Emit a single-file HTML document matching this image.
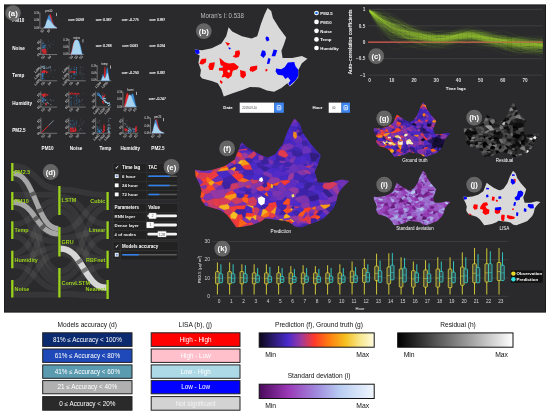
<!DOCTYPE html><html><head><meta charset="utf-8"><title>Dashboard</title><style>html,body{margin:0;padding:0;background:#fff;width:550px;height:415px;overflow:hidden;font-family:"Liberation Sans",sans-serif}.v polygon{fill:currentColor;stroke:currentColor;stroke-width:.6}</style></head><body><svg width="550" height="415" viewBox="0 0 550 415" font-family="Liberation Sans, sans-serif" style="position:absolute;left:0;top:0;opacity:0.999;will-change:transform;font-family:'Liberation Sans',sans-serif">
<defs><filter id="bl" x="-5%" y="-5%" width="110%" height="110%"><feGaussianBlur stdDeviation="0.4"/></filter></defs>
<rect x="0" y="0" width="550" height="415" fill="#fff"/>
<rect x="4" y="4.6" width="542" height="307.8" fill="#2a2a2c"/>
<rect x="4.4" y="5" width="541.2" height="307" fill="none" stroke="#1b1b1c" stroke-width="0.8"/>
<text x="12.3" y="22.2"  font-size="4.6" fill="#fff" text-anchor="start" font-weight="bold" >PM10</text>
<text x="47.6" y="150"  font-size="4.6" fill="#fff" text-anchor="middle" font-weight="bold" >PM10</text>
<text x="12.3" y="49.7"  font-size="4.6" fill="#fff" text-anchor="start" font-weight="bold" >Noise</text>
<text x="76" y="150"  font-size="4.6" fill="#fff" text-anchor="middle" font-weight="bold" >Noise</text>
<text x="12.3" y="77.2"  font-size="4.6" fill="#fff" text-anchor="start" font-weight="bold" >Temp</text>
<text x="105.4" y="150"  font-size="4.6" fill="#fff" text-anchor="middle" font-weight="bold" >Temp</text>
<text x="12.3" y="104.7"  font-size="4.6" fill="#fff" text-anchor="start" font-weight="bold" >Humidity</text>
<text x="130.3" y="150"  font-size="4.6" fill="#fff" text-anchor="middle" font-weight="bold" >Humidity</text>
<text x="12.3" y="131.7"  font-size="4.6" fill="#fff" text-anchor="start" font-weight="bold" >PM2.5</text>
<text x="158" y="150"  font-size="4.6" fill="#fff" text-anchor="middle" font-weight="bold" >PM2.5</text>
<path d="M39.9 12.6V28.2H57.2" stroke="#dcdcdc" stroke-width="0.4" fill="none"/>
<text x="48.85" y="12.4"  font-size="2.8" fill="#eee" text-anchor="middle" >pm10</text>
<text x="39.2" y="14.2"  font-size="2.7" fill="#e0e0e0" text-anchor="end" >0.1h</text>
<text x="39.2" y="21.4"  font-size="2.7" fill="#e0e0e0" text-anchor="end" >0.0h</text>
<text x="39.2" y="28.6"  font-size="2.7" fill="#e0e0e0" text-anchor="end" >0.0h</text>
<path d="M43.7 27.9 45.4 26.2 47.1 21.4 48.8 16.4 50.3 13.9 51.3 16.4 52.5 21.4 53.8 25 55.5 26.9 56.9 27.9Z" fill="#e3262b" stroke="#e3262b" stroke-width="0.3" stroke-linejoin="round"/>
<path d="M43.7 27.9 45.4 25.9 47.1 20 48.8 14.9 49.6 15.7 50.8 19.3 52.1 22.4 53.8 25.3 55.5 27 56.9 27.9Z" fill="#3b8fd6" stroke="#3b8fd6" stroke-width="0.3" stroke-linejoin="round"/>
<path d="M43.7 27.9 45.4 25.7 46.7 21.4 47.9 19.3 49.6 20.4 51.3 22.4 53 24.7 54.7 26.5 56.9 27.9Z" fill="#a8d4f0" stroke="#a8d4f0" stroke-width="0.3" stroke-linejoin="round"/>
<rect x="56" y="12.9" width="0.7" height="3.2" fill="#e0e0e0"/>
<text transform="translate(44.1,30.4) rotate(-45)"  font-size="3.1" fill="#f0f0f0" text-anchor="end">50</text>
<text transform="translate(50.6,30.4) rotate(-45)"  font-size="3.1" fill="#f0f0f0" text-anchor="end">50</text>
<text x="76.2" y="20.9"  font-size="3.3" fill="#fff" text-anchor="middle" stroke="#fff" stroke-width="0.1">corr: 0.059</text>
<text x="103.6" y="20.9"  font-size="3.3" fill="#fff" text-anchor="middle" stroke="#fff" stroke-width="0.1">corr: 0.387</text>
<text x="130.2" y="20.9"  font-size="3.3" fill="#fff" text-anchor="middle" stroke="#fff" stroke-width="0.1">corr: -0.275</text>
<text x="157.3" y="20.9"  font-size="3.3" fill="#fff" text-anchor="middle" stroke="#fff" stroke-width="0.1">corr: 0.997</text>
<path d="M40.9 38.9V54.5H57.2" stroke="#dcdcdc" stroke-width="0.4" fill="none"/>
<path d="M42.1 48.3h0.9M48.9 45.4h0.9M43 52.8h0.9M43 42.4h0.9M41.8 40.5h0.9M45.8 47.1h0.9M45 44.9h0.9M47.2 51.1h0.9M49.3 46.4h0.9M50.4 43.7h0.9M42.5 43.4h0.9M43.4 45.6h0.9M42 42.1h0.9M42.9 47h0.9M43.9 44h0.9M53.3 41.4h0.9M49.8 47.4h0.9M48 41.2h0.9M43.4 51.3h0.9M43.3 50.3h0.9M47.6 45.1h0.9M42.9 49.2h0.9M47.3 48.6h0.9M41.8 45.6h0.9M52.5 44.4h0.9" stroke="#a8d4f0" stroke-opacity="0.22499999999999998" stroke-width="0.9" fill="none"/>
<path d="M41.8 44.1h0.9M42.9 46.1h0.9M41.8 45h0.9M42.7 47.8h0.9M41.6 49.1h0.9M45.3 46.9h0.9M43.1 49.4h0.9M45.1 49.2h0.9M41.6 47.1h0.9M43.7 47.7h0.9M42.9 43.2h0.9M44.1 46.1h0.9M43 43.4h0.9M43.9 49.2h0.9M43.9 47.5h0.9M43.1 46.6h0.9M44.9 45.4h0.9M41.7 46.3h0.9M44.8 45.5h0.9M43.1 47.9h0.9M43.9 46h0.9M42 47.5h0.9M44.6 45.6h0.9M43.2 46.6h0.9M44.1 45.7h0.9M44 49.1h0.9M41.9 43.4h0.9M43.9 45.7h0.9M42.9 47.2h0.9M44 47.8h0.9" stroke="#3b8fd6" stroke-opacity="0.48750000000000004" stroke-width="0.9" fill="none"/>
<path d="M44.7 53h1.1M44.8 49.3h1.1M44.3 52.9h1.1M43.6 50.7h1.1M42.6 52h1.1M44.3 50.7h1.1M41.9 50.9h1.1M45.4 50.6h1.1M42.4 50h1.1M45.5 53.1h1.1M44.6 52.5h1.1M43.8 52.3h1.1M44.7 53.3h1.1M45.4 52.1h1.1M44.9 51h1.1M45.1 52h1.1M44.9 53.1h1.1M44 50.9h1.1M43.2 51.2h1.1M45 51.5h1.1M44.1 52.2h1.1M43.8 53.3h1.1M43.2 52.6h1.1M43.5 49.9h1.1M44.1 51.3h1.1M43.8 49.3h1.1M44.5 53.3h1.1M43.4 50.3h1.1M44.6 49.4h1.1M43.7 49.7h1.1M45 49.8h1.1M45.5 52.9h1.1M42.5 53.3h1.1M44.8 51.3h1.1M42.3 49.7h1.1M43.3 53.2h1.1M43.5 52.9h1.1M43.6 52.4h1.1M41.6 51.2h1.1M41.7 49.6h1.1" stroke="#e3262b" stroke-opacity="0.85" stroke-width="1.1" fill="none"/>
<text transform="translate(44.9,56.7) rotate(-45)"  font-size="3.1" fill="#f0f0f0" text-anchor="end">50</text>
<text transform="translate(51.4,56.7) rotate(-45)"  font-size="3.1" fill="#f0f0f0" text-anchor="end">50</text>
<text transform="translate(40.7,41.7) rotate(-45)"  font-size="3.1" fill="#f0f0f0" text-anchor="end">50</text>
<text transform="translate(40.7,47.9) rotate(-45)"  font-size="3.1" fill="#f0f0f0" text-anchor="end">50</text>
<text transform="translate(40.7,54.1) rotate(-45)"  font-size="3.1" fill="#f0f0f0" text-anchor="end">50</text>
<path d="M69.1 38.9V54.5H83.8" stroke="#dcdcdc" stroke-width="0.4" fill="none"/>
<text x="76.75" y="38.7"  font-size="2.8" fill="#eee" text-anchor="middle" >noise</text>
<text x="68.4" y="40.5"  font-size="2.7" fill="#e0e0e0" text-anchor="end" >0.1h</text>
<text x="68.4" y="47.7"  font-size="2.7" fill="#e0e0e0" text-anchor="end" >0.0h</text>
<text x="68.4" y="54.9"  font-size="2.7" fill="#e0e0e0" text-anchor="end" >0.0h</text>
<path d="M70.6 54.2 71.6 51.3 73.1 44.1 74.5 40.5 75.9 39.8 78.1 41.2 80.2 47 81.8 54.2Z" fill="#e3262b" stroke="#e3262b" stroke-width="0.3" stroke-linejoin="round"/>
<path d="M71.4 54.2 72.4 51.3 73.8 44.1 75.2 40.5 76.9 39.8 78.9 41 80.4 45.6 81.5 50.6 82.4 54.2Z" fill="#3b8fd6" stroke="#3b8fd6" stroke-width="0.3" stroke-linejoin="round"/>
<path d="M70.9 54.2 72.1 51.3 73.5 44.1 74.9 40.5 76.7 39.8 78.4 41 79.8 45.6 80.9 50.6 81.9 54.2Z" fill="#a8d4f0" stroke="#a8d4f0" stroke-width="0.3" stroke-linejoin="round"/>
<rect x="82.6" y="39.2" width="0.7" height="3.2" fill="#e0e0e0"/>
<text transform="translate(73.3,56.7) rotate(-45)"  font-size="3.1" fill="#f0f0f0" text-anchor="end">50</text>
<text transform="translate(78.1,56.7) rotate(-45)"  font-size="3.1" fill="#f0f0f0" text-anchor="end">50</text>
<text transform="translate(82.9,56.7) rotate(-45)"  font-size="3.1" fill="#f0f0f0" text-anchor="end">50</text>
<text x="103.6" y="47.2"  font-size="3.3" fill="#fff" text-anchor="middle" stroke="#fff" stroke-width="0.1">corr: 0.288</text>
<text x="130.2" y="47.2"  font-size="3.3" fill="#fff" text-anchor="middle" stroke="#fff" stroke-width="0.1">corr: 0.061</text>
<text x="157.3" y="47.2"  font-size="3.3" fill="#fff" text-anchor="middle" stroke="#fff" stroke-width="0.1">corr: 0.074</text>
<path d="M40.9 65.2V80.8H57.2" stroke="#dcdcdc" stroke-width="0.4" fill="none"/>
<path d="M50 68.2h0.9M49.8 67.2h0.9M49.9 66.5h0.9M44.4 68.2h0.9M42.7 66.3h0.9M43.9 67.8h0.9M43.7 66.3h0.9M48.4 67.3h0.9M48.7 67.1h0.9M47.5 67.9h0.9M45.8 67h0.9M42.9 67.7h0.9M41.7 66.5h0.9M46.2 68.4h0.9M47.5 68.4h0.9M42.6 66.7h0.9M41.6 67.2h0.9M44.1 68.3h0.9M41.7 67.5h0.9M44.4 67.9h0.9M43.9 66h0.9M43.6 68.5h0.9M42.5 66.7h0.9M43.1 68.4h0.9" stroke="#a8d4f0" stroke-opacity="0.5249999999999999" stroke-width="0.9" fill="none"/>
<path d="M42.8 76.1h0.9M42.3 74.8h0.9M42.5 79h0.9M41.8 74.9h0.9M41.7 74h0.9M42.5 76.4h0.9M43.8 79.2h0.9M41.7 75.2h0.9M42.3 73.7h0.9M41.6 79.1h0.9M42 77h0.9M42.8 73.2h0.9M41.8 78.4h0.9M42.4 74.2h0.9M43.8 73.4h0.9M42.5 78.5h0.9M41.7 77.1h0.9M43.3 74.3h0.9M41.9 76h0.9M41.6 75.6h0.9M42.5 75.3h0.9M42 73.6h0.9M42.3 76.9h0.9M41.6 78.5h0.9" stroke="#3b8fd6" stroke-opacity="0.6000000000000001" stroke-width="0.9" fill="none"/>
<path d="M42.1 72.2h1.1M42.1 71.7h1.1M44.2 70.4h1.1M47.2 72.1h1.1M43 71.6h1.1M45.6 71.2h1.1M43.9 72.4h1.1M43.5 71.5h1.1M42.7 71h1.1M41.5 72.2h1.1M42.9 71.3h1.1M42.4 72.4h1.1M46 72.6h1.1M44.4 71.8h1.1M43.2 70.9h1.1M44.2 71.2h1.1M42.2 72.1h1.1M43.3 71h1.1M43.8 71.4h1.1M44.2 71.4h1.1M42.8 72.1h1.1M41.5 71.9h1.1" stroke="#e3262b" stroke-opacity="0.95" stroke-width="1.1" fill="none"/>
<path d="M50.5 70.3h0.9M45.8 71.4h0.9M45.9 73.9h0.9M54.1 70.4h0.9M50 71.1h0.9M51.3 70.3h0.9M50.6 73.2h0.9M54.6 70h0.9M47.6 76.5h0.9M52.7 77.2h0.9" stroke="#a8d4f0" stroke-opacity="0.1875" stroke-width="0.9" fill="none"/>
<text transform="translate(44.9,83) rotate(-45)"  font-size="3.1" fill="#f0f0f0" text-anchor="end">50</text>
<text transform="translate(51.4,83) rotate(-45)"  font-size="3.1" fill="#f0f0f0" text-anchor="end">50</text>
<text transform="translate(40.7,68) rotate(-45)"  font-size="3.1" fill="#f0f0f0" text-anchor="end">1,000</text>
<text transform="translate(40.7,74.2) rotate(-45)"  font-size="3.1" fill="#f0f0f0" text-anchor="end">1,000</text>
<text transform="translate(40.7,80.4) rotate(-45)"  font-size="3.1" fill="#f0f0f0" text-anchor="end">1,000</text>
<path d="M68.9 65.2V80.8H85.7" stroke="#dcdcdc" stroke-width="0.4" fill="none"/>
<path d="M75.5 74.9h0.9M73.2 74.1h0.9M75.9 73.3h0.9M75.9 67.6h0.9M76.1 72.2h0.9M73.7 67h0.9M75.9 67.9h0.9M70.6 76.6h0.9M75.9 69.3h0.9M71.1 76.5h0.9M70.6 69.3h0.9M70.8 68.2h0.9M73.9 77.4h0.9M70.6 69.9h0.9M70.9 78.1h0.9M73.7 74.9h0.9M75.8 69.9h0.9M73.8 73.9h0.9M73.6 78.7h0.9M75.5 74.5h0.9M75.7 75.4h0.9M73.8 73.8h0.9M76 67.5h0.9M70.4 70.6h0.9M73.6 69.5h0.9M73.5 67h0.9M73.4 78.3h0.9M73.5 78.2h0.9M73.4 72.9h0.9M70.7 72.1h0.9M70.4 71h0.9M75.8 67.8h0.9M75.8 73.6h0.9M70.8 75.3h0.9M75.8 71h0.9M73.4 73.6h0.9M73.5 69.2h0.9M76.1 69.6h0.9M76 72h0.9M73.5 74.6h0.9" stroke="#3b8fd6" stroke-opacity="0.44999999999999996" stroke-width="0.9" fill="none"/>
<path d="M74.8 71.8h0.9M69.8 72.3h0.9M74.2 72h0.9M71.7 72.2h0.9M72.8 71.7h0.9M74.2 72.4h0.9M70.2 71.5h0.9M71.1 71.9h0.9M74.2 71.9h0.9M73.9 71.9h0.9M72 71.8h0.9M74 71.8h0.9M73.1 72.6h0.9M70.4 72.2h0.9M72.7 71.9h0.9M73 71.9h0.9" stroke="#e3262b" stroke-opacity="0.9" stroke-width="0.9" fill="none"/>
<path d="M81.8 78.9h0.9M82 68.1h0.9M83.4 74.5h0.9M79.5 72h0.9M80.3 67h0.9M80.8 75.5h0.9M82.6 73.2h0.9M80 70.1h0.9M74.1 69.6h0.9M80.6 73.1h0.9M79.2 73.5h0.9M76 72.6h0.9M74.4 73h0.9M80.4 73.7h0.9M79.7 67.2h0.9M82.9 77.6h0.9" stroke="#a8d4f0" stroke-opacity="0.22499999999999998" stroke-width="0.9" fill="none"/>
<text transform="translate(72.9,83) rotate(-45)"  font-size="3.1" fill="#f0f0f0" text-anchor="end">50</text>
<text transform="translate(79.4,83) rotate(-45)"  font-size="3.1" fill="#f0f0f0" text-anchor="end">50</text>
<text transform="translate(68.7,68) rotate(-45)"  font-size="3.1" fill="#f0f0f0" text-anchor="end">1,000</text>
<text transform="translate(68.7,74.2) rotate(-45)"  font-size="3.1" fill="#f0f0f0" text-anchor="end">1,000</text>
<text transform="translate(68.7,80.4) rotate(-45)"  font-size="3.1" fill="#f0f0f0" text-anchor="end">1,000</text>
<path d="M97.2 65.2V80.8H111.3" stroke="#dcdcdc" stroke-width="0.4" fill="none"/>
<text x="104.55" y="65"  font-size="2.8" fill="#eee" text-anchor="middle" >temp</text>
<text x="96.5" y="66.8"  font-size="2.7" fill="#e0e0e0" text-anchor="end" >0.1h</text>
<text x="96.5" y="74"  font-size="2.7" fill="#e0e0e0" text-anchor="end" >0.0h</text>
<text x="96.5" y="81.2"  font-size="2.7" fill="#e0e0e0" text-anchor="end" >0.0h</text>
<path d="M103.4 80.5 104 76.2 104.6 68.3 104.9 66.4 105.3 69 105.8 76.9 106.4 80.5Z" fill="#e3262b" stroke="#e3262b" stroke-width="0.3" stroke-linejoin="round"/>
<path d="M101 80.5 102 77.6 102.9 74 103.8 76.9 104.7 79.1 105.8 76.2 106.6 69.7 107.2 67.3 107.9 70.4 108.6 76.2 109.4 80.5Z" fill="#3b8fd6" stroke="#3b8fd6" stroke-width="0.3" stroke-linejoin="round"/>
<path d="M101.4 80.5 102.5 77.6 103.4 76.2 104.5 78.8 105.8 77.6 106.9 74 107.6 73 108.6 76.9 109.4 80.5Z" fill="#a8d4f0" stroke="#a8d4f0" stroke-width="0.3" stroke-linejoin="round"/>
<rect x="110.1" y="65.5" width="0.7" height="3.2" fill="#e0e0e0"/>
<text transform="translate(101.4,83) rotate(-45)"  font-size="3.1" fill="#f0f0f0" text-anchor="end">1,000</text>
<text transform="translate(107.9,83) rotate(-45)"  font-size="3.1" fill="#f0f0f0" text-anchor="end">1,000</text>
<text x="130.2" y="73.5"  font-size="3.3" fill="#fff" text-anchor="middle" stroke="#fff" stroke-width="0.1">corr: -0.250</text>
<text x="157.3" y="73.5"  font-size="3.3" fill="#fff" text-anchor="middle" stroke="#fff" stroke-width="0.1">corr: 0.392</text>
<path d="M40.9 91.5V107.1H57.2" stroke="#dcdcdc" stroke-width="0.4" fill="none"/>
<path d="M43.4 94.8h1.1M45.1 94.3h1.1M42.3 95.1h1.1M42.6 97h1.1M43 95.9h1.1M46.3 95.3h1.1M42.8 94.4h1.1M44.3 93.9h1.1M43.4 95.1h1.1M43.9 94.4h1.1M47.2 94.5h1.1M43.7 95.1h1.1M44.5 94.9h1.1M42 94.6h1.1M42.3 94.6h1.1M44.1 95.4h1.1M44.6 96.2h1.1M43.3 95.4h1.1M44.3 95.1h1.1M44.2 94.3h1.1M46.6 95.3h1.1M44 95.8h1.1M43.9 95.6h1.1M42.6 94.5h1.1M41.5 95h1.1M42.9 95.6h1.1M41.9 95h1.1M43.1 95.5h1.1" stroke="#e3262b" stroke-opacity="0.95" stroke-width="1.1" fill="none"/>
<path d="M42.3 101.3h0.9M42.5 99h0.9M42.4 101.1h0.9M43.9 99.4h0.9M41.8 98h0.9M43.6 99.5h0.9M42.2 101.3h0.9M43 100.9h0.9M41.8 99.1h0.9M43.1 99.7h0.9M44.1 100.8h0.9M44.9 100.1h0.9M42.6 97.5h0.9M46.5 99.9h0.9M42.6 100.2h0.9M41.9 98.3h0.9M45.5 99.7h0.9M44.3 96.7h0.9M43.4 98.5h0.9M42 101h0.9M41.5 100.6h0.9M42.2 98.2h0.9M41.7 97h0.9M43.3 99.1h0.9" stroke="#3b8fd6" stroke-opacity="0.5249999999999999" stroke-width="0.9" fill="none"/>
<path d="M52.8 100.4h0.9M50.6 104.7h0.9M46.7 103.2h0.9M49.9 104.4h0.9M48.1 103.3h0.9M42.8 102.7h0.9M43.3 103h0.9M45.8 103.9h0.9M50.7 100.8h0.9M42.3 101.8h0.9M49.8 99.7h0.9M44.5 103.6h0.9M45 100.5h0.9M45 103.9h0.9M41.9 100.9h0.9M47 102.7h0.9M45.8 102.2h0.9M45.4 104.8h0.9M47.2 102.3h0.9M41.9 104.4h0.9M48.1 103.6h0.9M45 100h0.9" stroke="#a8d4f0" stroke-opacity="0.375" stroke-width="0.9" fill="none"/>
<path d="M45.4 103.8h0.9M45 104.1h0.9M46.2 104.9h0.9M45.8 104.8h0.9M46 103.6h0.9" stroke="#e3262b" stroke-opacity="0.9" stroke-width="0.9" fill="none"/>
<text transform="translate(44.9,109.3) rotate(-45)"  font-size="3.1" fill="#f0f0f0" text-anchor="end">50</text>
<text transform="translate(51.4,109.3) rotate(-45)"  font-size="3.1" fill="#f0f0f0" text-anchor="end">50</text>
<text transform="translate(40.7,94.3) rotate(-45)"  font-size="3.1" fill="#f0f0f0" text-anchor="end">50</text>
<text transform="translate(40.7,100.5) rotate(-45)"  font-size="3.1" fill="#f0f0f0" text-anchor="end">50</text>
<text transform="translate(40.7,106.7) rotate(-45)"  font-size="3.1" fill="#f0f0f0" text-anchor="end">50</text>
<path d="M68.9 91.5V107.1H85.7" stroke="#dcdcdc" stroke-width="0.4" fill="none"/>
<path d="M70.6 100.8h0.9M73.7 103.2h0.9M71.1 104.4h0.9M70.7 104.7h0.9M76 99.5h0.9M78.6 100.2h0.9M75.9 103.8h0.9M73.4 98.8h0.9M70.8 105.7h0.9M70.6 103.7h0.9M76.1 103.4h0.9M70.8 98.6h0.9M75.7 97h0.9M76 96.3h0.9M78.7 99.8h0.9M78.5 102.5h0.9M70.7 97.3h0.9M76 101.1h0.9M70.6 101.9h0.9M70.6 102.1h0.9M78.5 102.3h0.9M73.7 97.6h0.9M78.8 101.2h0.9M73.5 95.5h0.9M78.3 101.3h0.9M70.7 102.6h0.9M70.7 97.6h0.9M76 100.2h0.9M70.7 97.4h0.9M75.8 100.3h0.9M70.5 97.3h0.9M76.1 104.4h0.9M78.6 105.1h0.9M73.8 100.4h0.9M76.4 95.8h0.9M75.8 95.1h0.9M78.5 99.9h0.9M73.8 101.8h0.9M75.8 95.7h0.9M76.1 97.3h0.9" stroke="#3b8fd6" stroke-opacity="0.375" stroke-width="0.9" fill="none"/>
<path d="M78 93.8h0.9M75.2 93.7h0.9M70.9 92.7h0.9M69.5 93.6h0.9M78.5 93.6h0.9M78.3 94.1h0.9M72.8 94.2h0.9M71.7 93.9h0.9M72 93h0.9M75 94.2h0.9M76.9 94h0.9M75.6 93.6h0.9M74 93.8h0.9M69.8 94.1h0.9M69.8 93.4h0.9M76.4 93.7h0.9M74.6 93h0.9M77.2 93.9h0.9M73.3 93.7h0.9M70.7 94.1h0.9" stroke="#e3262b" stroke-opacity="0.9" stroke-width="0.9" fill="none"/>
<path d="M74.2 105h0.9M78.9 104.8h0.9M82.1 99.8h0.9M79.2 96.1h0.9M82.6 93.3h0.9M79.2 100.9h0.9M80.3 101.9h0.9M74.8 103.8h0.9M82.3 104.3h0.9M81.7 100h0.9M76.8 102.4h0.9M76.9 98.9h0.9" stroke="#a8d4f0" stroke-opacity="0.22499999999999998" stroke-width="0.9" fill="none"/>
<text transform="translate(72.9,109.3) rotate(-45)"  font-size="3.1" fill="#f0f0f0" text-anchor="end">50</text>
<text transform="translate(79.4,109.3) rotate(-45)"  font-size="3.1" fill="#f0f0f0" text-anchor="end">50</text>
<text transform="translate(68.7,94.3) rotate(-45)"  font-size="3.1" fill="#f0f0f0" text-anchor="end">50</text>
<text transform="translate(68.7,100.5) rotate(-45)"  font-size="3.1" fill="#f0f0f0" text-anchor="end">50</text>
<text transform="translate(68.7,106.7) rotate(-45)"  font-size="3.1" fill="#f0f0f0" text-anchor="end">50</text>
<path d="M95.7 91.5V107.1H111.2" stroke="#dcdcdc" stroke-width="0.4" fill="none"/>
<path d="M101.1 97.5h1M100.4 96.9h1M98.4 93.3h1M98.7 95.4h1M99 94.9h1M97.5 93.6h1M102.8 98.9h1M100 95.4h1M97.1 94.8h1M102.6 98.9h1M103.1 98.3h1M99.3 95.9h1M101.8 98.9h1M96.9 93h1M98.2 95.5h1M101.4 97.8h1M101 98.3h1M99.8 96.4h1M103.7 97h1M102.4 98.6h1M102.1 99.4h1M97.5 95h1M103.2 101.2h1M104.3 98.5h1M102.1 95.3h1M100.2 97.8h1M98.8 94.5h1M100.4 96.4h1M97.9 95.3h1M102 99.6h1M100.3 96.4h1M99.6 96h1M97.9 93.7h1M101.7 97.2h1" stroke="#3b8fd6" stroke-opacity="0.85" stroke-width="1" fill="none"/>
<path d="M103.5 100.3h1M103.7 100.7h1M104.1 100.3h1M103.9 98.7h1M102.7 99.2h1M104.7 101h1M105.4 102.6h1M109.4 104.5h1M102.6 98.3h1M106.1 102.4h1M103 96.8h1M103.3 98.7h1M108.8 102.7h1M106.4 102.6h1M108.8 103.4h1M106.5 102.7h1M104.8 101.4h1M105.4 102.2h1M108.1 103.3h1M108 105.5h1M104.7 102.4h1M104.9 98.6h1M108.7 105.4h1M102.9 100.1h1M107.1 103.5h1M103.7 101h1M103.4 98.3h1M105.3 102h1M107.7 103.2h1M106.8 103.8h1" stroke="#a8d4f0" stroke-opacity="0.8" stroke-width="1" fill="none"/>
<path d="M102.4 102.5h0.9M102.9 99.6h0.9M102.2 98h0.9M102.4 96.6h0.9M102.6 101h0.9M102.1 96.8h0.9M102.1 101.6h0.9M103.2 103h0.9M102.4 93.1h0.9M102.4 96.3h0.9M102.6 101.9h0.9M102.9 103.6h0.9" stroke="#e3262b" stroke-opacity="0.95" stroke-width="0.9" fill="none"/>
<path d="M103.7 96.5h0.9M104.7 94.6h0.9M102.7 97h0.9M103.9 95.4h0.9M103.5 96h0.9M103.9 96.2h0.9" stroke="#e3262b" stroke-opacity="0.95" stroke-width="0.9" fill="none"/>
<text transform="translate(99.7,109.3) rotate(-45)"  font-size="3.1" fill="#f0f0f0" text-anchor="end">1,000</text>
<text transform="translate(105.1,109.3) rotate(-45)"  font-size="3.1" fill="#f0f0f0" text-anchor="end">1,000</text>
<text transform="translate(110.5,109.3) rotate(-45)"  font-size="3.1" fill="#f0f0f0" text-anchor="end">1,000</text>
<text transform="translate(95.5,94.3) rotate(-45)"  font-size="3.1" fill="#f0f0f0" text-anchor="end">50</text>
<text transform="translate(95.5,100.5) rotate(-45)"  font-size="3.1" fill="#f0f0f0" text-anchor="end">50</text>
<text transform="translate(95.5,106.7) rotate(-45)"  font-size="3.1" fill="#f0f0f0" text-anchor="end">50</text>
<path d="M122.9 91.5V107.1H137.2" stroke="#dcdcdc" stroke-width="0.4" fill="none"/>
<text x="130.35" y="91.3"  font-size="2.8" fill="#eee" text-anchor="middle" >humi</text>
<text x="122.2" y="93.1"  font-size="2.7" fill="#e0e0e0" text-anchor="end" >0.1h</text>
<text x="122.2" y="100.3"  font-size="2.7" fill="#e0e0e0" text-anchor="end" >0.0h</text>
<text x="122.2" y="107.5"  font-size="2.7" fill="#e0e0e0" text-anchor="end" >0.0h</text>
<path d="M124 106.8 125 102.5 126.1 95.3 127.2 92.8 128.3 94.6 129.6 99.6 130.9 103.9 132.3 106.8Z" fill="#e3262b" stroke="#e3262b" stroke-width="0.3" stroke-linejoin="round"/>
<path d="M127.5 106.8 129.1 102.5 130.5 97.4 131.6 94.6 132.6 93.6 133.7 96 134.7 101 135.8 105.4 136.5 106.8Z" fill="#3b8fd6" stroke="#3b8fd6" stroke-width="0.3" stroke-linejoin="round"/>
<path d="M124.7 106.8 126.1 103.9 127.5 99.6 128.9 95.3 130 94.7 131.1 96.1 132.2 98.9 133.3 101.8 134.4 104.6 135.8 106.8Z" fill="#a8d4f0" stroke="#a8d4f0" stroke-width="0.3" stroke-linejoin="round"/>
<rect x="136" y="91.8" width="0.7" height="3.2" fill="#e0e0e0"/>
<text transform="translate(127.1,109.3) rotate(-45)"  font-size="3.1" fill="#f0f0f0" text-anchor="end">50</text>
<text transform="translate(131.9,109.3) rotate(-45)"  font-size="3.1" fill="#f0f0f0" text-anchor="end">50</text>
<text transform="translate(136.7,109.3) rotate(-45)"  font-size="3.1" fill="#f0f0f0" text-anchor="end">50</text>
<text x="157.3" y="99.8"  font-size="3.3" fill="#fff" text-anchor="middle" stroke="#fff" stroke-width="0.1">corr: -0.247</text>
<path d="M40.9 117.7V133.3H57.2" stroke="#dcdcdc" stroke-width="0.4" fill="none"/>
<line x1="41.4" y1="132.8" x2="48.4" y2="125.7" stroke="#e3262b" stroke-width="1"/>
<line x1="48.4" y1="125.7" x2="53.7" y2="120.5" stroke="#b8c4d0" stroke-width="0.6"/>
<text transform="translate(44.9,135.5) rotate(-45)"  font-size="3.1" fill="#f0f0f0" text-anchor="end">50</text>
<text transform="translate(51.4,135.5) rotate(-45)"  font-size="3.1" fill="#f0f0f0" text-anchor="end">50</text>
<text transform="translate(40.7,120.5) rotate(-45)"  font-size="3.1" fill="#f0f0f0" text-anchor="end">50</text>
<text transform="translate(40.7,126.7) rotate(-45)"  font-size="3.1" fill="#f0f0f0" text-anchor="end">50</text>
<text transform="translate(40.7,132.9) rotate(-45)"  font-size="3.1" fill="#f0f0f0" text-anchor="end">50</text>
<path d="M68.9 117.7V133.3H85.7" stroke="#dcdcdc" stroke-width="0.4" fill="none"/>
<path d="M75.5 125.2h0.9M72.1 127.8h0.9M76 121h0.9M73.5 128.2h0.9M73.4 125.2h0.9M70.3 123.4h0.9M71.8 127.8h0.9M70.3 127.1h0.9M70.3 126.6h0.9M70.4 123.8h0.9M73.3 121.3h0.9M71.7 124.6h0.9M69.8 126.4h0.9M71.8 120.8h0.9M73.5 126.8h0.9M70.2 124.7h0.9M73.4 120h0.9M76 126h0.9M76 123.4h0.9M73.9 124.6h0.9M70.1 120.9h0.9M70 124.6h0.9M73.6 124.3h0.9M75.9 123h0.9M70.3 124.8h0.9M71.6 120.9h0.9M71.5 127.9h0.9M69.9 120.7h0.9M71.7 126.3h0.9M75.8 121.4h0.9M75.8 122.7h0.9M72.3 126.6h0.9M73.5 123.4h0.9M73.8 123.1h0.9" stroke="#3b8fd6" stroke-opacity="0.375" stroke-width="0.9" fill="none"/>
<path d="M71.7 128.7h1.1M75 128.3h1.1M74 131.3h1.1M69.9 130.2h1.1M71.4 131.3h1.1M74.8 131.2h1.1M74.5 127.9h1.1M70.2 128h1.1M71.9 131.2h1.1M70.6 132h1.1M72.5 130.4h1.1M74.7 128.4h1.1M69.8 130.4h1.1M71.9 131.4h1.1M71 131h1.1M73.7 130.6h1.1M70.2 131.2h1.1M72.2 129.6h1.1M71 129h1.1M70.8 129.1h1.1M73.2 131.4h1.1M74.1 130.4h1.1M72.8 129.5h1.1M73.3 130.2h1.1M69.8 128.6h1.1M74.7 130h1.1M73 131h1.1M75 129.1h1.1M70.8 128.4h1.1M75.5 130.6h1.1M75.6 130h1.1M70.6 128.9h1.1M71.6 128.8h1.1M73 131.7h1.1M72.7 128.3h1.1M72.4 129.7h1.1M74.7 130.2h1.1M72.5 129.5h1.1M74.5 131.3h1.1M70.1 128.7h1.1" stroke="#e3262b" stroke-opacity="0.85" stroke-width="1.1" fill="none"/>
<path d="M80.2 128.5h0.9M83 121.3h0.9M80.1 120h0.9M82.6 123h0.9M78 132.1h0.9M81.3 123.2h0.9M78.5 126.3h0.9M80.3 129.1h0.9M81.4 125.3h0.9M78.8 130.9h0.9M80.2 128.3h0.9M81.6 130.1h0.9M78.9 129.8h0.9M79 125.1h0.9" stroke="#a8d4f0" stroke-opacity="0.22499999999999998" stroke-width="0.9" fill="none"/>
<text transform="translate(72.9,135.5) rotate(-45)"  font-size="3.1" fill="#f0f0f0" text-anchor="end">50</text>
<text transform="translate(79.4,135.5) rotate(-45)"  font-size="3.1" fill="#f0f0f0" text-anchor="end">50</text>
<text transform="translate(68.7,120.5) rotate(-45)"  font-size="3.1" fill="#f0f0f0" text-anchor="end">50</text>
<text transform="translate(68.7,126.7) rotate(-45)"  font-size="3.1" fill="#f0f0f0" text-anchor="end">50</text>
<text transform="translate(68.7,132.9) rotate(-45)"  font-size="3.1" fill="#f0f0f0" text-anchor="end">50</text>
<path d="M95.7 117.7V133.3H111.2" stroke="#dcdcdc" stroke-width="0.4" fill="none"/>
<path d="M97.1 129.5h0.9M97.5 131.4h0.9M98.9 131.9h0.9M99 131.4h0.9M100.8 130.2h0.9M98.4 130h0.9M96.9 132.1h0.9M100.9 130.1h0.9M97.1 129.5h0.9M98.6 131.5h0.9M97.8 130.8h0.9M99.2 132.1h0.9M98.9 131.9h0.9M101.1 130.6h0.9M100.2 131.9h0.9M97 126.5h0.9M99.8 132.5h0.9M98.7 130.5h0.9M101 130.3h0.9M97.3 128.3h0.9M99.6 132.1h0.9M98.3 129.2h0.9M100.6 132.4h0.9M99.7 129.2h0.9M98.5 131.8h0.9M99.1 130.5h0.9M99.3 131.8h0.9M97.4 131.9h0.9M99.5 131.4h0.9M98.9 127.9h0.9" stroke="#3b8fd6" stroke-opacity="0.6000000000000001" stroke-width="0.9" fill="none"/>
<path d="M104.2 126.9h1.1M103 129.6h1.1M103.8 126.8h1.1M103.4 125.4h1.1M103.3 125h1.1M103.5 126.8h1.1M102.5 131.3h1.1M103.3 128.3h1.1M102.9 131.3h1.1M102.7 131.4h1.1M102.5 131.4h1.1M102.5 132.4h1.1M104 129.5h1.1M103.7 129h1.1M103.9 130.5h1.1M103.2 127.1h1.1M103.6 127.1h1.1M103.3 131.2h1.1M103.8 130h1.1M103.4 125h1.1" stroke="#e3262b" stroke-opacity="0.9" stroke-width="1.1" fill="none"/>
<path d="M109.7 125.7h0.9M107.4 125.2h0.9M107.4 129.3h0.9M108.3 128.5h0.9M107.1 129.2h0.9M108.2 128.7h0.9M108.2 131.1h0.9M108.1 125h0.9M107.5 130.1h0.9M108.5 131.1h0.9M109.3 131.6h0.9M108.9 124.8h0.9M108.4 121.9h0.9M107.5 127h0.9M108.4 124.9h0.9M107.9 130.1h0.9M109.9 128.2h0.9M108.1 132.5h0.9M109.5 128.8h0.9M107.9 127.8h0.9M110.2 118.5h0.9M108.9 127.3h0.9M109 132.5h0.9M107.6 132.5h0.9M108.6 118.5h0.9M108.4 132h0.9M108.5 132.4h0.9M108.1 120.2h0.9M108.7 131.4h0.9M108.2 127.7h0.9M107.8 131.6h0.9M108.4 129.3h0.9M108.3 130.6h0.9M108.8 132.1h0.9" stroke="#a8d4f0" stroke-opacity="0.48750000000000004" stroke-width="0.9" fill="none"/>
<path d="M100.3 126.7h0.9M97.3 122h0.9M98.8 121.8h0.9M98.8 123h0.9M97.3 122.6h0.9M98.8 120.2h0.9M97 127.7h0.9M99.3 120.5h0.9" stroke="#a8d4f0" stroke-opacity="0.22499999999999998" stroke-width="0.9" fill="none"/>
<text transform="translate(99.7,135.5) rotate(-45)"  font-size="3.1" fill="#f0f0f0" text-anchor="end">1,000</text>
<text transform="translate(105.1,135.5) rotate(-45)"  font-size="3.1" fill="#f0f0f0" text-anchor="end">1,000</text>
<text transform="translate(110.5,135.5) rotate(-45)"  font-size="3.1" fill="#f0f0f0" text-anchor="end">1,000</text>
<text transform="translate(95.5,120.5) rotate(-45)"  font-size="3.1" fill="#f0f0f0" text-anchor="end">50</text>
<text transform="translate(95.5,126.7) rotate(-45)"  font-size="3.1" fill="#f0f0f0" text-anchor="end">50</text>
<text transform="translate(95.5,132.9) rotate(-45)"  font-size="3.1" fill="#f0f0f0" text-anchor="end">50</text>
<path d="M123 117.7V133.3H138.3" stroke="#dcdcdc" stroke-width="0.4" fill="none"/>
<path d="M125.5 130h1.1M125.4 130.7h1.1M125.7 129.9h1.1M125 129.8h1.1M126.7 129.7h1.1M124.9 128.8h1.1M125.2 130.5h1.1M127.5 130.8h1.1M125.7 129.5h1.1M124.1 129h1.1M124.8 130.7h1.1M124.8 130.3h1.1M124.6 129.3h1.1M125.8 129.4h1.1M124.9 128.9h1.1M125.2 130.4h1.1" stroke="#e3262b" stroke-opacity="0.9" stroke-width="1.1" fill="none"/>
<path d="M130.2 128.1h0.9M133 131.4h0.9M129.6 132.2h0.9M128.3 130.3h0.9M128.4 131.2h0.9M132.1 128.9h0.9M132.8 128.7h0.9M130.6 129.6h0.9M129.7 129.5h0.9M128.1 132.4h0.9M129.9 129.8h0.9M134.5 129h0.9M128.1 128.6h0.9M132.7 129.3h0.9M135.1 129.4h0.9M134.3 128.8h0.9M127.4 126.9h0.9M128.9 128.7h0.9M134 130h0.9M127.6 130.8h0.9M128.3 131.1h0.9M129.2 129.9h0.9M130.3 130.6h0.9M126.5 131.6h0.9M134.8 131.4h0.9M135 130h0.9M128.9 127.5h0.9M128.5 129.5h0.9M128.3 130.6h0.9M134.4 131.7h0.9" stroke="#a8d4f0" stroke-opacity="0.48750000000000004" stroke-width="0.9" fill="none"/>
<path d="M129.8 132.1h0.9M131.1 131.4h0.9M131.2 130.9h0.9M129.5 131.3h0.9M132.9 129.9h0.9M132.8 131.4h0.9M128.1 132.5h0.9M128.7 131.4h0.9M133.7 129.4h0.9M131.1 130.4h0.9M128.4 132h0.9M133.3 132.2h0.9M129.3 131.5h0.9M128.9 128.6h0.9" stroke="#3b8fd6" stroke-opacity="0.6000000000000001" stroke-width="0.9" fill="none"/>
<path d="M135.7 127.8h1.1M135.2 131.8h1.1M135.7 130.1h1.1M135.1 127.9h1.1M135.1 131.6h1.1M135.2 128.5h1.1M136.2 130.1h1.1M135.5 131.3h1.1M135.3 130.3h1.1M135.6 128.7h1.1M135.1 130.5h1.1M135.6 129.1h1.1M135.5 127.1h1.1M134.9 129.1h1.1M135.6 126.6h1.1M135.6 129.1h1.1" stroke="#e3262b" stroke-opacity="0.9" stroke-width="1.1" fill="none"/>
<path d="M124.9 123.6h0.9M126.5 124.9h0.9M124.8 125h0.9M123.6 123.3h0.9M125.2 123.8h0.9M125.1 124h0.9M126.1 126.6h0.9M127 127.3h0.9M126.6 126.7h0.9M126.3 125.9h0.9M123.9 123.4h0.9M126.5 120.6h0.9" stroke="#a8d4f0" stroke-opacity="0.22499999999999998" stroke-width="0.9" fill="none"/>
<text transform="translate(127,135.5) rotate(-45)"  font-size="3.1" fill="#f0f0f0" text-anchor="end">50</text>
<text transform="translate(132.4,135.5) rotate(-45)"  font-size="3.1" fill="#f0f0f0" text-anchor="end">50</text>
<text transform="translate(137.8,135.5) rotate(-45)"  font-size="3.1" fill="#f0f0f0" text-anchor="end">50</text>
<text transform="translate(122.8,120.5) rotate(-45)"  font-size="3.1" fill="#f0f0f0" text-anchor="end">50</text>
<text transform="translate(122.8,126.7) rotate(-45)"  font-size="3.1" fill="#f0f0f0" text-anchor="end">50</text>
<text transform="translate(122.8,132.9) rotate(-45)"  font-size="3.1" fill="#f0f0f0" text-anchor="end">50</text>
<path d="M150.5 117.7V133.3H164.5" stroke="#dcdcdc" stroke-width="0.4" fill="none"/>
<text x="157.8" y="117.5"  font-size="2.8" fill="#eee" text-anchor="middle" >pm25</text>
<text x="149.8" y="119.3"  font-size="2.7" fill="#e0e0e0" text-anchor="end" >0.1h</text>
<text x="149.8" y="126.5"  font-size="2.7" fill="#e0e0e0" text-anchor="end" >0.0h</text>
<text x="149.8" y="133.7"  font-size="2.7" fill="#e0e0e0" text-anchor="end" >0.0h</text>
<path d="M152 133 153.1 130.8 154.3 125.1 155.4 120.3 156.3 118.9 157.3 121.5 158.4 126.5 159.7 130.1 161.8 132 163.8 133Z" fill="#e3262b" stroke="#e3262b" stroke-width="0.3" stroke-linejoin="round"/>
<path d="M152 133 153.1 130.4 154.3 124.1 155.3 120 155.9 119.8 156.9 123.6 158 127.5 159.3 130.4 161.8 132.1 163.8 133Z" fill="#3b8fd6" stroke="#3b8fd6" stroke-width="0.3" stroke-linejoin="round"/>
<path d="M152 133 153.1 130.4 154.2 125.8 155 123.5 156.1 124.4 157.4 127.2 159.1 130.1 161.1 131.8 163.8 133Z" fill="#a8d4f0" stroke="#a8d4f0" stroke-width="0.3" stroke-linejoin="round"/>
<rect x="163.3" y="118" width="0.7" height="3.2" fill="#e0e0e0"/>
<text transform="translate(154.7,135.5) rotate(-45)"  font-size="3.1" fill="#f0f0f0" text-anchor="end">50</text>
<text transform="translate(161.2,135.5) rotate(-45)"  font-size="3.1" fill="#f0f0f0" text-anchor="end">50</text>
<circle cx="13" cy="13.1" r="7.8" fill="#686868" fill-opacity="0.95"/>
<text x="13" y="15.75"  font-size="7.8" font-weight="bold" fill="#fff" text-anchor="middle">(a)</text>
<polygon points="228.6,27.3 232.2,31.4 241.9,36.2 251.5,38.6 257.2,36.2 260.9,24.1 264.5,14.5 267.6,8 271.2,10.9 272.9,18.1 279,27.8 286.2,37.4 283.8,44.7 281.4,50.7 282.6,57.9 292.2,57.9 301.9,56 307.4,58.7 301.9,63.2 298.3,70 298.3,77.2 293.4,83.3 289.8,86.4 287.4,83.3 281.4,88.1 274.1,91.7 266.9,90.5 259.7,87.4 250,86.9 243.1,89.8 233.4,92.9 223.8,96.5 221.4,89.3 217.8,83.3 211.7,80.9 202.1,78.4 200.1,76 200.9,70 198.4,62.8 199.7,55.5 195.3,53.1 194.8,49.5 202.1,50.2 211.7,48.3 221.4,43.4 226.2,36.2" fill="#d9d9d9"/>
<clipPath id="cb"><polygon points="228.6,27.3 232.2,31.4 241.9,36.2 251.5,38.6 257.2,36.2 260.9,24.1 264.5,14.5 267.6,8 271.2,10.9 272.9,18.1 279,27.8 286.2,37.4 283.8,44.7 281.4,50.7 282.6,57.9 292.2,57.9 301.9,56 307.4,58.7 301.9,63.2 298.3,70 298.3,77.2 293.4,83.3 289.8,86.4 287.4,83.3 281.4,88.1 274.1,91.7 266.9,90.5 259.7,87.4 250,86.9 243.1,89.8 233.4,92.9 223.8,96.5 221.4,89.3 217.8,83.3 211.7,80.9 202.1,78.4 200.1,76 200.9,70 198.4,62.8 199.7,55.5 195.3,53.1 194.8,49.5 202.1,50.2 211.7,48.3 221.4,43.4 226.2,36.2"/></clipPath><g clip-path="url(#cb)">
<polygon points="225.2,41.9 230.1,43.6 227.7,45.9" fill="#ff0000"/>
<polygon points="235.4,50.9 239.4,50.3 240.1,53.6 238.8,56.9 235.4,57.8 232.5,56.2 234.8,54.9" fill="#ff0000"/>
<polygon points="201.6,58.9 206.3,58.6 206,62.2 202.9,64.4 199.4,63.9 200.3,60.9" fill="#ff0000"/>
<polygon points="209.6,62.9 214.9,62.2 214.2,66.2 212.9,70.1 209.6,70.1 208.3,66.8" fill="#ff0000"/>
<polygon points="219.5,57.8 224.8,62.2 228.8,63.5 234.1,62.9 238.8,66.8 237.4,69.2 232.8,70.8 231.5,76.1 228.1,78.8 224.8,76.8 221.5,77.4 223.2,73.5 222.8,70.8 218.9,70.5 218.9,68.2 221.5,67.5 220.2,63.5" fill="#ff0000"/>
<polygon points="240.1,70.1 245.4,71.5 246.1,75.5 243.4,78.5 240.5,76.8" fill="#ff0000"/>
<polygon points="250.7,66.8 257.3,65.5 256.7,69.7 252.7,71.9 249.4,69.7" fill="#ff0000"/>
<polygon points="220.2,80.1 222.8,82.1 221.5,84.1 219.9,82.1" fill="#ff0000"/>
<polygon points="250,67.2 255.9,65.8 257.6,68 254.2,70.5 250,71.4" fill="#ff0000"/>
<polygon points="265.5,69.2 267.2,68.8 267.4,70.9 265.5,71.4" fill="#ff0000"/>
<polygon points="228.5,47.2 230.8,48 230.1,49.6 228.8,48.9" fill="#0000ff"/>
<polygon points="195,49.6 199,48.9 199.6,53.6 196.3,54.2 194.3,52.2" fill="#0000ff"/>
<polygon points="266,36.5 268.5,37.1 269.4,40.2 266.9,41.4 265.5,38.8" fill="#0000ff"/>
<polygon points="262.1,50.3 265.2,51.1 266,54.5 263.5,57.9 260.5,55.4" fill="#0000ff"/>
<polygon points="273.6,49.5 277.3,50.3 275.3,56.2 271.6,56.2" fill="#0000ff"/>
<polygon points="268.2,57.9 270.6,58.7 269.4,63.8 266.9,64.1" fill="#0000ff"/>
<polygon points="276.1,68.5 281.2,69.2 284.6,67.2 287.9,62.4 294.2,62.1 295.5,66.3 298.9,70.5 298.6,75.6 295.5,80.6 291.3,84 289.6,86 288.4,83.2 290.5,80.6 287.9,77.3 285.4,79 282.9,75.6 277.8,74.7 275.6,71.4" fill="#0000ff"/>
<polygon points="227.7,69.7 230.1,70.5 229.6,72.8 227.5,72.1" fill="#d9d9d9"/>
<polygon points="219.3,65.8 222.4,65.5 223,67.4 219.8,67.6" fill="#a8dcf4"/>
</g>
<text x="200.4" y="17.5"  font-size="6.9" fill="#bdbdbd" text-anchor="start" textLength="43.4" lengthAdjust="spacingAndGlyphs">Moran's I: 0.538</text>
<circle cx="203.8" cy="31.1" r="7.9" fill="#686868" fill-opacity="0.95"/>
<text x="203.8" y="33.75"  font-size="7.8" font-weight="bold" fill="#fff" text-anchor="middle">(b)</text>
<circle cx="316.5" cy="13" r="2.35" fill="#fff"/>
<circle cx="316.5" cy="13" r="1.35" fill="#1a73e8"/>
<text x="320.3" y="14.7"  font-size="4.3" fill="#fff" text-anchor="start" font-weight="bold" >PM2.5</text>
<circle cx="316.5" cy="21.9" r="2.35" fill="#fff"/>
<text x="320.3" y="23.6"  font-size="4.3" fill="#fff" text-anchor="start" font-weight="bold" >PM10</text>
<circle cx="316.5" cy="30.8" r="2.35" fill="#fff"/>
<text x="320.3" y="32.5"  font-size="4.3" fill="#fff" text-anchor="start" font-weight="bold" >Noise</text>
<circle cx="316.5" cy="39.4" r="2.35" fill="#fff"/>
<text x="320.3" y="41.1"  font-size="4.3" fill="#fff" text-anchor="start" font-weight="bold" >Temp</text>
<circle cx="316.5" cy="48" r="2.35" fill="#fff"/>
<text x="320.3" y="49.7"  font-size="4.3" fill="#fff" text-anchor="start" font-weight="bold" >Humidity</text>
<text x="223.3" y="108.6"  font-size="4.3" fill="#fff" text-anchor="start" font-weight="bold" >Date</text>
<rect x="239.7" y="102.6" width="34.5" height="10.2" fill="#fff"/>
<rect x="274.2" y="102.6" width="9.6" height="10.2" fill="#3d85f0"/>
<text x="242.2" y="109"  font-size="2.9" fill="#444" text-anchor="start" >2019-09-10</text>
<text x="312.4" y="108.6"  font-size="4.3" fill="#fff" text-anchor="start" font-weight="bold" >Hour</text>
<rect x="328.7" y="102.6" width="12.8" height="10.2" fill="#fff"/>
<rect x="341.5" y="102.6" width="8.5" height="10.2" fill="#3d85f0"/>
<text x="332.2" y="109"  font-size="2.9" fill="#444" text-anchor="start" >00</text>
<rect x="277.2" y="105.6" width="3.6" height="4.2" rx="0.6" fill="none" stroke="#fff" stroke-width="0.8"/>
<rect x="278.3" y="107.3" width="1.4" height="1.3" fill="#fff"/>
<rect x="344" y="105.6" width="3.6" height="4.2" rx="0.6" fill="none" stroke="#fff" stroke-width="0.8"/>
<rect x="345.1" y="107.3" width="1.4" height="1.3" fill="#fff"/>
<line x1="368.1" y1="9.4" x2="542.5" y2="9.4" stroke="#4d4d4d" stroke-width="0.6"/>
<text x="365.3" y="11.1"  font-size="4.7" fill="#dedede" text-anchor="end" font-weight="bold" >1</text>
<line x1="368.1" y1="25.85" x2="542.5" y2="25.85" stroke="#4d4d4d" stroke-width="0.6"/>
<text x="365.3" y="27.55"  font-size="4.7" fill="#dedede" text-anchor="end" font-weight="bold" >0.5</text>
<line x1="368.1" y1="42.3" x2="542.5" y2="42.3" stroke="#4d4d4d" stroke-width="0.6"/>
<text x="365.3" y="44"  font-size="4.7" fill="#dedede" text-anchor="end" font-weight="bold" >0</text>
<line x1="368.1" y1="58.75" x2="542.5" y2="58.75" stroke="#4d4d4d" stroke-width="0.6"/>
<text x="365.3" y="60.45"  font-size="4.7" fill="#dedede" text-anchor="end" font-weight="bold" >−0.5</text>
<line x1="368.1" y1="75.2" x2="542.5" y2="75.2" stroke="#4d4d4d" stroke-width="0.6"/>
<text x="365.3" y="76.9"  font-size="4.7" fill="#dedede" text-anchor="end" font-weight="bold" >−1</text>
<text x="369.6" y="82"  font-size="4.7" fill="#dedede" text-anchor="middle" font-weight="bold" >0</text>
<text x="391.8" y="82"  font-size="4.7" fill="#dedede" text-anchor="middle" font-weight="bold" >10</text>
<text x="414" y="82"  font-size="4.7" fill="#dedede" text-anchor="middle" font-weight="bold" >20</text>
<text x="436.2" y="82"  font-size="4.7" fill="#dedede" text-anchor="middle" font-weight="bold" >30</text>
<text x="458.4" y="82"  font-size="4.7" fill="#dedede" text-anchor="middle" font-weight="bold" >40</text>
<text x="480.6" y="82"  font-size="4.7" fill="#dedede" text-anchor="middle" font-weight="bold" >50</text>
<text x="502.8" y="82"  font-size="4.7" fill="#dedede" text-anchor="middle" font-weight="bold" >60</text>
<text x="525" y="82"  font-size="4.7" fill="#dedede" text-anchor="middle" font-weight="bold" >70</text>
<text x="455.9" y="90.3"  font-size="4.4" fill="#fff" text-anchor="middle" font-weight="bold" >Time lags</text>
<text transform="translate(351.8,41.8) rotate(-90)"  font-size="4.7" font-weight="bold" fill="#fff" text-anchor="middle">Auto−correlation coefficients</text>
<line x1="368.1" y1="42.3" x2="542.5" y2="42.3" stroke="#b4524a" stroke-width="1.6"/>
<g fill="none" stroke="#86bc2c" stroke-opacity="0.1" stroke-width="0.6">
<path d="M369.6 11.3 374 13.6 378.5 16.5 382.9 18.5 387.4 20.2 391.8 22.2 396.2 25 400.7 28.7 405.1 32.6 409.6 36 414 38.3 418.4 39 422.9 38.8 427.3 38.1 431.8 37.4 436.2 37.4 440.6 37.1 445.1 37.3 449.5 37 454 36.1 458.4 34.6 462.8 33.2 467.3 31.7 471.7 31.3 476.2 32.2 480.6 33.9 485 36.3 489.5 38.8 493.9 40.8 498.4 41.9 502.8 42.3 507.2 42.3 511.7 42.5 516.1 42.9 520.6 43.8 525 44.9 529.4 45.6 533.9 45.7 538.3 45.1 542.8 43.8"/>
<path d="M369.6 10 374 14.9 378.5 17.9 382.9 19.8 387.4 21.5 391.8 24.1 396.2 27.2 400.7 30.9 405.1 34 409.6 36 414 37 418.4 36.9 422.9 36.8 427.3 36.9 431.8 37.5 436.2 38.8 440.6 39.6 445.1 40.2 449.5 39.9 454 38.8 458.4 37.1 462.8 35.6 467.3 34.5 471.7 34.6 476.2 35.9 480.6 37.5 485 39.3 489.5 40.7 493.9 41.2 498.4 41 502.8 40.7 507.2 40.6 511.7 41.3 516.1 42.5 520.6 44 525 45.3 529.4 45.9 533.9 45.7 538.3 45 542.8 44"/>
<path d="M369.6 11.2 374 17.5 378.5 23.8 382.9 29.4 387.4 33.3 391.8 36.1 396.2 35.8 400.7 35.4 405.1 35.4 409.6 36.3 414 38.1 418.4 39.9 422.9 41.4 427.3 42.2 431.8 42.2 436.2 41.7 440.6 40.4 445.1 39.6 449.5 39.1 454 38.9 458.4 39 462.8 39.5 467.3 39.6 471.7 39.6 476.2 39.9 480.6 40.1 485 40.9 489.5 42.3 493.9 44.2 498.4 46.3 502.8 48.4 507.2 49.7 511.7 50.3 516.1 50.1 520.6 49.6 525 49.4 529.4 49.7 533.9 50.5 538.3 51.7 542.8 52.6"/>
<path d="M369.6 9.8 374 12.4 378.5 15.7 382.9 19.7 387.4 23.5 391.8 26.2 396.2 27.1 400.7 27.5 405.1 27.9 409.6 28.8 414 30.7 418.4 32.9 422.9 35.1 427.3 36.4 431.8 36.8 436.2 36.5 440.6 35.2 445.1 34.1 449.5 33.1 454 32.3 458.4 32.1 462.8 32.3 467.3 32.2 471.7 32.1 476.2 32.2 480.6 32.1 485 32.2 489.5 32.8 493.9 34 498.4 35.6 502.8 37.4 507.2 39 511.7 39.9 516.1 40 520.6 39.7 525 39.6 529.4 39.8 533.9 40.8 538.3 42.3 542.8 43.6"/>
<path d="M369.6 11.3 374 13.6 378.5 17.2 382.9 21.9 387.4 27 391.8 32 396.2 34.8 400.7 36.7 405.1 38.2 409.6 39.6 414 41.6 418.4 43.5 422.9 45.2 427.3 46.1 431.8 46 436.2 45 440.6 42.8 445.1 40.5 449.5 38.4 454 36.6 458.4 35.7 462.8 35.7 467.3 35.8 471.7 36.5 476.2 37.4 480.6 38.1 485 39.2 489.5 40.7 493.9 42.7 498.4 45.2 502.8 47.9 507.2 50.1 511.7 51.4 516.1 51.4 520.6 50.5 525 49.1 529.4 47.8 533.9 47 538.3 46.9 542.8 47.1"/>
<path d="M369.6 10.6 374 13.3 378.5 16.4 382.9 18.7 387.4 19.8 391.8 20.5 396.2 21.4 400.7 23.5 405.1 26.3 409.6 29.4 414 32.3 418.4 34.1 422.9 35 427.3 35.1 431.8 34.9 436.2 35.1 440.6 35 445.1 35.5 449.5 35.9 454 35.9 458.4 35.3 462.8 34.5 467.3 33.2 471.7 32.3 476.2 32.4 480.6 33.1 485 34.5 489.5 36.2 493.9 37.8 498.4 38.8 502.8 39.1 507.2 38.8 511.7 38.5 516.1 38.4 520.6 38.9 525 40.1 529.4 41.5 533.9 42.8 538.3 43.5 542.8 43.4"/>
<path d="M369.6 11.5 374 13.8 378.5 17.5 382.9 20.4 387.4 21.8 391.8 22.5 396.2 23 400.7 24.4 405.1 26.7 409.6 29.6 414 32.6 418.4 34.7 422.9 35.9 427.3 36.2 431.8 36 436.2 36 440.6 35.7 445.1 35.9 449.5 36.2 454 36.2 458.4 35.8 462.8 35.1 467.3 33.9 471.7 32.9 476.2 32.8 480.6 33.1 485 34.3 489.5 36 493.9 37.7 498.4 39 502.8 39.8 507.2 40 511.7 39.9 516.1 39.8 520.6 40.2 525 41.3 529.4 42.7 533.9 44.1 538.3 45.2 542.8 45.3"/>
<path d="M369.6 10.9 374 17 378.5 22.4 382.9 26 387.4 27.4 391.8 27.8 396.2 27.3 400.7 27.9 405.1 29.5 409.6 31.5 414 33.8 418.4 35.2 422.9 36 427.3 36 431.8 35.8 436.2 35.9 440.6 35.9 445.1 36.6 449.5 37.4 454 37.9 458.4 38.1 462.8 38 467.3 37.3 471.7 37 476.2 37.4 480.6 38.3 485 40 489.5 42 493.9 43.9 498.4 45.1 502.8 45.5 507.2 45 511.7 44.1 516.1 43.3 520.6 43 525 43.3 529.4 44 533.9 44.7 538.3 45.1 542.8 44.7"/>
<path d="M369.6 11.4 374 16.3 378.5 20.5 382.9 22.6 387.4 23.2 391.8 23.7 396.2 24.4 400.7 26.6 405.1 29.6 409.6 32.7 414 35.5 418.4 37.2 422.9 38 427.3 38.4 431.8 38.7 436.2 39.5 440.6 40.1 445.1 41.2 449.5 41.9 454 41.9 458.4 41.2 462.8 40.2 467.3 38.7 471.7 37.7 476.2 37.7 480.6 38.2 485 39.5 489.5 40.9 493.9 41.8 498.4 42.1 502.8 41.6 507.2 40.8 511.7 40.3 516.1 40.3 520.6 41.1 525 42.6 529.4 44.2 533.9 45.7 538.3 46.6 542.8 46.8"/>
<path d="M369.6 10.7 374 11.9 378.5 12.8 382.9 14.4 387.4 16.8 391.8 19.4 396.2 21.4 400.7 22.8 405.1 23.7 409.6 24.6 414 26.5 418.4 29.2 422.9 32.5 427.3 35.6 431.8 38 436.2 39.5 440.6 39.2 445.1 38.3 449.5 36.8 454 35 458.4 33.7 462.8 33.1 467.3 32.7 471.7 32.8 476.2 33 480.6 32.7 485 32.2 489.5 31.9 493.9 32 498.4 32.9 502.8 34.7 507.2 37.3 511.7 39.8 516.1 41.6 520.6 42.6 525 43 529.4 42.9 533.9 43.1 538.3 43.7 542.8 44.5"/>
<path d="M369.6 11.1 374 14.9 378.5 19.6 382.9 24.7 387.4 29.3 391.8 33.3 396.2 34.4 400.7 34.5 405.1 34.3 409.6 34.4 414 35.4 418.4 36.9 422.9 38.7 427.3 40.2 431.8 40.8 436.2 40.8 440.6 39.7 445.1 38.5 449.5 37.4 454 36.6 458.4 36.4 462.8 36.9 467.3 37.4 471.7 38 476.2 38.6 480.6 38.8 485 39 489.5 39.6 493.9 40.5 498.4 41.9 502.8 43.7 507.2 45.2 511.7 46.2 516.1 46.2 520.6 45.6 525 44.9 529.4 44.3 533.9 44.5 538.3 45.4 542.8 46.6"/>
<path d="M369.6 11.5 374 19.6 378.5 26.9 382.9 31.9 387.4 34.2 391.8 35.7 396.2 35.3 400.7 36 405.1 37.4 409.6 39.3 414 41.2 418.4 41.9 422.9 41.9 427.3 41.2 431.8 40.3 436.2 39.9 440.6 39.4 445.1 39.6 449.5 39.9 454 40 458.4 39.8 462.8 39.4 467.3 38.5 471.7 38.1 476.2 38.5 480.6 39.6 485 41.6 489.5 44.1 493.9 46.5 498.4 48.4 502.8 49.5 507.2 49.7 511.7 49.6 516.1 49.6 520.6 50 525 51 529.4 52.2 533.9 53.2 538.3 53.7 542.8 53.3"/>
<path d="M369.6 11 374 13.7 378.5 17.4 382.9 20.9 387.4 23.2 391.8 24.4 396.2 24.2 400.7 24.3 405.1 25.1 409.6 26.7 414 29.1 418.4 31.5 422.9 33.4 427.3 34.3 431.8 34.3 436.2 34.1 440.6 33.1 445.1 32.7 449.5 32.6 454 32.5 458.4 32.7 462.8 33 467.3 32.8 471.7 32.6 476.2 32.8 480.6 33.1 485 34 489.5 35.6 493.9 37.6 498.4 39.7 502.8 41.6 507.2 42.8 511.7 43.3 516.1 43.3 520.6 43.2 525 43.6 529.4 44.5 533.9 45.8 538.3 47.3 542.8 48.3"/>
<path d="M369.6 11.6 374 15.1 378.5 19.1 382.9 23.4 387.4 28 391.8 32.9 396.2 35.6 400.7 36.9 405.1 36.9 409.6 36 414 35.3 418.4 35 422.9 35.9 427.3 37.2 431.8 38.6 436.2 39.8 440.6 39.6 445.1 39 449.5 37.9 454 36.6 458.4 35.8 462.8 36 467.3 36.6 471.7 38 476.2 39.6 480.6 40.5 485 41.1 489.5 41 493.9 40.8 498.4 40.7 502.8 41.3 507.2 42.4 511.7 43.8 516.1 44.7 520.6 45 525 44.8 529.4 44.1 533.9 43.7 538.3 43.9 542.8 44.9"/>
<path d="M369.6 11.1 374 12.2 378.5 14.5 382.9 17.8 387.4 22.1 391.8 26.9 396.2 30.2 400.7 32.2 405.1 32.9 409.6 32.6 414 32.5 418.4 32.7 422.9 33.8 427.3 35.2 431.8 36.4 436.2 37.1 440.6 36.4 445.1 35.1 449.5 33.2 454 31.1 458.4 29.4 462.8 28.9 467.3 29 471.7 30 476.2 31.4 480.6 32.3 485 32.8 489.5 33.1 493.9 33.3 498.4 34.1 502.8 35.6 507.2 38 511.7 40.4 516.1 42.3 520.6 43.4 525 43.7 529.4 43.4 533.9 43 538.3 43.2 542.8 43.8"/>
<path d="M369.6 10 374 17.8 378.5 24 382.9 29.9 387.4 34.8 391.8 39.2 396.2 40 400.7 40.2 405.1 40.1 409.6 40.3 414 41.6 418.4 43.2 422.9 45.1 427.3 46.5 431.8 47.1 436.2 47 440.6 45.8 445.1 44.4 449.5 43.1 454 42.2 458.4 41.7 462.8 42 467.3 42.1 471.7 42.3 476.2 42.6 480.6 42.4 485 42.6 489.5 43 493.9 44 498.4 45.6 502.8 47.6 507.2 49.4 511.7 50.7 516.1 51.1 520.6 50.9 525 50.6 529.4 50.5 533.9 51 538.3 52.1 542.8 53.4"/>
<path d="M369.6 11.3 374 9 378.5 8.7 382.9 9.9 387.4 13.1 391.8 17.3 396.2 22 400.7 25.7 405.1 28 409.6 29.1 414 29.9 418.4 30.8 422.9 32.4 427.3 34.3 431.8 36.2 436.2 37.8 440.6 37.9 445.1 37.3 449.5 35.7 454 33.5 458.4 31.6 462.8 30.5 467.3 30 471.7 30.5 476.2 31.6 480.6 32.2 485 32.3 489.5 31.9 493.9 31.1 498.4 30.6 502.8 30.7 507.2 31.9 511.7 33.7 516.1 35.3 520.6 36.4 525 36.9 529.4 36.6 533.9 36.3 538.3 36.4 542.8 37"/>
<path d="M369.6 11.2 374 12.8 378.5 15 382.9 16.4 387.4 17.5 391.8 19.1 396.2 21.9 400.7 25.5 405.1 29.2 409.6 32.2 414 34.2 418.4 34.9 422.9 35.1 427.3 35.2 431.8 35.6 436.2 36.7 440.6 37.4 445.1 38.3 449.5 38.5 454 37.8 458.4 36.5 462.8 35.2 467.3 33.8 471.7 33.5 476.2 34.4 480.6 35.9 485 37.7 489.5 39.4 493.9 40.4 498.4 40.5 502.8 40 507.2 39.6 511.7 39.6 516.1 40.3 520.6 41.4 525 42.7 529.4 43.5 533.9 43.7 538.3 43.1 542.8 42"/>
<path d="M369.6 10.5 374 14.7 378.5 17.6 382.9 20.3 387.4 23.3 391.8 26.8 396.2 29 400.7 30.2 405.1 30.3 409.6 29.5 414 28.8 418.4 28.8 422.9 30 427.3 31.7 431.8 33.7 436.2 35.6 440.6 36.1 445.1 36 449.5 35.2 454 34.1 458.4 33.2 462.8 33.4 467.3 34.1 471.7 35.6 476.2 37.5 480.6 38.7 485 39.5 489.5 39.6 493.9 39.2 498.4 38.9 502.8 39.1 507.2 39.9 511.7 41 516.1 41.7 520.6 41.9 525 41.3 529.4 40.2 533.9 39.2 538.3 38.7 542.8 39"/>
<path d="M369.6 11.2 374 15.7 378.5 19.1 382.9 21.5 387.4 24 391.8 27.7 396.2 31.2 400.7 34.8 405.1 37.5 409.6 38.9 414 39.4 418.4 39.1 422.9 39.2 427.3 39.7 431.8 40.8 436.2 42.3 440.6 43.1 445.1 43.4 449.5 42.8 454 41.4 458.4 39.6 462.8 38.4 467.3 37.6 471.7 38 476.2 39.6 480.6 41.2 485 42.8 489.5 43.8 493.9 43.9 498.4 43.6 502.8 43.3 507.2 43.6 511.7 44.6 516.1 45.9 520.6 47.2 525 48.1 529.4 48.1 533.9 47.4 538.3 46.4 542.8 45.6"/>
<path d="M369.6 11.5 374 14.7 378.5 19.2 382.9 24 387.4 28 391.8 31.1 396.2 31.6 400.7 31.7 405.1 31.7 409.6 32.4 414 34.1 418.4 36.1 422.9 38.1 427.3 39.4 431.8 39.8 436.2 39.6 440.6 38.4 445.1 37.3 449.5 36.4 454 35.8 458.4 35.7 462.8 36.1 467.3 36.3 471.7 36.5 476.2 36.8 480.6 36.8 485 37.1 489.5 37.9 493.9 39.3 498.4 41.1 502.8 43 507.2 44.6 511.7 45.5 516.1 45.6 520.6 45.1 525 44.8 529.4 44.7 533.9 45.4 538.3 46.6 542.8 47.8"/>
<path d="M369.6 11.4 374 16.8 378.5 20.5 382.9 23 387.4 25.6 391.8 28.9 396.2 31.4 400.7 33.3 405.1 34.3 409.6 34.3 414 34.2 418.4 34.2 422.9 35.3 427.3 37 431.8 39.1 436.2 41.2 440.6 42.1 445.1 42.3 449.5 41.5 454 40.1 458.4 38.6 462.8 37.9 467.3 37.7 471.7 38.4 476.2 39.7 480.6 40.6 485 41.2 489.5 41.1 493.9 40.4 498.4 39.8 502.8 39.7 507.2 40.5 511.7 42.1 516.1 43.8 520.6 45.2 525 46 529.4 46.1 533.9 46 538.3 46 542.8 46.5"/>
<path d="M369.6 10.6 374 19.3 378.5 25.5 382.9 30.7 387.4 34.8 391.8 38.6 396.2 39 400.7 38.6 405.1 37.6 409.6 36.7 414 36.8 418.4 37.8 422.9 39.7 427.3 41.8 431.8 43.4 436.2 44.5 440.6 44.3 445.1 43.8 449.5 43 454 42.4 458.4 42.3 462.8 43 467.3 43.8 471.7 44.9 476.2 45.8 480.6 46 485 46.1 489.5 46 493.9 46 498.4 46.4 502.8 47.3 507.2 48.2 511.7 49 516.1 49 520.6 48.3 525 47.4 529.4 46.5 533.9 46.3 538.3 47 542.8 48.4"/>
<path d="M369.6 9.4 374 17.8 378.5 23.9 382.9 28.1 387.4 30.2 391.8 32 396.2 32.8 400.7 34.6 405.1 37.1 409.6 39.6 414 41.7 418.4 42.4 422.9 42.2 427.3 41.5 431.8 40.8 436.2 40.5 440.6 40.3 445.1 40.6 449.5 40.8 454 40.5 458.4 39.7 462.8 38.7 467.3 37.3 471.7 36.5 476.2 36.8 480.6 37.7 485 39.5 489.5 41.6 493.9 43.5 498.4 44.6 502.8 45.1 507.2 45 511.7 44.8 516.1 45.1 520.6 45.9 525 47.3 529.4 48.8 533.9 50 538.3 50.5 542.8 50.2"/>
<path d="M369.6 11.2 374 13.8 378.5 17.8 382.9 21 387.4 23.1 391.8 24.8 396.2 26.3 400.7 28.7 405.1 31.6 409.6 34.5 414 37 418.4 38.1 422.9 38.3 427.3 37.7 431.8 36.9 436.2 36.6 440.6 36 445.1 36 449.5 36 454 35.4 458.4 34.4 462.8 33.1 467.3 31.5 471.7 30.5 476.2 30.5 480.6 31.2 485 32.7 489.5 34.6 493.9 36.4 498.4 37.6 502.8 38.2 507.2 38.4 511.7 38.6 516.1 39.1 520.6 40.2 525 41.9 529.4 43.7 533.9 45.3 538.3 46.3 542.8 46.4"/>
<path d="M369.6 11.1 374 18.8 378.5 25.1 382.9 30.6 387.4 35.5 391.8 40.8 396.2 42.9 400.7 43.7 405.1 43.1 409.6 41.7 414 40.4 418.4 39.4 422.9 39.6 427.3 40.5 431.8 41.6 436.2 42.5 440.6 42.4 445.1 41.8 449.5 40.6 454 39.3 458.4 38.6 462.8 38.9 467.3 39.7 471.7 41.4 476.2 43.4 480.6 44.8 485 46 489.5 46.5 493.9 46.6 498.4 46.9 502.8 47.6 507.2 48.6 511.7 49.7 516.1 50.4 520.6 50.3 525 49.6 529.4 48.2 533.9 47 538.3 46.5 542.8 46.7"/>
<path d="M369.6 12 374 15.8 378.5 21.2 382.9 25.6 387.4 28.3 391.8 30.3 396.2 31.1 400.7 32.8 405.1 35.2 409.6 37.9 414 40.6 418.4 42 422.9 42.5 427.3 42.2 431.8 41.4 436.2 40.8 440.6 40.1 445.1 40 449.5 40 454 39.7 458.4 39.1 462.8 38.2 467.3 36.8 471.7 35.8 476.2 35.6 480.6 35.9 485 37.1 489.5 38.9 493.9 40.6 498.4 41.9 502.8 42.6 507.2 42.6 511.7 42.4 516.1 42.3 520.6 42.7 525 43.9 529.4 45.3 533.9 46.9 538.3 48.1 542.8 48.4"/>
<path d="M369.6 10.8 374 17.5 378.5 24 382.9 29.8 387.4 33.9 391.8 37 396.2 37.1 400.7 37.3 405.1 37.9 409.6 39.3 414 41.5 418.4 43.5 422.9 45.1 427.3 45.8 431.8 45.6 436.2 45 440.6 43.8 445.1 43 449.5 42.6 454 42.4 458.4 42.5 462.8 42.8 467.3 42.5 471.7 42.2 476.2 42.2 480.6 42.1 485 42.7 489.5 43.9 493.9 45.7 498.4 47.5 502.8 49.2 507.2 50.1 511.7 50.2 516.1 49.7 520.6 49 525 48.8 529.4 49.1 533.9 50 538.3 51.3 542.8 52.1"/>
<path d="M369.6 10 374 13.6 378.5 15.7 382.9 16.4 387.4 16.7 391.8 17.3 396.2 19.3 400.7 22.4 405.1 25.9 409.6 28.9 414 31.2 418.4 32.4 422.9 33.1 427.3 33.5 431.8 34.1 436.2 35.5 440.6 36.4 445.1 37.6 449.5 38.1 454 37.7 458.4 36.6 462.8 35.3 467.3 33.8 471.7 33.3 476.2 33.9 480.6 35 485 36.6 489.5 38 493.9 38.6 498.4 38.5 502.8 37.7 507.2 37 511.7 36.8 516.1 37.3 520.6 38.3 525 39.8 529.4 41 533.9 41.7 538.3 41.8 542.8 41.3"/>
<path d="M369.6 10.1 374 14.7 378.5 17.6 382.9 19.6 387.4 21.5 391.8 24.4 396.2 27.4 400.7 30.6 405.1 33 409.6 34.1 414 34.3 418.4 33.6 422.9 33.2 427.3 33.2 431.8 33.9 436.2 35.2 440.6 35.9 445.1 36.3 449.5 35.9 454 34.5 458.4 32.8 462.8 31.7 467.3 31 471.7 31.6 476.2 33.5 480.6 35.5 485 37.5 489.5 39 493.9 39.7 498.4 39.7 502.8 39.7 507.2 40.1 511.7 41.1 516.1 42.5 520.6 43.9 525 44.9 529.4 45 533.9 44.3 538.3 43.1 542.8 41.9"/>
<path d="M369.6 10.5 374 16.5 378.5 21 382.9 25.4 387.4 30 391.8 35.2 396.2 38.1 400.7 39.9 405.1 40.5 409.6 40.3 414 40.4 418.4 40.7 422.9 41.9 427.3 43.4 431.8 44.9 436.2 46 440.6 45.7 445.1 44.9 449.5 43.4 454 41.8 458.4 40.7 462.8 40.6 467.3 40.9 471.7 42 476.2 43.5 480.6 44.4 485 45.2 489.5 45.5 493.9 45.7 498.4 46.3 502.8 47.5 507.2 49.1 511.7 50.9 516.1 52.2 520.6 52.6 525 52.3 529.4 51.4 533.9 50.6 538.3 50.3 542.8 50.6"/>
<path d="M369.6 11.9 374 17 378.5 23 382.9 29.1 387.4 34.3 391.8 38.8 396.2 39.5 400.7 39.1 405.1 38.1 409.6 37.2 414 37.2 418.4 37.8 422.9 39.1 427.3 40.3 431.8 40.9 436.2 41.1 440.6 40 445.1 39 449.5 38 454 37.4 458.4 37.5 462.8 38.4 467.3 39.3 471.7 40.4 476.2 41.6 480.6 42 485 42.5 489.5 43 493.9 43.8 498.4 45 502.8 46.4 507.2 47.6 511.7 48.3 516.1 48.1 520.6 47.1 525 45.9 529.4 44.9 533.9 44.7 538.3 45.3 542.8 46.5"/>
<path d="M369.6 10.7 374 13.6 378.5 17.6 382.9 22.6 387.4 27.5 391.8 31.8 396.2 33.4 400.7 33.9 405.1 33.7 409.6 33.6 414 34.3 418.4 35.5 422.9 37.1 427.3 38.3 431.8 38.8 436.2 38.7 440.6 37.3 445.1 35.8 449.5 34.4 454 33.2 458.4 32.8 462.8 33.2 467.3 33.8 471.7 34.6 476.2 35.6 480.6 36 485 36.6 489.5 37.4 493.9 38.6 498.4 40.3 502.8 42.5 507.2 44.5 511.7 45.9 516.1 46.3 520.6 45.9 525 45.1 529.4 44.3 533.9 44 538.3 44.4 542.8 45"/>
<path d="M369.6 10.7 374 15.1 378.5 17.8 382.9 19.5 387.4 21.5 391.8 24.9 396.2 29.1 400.7 33.9 405.1 38.1 409.6 41.1 414 42.8 418.4 43 422.9 42.8 427.3 42.7 431.8 42.8 436.2 43.3 440.6 43.2 445.1 42.8 449.5 41.6 454 39.4 458.4 36.9 462.8 34.8 467.3 33.2 471.7 33.2 476.2 34.6 480.6 36.6 485 39.1 489.5 41.2 493.9 42.8 498.4 43.7 502.8 44.6 507.2 45.6 511.7 47 516.1 48.8 520.6 50.4 525 51.5 529.4 51.6 533.9 50.6 538.3 49 542.8 47"/>
<path d="M369.6 10.8 374 16.7 378.5 22.7 382.9 27.5 387.4 30.4 391.8 32.2 396.2 32.1 400.7 32.5 405.1 33.8 409.6 35.7 414 38.1 418.4 39.9 422.9 40.8 427.3 40.9 431.8 40.3 436.2 39.6 440.6 38.6 445.1 38.3 449.5 38.3 454 38.2 458.4 38.1 462.8 37.9 467.3 37.1 471.7 36.6 476.2 36.5 480.6 36.8 485 37.9 489.5 39.7 493.9 41.8 498.4 43.7 502.8 45.1 507.2 45.7 511.7 45.7 516.1 45.4 520.6 45.4 525 46.1 529.4 47.2 533.9 48.6 538.3 49.9 542.8 50.4"/>
<path d="M369.6 11.5 374 14.5 378.5 17.7 382.9 21 387.4 24.8 391.8 29.2 396.2 32 400.7 33.7 405.1 34 409.6 33.2 414 32.4 418.4 31.9 422.9 32.4 427.3 33.6 431.8 35.1 436.2 36.5 440.6 36.7 445.1 36.4 449.5 35.4 454 33.9 458.4 32.9 462.8 32.9 467.3 33.5 471.7 35.1 476.2 37.2 480.6 38.7 485 39.7 489.5 40.1 493.9 40 498.4 39.9 502.8 40.3 507.2 41.2 511.7 42.5 516.1 43.4 520.6 43.6 525 43.2 529.4 42 533.9 40.8 538.3 40.2 542.8 40.3"/>
<path d="M369.6 12.6 374 14.8 378.5 17.9 382.9 20.4 387.4 23.1 391.8 26.9 396.2 30.7 400.7 34.5 405.1 37.3 409.6 38.7 414 39 418.4 38.4 422.9 37.9 427.3 38 431.8 38.5 436.2 39.6 440.6 39.9 445.1 39.8 449.5 38.9 454 37.2 458.4 35.1 462.8 33.7 467.3 32.8 471.7 33.3 476.2 35.1 480.6 37 485 39 489.5 40.4 493.9 41.1 498.4 41.3 502.8 41.5 507.2 42.3 511.7 43.7 516.1 45.4 520.6 47 525 48.1 529.4 48.1 533.9 47.4 538.3 46.3 542.8 45.2"/>
<path d="M369.6 11.2 374 15.2 378.5 18.4 382.9 20.9 387.4 23.7 391.8 27.6 396.2 31.2 400.7 34.7 405.1 37 409.6 38 414 38.2 418.4 37.7 422.9 37.8 427.3 38.5 431.8 39.6 436.2 41.1 440.6 41.6 445.1 41.7 449.5 40.7 454 39 458.4 37.1 462.8 35.9 467.3 35.2 471.7 35.7 476.2 37.3 480.6 38.8 485 40.1 489.5 40.8 493.9 40.8 498.4 40.5 502.8 40.3 507.2 40.9 511.7 42.2 516.1 43.7 520.6 45.1 525 46 529.4 45.9 533.9 45.2 538.3 44.4 542.8 43.7"/>
<path d="M369.6 11.4 374 18.6 378.5 23.3 382.9 26.6 387.4 29.4 391.8 33.1 396.2 35.5 400.7 37.6 405.1 38.6 409.6 38.5 414 38 418.4 37.5 422.9 37.8 427.3 38.9 431.8 40.5 436.2 42.3 440.6 43.1 445.1 43.3 449.5 42.7 454 41.4 458.4 40.1 462.8 39.6 467.3 39.6 471.7 40.7 476.2 42.6 480.6 44.1 485 45.5 489.5 46.1 493.9 46 498.4 45.6 502.8 45.6 507.2 46 511.7 47.1 516.1 48.2 520.6 49 525 49.1 529.4 48.4 533.9 47.4 538.3 46.5 542.8 46.1"/>
<path d="M369.6 10.4 374 16.9 378.5 20.5 382.9 22.5 387.4 24.3 391.8 27.2 396.2 30.2 400.7 33.5 405.1 36.1 409.6 37.6 414 38.3 418.4 38.3 422.9 38.7 427.3 39.6 431.8 41.1 436.2 42.9 440.6 44 445.1 44.6 449.5 44.3 454 43 458.4 41.4 462.8 40.1 467.3 39.3 471.7 39.6 476.2 40.9 480.6 42.2 485 43.6 489.5 44.2 493.9 44 498.4 43.3 502.8 42.7 507.2 42.6 511.7 43.4 516.1 44.6 520.6 46 525 47 529.4 47.3 533.9 47 538.3 46.5 542.8 46.1"/>
<path d="M369.6 11.8 374 14.2 378.5 18.3 382.9 21.7 387.4 23.6 391.8 24.5 396.2 24.6 400.7 25.4 405.1 27.1 409.6 29.4 414 32.2 418.4 34.3 422.9 35.7 427.3 36.1 431.8 35.8 436.2 35.6 440.6 35 445.1 35.1 449.5 35.3 454 35.5 458.4 35.5 462.8 35.4 467.3 34.7 471.7 34.2 476.2 34.3 480.6 34.8 485 36 489.5 37.9 493.9 40 498.4 41.7 502.8 42.9 507.2 43.3 511.7 43.1 516.1 42.8 520.6 42.7 525 43.3 529.4 44.2 533.9 45.4 538.3 46.4 542.8 46.6"/>
<path d="M369.6 11 374 16.2 378.5 21.9 382.9 26.4 387.4 28.8 391.8 30.1 396.2 29.8 400.7 30.2 405.1 31.4 409.6 32.9 414 34.7 418.4 35.7 422.9 36 427.3 35.7 431.8 35.2 436.2 35.2 440.6 35.1 445.1 35.7 449.5 36.5 454 37.2 458.4 37.5 462.8 37.5 467.3 37 471.7 36.6 476.2 36.8 480.6 37.4 485 38.7 489.5 40.3 493.9 41.7 498.4 42.4 502.8 42.4 507.2 41.7 511.7 40.7 516.1 39.9 520.6 39.7 525 40.5 529.4 41.8 533.9 43.3 538.3 44.7 542.8 45.4"/>
<path d="M369.6 11.9 374 16.8 378.5 22.6 382.9 28.3 387.4 32.9 391.8 36.9 396.2 37.5 400.7 37.4 405.1 37.1 409.6 37.3 414 38.5 418.4 40 422.9 41.7 427.3 42.9 431.8 43.3 436.2 43 440.6 41.6 445.1 40.3 449.5 39.1 454 38.3 458.4 38 462.8 38.4 467.3 38.6 471.7 38.9 476.2 39.3 480.6 39.3 485 39.6 489.5 40.3 493.9 41.5 498.4 43.3 502.8 45.3 507.2 47.1 511.7 48.2 516.1 48.4 520.6 48.1 525 47.8 529.4 47.7 533.9 48.3 538.3 49.5 542.8 50.8"/>
<path d="M369.6 10.1 374 17 378.5 23 382.9 27.9 387.4 30.8 391.8 32.8 396.2 33.1 400.7 34.1 405.1 36 409.6 38.4 414 41.1 418.4 42.9 422.9 43.8 427.3 43.7 431.8 43.1 436.2 42.5 440.6 41.8 445.1 41.6 449.5 41.7 454 41.8 458.4 41.6 462.8 41.2 467.3 40.2 471.7 39.4 476.2 39.2 480.6 39.5 485 40.7 489.5 42.4 493.9 44.3 498.4 45.9 502.8 46.8 507.2 46.9 511.7 46.6 516.1 46.1 520.6 46 525 46.7 529.4 47.7 533.9 49 538.3 50.1 542.8 50.4"/>
<path d="M369.6 10.2 374 14.3 378.5 17.8 382.9 22 387.4 26.5 391.8 31.3 396.2 33.9 400.7 35.3 405.1 35.7 409.6 35.7 414 36.2 418.4 37.1 422.9 38.9 427.3 40.7 431.8 42.1 436.2 42.8 440.6 42.2 445.1 41.1 449.5 39.5 454 38 458.4 37 462.8 37.1 467.3 37.4 471.7 38.2 476.2 39.3 480.6 39.7 485 39.9 489.5 39.9 493.9 40.1 498.4 40.8 502.8 42.1 507.2 43.8 511.7 45.3 516.1 46.2 520.6 46.2 525 45.6 529.4 44.7 533.9 44.2 538.3 44.3 542.8 45.1"/>
<path d="M369.6 10.7 374 11.6 378.5 13.9 382.9 16.1 387.4 17.5 391.8 18.2 396.2 19.1 400.7 20.9 405.1 23.5 409.6 26.9 414 30.6 418.4 33.5 422.9 35.6 427.3 36.6 431.8 36.9 436.2 37.1 440.6 36.9 445.1 37.2 449.5 37.7 454 38 458.4 38 462.8 37.7 467.3 36.8 471.7 35.9 476.2 35.7 480.6 35.7 485 36.5 489.5 37.8 493.9 39.2 498.4 40.2 502.8 40.5 507.2 40.2 511.7 39.3 516.1 38.4 520.6 37.9 525 38.1 529.4 38.9 533.9 40 538.3 40.9 542.8 41.2"/>
<path d="M369.6 11.1 374 15.4 378.5 20.9 382.9 26 387.4 29.5 391.8 32 396.2 32.1 400.7 32.5 405.1 33.3 409.6 34.9 414 37.2 418.4 39 422.9 40.2 427.3 40.5 431.8 39.9 436.2 39.1 440.6 37.7 445.1 36.9 449.5 36.4 454 36.1 458.4 35.9 462.8 35.8 467.3 35.2 471.7 34.6 476.2 34.5 480.6 34.6 485 35.3 489.5 36.8 493.9 38.7 498.4 40.7 502.8 42.4 507.2 43.4 511.7 43.8 516.1 43.8 520.6 43.7 525 44.2 529.4 45.1 533.9 46.6 538.3 48.1 542.8 49.1"/>
<path d="M369.6 11 374 14.8 378.5 19.4 382.9 24.1 387.4 27.7 391.8 30.3 396.2 30.7 400.7 31.1 405.1 31.8 409.6 33.3 414 35.7 418.4 38.1 422.9 40.1 427.3 41.3 431.8 41.6 436.2 41.3 440.6 40.1 445.1 39.3 449.5 38.8 454 38.5 458.4 38.5 462.8 38.7 467.3 38.5 471.7 38.2 476.2 38.1 480.6 37.8 485 38.1 489.5 39 493.9 40.4 498.4 42 502.8 43.6 507.2 44.6 511.7 44.9 516.1 44.5 520.6 44 525 43.8 529.4 44.1 533.9 45.2 538.3 46.7 542.8 47.9"/>
<path d="M369.6 11.2 374 17.8 378.5 23.1 382.9 27.7 387.4 31.8 391.8 35.7 396.2 36.9 400.7 37.6 405.1 37.9 409.6 38.6 414 40.2 418.4 42.3 422.9 44.9 427.3 47.1 431.8 48.5 436.2 48.9 440.6 47.9 445.1 46.4 449.5 44.6 454 42.9 458.4 41.7 462.8 41.2 467.3 40.8 471.7 40.8 476.2 41 480.6 40.7 485 40.8 489.5 41.1 493.9 42.1 498.4 43.9 502.8 46.4 507.2 49.1 511.7 51.4 516.1 52.9 520.6 53.4 525 53.4 529.4 53 533.9 52.9 538.3 53.4 542.8 53.9"/>
<path d="M369.6 10.4 374 17.3 378.5 21.3 382.9 23.3 387.4 24.6 391.8 26.6 396.2 28.7 400.7 31.2 405.1 33.1 409.6 34.2 414 34.5 418.4 34.2 422.9 34.2 427.3 34.7 431.8 36 436.2 37.8 440.6 39.1 445.1 40.2 449.5 40.3 454 39.6 458.4 38.3 462.8 37.3 467.3 36.6 471.7 37 476.2 38.4 480.6 40 485 41.5 489.5 42.5 493.9 42.4 498.4 41.7 502.8 40.8 507.2 40.4 511.7 40.8 516.1 41.7 520.6 43 525 44.1 529.4 44.6 533.9 44.5 538.3 44.1 542.8 43.7"/>
<path d="M369.6 10.2 374 15.3 378.5 18.5 382.9 21.4 387.4 24.8 391.8 29.2 396.2 32.9 400.7 36.1 405.1 37.9 409.6 38.5 414 38.5 418.4 38.1 422.9 38.4 427.3 39.3 431.8 40.6 436.2 42 440.6 42.3 445.1 42.1 449.5 40.9 454 39 458.4 37.1 462.8 36 467.3 35.5 471.7 36.2 476.2 37.7 480.6 39 485 40.1 489.5 40.5 493.9 40.3 498.4 39.9 502.8 40 507.2 40.8 511.7 42.2 516.1 43.8 520.6 45 525 45.5 529.4 45.1 533.9 44.3 538.3 43.5 542.8 43.2"/>
<path d="M369.6 11.6 374 15.9 378.5 19.7 382.9 21.7 387.4 22.7 391.8 23.9 396.2 25.5 400.7 28 405.1 30.6 409.6 32.6 414 33.7 418.4 33.7 422.9 33.3 427.3 32.9 431.8 32.8 436.2 33.6 440.6 34 445.1 34.7 449.5 34.7 454 34 458.4 32.6 462.8 31.3 467.3 30 471.7 29.8 476.2 30.9 480.6 32.7 485 34.8 489.5 36.8 493.9 38.2 498.4 38.9 502.8 39 507.2 39.2 511.7 39.9 516.1 41.2 520.6 42.9 525 44.9 529.4 46.3 533.9 47 538.3 47 542.8 46.3"/>
<path d="M369.6 10.8 374 15.2 378.5 19.9 382.9 24.5 387.4 28.2 391.8 30.9 396.2 31 400.7 30.6 405.1 30.3 409.6 30.6 414 32.1 418.4 34.2 422.9 36.6 427.3 38.4 431.8 39.4 436.2 39.8 440.6 39.1 445.1 38.4 449.5 37.8 454 37.4 458.4 37.5 462.8 38.1 467.3 38.3 471.7 38.4 476.2 38.5 480.6 38.1 485 38 489.5 38.1 493.9 38.8 498.4 39.9 502.8 41.3 507.2 42.5 511.7 43.2 516.1 43.2 520.6 42.8 525 42.6 529.4 42.8 533.9 43.8 538.3 45.4 542.8 47.1"/>
<path d="M369.6 11.9 374 11.6 378.5 12.5 382.9 13.3 387.4 14.9 391.8 17.7 396.2 21.7 400.7 26 405.1 29.5 409.6 31.7 414 32.7 418.4 32.7 422.9 32.6 427.3 32.8 431.8 33.5 436.2 34.6 440.6 35.1 445.1 35.3 449.5 34.6 454 33 458.4 31 462.8 29.5 467.3 28.5 471.7 28.8 476.2 30.5 480.6 32.5 485 34.5 489.5 36 493.9 36.8 498.4 36.9 502.8 36.9 507.2 37.4 511.7 38.4 516.1 39.9 520.6 41.4 525 42.5 529.4 42.6 533.9 42 538.3 40.8 542.8 39.5"/>
<path d="M369.6 12.4 374 15.4 378.5 20.1 382.9 24.2 387.4 26.7 391.8 28 396.2 27.6 400.7 27.4 405.1 28 409.6 29.4 414 31.8 418.4 34.2 422.9 36.1 427.3 37.1 431.8 37.4 436.2 37.3 440.6 36.6 445.1 36.4 449.5 36.5 454 36.8 458.4 37.2 462.8 37.8 467.3 37.7 471.7 37.7 476.2 37.8 480.6 38 485 38.8 489.5 40.2 493.9 41.9 498.4 43.6 502.8 44.9 507.2 45.3 511.7 45 516.1 44.2 520.6 43.2 525 42.8 529.4 42.9 533.9 43.6 538.3 44.5 542.8 45"/>
<path d="M369.6 11.1 374 15.7 378.5 21 382.9 26.6 387.4 31.7 391.8 36.3 396.2 37.6 400.7 38 405.1 37.8 409.6 37.8 414 38.6 418.4 39.8 422.9 41.4 427.3 42.6 431.8 43.1 436.2 42.9 440.6 41.4 445.1 39.9 449.5 38.4 454 37.2 458.4 36.6 462.8 36.8 467.3 37.1 471.7 37.6 476.2 38.1 480.6 38.2 485 38.5 489.5 39.1 493.9 40.1 498.4 41.8 502.8 43.9 507.2 46 511.7 47.5 516.1 48.2 520.6 48.1 525 47.8 529.4 47.5 533.9 47.9 538.3 48.9 542.8 50.1"/>
<path d="M369.6 11.7 374 16.2 378.5 20.9 382.9 25.5 387.4 30.7 391.8 36.9 396.2 41.2 400.7 44.4 405.1 45.9 409.6 45.9 414 45.1 418.4 43.8 422.9 43.1 427.3 43 431.8 43.3 436.2 43.6 440.6 43 445.1 41.9 449.5 40.2 454 38 458.4 36.2 462.8 35.4 467.3 35.6 471.7 37 476.2 39.4 480.6 41.5 485 43.5 489.5 44.9 493.9 45.8 498.4 46.5 502.8 47.6 507.2 49 511.7 50.7 516.1 52.2 520.6 52.8 525 52.6 529.4 51.2 533.9 49.5 538.3 48 542.8 47"/>
<path d="M369.6 11.2 374 14.2 378.5 16.7 382.9 18.3 387.4 19.8 391.8 22.1 396.2 24.9 400.7 28.1 405.1 30.6 409.6 32 414 32.5 418.4 32.2 422.9 32.1 427.3 32.5 431.8 33.4 436.2 35.1 440.6 36.1 445.1 37 449.5 36.9 454 35.9 458.4 34.4 462.8 33.2 467.3 32.2 471.7 32.5 476.2 33.9 480.6 35.4 485 37 489.5 38 493.9 38.2 498.4 37.6 502.8 37 507.2 37 511.7 37.8 516.1 39.2 520.6 40.8 525 42.4 529.4 43.2 533.9 43.3 538.3 42.9 542.8 42.4"/>
<path d="M369.6 9.3 374 15.6 378.5 20.5 382.9 24.5 387.4 26.7 391.8 27.5 396.2 26.4 400.7 25.7 405.1 25.8 409.6 27 414 29.3 418.4 31.8 422.9 34.1 427.3 35.6 431.8 36.2 436.2 36.7 440.6 36.4 445.1 36.6 449.5 37 454 37.5 458.4 38 462.8 38.5 467.3 38.1 471.7 37.6 476.2 37.2 480.6 36.6 485 36.6 489.5 37.1 493.9 38 498.4 38.9 502.8 39.6 507.2 39.8 511.7 39.5 516.1 39 520.6 38.7 525 39.2 529.4 40.3 533.9 42.3 538.3 44.5 542.8 46.2"/>
<path d="M369.6 12.2 374 11.5 378.5 13.5 382.9 15.2 387.4 16.3 391.8 16.7 396.2 17.7 400.7 19.7 405.1 22.7 409.6 26.3 414 30.2 418.4 33.3 422.9 35.3 427.3 36.2 431.8 36.3 436.2 36.3 440.6 35.7 445.1 35.6 449.5 35.6 454 35.2 458.4 34.4 462.8 33.5 467.3 31.9 471.7 30.6 476.2 30 480.6 30 485 30.8 489.5 32.2 493.9 34 498.4 35.6 502.8 36.8 507.2 37.6 511.7 38 516.1 38.3 520.6 39 525 40.4 529.4 42 533.9 43.7 538.3 45 542.8 45.2"/>
<path d="M369.6 11 374 14.1 378.5 16.6 382.9 19.1 387.4 22.2 391.8 26 396.2 28.8 400.7 30.8 405.1 31.5 409.6 31.4 414 31.3 418.4 31.6 422.9 32.9 427.3 34.8 431.8 36.7 436.2 38.3 440.6 38.7 445.1 38.3 449.5 37.2 454 35.6 458.4 34.4 462.8 34.1 467.3 34.4 471.7 35.5 476.2 37.1 480.6 38.2 485 38.8 489.5 38.9 493.9 38.6 498.4 38.5 502.8 39 507.2 40.2 511.7 41.7 516.1 43 520.6 43.6 525 43.5 529.4 42.7 533.9 41.9 538.3 41.6 542.8 41.9"/>
<path d="M369.6 11.2 374 12.9 378.5 16 382.9 20.2 387.4 25.1 391.8 30.2 396.2 33 400.7 34.3 405.1 34.3 409.6 33.5 414 33.1 418.4 33.1 422.9 34.1 427.3 35.2 431.8 36.1 436.2 36.5 440.6 35.5 445.1 34.2 449.5 32.5 454 30.9 458.4 29.9 462.8 30.2 467.3 30.9 471.7 32.4 476.2 34.3 480.6 35.6 485 36.5 489.5 37.3 493.9 38.1 498.4 39.3 502.8 41.1 507.2 43.1 511.7 44.9 516.1 45.9 520.6 45.8 525 44.9 529.4 43.4 533.9 42.2 538.3 41.5 542.8 41.5"/>
<path d="M369.6 11.4 374 15 378.5 19.4 382.9 23.7 387.4 27.2 391.8 29.8 396.2 30.2 400.7 30.4 405.1 30.7 409.6 31.9 414 34.1 418.4 36.7 422.9 39.2 427.3 41 431.8 41.9 436.2 42.1 440.6 41.3 445.1 40.7 449.5 40.3 454 40.3 458.4 40.6 462.8 41.3 467.3 41.7 471.7 42 476.2 42.3 480.6 42.3 485 42.7 489.5 43.5 493.9 44.7 498.4 46.3 502.8 47.8 507.2 48.8 511.7 48.9 516.1 48.3 520.6 47.1 525 46.2 529.4 45.6 533.9 45.7 538.3 46.5 542.8 47.2"/>
<path d="M369.6 11.6 374 21.7 378.5 30.7 382.9 38.5 387.4 44.2 391.8 49 396.2 48.9 400.7 48.1 405.1 47.1 409.6 46.5 414 47.1 418.4 47.9 422.9 49 427.3 49.9 431.8 50.2 436.2 49.8 440.6 48.6 445.1 47.4 449.5 46.5 454 46 458.4 46 462.8 46.6 467.3 47 471.7 47.5 476.2 47.9 480.6 47.8 485 48.2 489.5 48.8 493.9 49.8 498.4 51.3 502.8 53.1 507.2 54.4 511.7 55.1 516.1 55.1 520.6 54.5 525 53.9 529.4 53.6 533.9 54.2 538.3 55.5 542.8 57"/>
<path d="M369.6 11.2 374 13.3 378.5 16.6 382.9 19.1 387.4 20.3 391.8 20.6 396.2 20.6 400.7 21.5 405.1 23.4 409.6 25.8 414 28.5 418.4 30.6 422.9 32 427.3 32.4 431.8 32.2 436.2 32.2 440.6 31.8 445.1 32 449.5 32.4 454 32.6 458.4 32.6 462.8 32.4 467.3 31.7 471.7 31.3 476.2 31.5 480.6 32.2 485 33.7 489.5 35.7 493.9 37.9 498.4 39.7 502.8 40.9 507.2 41.4 511.7 41.4 516.1 41.3 520.6 41.6 525 42.5 529.4 43.7 533.9 45 538.3 46 542.8 46.1"/>
<path d="M369.6 10.6 374 12.7 378.5 15.8 382.9 19.8 387.4 24.1 391.8 28.1 396.2 29.9 400.7 30.9 405.1 31.4 409.6 32.1 414 33.7 418.4 35.8 422.9 38.3 427.3 40.4 431.8 41.6 436.2 42.1 440.6 41.3 445.1 40.4 449.5 39.4 454 38.6 458.4 38.4 462.8 38.9 467.3 39.5 471.7 40.2 476.2 41 480.6 41.2 485 41.5 489.5 42 493.9 43 498.4 44.4 502.8 46.3 507.2 48 511.7 49.2 516.1 49.5 520.6 49 525 48.2 529.4 47.5 533.9 47.4 538.3 48 542.8 48.9"/>
<path d="M369.6 11.6 374 18.1 378.5 23.3 382.9 26.3 387.4 28 391.8 30.2 396.2 32.1 400.7 34.9 405.1 37.5 409.6 39.5 414 40.4 418.4 40.1 422.9 39.5 427.3 39 431.8 39 436.2 39.7 440.6 40.2 445.1 40.8 449.5 40.8 454 39.9 458.4 38.5 462.8 37.2 467.3 35.9 471.7 35.8 476.2 36.9 480.6 38.6 485 40.8 489.5 42.8 493.9 44 498.4 44.5 502.8 44.5 507.2 44.6 511.7 45.1 516.1 46.3 520.6 47.9 525 49.7 529.4 50.9 533.9 51.3 538.3 51.1 542.8 50.3"/>
<path d="M369.6 11.8 374 13.5 378.5 17.7 382.9 22.1 387.4 25.5 391.8 27.9 396.2 28.5 400.7 29.4 405.1 30.8 409.6 32.9 414 35.7 418.4 38.2 422.9 40 427.3 40.8 431.8 40.8 436.2 40.3 440.6 39.3 445.1 38.7 449.5 38.4 454 38.3 458.4 38.3 462.8 38.4 467.3 37.9 471.7 37.4 476.2 37.2 480.6 37.1 485 37.7 489.5 38.9 493.9 40.4 498.4 42.1 502.8 43.4 507.2 44 511.7 43.9 516.1 43.3 520.6 42.6 525 42.5 529.4 42.8 533.9 43.8 538.3 44.9 542.8 45.5"/>
<path d="M369.6 10.2 374 13.1 378.5 16.9 382.9 21.3 387.4 25.3 391.8 28.4 396.2 29.4 400.7 30.1 405.1 31 409.6 32.4 414 34.8 418.4 37.3 422.9 39.7 427.3 41.2 431.8 41.7 436.2 41.6 440.6 40.5 445.1 39.7 449.5 39.1 454 38.8 458.4 38.9 462.8 39.3 467.3 39.4 471.7 39.5 476.2 39.7 480.6 39.6 485 40 489.5 40.9 493.9 42.4 498.4 44.1 502.8 45.9 507.2 47.1 511.7 47.6 516.1 47.2 520.6 46.5 525 46 529.4 45.8 533.9 46.4 538.3 47.4 542.8 48.2"/>
<path d="M369.6 10.9 374 11.1 378.5 11.5 382.9 11.6 387.4 12.4 391.8 14.2 396.2 17.7 400.7 21.4 405.1 24.4 409.6 26.2 414 27 418.4 27.1 422.9 27.5 427.3 28.2 431.8 29.3 436.2 31.1 440.6 31.9 445.1 32.5 449.5 32.1 454 30.6 458.4 28.8 462.8 27.4 467.3 26.4 471.7 26.7 476.2 28.2 480.6 29.9 485 31.5 489.5 32.5 493.9 32.8 498.4 32.4 502.8 32.1 507.2 32.5 511.7 33.6 516.1 35.2 520.6 36.9 525 38.3 529.4 38.9 533.9 38.7 538.3 38.1 542.8 37.4"/>
<path d="M369.6 11.4 374 15.1 378.5 17.9 382.9 19.8 387.4 22.1 391.8 25.4 396.2 28.8 400.7 32 405.1 34.2 409.6 35.1 414 35.3 418.4 35 422.9 35.2 427.3 36.1 431.8 37.4 436.2 39.1 440.6 39.8 445.1 40.1 449.5 39.4 454 37.9 458.4 36.2 462.8 35.2 467.3 34.7 471.7 35.5 476.2 37.3 480.6 39 485 40.6 489.5 41.6 493.9 41.9 498.4 41.7 502.8 41.8 507.2 42.6 511.7 43.9 516.1 45.6 520.6 47 525 47.9 529.4 47.8 533.9 47 538.3 46.1 542.8 45.3"/>
<path d="M369.6 10.5 374 16.9 378.5 23.2 382.9 28.7 387.4 32.5 391.8 35.1 396.2 35.1 400.7 35.3 405.1 36 409.6 37.5 414 39.7 418.4 41.4 422.9 42.6 427.3 42.8 431.8 42.2 436.2 41.4 440.6 40.1 445.1 39.4 449.5 39 454 38.8 458.4 38.8 462.8 38.9 467.3 38.4 471.7 38 476.2 38 480.6 38.1 485 39.1 489.5 40.7 493.9 42.7 498.4 44.8 502.8 46.5 507.2 47.4 511.7 47.6 516.1 47.3 520.6 47 525 47.2 529.4 47.9 533.9 49.1 538.3 50.3 542.8 50.9"/>
<path d="M369.6 10.8 374 16.3 378.5 20 382.9 22.5 387.4 24.7 391.8 28 396.2 31.2 400.7 34.6 405.1 37.4 409.6 39 414 39.6 418.4 39.2 422.9 38.9 427.3 39.1 431.8 39.8 436.2 41.1 440.6 41.8 445.1 42.2 449.5 41.7 454 40.3 458.4 38.5 462.8 37.1 467.3 36 471.7 36.3 476.2 37.7 480.6 39.3 485 41 489.5 42.2 493.9 42.6 498.4 42.4 502.8 42.1 507.2 42.3 511.7 43.3 516.1 44.7 520.6 46.3 525 47.6 529.4 48 533.9 47.7 538.3 47 542.8 46.2"/>
<path d="M369.6 11.9 374 12.2 378.5 15.8 382.9 19.7 387.4 22.4 391.8 23.9 396.2 24.2 400.7 24.7 405.1 25.8 409.6 27.5 414 29.6 418.4 31.2 422.9 32.2 427.3 32.3 431.8 31.8 436.2 31.3 440.6 30.4 445.1 30.3 449.5 30.5 454 30.7 458.4 31.1 462.8 31.4 467.3 31.3 471.7 31.3 476.2 31.7 480.6 32.4 485 33.7 489.5 35.5 493.9 37.4 498.4 39.1 502.8 40 507.2 40.1 511.7 39.4 516.1 38.4 520.6 37.5 525 37.2 529.4 37.5 533.9 38.2 538.3 39 542.8 39.3"/>
<path d="M369.6 11.7 374 15.7 378.5 20.1 382.9 23 387.4 24.2 391.8 24.9 396.2 25.3 400.7 26.8 405.1 29.2 409.6 31.8 414 34.2 418.4 35.6 422.9 36.2 427.3 36 431.8 35.7 436.2 35.7 440.6 35.6 445.1 36.2 449.5 36.7 454 36.8 458.4 36.4 462.8 35.8 467.3 34.8 471.7 34.3 476.2 34.8 480.6 35.9 485 37.8 489.5 40.2 493.9 42.3 498.4 43.9 502.8 44.8 507.2 45 511.7 45.1 516.1 45.3 520.6 46.1 525 47.5 529.4 49 533.9 50.4 538.3 51.1 542.8 51"/>
<path d="M369.6 10.5 374 14 378.5 17.2 382.9 20.8 387.4 25 391.8 29.8 396.2 33 400.7 35.1 405.1 35.5 409.6 34.7 414 33.6 418.4 32.6 422.9 32.7 427.3 33.4 431.8 34.4 436.2 35.5 440.6 35.4 445.1 34.8 449.5 33.6 454 32 458.4 30.8 462.8 30.7 467.3 31.4 471.7 33.1 476.2 35.6 480.6 37.5 485 39.1 489.5 40 493.9 40.3 498.4 40.6 502.8 41.3 507.2 42.5 511.7 43.9 516.1 44.8 520.6 45 525 44.4 529.4 42.9 533.9 41.2 538.3 39.9 542.8 39.3"/>
<path d="M369.6 11.2 374 14.9 378.5 19.1 382.9 22 387.4 23.7 391.8 25.5 396.2 27.2 400.7 30 405.1 33.2 409.6 36.1 414 38.3 418.4 39.1 422.9 39.1 427.3 38.6 431.8 38.1 436.2 38.3 440.6 38.3 445.1 38.7 449.5 38.9 454 38.3 458.4 37.2 462.8 35.8 467.3 34.1 471.7 33.2 476.2 33.5 480.6 34.4 485 36 489.5 37.7 493.9 39 498.4 39.5 502.8 39.4 507.2 39 511.7 38.8 516.1 39.2 520.6 40.1 525 41.6 529.4 43 533.9 44 538.3 44.4 542.8 44"/>
<path d="M369.6 10.9 374 13.3 378.5 15.6 382.9 17 387.4 18.4 391.8 20.4 396.2 23.3 400.7 27 405.1 30.3 409.6 32.8 414 34.2 418.4 34.3 422.9 34.3 427.3 34.2 431.8 34.6 436.2 35.7 440.6 36.3 445.1 36.9 449.5 36.8 454 35.6 458.4 33.9 462.8 32.3 467.3 30.8 471.7 30.5 476.2 31.4 480.6 32.9 485 34.5 489.5 35.8 493.9 36.3 498.4 36 502.8 35.4 507.2 35.2 511.7 35.5 516.1 36.5 520.6 37.9 525 39.3 529.4 40.2 533.9 40.3 538.3 39.9 542.8 39"/>
<path d="M369.6 10.3 374 11.8 378.5 13.5 382.9 15.9 387.4 18.5 391.8 20.5 396.2 21.6 400.7 22.4 405.1 23.3 409.6 24.9 414 27.7 418.4 31.1 422.9 34.6 427.3 37.3 431.8 39 436.2 39.8 440.6 39.2 445.1 38.5 449.5 37.7 454 37 458.4 36.6 462.8 36.6 467.3 36.3 471.7 36 476.2 35.6 480.6 34.8 485 34.1 489.5 33.7 493.9 33.9 498.4 34.7 502.8 36 507.2 37.4 511.7 38.4 516.1 38.8 520.6 38.8 525 39 529.4 39.5 533.9 40.9 538.3 42.9 542.8 45"/>
<path d="M369.6 10.6 374 17.8 378.5 22.3 382.9 25.1 387.4 27.6 391.8 30.9 396.2 33.6 400.7 36.3 405.1 38 409.6 38.7 414 38.7 418.4 38.3 422.9 38.3 427.3 39.1 431.8 40.4 436.2 42.2 440.6 43.1 445.1 43.4 449.5 42.8 454 41.4 458.4 39.6 462.8 38.4 467.3 37.6 471.7 38 476.2 39.3 480.6 40.7 485 41.9 489.5 42.6 493.9 42.6 498.4 42.2 502.8 42.1 507.2 42.7 511.7 44.2 516.1 46.1 520.6 47.9 525 49.3 529.4 49.7 533.9 49.6 538.3 49.1 542.8 48.7"/>
<path d="M369.6 11.3 374 12.9 378.5 16.3 382.9 19.5 387.4 21.9 391.8 23.2 396.2 23.7 400.7 24.6 405.1 26.3 409.6 28.8 414 32 418.4 34.8 422.9 37 427.3 38 431.8 38.1 436.2 37.9 440.6 37 445.1 36.5 449.5 36.3 454 36.1 458.4 35.9 462.8 35.7 467.3 34.8 471.7 34 476.2 33.6 480.6 33.3 485 33.8 489.5 34.9 493.9 36.5 498.4 38.2 502.8 39.6 507.2 40.4 511.7 40.7 516.1 40.6 520.6 40.6 525 41.2 529.4 42.2 533.9 43.8 538.3 45.4 542.8 46.3"/>
<path d="M369.6 11.3 374 12.3 378.5 15.5 382.9 19.3 387.4 22.9 391.8 25.6 396.2 26.7 400.7 27.4 405.1 28.3 409.6 29.9 414 32.4 418.4 35.1 422.9 37.6 427.3 39.3 431.8 39.9 436.2 39.8 440.6 38.8 445.1 37.9 449.5 37.2 454 36.8 458.4 36.7 462.8 37 467.3 36.8 471.7 36.7 476.2 36.6 480.6 36.3 485 36.3 489.5 36.9 493.9 37.9 498.4 39.3 502.8 40.8 507.2 41.8 511.7 42.2 516.1 41.8 520.6 41 525 40.6 529.4 40.6 533.9 41.4 538.3 42.7 542.8 44"/>
<path d="M369.6 11.6 374 14.6 378.5 18.7 382.9 21.6 387.4 23.1 391.8 24.1 396.2 25 400.7 27 405.1 29.5 409.6 32 414 34.1 418.4 35.1 422.9 35.3 427.3 34.9 431.8 34.4 436.2 34.6 440.6 34.6 445.1 35.2 449.5 35.7 454 35.7 458.4 35.2 462.8 34.5 467.3 33.4 471.7 32.9 476.2 33.4 480.6 34.5 485 36.3 489.5 38.3 493.9 40 498.4 40.9 502.8 41 507.2 40.5 511.7 40.1 516.1 39.9 520.6 40.3 525 41.4 529.4 42.5 533.9 43.4 538.3 43.7 542.8 43.3"/>
<path d="M369.6 12 374 11.2 378.5 13.7 382.9 16.4 387.4 18.3 391.8 19.1 396.2 19.4 400.7 20.1 405.1 21.6 409.6 23.7 414 26.5 418.4 29.1 422.9 31 427.3 31.9 431.8 32 436.2 31.9 440.6 31.1 445.1 31 449.5 31 454 31.1 458.4 31.2 462.8 31.3 467.3 30.8 471.7 30.4 476.2 30.4 480.6 30.7 485 31.4 489.5 32.8 493.9 34.5 498.4 36.1 502.8 37.3 507.2 37.9 511.7 37.8 516.1 37.2 520.6 36.7 525 36.9 529.4 37.5 533.9 38.6 538.3 39.7 542.8 40.2"/>
<path d="M369.6 10.4 374 16 378.5 19.1 382.9 20.8 387.4 22.1 391.8 24.3 396.2 26.9 400.7 29.9 405.1 32.3 409.6 33.7 414 34.2 418.4 33.9 422.9 33.8 427.3 34.1 431.8 35 436.2 36.6 440.6 37.5 445.1 38.2 449.5 38.1 454 37 458.4 35.6 462.8 34.5 467.3 33.8 471.7 34.4 476.2 36.2 480.6 38.2 485 40.4 489.5 42 493.9 42.8 498.4 43 502.8 43 507.2 43.4 511.7 44.4 516.1 45.9 520.6 47.5 525 48.7 529.4 49.1 533.9 48.7 538.3 47.7 542.8 46.5"/>
<path d="M369.6 11.5 374 16.1 378.5 21.3 382.9 25.3 387.4 27.7 391.8 29.6 396.2 30.7 400.7 32.8 405.1 35.7 409.6 39 414 42.2 418.4 44 422.9 44.9 427.3 44.8 431.8 44.2 436.2 43.9 440.6 43.3 445.1 43.3 449.5 43.4 454 43.1 458.4 42.3 462.8 41.3 467.3 39.7 471.7 38.4 476.2 38 480.6 38.1 485 39.1 489.5 40.7 493.9 42.3 498.4 43.5 502.8 44.1 507.2 44.1 511.7 43.9 516.1 44 520.6 44.7 525 46.1 529.4 47.9 533.9 49.8 538.3 51.2 542.8 51.7"/>
<path d="M369.6 10.3 374 17.1 378.5 23.1 382.9 27.8 387.4 30.4 391.8 32.4 396.2 33.1 400.7 34.6 405.1 37 409.6 39.7 414 42.3 418.4 43.6 422.9 44.1 427.3 43.7 431.8 43 436.2 42.6 440.6 42 445.1 42.1 449.5 42.4 454 42.3 458.4 41.9 462.8 41.2 467.3 39.9 471.7 39.1 476.2 39.1 480.6 39.6 485 41 489.5 43 493.9 44.8 498.4 46.1 502.8 46.8 507.2 46.6 511.7 46.1 516.1 45.8 520.6 46 525 46.9 529.4 48 533.9 49.2 538.3 49.9 542.8 49.8"/>
<path d="M369.6 10.2 374 16.5 378.5 19.4 382.9 20.5 387.4 21.2 391.8 22.9 396.2 25.4 400.7 28.5 405.1 31.3 409.6 33.3 414 34.6 418.4 35.3 422.9 36.1 427.3 37.4 431.8 39 436.2 41.1 440.6 42.2 445.1 42.9 449.5 42.4 454 40.8 458.4 38.7 462.8 36.7 467.3 35 471.7 34.6 476.2 35.3 480.6 36.3 485 37.5 489.5 38.2 493.9 38.4 498.4 38.3 502.8 38.4 507.2 39.4 511.7 41.2 516.1 43.6 520.6 46.1 525 48.3 529.4 49.4 533.9 49.5 538.3 49 542.8 48.1"/>
<path d="M369.6 11.1 374 17.8 378.5 22 382.9 24.3 387.4 26 391.8 28.6 396.2 31 400.7 33.7 405.1 35.7 409.6 36.6 414 36.6 418.4 36 422.9 35.6 427.3 35.8 431.8 36.7 436.2 38.2 440.6 39 445.1 39.5 449.5 39.2 454 38 458.4 36.5 462.8 35.5 467.3 34.9 471.7 35.7 476.2 37.6 480.6 39.8 485 42 489.5 43.7 493.9 44.7 498.4 45.1 502.8 45.4 507.2 46.2 511.7 47.6 516.1 49.4 520.6 51.2 525 52.6 529.4 53.1 533.9 52.7 538.3 51.9 542.8 51"/>
<path d="M369.6 10.6 374 14.4 378.5 17.5 382.9 19.9 387.4 22.2 391.8 25.4 396.2 29 400.7 32.9 405.1 36.2 409.6 38.2 414 39.1 418.4 38.6 422.9 38 427.3 37.6 431.8 37.7 436.2 38.4 440.6 38.6 445.1 38.8 449.5 38.1 454 36.6 458.4 34.6 462.8 33 467.3 31.8 471.7 31.9 476.2 33.3 480.6 35.3 485 37.4 489.5 39.3 493.9 40.4 498.4 40.8 502.8 41 507.2 41.5 511.7 42.7 516.1 44.2 520.6 46 525 47.4 529.4 48 533.9 47.7 538.3 46.7 542.8 45.4"/>
<path d="M369.6 11.8 374 14 378.5 17.6 382.9 21.6 387.4 25.5 391.8 28.9 396.2 30.2 400.7 30.6 405.1 30.7 409.6 31.1 414 32.6 418.4 34.6 422.9 37.1 427.3 39.1 431.8 40.3 436.2 40.8 440.6 40 445.1 39.1 449.5 38.2 454 37.4 458.4 37.3 462.8 37.9 467.3 38.4 471.7 39 476.2 39.7 480.6 39.8 485 40 489.5 40.3 493.9 41.1 498.4 42.3 502.8 44 507.2 45.4 511.7 46.4 516.1 46.4 520.6 45.7 525 44.8 529.4 44 533.9 43.9 538.3 44.5 542.8 45.5"/>
<path d="M369.6 11.3 374 13.4 378.5 15.4 382.9 17.6 387.4 20.9 391.8 25.4 396.2 29.6 400.7 33.3 405.1 35.6 409.6 36.6 414 37 418.4 36.9 422.9 37.5 427.3 38.5 431.8 39.8 436.2 41 440.6 41.1 445.1 40.5 449.5 39 454 36.8 458.4 34.6 462.8 33.3 467.3 32.7 471.7 33.3 476.2 34.9 480.6 36.3 485 37.4 489.5 38 493.9 38.2 498.4 38.4 502.8 39.1 507.2 40.6 511.7 42.8 516.1 45 520.6 46.7 525 47.6 529.4 47.4 533.9 46.8 538.3 46.1 542.8 45.7"/>
<path d="M369.6 12.3 374 14.2 378.5 17.3 382.9 19.5 387.4 21.3 391.8 23.8 396.2 26.9 400.7 30.6 405.1 34.1 409.6 36.5 414 37.9 418.4 37.8 422.9 37.2 427.3 36.5 431.8 36.3 436.2 36.8 440.6 37 445.1 37.4 449.5 37.2 454 36.2 458.4 34.8 462.8 33.5 467.3 32.3 471.7 32.4 476.2 33.8 480.6 35.7 485 38.1 489.5 40.2 493.9 41.5 498.4 41.8 502.8 41.7 507.2 41.4 511.7 41.6 516.1 42.2 520.6 43.2 525 44.3 529.4 44.9 533.9 44.8 538.3 44.1 542.8 43"/>
<path d="M369.6 11.8 374 13.7 378.5 17.9 382.9 21.3 387.4 23.1 391.8 23.8 396.2 23.7 400.7 24.2 405.1 25.6 409.6 27.5 414 29.6 418.4 31 422.9 31.9 427.3 31.9 431.8 31.6 436.2 31.6 440.6 31.3 445.1 31.8 449.5 32.5 454 33 458.4 33.3 462.8 33.4 467.3 32.9 471.7 32.7 476.2 33.1 480.6 33.8 485 35.1 489.5 36.9 493.9 38.5 498.4 39.6 502.8 39.9 507.2 39.4 511.7 38.4 516.1 37.5 520.6 36.9 525 37.2 529.4 38 533.9 39.1 538.3 40 542.8 40.3"/>
<path d="M369.6 11.2 374 16.7 378.5 20.8 382.9 23.1 387.4 24.5 391.8 26.4 396.2 28.5 400.7 31.7 405.1 34.9 409.6 37.4 414 39 418.4 39.3 422.9 39.2 427.3 39.2 431.8 39.6 436.2 40.7 440.6 41.5 445.1 42.5 449.5 42.9 454 42.5 458.4 41.5 462.8 40.5 467.3 39.5 471.7 39.5 476.2 40.8 480.6 42.6 485 45 489.5 47.2 493.9 48.6 498.4 49.1 502.8 49.1 507.2 48.9 511.7 49.1 516.1 49.9 520.6 51 525 52.3 529.4 53 533.9 53 538.3 52.3 542.8 51"/>
<path d="M369.6 10.5 374 12.5 378.5 14.1 382.9 16.2 387.4 19.5 391.8 23.6 396.2 27.1 400.7 29.7 405.1 31 409.6 31.3 414 31.6 418.4 32.2 422.9 33.7 427.3 35.6 431.8 37.6 436.2 39.2 440.6 39.4 445.1 39 449.5 37.8 454 36.2 458.4 34.9 462.8 34.6 467.3 34.9 471.7 36.1 476.2 37.8 480.6 39.1 485 40 489.5 40.3 493.9 40.4 498.4 40.7 502.8 41.6 507.2 43.2 511.7 45.1 516.1 46.6 520.6 47.4 525 47.5 529.4 46.8 533.9 45.9 538.3 45.5 542.8 45.6"/>
<path d="M369.6 11.3 374 16.5 378.5 22.1 382.9 26.4 387.4 29.1 391.8 31.3 396.2 32.5 400.7 34.6 405.1 37.5 409.6 40.4 414 43 418.4 44.2 422.9 44.4 427.3 43.7 431.8 42.7 436.2 42.1 440.6 41.4 445.1 41.3 449.5 41.2 454 40.8 458.4 39.9 462.8 38.8 467.3 37.3 471.7 36.3 476.2 36.4 480.6 37.1 485 38.8 489.5 40.9 493.9 43.1 498.4 44.7 502.8 45.7 507.2 46 511.7 46.1 516.1 46.4 520.6 47.2 525 48.6 529.4 50.1 533.9 51.4 538.3 52.1 542.8 51.8"/>
<path d="M369.6 12.1 374 15.5 378.5 19.3 382.9 23.2 387.4 27.7 391.8 32.8 396.2 36 400.7 38.1 405.1 38.9 409.6 38.8 414 38.6 418.4 38.7 422.9 39.6 427.3 40.9 431.8 42.2 436.2 43.2 440.6 42.8 445.1 41.8 449.5 40.1 454 38.2 458.4 36.7 462.8 36.2 467.3 36.2 471.7 37.2 476.2 38.7 480.6 39.7 485 40.4 489.5 40.7 493.9 40.9 498.4 41.3 502.8 42.5 507.2 44.3 511.7 46.4 516.1 48 520.6 48.9 525 49 529.4 48.4 533.9 47.7 538.3 47.5 542.8 47.8"/>
<path d="M369.6 10.6 374 15.8 378.5 18.8 382.9 20.3 387.4 21.3 391.8 23.2 396.2 25.8 400.7 28.9 405.1 31.7 409.6 33.4 414 34.3 418.4 34.3 422.9 34.3 427.3 34.7 431.8 35.7 436.2 37.3 440.6 38.4 445.1 39.3 449.5 39.4 454 38.6 458.4 37.3 462.8 36.3 467.3 35.6 471.7 36.1 476.2 37.8 480.6 39.8 485 42.1 489.5 43.8 493.9 44.7 498.4 44.9 502.8 44.8 507.2 44.9 511.7 45.6 516.1 46.8 520.6 48.1 525 49.3 529.4 49.5 533.9 49 538.3 47.9 542.8 46.6"/>
<path d="M369.6 10.7 374 13.3 378.5 17.2 382.9 20.4 387.4 22.3 391.8 23.5 396.2 24.3 400.7 26 405.1 28.2 409.6 30.6 414 32.9 418.4 34.1 422.9 34.5 427.3 34.2 431.8 33.6 436.2 33.4 440.6 33.1 445.1 33.6 449.5 34.1 454 34.2 458.4 34.1 462.8 33.7 467.3 32.9 471.7 32.5 476.2 32.9 480.6 33.7 485 35.3 489.5 37.2 493.9 38.9 498.4 39.9 502.8 40.1 507.2 39.6 511.7 38.9 516.1 38.3 520.6 38.3 525 39.1 529.4 40.3 533.9 41.5 538.3 42.3 542.8 42.4"/>
<path d="M369.6 10.2 374 13.2 378.5 16.5 382.9 19 387.4 20.7 391.8 22.1 396.2 23.8 400.7 26.6 405.1 30.1 409.6 33.7 414 37 418.4 38.9 422.9 39.8 427.3 39.9 431.8 39.7 436.2 39.9 440.6 40 445.1 40.5 449.5 40.8 454 40.7 458.4 39.9 462.8 38.9 467.3 37.3 471.7 36.2 476.2 36.1 480.6 36.5 485 37.7 489.5 39.2 493.9 40.5 498.4 41 502.8 40.8 507.2 40.2 511.7 39.5 516.1 39.1 520.6 39.4 525 40.5 529.4 41.7 533.9 42.9 538.3 43.5 542.8 43.4"/>
<path d="M369.6 12 374 12 378.5 14.3 382.9 16.1 387.4 17.3 391.8 18.1 396.2 19.7 400.7 22.4 405.1 25.9 409.6 29.5 414 32.8 418.4 34.9 422.9 35.9 427.3 36 431.8 35.8 436.2 35.8 440.6 35.5 445.1 35.7 449.5 35.7 454 35.3 458.4 34.3 462.8 33.1 467.3 31.4 471.7 30.3 476.2 30.2 480.6 30.8 485 32.2 489.5 34 493.9 35.8 498.4 37.1 502.8 37.7 507.2 38 511.7 38.2 516.1 38.6 520.6 39.6 525 41.2 529.4 42.8 533.9 44.2 538.3 45 542.8 44.7"/>
<path d="M369.6 11.3 374 10.4 378.5 11.9 382.9 15 387.4 19.1 391.8 23 396.2 25.7 400.7 27.5 405.1 28.8 409.6 30.3 414 32.4 418.4 34.8 422.9 37.2 427.3 38.9 431.8 39.6 436.2 39.4 440.6 37.7 445.1 36 449.5 34.1 454 32.5 458.4 31.6 462.8 31.5 467.3 31.4 471.7 31.8 476.2 32.4 480.6 32.6 485 33 489.5 33.9 493.9 35.3 498.4 37.3 502.8 39.8 507.2 42.2 511.7 43.9 516.1 44.5 520.6 44.2 525 43.6 529.4 42.8 533.9 42.6 538.3 42.9 542.8 43.3"/>
<path d="M369.6 11.5 374 15.2 378.5 21.3 382.9 27.7 387.4 32.8 391.8 36.9 396.2 37.4 400.7 37.3 405.1 37.1 409.6 37.3 414 38.3 418.4 39.2 422.9 40 427.3 40.1 431.8 39.5 436.2 38.7 440.6 37.2 445.1 36.4 449.5 36 454 36.1 458.4 36.7 462.8 37.8 467.3 38.4 471.7 39.1 476.2 39.8 480.6 40.1 485 40.9 489.5 42.1 493.9 43.5 498.4 44.9 502.8 46 507.2 46.4 511.7 45.9 516.1 44.8 520.6 43.4 525 42.6 529.4 42.4 533.9 43.3 538.3 44.8 542.8 46.3"/>
<path d="M369.6 11.1 374 18.5 378.5 24.2 382.9 27.4 387.4 28.5 391.8 29.4 396.2 29.9 400.7 31.5 405.1 33.6 409.6 35.6 414 37.2 418.4 37.6 422.9 37.6 427.3 37.3 431.8 37.4 436.2 38.2 440.6 39 445.1 40.1 449.5 41 454 41.1 458.4 40.5 462.8 39.7 467.3 38.6 471.7 38.2 476.2 38.9 480.6 40 485 41.8 489.5 43.5 493.9 44.6 498.4 44.7 502.8 44.1 507.2 43.2 511.7 42.5 516.1 42.5 520.6 43.2 525 44.4 529.4 45.6 533.9 46.5 538.3 46.8 542.8 46.6"/>
<path d="M369.6 11.6 374 16 378.5 22.1 382.9 27.8 387.4 31.8 391.8 34.4 396.2 34 400.7 33.6 405.1 33.5 409.6 34.1 414 35.5 418.4 36.7 422.9 37.7 427.3 37.8 431.8 37.2 436.2 36.5 440.6 35.1 445.1 34.4 449.5 34.1 454 34 458.4 34.4 462.8 35 467.3 35.2 471.7 35.5 476.2 36.1 480.6 36.8 485 38 489.5 39.9 493.9 42.1 498.4 44.4 502.8 46.2 507.2 47.2 511.7 47.2 516.1 46.5 520.6 45.6 525 44.9 529.4 44.7 533.9 45.1 538.3 45.6 542.8 45.8"/>
<path d="M369.6 12.1 374 17.9 378.5 24.4 382.9 29.1 387.4 31.3 391.8 32.6 396.2 32.3 400.7 32.9 405.1 34.2 409.6 35.7 414 37.2 418.4 37.6 422.9 37.6 427.3 37 431.8 36.5 436.2 36.6 440.6 36.8 445.1 37.6 449.5 38.6 454 39.2 458.4 39.3 462.8 39.2 467.3 38.5 471.7 38.1 476.2 38.6 480.6 39.4 485 41 489.5 42.7 493.9 44.1 498.4 44.6 502.8 44.3 507.2 43.4 511.7 42.3 516.1 41.6 520.6 41.6 525 42.6 529.4 43.9 533.9 45.2 538.3 46.3 542.8 46.7"/>
<path d="M369.6 11.5 374 12.3 378.5 15 382.9 17.2 387.4 18.5 391.8 19.3 396.2 20.5 400.7 22.7 405.1 25.6 409.6 28.7 414 31.6 418.4 33.4 422.9 34.3 427.3 34.3 431.8 34 436.2 34 440.6 33.8 445.1 34.1 449.5 34.4 454 34.2 458.4 33.6 462.8 32.7 467.3 31.3 471.7 30.4 476.2 30.5 480.6 31.1 485 32.4 489.5 34.2 493.9 35.9 498.4 36.9 502.8 37.3 507.2 37.3 511.7 37.1 516.1 37.1 520.6 37.7 525 39 529.4 40.4 533.9 41.8 538.3 42.6 542.8 42.6"/>
<path d="M369.6 11 374 12.9 378.5 15 382.9 17.7 387.4 21.4 391.8 25.8 396.2 29 400.7 31.3 405.1 32.2 409.6 32.3 414 32.6 418.4 33.3 422.9 34.8 427.3 36.7 431.8 38.5 436.2 39.9 440.6 39.8 445.1 39.1 449.5 37.7 454 36 458.4 34.7 462.8 34.4 467.3 34.7 471.7 35.7 476.2 37.1 480.6 38 485 38.5 489.5 38.6 493.9 38.6 498.4 38.8 502.8 39.7 507.2 41.3 511.7 43 516.1 44.3 520.6 44.8 525 44.6 529.4 43.8 533.9 43 538.3 42.7 542.8 43"/>
<path d="M369.6 10.2 374 18.5 378.5 24.3 382.9 29.5 387.4 34.2 391.8 39.2 396.2 40.9 400.7 41.5 405.1 41.1 409.6 40.2 414 39.8 418.4 39.9 422.9 40.8 427.3 42.1 431.8 43.2 436.2 43.8 440.6 43.1 445.1 41.9 449.5 40.3 454 38.7 458.4 37.7 462.8 37.8 467.3 38.3 471.7 39.4 476.2 40.8 480.6 41.7 485 42.4 489.5 42.9 493.9 43.5 498.4 44.6 502.8 46.5 507.2 48.6 511.7 50.7 516.1 52.1 520.6 52.7 525 52.6 529.4 52 533.9 51.6 538.3 51.9 542.8 52.7"/>
<path d="M369.6 11.2 374 14.9 378.5 20.3 382.9 25.4 387.4 29 391.8 31.3 396.2 31.2 400.7 31.2 405.1 31.7 409.6 32.8 414 34.6 418.4 36 422.9 37 427.3 37.1 431.8 36.4 436.2 35.5 440.6 34 445.1 33.1 449.5 32.6 454 32.2 458.4 32.1 462.8 32.3 467.3 31.9 471.7 31.8 476.2 32.1 480.6 32.5 485 33.6 489.5 35.5 493.9 37.8 498.4 40.2 502.8 42.4 507.2 43.8 511.7 44.5 516.1 44.5 520.6 44.4 525 44.7 529.4 45.4 533.9 46.5 538.3 47.5 542.8 48"/>
<path d="M369.6 11.6 374 16.5 378.5 22.1 382.9 26.2 387.4 28.3 391.8 29.7 396.2 30.1 400.7 31.3 405.1 33.2 409.6 35.3 414 37.2 418.4 37.9 422.9 37.9 427.3 37.3 431.8 36.7 436.2 36.6 440.6 36.5 445.1 37 449.5 37.6 454 37.8 458.4 37.6 462.8 37.2 467.3 36.3 471.7 35.9 476.2 36.4 480.6 37.4 485 39.2 489.5 41.2 493.9 43 498.4 43.9 502.8 44.1 507.2 43.5 511.7 42.8 516.1 42.3 520.6 42.4 525 43.2 529.4 44.2 533.9 45.3 538.3 45.8 542.8 45.7"/>
<path d="M369.6 10.5 374 13.2 378.5 15.3 382.9 17.5 387.4 20.7 391.8 25.2 396.2 29.7 400.7 33.9 405.1 36.7 409.6 38 414 38.1 418.4 37.4 422.9 37 427.3 37.1 431.8 37.6 436.2 38.5 440.6 38.5 445.1 38.1 449.5 36.9 454 34.9 458.4 33 462.8 31.8 467.3 31.5 471.7 32.5 476.2 34.7 480.6 37 485 39.1 489.5 40.5 493.9 41.2 498.4 41.4 502.8 41.6 507.2 42.3 511.7 43.5 516.1 44.7 520.6 45.6 525 45.9 529.4 45.2 533.9 43.9 538.3 42.5 542.8 41.5"/>
<path d="M369.6 10.4 374 14.1 378.5 17 382.9 18.8 387.4 20.2 391.8 22.2 396.2 24.9 400.7 28.5 405.1 32 409.6 34.6 414 36.3 418.4 36.6 422.9 36.4 427.3 36.1 431.8 36.1 436.2 36.9 440.6 37.3 445.1 37.8 449.5 37.7 454 36.7 458.4 35.1 462.8 33.5 467.3 32 471.7 31.6 476.2 32.6 480.6 34.1 485 36.1 489.5 37.9 493.9 39 498.4 39.4 502.8 39.3 507.2 39.4 511.7 39.9 516.1 41.1 520.6 42.7 525 44.4 529.4 45.6 533.9 46 538.3 45.7 542.8 44.7"/>
<path d="M369.6 10.9 374 19 378.5 26.8 382.9 33.2 387.4 37.2 391.8 40.3 396.2 40.6 400.7 41.5 405.1 43.1 409.6 45.2 414 47.6 418.4 48.9 422.9 49.3 427.3 48.7 431.8 47.7 436.2 46.6 440.6 45.4 445.1 44.8 449.5 44.5 454 44.3 458.4 43.8 462.8 43.2 467.3 42 471.7 41 476.2 40.7 480.6 40.7 485 41.7 489.5 43.4 493.9 45.2 498.4 46.9 502.8 48 507.2 48.3 511.7 48.1 516.1 47.8 520.6 47.9 525 48.7 529.4 50 533.9 51.6 538.3 53 542.8 53.7"/>
<path d="M369.6 11.1 374 14.8 378.5 19.5 382.9 24.2 387.4 27.8 391.8 30.6 396.2 31.2 400.7 31.9 405.1 33 409.6 34.8 414 37.5 418.4 39.9 422.9 41.8 427.3 42.7 431.8 42.7 436.2 42 440.6 40.6 445.1 39.6 449.5 38.8 454 38.2 458.4 37.9 462.8 37.9 467.3 37.4 471.7 36.9 476.2 36.8 480.6 36.7 485 37.2 489.5 38.4 493.9 40.3 498.4 42.4 502.8 44.4 507.2 45.8 511.7 46.5 516.1 46.4 520.6 46.1 525 46.2 529.4 46.6 533.9 47.6 538.3 48.8 542.8 49.5"/>
<path d="M369.6 10 374 17 378.5 22.6 382.9 26.4 387.4 28.6 391.8 30.7 396.2 32.1 400.7 34.6 405.1 37.6 409.6 40.4 414 42.7 418.4 43.4 422.9 43.4 427.3 42.8 431.8 42.3 436.2 42.3 440.6 42.3 445.1 42.8 449.5 43.1 454 42.9 458.4 42 462.8 40.9 467.3 39.4 471.7 38.7 476.2 39.1 480.6 40.1 485 41.9 489.5 44 493.9 45.5 498.4 46.4 502.8 46.5 507.2 46 511.7 45.7 516.1 45.7 520.6 46.4 525 47.6 529.4 48.8 533.9 49.5 538.3 49.6 542.8 48.9"/>
<path d="M369.6 11.7 374 18.2 378.5 25.1 382.9 31.5 387.4 36.2 391.8 39.9 396.2 40.1 400.7 40.2 405.1 40.5 409.6 41.5 414 43.4 418.4 45.2 422.9 46.8 427.3 47.6 431.8 47.5 436.2 46.8 440.6 45.4 445.1 44.4 449.5 43.6 454 43.2 458.4 43.2 462.8 43.5 467.3 43.3 471.7 43.2 476.2 43.1 480.6 42.9 485 43.4 489.5 44.4 493.9 45.9 498.4 47.7 502.8 49.5 507.2 50.7 511.7 51 516.1 50.7 520.6 50.1 525 49.8 529.4 50 533.9 50.9 538.3 52.3 542.8 53.4"/>
<path d="M369.6 10.9 374 20.1 378.5 27.9 382.9 33.6 387.4 36.7 391.8 39.2 396.2 39.5 400.7 40.8 405.1 42.7 409.6 44.7 414 46.5 418.4 46.9 422.9 46.3 427.3 45.2 431.8 43.9 436.2 43.1 440.6 42.3 445.1 42.1 449.5 42 454 41.6 458.4 40.7 462.8 39.7 467.3 38.2 471.7 37.3 476.2 37.3 480.6 38.1 485 39.7 489.5 41.9 493.9 43.9 498.4 45.4 502.8 46.2 507.2 46.4 511.7 46.5 516.1 46.8 520.6 47.7 525 49.3 529.4 51.1 533.9 52.7 538.3 53.7 542.8 53.9"/>
<path d="M369.6 11.2 374 14 378.5 18.3 382.9 22 387.4 24.3 391.8 25.3 396.2 25 400.7 25.1 405.1 26 409.6 27.9 414 30.4 418.4 32.7 422.9 34.5 427.3 35.4 431.8 35.5 436.2 35.6 440.6 35.1 445.1 35.2 449.5 35.5 454 35.7 458.4 35.9 462.8 36 467.3 35.3 471.7 34.7 476.2 34.3 480.6 34.1 485 34.6 489.5 35.6 493.9 36.9 498.4 38.2 502.8 39.1 507.2 39.5 511.7 39.4 516.1 39.1 520.6 39.1 525 39.8 529.4 41 533.9 42.7 538.3 44.5 542.8 45.5"/>
<path d="M369.6 10.1 374 10.4 378.5 12.5 382.9 15.4 387.4 18 391.8 19.7 396.2 20.8 400.7 21.9 405.1 23.7 409.6 26.2 414 29.4 418.4 32.5 422.9 35 427.3 36.4 431.8 36.8 436.2 36.9 440.6 36.1 445.1 35.8 449.5 35.8 454 35.8 458.4 36 462.8 36.3 467.3 36 471.7 35.7 476.2 35.7 480.6 35.6 485 36.2 489.5 37.4 493.9 39 498.4 40.6 502.8 41.9 507.2 42.6 511.7 42.4 516.1 41.8 520.6 41 525 40.7 529.4 40.9 533.9 41.7 538.3 42.7 542.8 43.2"/>
<path d="M369.6 11.6 374 11.6 378.5 12.8 382.9 13.2 387.4 13.4 391.8 13.8 396.2 15.9 400.7 19.2 405.1 23 409.6 26.4 414 29.1 418.4 30.7 422.9 31.6 427.3 32.1 431.8 32.7 436.2 34 440.6 34.9 445.1 36.1 449.5 36.8 454 36.7 458.4 36 462.8 35 467.3 33.9 471.7 33.5 476.2 34.3 480.6 35.7 485 37.6 489.5 39.4 493.9 40.6 498.4 40.9 502.8 40.5 507.2 39.8 511.7 39.4 516.1 39.5 520.6 40.1 525 41.1 529.4 41.8 533.9 42 538.3 41.5 542.8 40.3"/>
<path d="M369.6 11.2 374 13.5 378.5 15.5 382.9 17.3 387.4 19.8 391.8 23.4 396.2 26.9 400.7 30 405.1 31.8 409.6 32.3 414 32.3 418.4 32 422.9 32.4 427.3 33.4 431.8 34.8 436.2 36.4 440.6 36.8 445.1 36.6 449.5 35.4 454 33.5 458.4 31.6 462.8 30.5 467.3 30 471.7 30.7 476.2 32.4 480.6 33.8 485 34.9 489.5 35.4 493.9 35.3 498.4 35 502.8 35.2 507.2 36.3 511.7 38.1 516.1 40 520.6 41.5 525 42.4 529.4 42.3 533.9 41.8 538.3 41.3 542.8 41.1"/>
<path d="M369.6 10.8 374 15 378.5 18.7 382.9 22.4 387.4 26.4 391.8 31 396.2 34 400.7 35.8 405.1 36.1 409.6 35.2 414 34.1 418.4 33.2 422.9 33.4 427.3 34.4 431.8 35.7 436.2 37.3 440.6 37.6 445.1 37.6 449.5 36.8 454 35.5 458.4 34.6 462.8 34.6 467.3 35.1 471.7 36.7 476.2 38.7 480.6 40.1 485 41.1 489.5 41.3 493.9 40.8 498.4 40.3 502.8 40.1 507.2 40.7 511.7 41.7 516.1 42.7 520.6 43.1 525 43.1 529.4 42.5 533.9 41.8 538.3 41.7 542.8 42.2"/>
<path d="M369.6 10.6 374 16.7 378.5 22.2 382.9 27.4 387.4 31.4 391.8 34.6 396.2 34.8 400.7 34.5 405.1 34.3 409.6 34.7 414 36.2 418.4 38.1 422.9 40.2 427.3 41.7 431.8 42.3 436.2 42.3 440.6 41.3 445.1 40.4 449.5 39.7 454 39.4 458.4 39.5 462.8 40.1 467.3 40.5 471.7 40.9 476.2 41.2 480.6 41.2 485 41.5 489.5 42.2 493.9 43.3 498.4 44.8 502.8 46.5 507.2 47.7 511.7 48.2 516.1 47.8 520.6 47 525 46.2 529.4 45.8 533.9 46.2 538.3 47.2 542.8 48.3"/>
<path d="M369.6 12.2 374 12.9 378.5 15.3 382.9 18.4 387.4 22.2 391.8 26 396.2 28.2 400.7 29.4 405.1 29.7 409.6 29.9 414 30.8 418.4 32.3 422.9 34.6 427.3 36.9 431.8 38.5 436.2 39.5 440.6 39.1 445.1 38.2 449.5 36.9 454 35.7 458.4 35.1 462.8 35.4 467.3 35.9 471.7 36.8 476.2 37.8 480.6 38.2 485 38.4 489.5 38.4 493.9 38.7 498.4 39.4 502.8 40.7 507.2 42.4 511.7 43.7 516.1 44.4 520.6 44.1 525 43.4 529.4 42.5 533.9 42 538.3 42.2 542.8 43"/>
<path d="M369.6 11 374 19 378.5 25.3 382.9 30.9 387.4 36 391.8 41.1 396.2 42.7 400.7 43.3 405.1 43 409.6 42.3 414 42.3 418.4 42.7 422.9 44 427.3 45.5 431.8 46.7 436.2 47.2 440.6 46.6 445.1 45.5 449.5 44.1 454 42.8 458.4 42 462.8 42.3 467.3 42.8 471.7 43.8 476.2 45 480.6 45.5 485 46 489.5 46.3 493.9 46.7 498.4 47.6 502.8 49.1 507.2 50.7 511.7 52.2 516.1 53 520.6 52.9 525 52.3 529.4 51.3 533.9 50.8 538.3 51 542.8 51.8"/>
<path d="M369.6 10.8 374 12.1 378.5 14.4 382.9 16.2 387.4 17.9 391.8 20.2 396.2 23.3 400.7 27.1 405.1 30.8 409.6 33.6 414 35.4 418.4 35.7 422.9 35.3 427.3 34.7 431.8 34.4 436.2 34.7 440.6 34.7 445.1 34.9 449.5 34.5 454 33.3 458.4 31.4 462.8 29.7 467.3 27.9 471.7 27.3 476.2 28.1 480.6 29.6 485 31.6 489.5 33.5 493.9 34.8 498.4 35.5 502.8 35.8 507.2 36.2 511.7 37.1 516.1 38.6 520.6 40.5 525 42.7 529.4 44.2 533.9 45 538.3 45 542.8 44.1"/>
<path d="M369.6 10.9 374 11.5 378.5 11.9 382.9 12.1 387.4 13.4 391.8 15.8 396.2 19.6 400.7 23.6 405.1 26.8 409.6 28.7 414 29.8 418.4 30.3 422.9 31.2 427.3 32.4 431.8 34.1 436.2 36.3 440.6 37.5 445.1 38.2 449.5 38 454 36.9 458.4 35.4 462.8 34.4 467.3 33.9 471.7 34.6 476.2 36.4 480.6 38.2 485 39.9 489.5 41 493.9 41.2 498.4 40.9 502.8 40.6 507.2 40.8 511.7 41.8 516.1 43 520.6 44.2 525 44.9 529.4 44.6 533.9 43.7 538.3 42.4 542.8 41.2"/>
<path d="M369.6 10.8 374 14.7 378.5 20.2 382.9 25.4 387.4 29 391.8 31.6 396.2 32.1 400.7 32.9 405.1 34.2 409.6 35.8 414 37.6 418.4 38.6 422.9 38.9 427.3 38.4 431.8 37.3 436.2 36.5 440.6 35.4 445.1 35.3 449.5 35.5 454 35.8 458.4 36.2 462.8 36.6 467.3 36.4 471.7 36.4 476.2 36.8 480.6 37.5 485 38.9 489.5 40.8 493.9 42.6 498.4 43.9 502.8 44.6 507.2 44.2 511.7 43.3 516.1 42.1 520.6 41.3 525 41.4 529.4 42 533.9 43.2 538.3 44.5 542.8 45.3"/>
<path d="M369.6 12.8 374 16.8 378.5 20.9 382.9 23.2 387.4 24.5 391.8 26.5 396.2 28.7 400.7 31.7 405.1 34.7 409.6 36.8 414 38.1 418.4 38.2 422.9 37.9 427.3 37.8 431.8 38.2 436.2 39.3 440.6 40.2 445.1 41 449.5 41.3 454 40.6 458.4 39.4 462.8 38.3 467.3 37.3 471.7 37.4 476.2 38.8 480.6 40.6 485 43 489.5 45 493.9 46.3 498.4 46.7 502.8 46.8 507.2 46.7 511.7 47.2 516.1 48.3 520.6 49.7 525 51.1 529.4 51.9 533.9 52 538.3 51.3 542.8 50.1"/>
<path d="M369.6 10.4 374 14.6 378.5 18.5 382.9 21.3 387.4 22.8 391.8 24.1 396.2 25.3 400.7 27.7 405.1 30.8 409.6 34.1 414 36.9 418.4 38.4 422.9 39 427.3 38.8 431.8 38.4 436.2 38.4 440.6 38.2 445.1 38.5 449.5 38.7 454 38.3 458.4 37.5 462.8 36.3 467.3 34.8 471.7 33.8 476.2 33.8 480.6 34.5 485 36 489.5 37.9 493.9 39.6 498.4 40.7 502.8 41.2 507.2 41.2 511.7 41.2 516.1 41.5 520.6 42.4 525 44 529.4 45.6 533.9 46.9 538.3 47.7 542.8 47.4"/>
<path d="M369.6 11.6 374 16.3 378.5 20.9 382.9 25.3 387.4 29.1 391.8 32.3 396.2 33 400.7 32.8 405.1 32.2 409.6 32 414 32.9 418.4 34.5 422.9 36.8 427.3 38.9 431.8 40.3 436.2 41.1 440.6 40.6 445.1 39.9 449.5 39.1 454 38.5 458.4 38.5 462.8 39.3 467.3 40.1 471.7 41 476.2 41.8 480.6 42 485 42.2 489.5 42.4 493.9 42.9 498.4 43.8 502.8 45.1 507.2 46.2 511.7 47 516.1 46.8 520.6 45.9 525 44.8 529.4 43.8 533.9 43.5 538.3 44.1 542.8 45.2"/>
<path d="M369.6 11.8 374 20 378.5 25.8 382.9 28.8 387.4 30.2 391.8 32.3 396.2 34 400.7 37 405.1 40.1 409.6 42.7 414 44.5 418.4 45 422.9 45 427.3 45.1 431.8 45.7 436.2 46.7 440.6 47.6 445.1 48.3 449.5 48.4 454 47.5 458.4 45.9 462.8 44.1 467.3 42.2 471.7 41.4 476.2 41.8 480.6 42.6 485 44.1 489.5 45.3 493.9 45.9 498.4 45.9 502.8 45.6 507.2 45.4 511.7 46 516.1 47.5 520.6 49.5 525 51.8 529.4 53.6 533.9 54.8 538.3 55.2 542.8 55"/>
<path d="M369.6 10.3 374 12.6 378.5 16.2 382.9 19.9 387.4 22.7 391.8 24.5 396.2 25.3 400.7 26.7 405.1 28.7 409.6 31.4 414 34.3 418.4 36.6 422.9 38.1 427.3 38.5 431.8 38 436.2 37.5 440.6 36.6 445.1 36.2 449.5 36 454 35.7 458.4 35.3 462.8 34.9 467.3 33.7 471.7 32.8 476.2 32.4 480.6 32.3 485 32.9 489.5 34.2 493.9 35.7 498.4 37.1 502.8 38 507.2 38.3 511.7 38.1 516.1 37.7 520.6 37.6 525 38.3 529.4 39.4 533.9 41 538.3 42.4 542.8 43.2"/>
<path d="M369.6 11.3 374 15.4 378.5 18.9 382.9 22.3 387.4 26 391.8 30.6 396.2 33.8 400.7 36 405.1 36.9 409.6 36.7 414 36.2 418.4 35.9 422.9 36.4 427.3 37.5 431.8 38.8 436.2 39.9 440.6 39.7 445.1 38.9 449.5 37.3 454 35.2 458.4 33.4 462.8 32.5 467.3 32.3 471.7 33.1 476.2 34.6 480.6 35.7 485 36.3 489.5 36.5 493.9 36.3 498.4 36.3 502.8 36.9 507.2 38.4 511.7 40.4 516.1 42.2 520.6 43.4 525 43.9 529.4 43.6 533.9 43.2 538.3 43 542.8 43.4"/>
<path d="M369.6 11 374 15.7 378.5 18.8 382.9 21.4 387.4 24.5 391.8 28.4 396.2 31.4 400.7 33.7 405.1 34.9 409.6 35.1 414 35.4 418.4 35.8 422.9 37.2 427.3 39.1 431.8 41.1 436.2 42.8 440.6 43.3 445.1 43 449.5 41.9 454 40.2 458.4 38.7 462.8 38.1 467.3 38 471.7 38.8 476.2 40.1 480.6 40.9 485 41.4 489.5 41.3 493.9 40.8 498.4 40.4 502.8 40.7 507.2 41.8 511.7 43.4 516.1 45 520.6 45.9 525 46.3 529.4 46 533.9 45.6 538.3 45.6 542.8 46.1"/>
<path d="M369.6 11.2 374 18.2 378.5 22.9 382.9 25.9 387.4 28.4 391.8 32 396.2 35 400.7 38.3 405.1 40.8 409.6 42.2 414 42.6 418.4 42.2 422.9 42 427.3 42.3 431.8 43.2 436.2 44.5 440.6 45.1 445.1 45.3 449.5 44.6 454 43 458.4 41 462.8 39.5 467.3 38.4 471.7 38.6 476.2 39.9 480.6 41.4 485 43 489.5 44.1 493.9 44.4 498.4 44.4 502.8 44.4 507.2 45 511.7 46.4 516.1 48.2 520.6 50.1 525 51.6 529.4 52.1 533.9 52 538.3 51.4 542.8 50.7"/>
<path d="M369.6 11.5 374 14.2 378.5 16.4 382.9 18.4 387.4 21.1 391.8 24.9 396.2 28.5 400.7 31.5 405.1 33.4 409.6 34.1 414 34.3 418.4 34.3 422.9 35.1 427.3 36.4 431.8 38 436.2 39.7 440.6 40.2 445.1 40 449.5 38.9 454 37.1 458.4 35.3 462.8 34.3 467.3 33.8 471.7 34.6 476.2 36.1 480.6 37.4 485 38.4 489.5 38.8 493.9 38.7 498.4 38.4 502.8 38.7 507.2 39.8 511.7 41.5 516.1 43.4 520.6 44.8 525 45.5 529.4 45.3 533.9 44.8 538.3 44.2 542.8 44.1"/>
<path d="M369.6 10.8 374 12.2 378.5 12.8 382.9 13.5 387.4 15.4 391.8 18.1 396.2 21.3 400.7 24 405.1 25.5 409.6 26 414 26.4 418.4 27.1 422.9 28.7 427.3 30.9 431.8 33.2 436.2 35.5 440.6 36.3 445.1 36.5 449.5 35.7 454 34.3 458.4 32.9 462.8 32.4 467.3 32.4 471.7 33.4 476.2 35 480.6 36.2 485 36.8 489.5 36.8 493.9 36.2 498.4 35.5 502.8 35.4 507.2 36.1 511.7 37.4 516.1 38.7 520.6 39.4 525 39.5 529.4 38.9 533.9 38.1 538.3 37.6 542.8 37.8"/>
<path d="M369.6 10.6 374 12.3 378.5 15.5 382.9 19.9 387.4 24.5 391.8 28.5 396.2 30 400.7 30.2 405.1 29.6 409.6 28.9 414 29.1 418.4 30 422.9 31.8 427.3 33.4 431.8 34.6 436.2 35.3 440.6 34.7 445.1 34 449.5 33.2 454 32.7 458.4 32.7 462.8 33.6 467.3 34.5 471.7 35.6 476.2 36.5 480.6 36.7 485 36.6 489.5 36.4 493.9 36.4 498.4 36.8 502.8 37.6 507.2 38.8 511.7 39.6 516.1 39.7 520.6 39.3 525 38.8 529.4 38.5 533.9 38.9 538.3 40.3 542.8 42.1"/>
<path d="M369.6 11.6 374 13.8 378.5 18 382.9 22.9 387.4 27.8 391.8 32 396.2 33.5 400.7 33.8 405.1 33.4 409.6 33.2 414 33.8 418.4 34.9 422.9 36.5 427.3 37.9 431.8 38.5 436.2 38.6 440.6 37.4 445.1 36.2 449.5 35.1 454 34.2 458.4 34 462.8 34.7 467.3 35.5 471.7 36.5 476.2 37.5 480.6 37.9 485 38.3 489.5 38.9 493.9 39.7 498.4 41 502.8 42.7 507.2 44.1 511.7 45 516.1 45 520.6 44.1 525 43.1 529.4 42.2 533.9 42 538.3 42.6 542.8 43.7"/>
<path d="M369.6 11.1 374 14.4 378.5 19 382.9 24.1 387.4 28.6 391.8 32.4 396.2 33.4 400.7 33.8 405.1 34.1 409.6 34.9 414 36.6 418.4 38.6 422.9 40.6 427.3 41.9 431.8 42.3 436.2 42 440.6 40.7 445.1 39.4 449.5 38.4 454 37.5 458.4 37.2 462.8 37.5 467.3 37.4 471.7 37.5 476.2 37.5 480.6 37.2 485 37.3 489.5 37.7 493.9 38.6 498.4 40 502.8 41.6 507.2 43 511.7 43.6 516.1 43.5 520.6 42.8 525 42.3 529.4 42.1 533.9 42.6 538.3 43.7 542.8 44.9"/>
<path d="M369.6 11.5 374 15.4 378.5 19.9 382.9 23.1 387.4 24.5 391.8 24.9 396.2 24.7 400.7 25.6 405.1 27.5 409.6 29.9 414 32.5 418.4 34.4 422.9 35.6 427.3 35.9 431.8 35.8 436.2 36.1 440.6 36 445.1 36.6 449.5 37.3 454 37.6 458.4 37.6 462.8 37.2 467.3 36.2 471.7 35.5 476.2 35.4 480.6 35.7 485 36.8 489.5 38.4 493.9 39.8 498.4 40.7 502.8 41 507.2 40.6 511.7 40 516.1 39.5 520.6 39.5 525 40.5 529.4 41.8 533.9 43.4 538.3 44.6 542.8 45.1"/>
<path d="M369.6 10.2 374 14.1 378.5 17.9 382.9 20.6 387.4 22.2 391.8 23.4 396.2 24.7 400.7 27.1 405.1 30 409.6 32.9 414 35.3 418.4 36.5 422.9 36.7 427.3 36.3 431.8 35.9 436.2 35.9 440.6 35.7 445.1 36.1 449.5 36.3 454 35.9 458.4 35 462.8 33.8 467.3 32.2 471.7 31.3 476.2 31.5 480.6 32.4 485 33.9 489.5 35.7 493.9 37.2 498.4 38 502.8 38.2 507.2 38 511.7 37.9 516.1 38.1 520.6 39 525 40.5 529.4 42 533.9 43.3 538.3 43.9 542.8 43.7"/>
<path d="M369.6 10.2 374 17.2 378.5 21.9 382.9 25.1 387.4 27.8 391.8 31.2 396.2 33.8 400.7 36.4 405.1 38.1 409.6 38.6 414 38.3 418.4 37.2 422.9 36.7 427.3 36.8 431.8 37.7 436.2 39.3 440.6 40.2 445.1 40.9 449.5 40.8 454 39.8 458.4 38.4 462.8 37.5 467.3 36.9 471.7 37.4 476.2 39 480.6 40.5 485 42.1 489.5 42.9 493.9 42.8 498.4 42.1 502.8 41.5 507.2 41.4 511.7 42.3 516.1 43.7 520.6 45.3 525 46.7 529.4 47.3 533.9 47.4 538.3 47.2 542.8 46.9"/>
<path d="M369.6 10.1 374 19.2 378.5 25 382.9 29.4 387.4 33.2 391.8 38.1 396.2 41.4 400.7 44.6 405.1 46.6 409.6 47.3 414 47.2 418.4 46.1 422.9 45.6 427.3 45.6 431.8 46.3 436.2 47.3 440.6 47.6 445.1 47.4 449.5 46.4 454 44.6 458.4 42.6 462.8 41.2 467.3 40.4 471.7 40.8 476.2 42.2 480.6 43.6 485 45.1 489.5 45.9 493.9 45.9 498.4 45.6 502.8 45.5 507.2 45.9 511.7 47 516.1 48.5 520.6 49.8 525 50.6 529.4 50.5 533.9 49.8 538.3 48.9 542.8 48.2"/>
<path d="M369.6 11.4 374 14.5 378.5 18.2 382.9 20.5 387.4 21.6 391.8 22.2 396.2 23 400.7 25 405.1 27.7 409.6 30.6 414 33.2 418.4 34.6 422.9 35.3 427.3 35.3 431.8 35.1 436.2 35.4 440.6 35.5 445.1 36.2 449.5 36.8 454 36.9 458.4 36.4 462.8 35.8 467.3 34.7 471.7 34.2 476.2 34.8 480.6 35.9 485 37.9 489.5 40.1 493.9 42.1 498.4 43.5 502.8 44.1 507.2 44.1 511.7 44 516.1 44.2 520.6 44.9 525 46.2 529.4 47.5 533.9 48.6 538.3 49.1 542.8 48.6"/>
<path d="M369.6 11.8 374 14.2 378.5 16.5 382.9 19 387.4 22.5 391.8 27.1 396.2 30.9 400.7 34 405.1 35.9 409.6 36.8 414 37.5 418.4 38.3 422.9 39.7 427.3 41.5 431.8 43.2 436.2 44.6 440.6 44.6 445.1 43.8 449.5 42.1 454 39.9 458.4 37.9 462.8 36.8 467.3 36.3 471.7 36.7 476.2 37.8 480.6 38.4 485 38.8 489.5 38.7 493.9 38.5 498.4 38.6 502.8 39.5 507.2 41.4 511.7 43.7 516.1 45.9 520.6 47.4 525 48.3 529.4 48.3 533.9 48.1 538.3 48.3 542.8 48.8"/>
<path d="M369.6 10.9 374 14 378.5 17 382.9 20.4 387.4 24 391.8 27.3 396.2 28.8 400.7 29.2 405.1 28.9 409.6 28.4 414 28.9 418.4 30.1 422.9 32.3 427.3 34.5 431.8 36.2 436.2 37.3 440.6 37 445.1 36.3 449.5 35.3 454 34.3 458.4 34 462.8 34.6 467.3 35.3 471.7 36.5 476.2 37.7 480.6 38.3 485 38.5 489.5 38.6 493.9 38.9 498.4 39.5 502.8 40.7 507.2 42.1 511.7 43.2 516.1 43.6 520.6 43.1 525 42.1 529.4 40.9 533.9 40.3 538.3 40.5 542.8 41.3"/>
</g>
<g fill="none" stroke="#a4d23e" stroke-opacity="0.12" stroke-width="0.6">
<path d="M369.6 11.8 374 13.8 378.5 17.7 382.9 21.4 387.4 24.5 391.8 27 396.2 28.4 400.7 29.9 405.1 31.6 409.6 33.5 414 35.8 418.4 37.5 422.9 38.9 427.3 39.7 431.8 39.9 436.2 39.9 440.6 39.3 445.1 38.9 449.5 38.6 454 38.1 458.4 37.6 462.8 37.3 467.3 36.6 471.7 36.4 476.2 36.6 480.6 36.9 485 37.6 489.5 38.7 493.9 40 498.4 41.1 502.8 42 507.2 42.5 511.7 42.7 516.1 42.6 520.6 42.5 525 42.7 529.4 43.1 533.9 43.7 538.3 44.4 542.8 44.7"/>
<path d="M369.6 9.1 374 14.5 378.5 17.9 382.9 20.5 387.4 22.5 391.8 24.6 396.2 26.5 400.7 29 405.1 31.6 409.6 33.8 414 35.5 418.4 36.5 422.9 37 427.3 37.3 431.8 37.7 436.2 38.4 440.6 38.5 445.1 38.9 449.5 38.8 454 38.2 458.4 37.2 462.8 36.4 467.3 35.5 471.7 35.4 476.2 36.2 480.6 37.3 485 38.8 489.5 40.4 493.9 41.5 498.4 42.2 502.8 42.5 507.2 42.7 511.7 43 516.1 43.6 520.6 44.3 525 45.3 529.4 45.9 533.9 46.3 538.3 46.3 542.8 45.8"/>
<path d="M369.6 13.1 374 12.6 378.5 15.1 382.9 17.3 387.4 18.9 391.8 20 396.2 21 400.7 22.4 405.1 24.3 409.6 26.6 414 29.2 418.4 31.6 422.9 33.6 427.3 34.9 431.8 35.6 436.2 36.2 440.6 35.9 445.1 35.9 449.5 35.7 454 35.2 458.4 34.6 462.8 34.1 467.3 33.1 471.7 32.5 476.2 32.5 480.6 32.6 485 33.1 489.5 34 493.9 35 498.4 36.1 502.8 37 507.2 37.7 511.7 38.3 516.1 38.7 520.6 39.3 525 40.2 529.4 41.2 533.9 42.5 538.3 43.6 542.8 44.1"/>
<path d="M369.6 10.7 374 12.9 378.5 15 382.9 17.2 387.4 19.8 391.8 23 396.2 26.1 400.7 28.9 405.1 31 409.6 32.3 414 33.2 418.4 33.8 422.9 34.7 427.3 35.7 431.8 36.8 436.2 38 440.6 38.3 445.1 38.2 449.5 37.4 454 36 458.4 34.6 462.8 33.8 467.3 33.3 471.7 33.7 476.2 34.9 480.6 35.9 485 37 489.5 37.7 493.9 37.9 498.4 38 502.8 38.2 507.2 38.9 511.7 40 516.1 41 520.6 41.9 525 42.4 529.4 42.3 533.9 41.9 538.3 41.5 542.8 41.2"/>
<path d="M369.6 11.5 374 13.6 378.5 16.4 382.9 19.3 387.4 22.5 391.8 25.9 396.2 28.2 400.7 30.1 405.1 31.1 409.6 31.7 414 32.4 418.4 33.2 422.9 34.5 427.3 35.8 431.8 37 436.2 38 440.6 37.9 445.1 37.4 449.5 36.4 454 35.1 458.4 34.1 462.8 33.8 467.3 33.8 471.7 34.4 476.2 35.6 480.6 36.4 485 37.2 489.5 37.7 493.9 38.1 498.4 38.6 502.8 39.5 507.2 40.7 511.7 41.9 516.1 42.9 520.6 43.3 525 43.4 529.4 43.1 533.9 42.8 538.3 42.8 542.8 43.1"/>
<path d="M369.6 10.5 374 11.4 378.5 12.4 382.9 13.4 387.4 14.9 391.8 17 396.2 20.1 400.7 23.4 405.1 26.2 409.6 28.3 414 29.8 418.4 30.7 422.9 31.6 427.3 32.4 431.8 33.2 436.2 34.3 440.6 34.6 445.1 34.7 449.5 34.1 454 32.8 458.4 31.2 462.8 30.1 467.3 29.3 471.7 29.4 476.2 30.6 480.6 32 485 33.4 489.5 34.6 493.9 35.3 498.4 35.7 502.8 36 507.2 36.6 511.7 37.6 516.1 38.7 520.6 39.7 525 40.6 529.4 40.8 533.9 40.6 538.3 40.2 542.8 39.6"/>
<path d="M369.6 12.5 374 16.8 378.5 21.3 382.9 24.6 387.4 27 391.8 29.9 396.2 32 400.7 34.5 405.1 36.5 409.6 38 414 39 418.4 39.2 422.9 39.4 427.3 39.8 431.8 40.3 436.2 41.2 440.6 41.5 445.1 41.6 449.5 41.2 454 40.1 458.4 38.7 462.8 37.7 467.3 36.8 471.7 36.8 476.2 37.8 480.6 38.9 485 40.4 489.5 41.6 493.9 42.4 498.4 42.8 502.8 43.1 507.2 43.6 511.7 44.5 516.1 45.7 520.6 46.9 525 48 529.4 48.5 533.9 48.7 538.3 48.5 542.8 48.1"/>
<path d="M369.6 9.7 374 13.9 378.5 16.8 382.9 19.7 387.4 22.9 391.8 26.6 396.2 29.5 400.7 32 405.1 33.6 409.6 34.5 414 35.2 418.4 35.6 422.9 36.4 427.3 37.5 431.8 38.4 436.2 39.4 440.6 39.3 445.1 38.8 449.5 37.7 454 36.2 458.4 34.8 462.8 34 467.3 33.6 471.7 34.1 476.2 35.3 480.6 36.3 485 37.2 489.5 37.9 493.9 38.3 498.4 38.7 502.8 39.4 507.2 40.6 511.7 42 516.1 43.4 520.6 44.3 525 44.9 529.4 44.9 533.9 44.8 538.3 44.8 542.8 44.9"/>
<path d="M369.6 9.8 374 15.5 378.5 20.1 382.9 24.5 387.4 28.4 391.8 32 396.2 33.4 400.7 34.2 405.1 34.4 409.6 34.6 414 35.3 418.4 36.1 422.9 37.2 427.3 38.2 431.8 38.9 436.2 39.2 440.6 38.6 445.1 37.8 449.5 36.9 454 36 458.4 35.5 462.8 35.6 467.3 35.8 471.7 36.5 476.2 37.6 480.6 38.3 485 39.2 489.5 40.1 493.9 41.1 498.4 42.2 502.8 43.6 507.2 44.9 511.7 45.8 516.1 46.2 520.6 46.1 525 45.8 529.4 45.3 533.9 45.1 538.3 45.3 542.8 45.6"/>
<path d="M369.6 10.2 374 17.1 378.5 21.9 382.9 25.5 387.4 28.6 391.8 32.2 396.2 34.4 400.7 36.5 405.1 37.9 409.6 38.5 414 38.7 418.4 38.4 422.9 38.4 427.3 38.8 431.8 39.3 436.2 40.1 440.6 40.1 445.1 39.8 449.5 39 454 37.6 458.4 36.2 462.8 35.4 467.3 34.9 471.7 35.4 476.2 36.8 480.6 38.2 485 39.7 489.5 40.9 493.9 41.8 498.4 42.3 502.8 43.1 507.2 44.1 511.7 45.5 516.1 47 520.6 48.2 525 49 529.4 49.3 533.9 49.1 538.3 48.9 542.8 48.6"/>
<path d="M369.6 10.5 374 15.8 378.5 20.2 382.9 24.5 387.4 28.6 391.8 32.8 396.2 35 400.7 36.6 405.1 37.4 409.6 37.9 414 38.6 418.4 39.3 422.9 40.4 427.3 41.5 431.8 42.3 436.2 42.8 440.6 42.3 445.1 41.4 449.5 40.2 454 38.9 458.4 37.9 462.8 37.5 467.3 37.3 471.7 37.8 476.2 38.7 480.6 39.3 485 39.9 489.5 40.5 493.9 41.1 498.4 41.9 502.8 43 507.2 44.4 511.7 45.7 516.1 46.6 520.6 47 525 47.2 529.4 47 533.9 47 538.3 47.4 542.8 48"/>
<path d="M369.6 9.6 374 15.7 378.5 20 382.9 23.3 387.4 25.5 391.8 27.6 396.2 29 400.7 31 405.1 33.3 409.6 35.7 414 37.9 418.4 39.3 422.9 40.2 427.3 40.5 431.8 40.7 436.2 41 440.6 40.8 445.1 40.9 449.5 40.8 454 40.2 458.4 39.4 462.8 38.5 467.3 37.4 471.7 36.8 476.2 37.1 480.6 37.6 485 38.7 489.5 40 493.9 41.2 498.4 42 502.8 42.5 507.2 42.8 511.7 43.1 516.1 43.5 520.6 44.2 525 45.3 529.4 46.4 533.9 47.4 538.3 48.2 542.8 48.4"/>
<path d="M369.6 11.7 374 14.7 378.5 18.2 382.9 21.7 387.4 25.3 391.8 29.2 396.2 31.7 400.7 33.7 405.1 34.9 409.6 35.5 414 36.1 418.4 36.7 422.9 37.8 427.3 38.9 431.8 39.9 436.2 40.8 440.6 40.5 445.1 39.9 449.5 38.8 454 37.4 458.4 36.2 462.8 35.7 467.3 35.4 471.7 36 476.2 37 480.6 37.8 485 38.6 489.5 39.1 493.9 39.4 498.4 39.9 502.8 40.7 507.2 41.8 511.7 43.1 516.1 44.1 520.6 44.7 525 44.9 529.4 44.6 533.9 44.4 538.3 44.4 542.8 44.7"/>
<path d="M369.6 11.1 374 12 378.5 14.4 382.9 17.1 387.4 19.6 391.8 21.6 396.2 23 400.7 24.5 405.1 26.1 409.6 27.9 414 30.3 418.4 32.5 422.9 34.6 427.3 36 431.8 36.7 436.2 37.1 440.6 36.7 445.1 36.4 449.5 36 454 35.5 458.4 35.1 462.8 35 467.3 34.6 471.7 34.4 476.2 34.7 480.6 34.9 485 35.3 489.5 36.1 493.9 37.1 498.4 38 502.8 38.9 507.2 39.6 511.7 39.9 516.1 39.8 520.6 39.6 525 39.7 529.4 40 533.9 40.6 538.3 41.5 542.8 42.1"/>
<path d="M369.6 10.7 374 13.2 378.5 16.5 382.9 20 387.4 23.4 391.8 26.4 396.2 27.9 400.7 29.2 405.1 30.4 409.6 31.7 414 33.5 418.4 35.3 422.9 37.1 427.3 38.4 431.8 39.1 436.2 39.4 440.6 38.8 445.1 38.2 449.5 37.6 454 36.9 458.4 36.4 462.8 36.5 467.3 36.3 471.7 36.5 476.2 37.1 480.6 37.4 485 38.1 489.5 39 493.9 40 498.4 41.2 502.8 42.5 507.2 43.6 511.7 44.4 516.1 44.6 520.6 44.5 525 44.4 529.4 44.4 533.9 44.7 538.3 45.3 542.8 45.9"/>
<path d="M369.6 10 374 15 378.5 18.2 382.9 20.8 387.4 23.4 391.8 26.5 396.2 29 400.7 31.4 405.1 33.1 409.6 34 414 34.6 418.4 34.8 422.9 35.3 427.3 36.1 431.8 37 436.2 38.1 440.6 38.2 445.1 38.1 449.5 37.3 454 36 458.4 34.6 462.8 33.7 467.3 33.2 471.7 33.7 476.2 35 480.6 36.2 485 37.4 489.5 38.4 493.9 38.9 498.4 39.2 502.8 39.7 507.2 40.6 511.7 41.9 516.1 43.2 520.6 44.3 525 45.1 529.4 45.3 533.9 45.3 538.3 45.1 542.8 45"/>
<path d="M369.6 10.8 374 14.3 378.5 17.8 382.9 20.4 387.4 22.3 391.8 24 396.2 25.5 400.7 27.7 405.1 30.1 409.6 32.5 414 34.7 418.4 36.2 422.9 37.2 427.3 37.7 431.8 37.9 436.2 38.5 440.6 38.5 445.1 38.8 449.5 38.8 454 38.3 458.4 37.6 462.8 36.8 467.3 35.8 471.7 35.4 476.2 35.8 480.6 36.5 485 37.7 489.5 39 493.9 40.1 498.4 40.8 502.8 41 507.2 41.1 511.7 41.1 516.1 41.3 520.6 41.8 525 42.7 529.4 43.5 533.9 44.2 538.3 44.7 542.8 44.7"/>
<path d="M369.6 9.9 374 15.1 378.5 19.2 382.9 22.4 387.4 24.6 391.8 26.6 396.2 28.1 400.7 30.1 405.1 32.4 409.6 34.5 414 36.4 418.4 37.4 422.9 38 427.3 38.2 431.8 38.3 436.2 38.6 440.6 38.5 445.1 38.7 449.5 38.6 454 38.1 458.4 37.3 462.8 36.5 467.3 35.6 471.7 35.3 476.2 35.9 480.6 36.8 485 38.2 489.5 39.8 493.9 41.1 498.4 42 502.8 42.5 507.2 42.8 511.7 43 516.1 43.4 520.6 44 525 44.9 529.4 45.7 533.9 46.4 538.3 46.7 542.8 46.5"/>
<path d="M369.6 10.2 374 14.5 378.5 18.4 382.9 21.7 387.4 24 391.8 26.2 396.2 27.9 400.7 29.9 405.1 32.2 409.6 34.2 414 35.9 418.4 36.7 422.9 37.1 427.3 37.1 431.8 36.9 436.2 37 440.6 36.7 445.1 36.6 449.5 36.3 454 35.5 458.4 34.5 462.8 33.6 467.3 32.6 471.7 32.2 476.2 32.8 480.6 33.7 485 35.1 489.5 36.7 493.9 38.1 498.4 39.1 502.8 39.8 507.2 40.4 511.7 40.9 516.1 41.6 520.6 42.5 525 43.7 529.4 44.8 533.9 45.6 538.3 46.1 542.8 46"/>
<path d="M369.6 10.9 374 16.3 378.5 20.4 382.9 23.4 387.4 25.6 391.8 28.1 396.2 30.1 400.7 32.5 405.1 34.6 409.6 36.1 414 37.2 418.4 37.4 422.9 37.6 427.3 37.8 431.8 38.2 436.2 39 440.6 39.2 445.1 39.3 449.5 39 454 38 458.4 36.8 462.8 35.9 467.3 35 471.7 35.1 476.2 36.2 480.6 37.6 485 39.2 489.5 40.7 493.9 41.7 498.4 42.2 502.8 42.7 507.2 43.2 511.7 44 516.1 45.1 520.6 46.3 525 47.5 529.4 48.1 533.9 48.4 538.3 48.4 542.8 48.1"/>
<path d="M369.6 11.5 374 12.7 378.5 15.1 382.9 17.7 387.4 20.2 391.8 22.4 396.2 23.8 400.7 25.1 405.1 26.3 409.6 27.7 414 29.7 418.4 32 422.9 34.3 427.3 36.1 431.8 37.2 436.2 38 440.6 37.6 445.1 37.1 449.5 36.5 454 35.7 458.4 35 462.8 34.9 467.3 34.5 471.7 34.4 476.2 34.6 480.6 34.6 485 34.7 489.5 35.1 493.9 35.7 498.4 36.5 502.8 37.6 507.2 38.7 511.7 39.6 516.1 40.2 520.6 40.4 525 40.8 529.4 41.2 533.9 42 538.3 43.1 542.8 44.2"/>
<path d="M369.6 10.7 374 16.4 378.5 21.7 382.9 26.6 387.4 30.5 391.8 33.9 396.2 34.8 400.7 35.3 405.1 35.6 409.6 36.1 414 37.1 418.4 38.2 422.9 39.5 427.3 40.5 431.8 41 436.2 41.2 440.6 40.6 445.1 40 449.5 39.4 454 38.7 458.4 38.4 462.8 38.6 467.3 38.6 471.7 38.9 476.2 39.5 480.6 39.8 485 40.4 489.5 41.2 493.9 42.1 498.4 43.1 502.8 44.2 507.2 45.2 511.7 45.8 516.1 46 520.6 45.8 525 45.8 529.4 45.8 533.9 46.3 538.3 47.2 542.8 48.1"/>
<path d="M369.6 10.7 374 14.4 378.5 17.7 382.9 21 387.4 24.5 391.8 28.7 396.2 32.1 400.7 35.2 405.1 37.3 409.6 38.4 414 38.9 418.4 38.6 422.9 38.5 427.3 38.5 431.8 38.8 436.2 39.3 440.6 39 445.1 38.6 449.5 37.7 454 36.3 458.4 35 462.8 34.4 467.3 34.2 471.7 35.1 476.2 36.8 480.6 38.5 485 40.3 489.5 41.6 493.9 42.4 498.4 42.8 502.8 43.1 507.2 43.6 511.7 44.2 516.1 44.9 520.6 45.3 525 45.5 529.4 45.1 533.9 44.6 538.3 44.1 542.8 43.8"/>
<path d="M369.6 11.3 374 14.1 378.5 18.1 382.9 22.1 387.4 25.6 391.8 28.6 396.2 29.9 400.7 31.1 405.1 32.3 409.6 33.6 414 35.4 418.4 37 422.9 38.5 427.3 39.3 431.8 39.6 436.2 39.5 440.6 38.7 445.1 38 449.5 37.2 454 36.5 458.4 35.9 462.8 35.7 467.3 35.2 471.7 35.1 476.2 35.4 480.6 35.7 485 36.3 489.5 37.2 493.9 38.4 498.4 39.7 502.8 41 507.2 42.1 511.7 42.9 516.1 43.2 520.6 43.3 525 43.6 529.4 44 533.9 44.8 538.3 45.8 542.8 46.5"/>
<path d="M369.6 11.7 374 14.9 378.5 18.2 382.9 21.3 387.4 24.6 391.8 28.2 396.2 30.6 400.7 32.6 405.1 33.8 409.6 34.5 414 35.3 418.4 36.1 422.9 37.3 427.3 38.7 431.8 40 436.2 41 440.6 41 445.1 40.6 449.5 39.7 454 38.5 458.4 37.4 462.8 37.1 467.3 37 471.7 37.6 476.2 38.7 480.6 39.6 485 40.4 489.5 40.9 493.9 41.3 498.4 41.6 502.8 42.4 507.2 43.4 511.7 44.5 516.1 45.4 520.6 45.8 525 45.8 529.4 45.4 533.9 45.1 538.3 45 542.8 45.2"/>
<path d="M369.6 11.7 374 13.6 378.5 16.7 382.9 19.4 387.4 21.5 391.8 23.6 396.2 25.6 400.7 28.2 405.1 30.9 409.6 33.4 414 35.7 418.4 37.1 422.9 38 427.3 38.4 431.8 38.6 436.2 39.1 440.6 39 445.1 39.2 449.5 39.1 454 38.5 458.4 37.6 462.8 36.7 467.3 35.6 471.7 35.1 476.2 35.5 480.6 36.2 485 37.3 489.5 38.6 493.9 39.6 498.4 40.1 502.8 40.3 507.2 40.3 511.7 40.3 516.1 40.5 520.6 41 525 41.9 529.4 42.7 533.9 43.3 538.3 43.7 542.8 43.6"/>
<path d="M369.6 10.9 374 14 378.5 17.4 382.9 20.3 387.4 22.3 391.8 23.9 396.2 25.1 400.7 26.8 405.1 28.8 409.6 30.9 414 33 418.4 34.5 422.9 35.6 427.3 36 431.8 36.2 436.2 36.5 440.6 36.3 445.1 36.4 449.5 36.3 454 36 458.4 35.4 462.8 34.9 467.3 34.1 471.7 33.8 476.2 34.3 480.6 35 485 36.2 489.5 37.7 493.9 39 498.4 40.1 502.8 40.7 507.2 41 511.7 41.2 516.1 41.3 520.6 41.6 525 42.3 529.4 43 533.9 43.7 538.3 44.2 542.8 44.2"/>
<path d="M369.6 11.3 374 13.8 378.5 17.2 382.9 20.7 387.4 23.9 391.8 26.6 396.2 28 400.7 29 405.1 29.8 409.6 30.7 414 32.2 418.4 33.7 422.9 35.4 427.3 36.6 431.8 37.3 436.2 37.6 440.6 36.9 445.1 36.3 449.5 35.5 454 34.7 458.4 34.1 462.8 34.1 467.3 34 471.7 34.3 476.2 34.9 480.6 35.3 485 35.9 489.5 36.7 493.9 37.8 498.4 39 502.8 40.4 507.2 41.7 511.7 42.7 516.1 43.2 520.6 43.3 525 43.5 529.4 43.6 533.9 44.1 538.3 44.9 542.8 45.7"/>
<path d="M369.6 11.1 374 14.8 378.5 18.6 382.9 22.4 387.4 26.2 391.8 30.2 396.2 32.6 400.7 34.3 405.1 35.4 409.6 36 414 36.9 418.4 37.8 422.9 39 427.3 40.3 431.8 41.4 436.2 42.1 440.6 41.7 445.1 41 449.5 40 454 38.7 458.4 37.8 462.8 37.5 467.3 37.4 471.7 38 476.2 39 480.6 39.6 485 40.3 489.5 40.9 493.9 41.4 498.4 42.1 502.8 43.1 507.2 44.3 511.7 45.5 516.1 46.3 520.6 46.6 525 46.5 529.4 46.1 533.9 45.9 538.3 46 542.8 46.4"/>
<path d="M369.6 10.9 374 14.6 378.5 17.6 382.9 20 387.4 22.2 391.8 25.1 396.2 27.6 400.7 30.2 405.1 32.2 409.6 33.4 414 34.2 418.4 34.6 422.9 35.2 427.3 35.9 431.8 36.9 436.2 38 440.6 38.4 445.1 38.5 449.5 37.9 454 36.8 458.4 35.5 462.8 34.6 467.3 34.1 471.7 34.4 476.2 35.7 480.6 37 485 38.3 489.5 39.3 493.9 39.8 498.4 40 502.8 40.3 507.2 40.8 511.7 41.8 516.1 42.9 520.6 43.8 525 44.5 529.4 44.7 533.9 44.5 538.3 44.1 542.8 43.8"/>
<path d="M369.6 10.9 374 17.2 378.5 22.2 382.9 25.8 387.4 28.4 391.8 31.4 396.2 33.3 400.7 35.5 405.1 37.3 409.6 38.5 414 39.2 418.4 39.1 422.9 39.1 427.3 39.2 431.8 39.6 436.2 40.4 440.6 40.7 445.1 40.9 449.5 40.7 454 39.8 458.4 38.7 462.8 37.9 467.3 37.2 471.7 37.4 476.2 38.6 480.6 39.9 485 41.4 489.5 42.8 493.9 43.5 498.4 43.8 502.8 43.9 507.2 44.1 511.7 44.6 516.1 45.4 520.6 46.3 525 47.2 529.4 47.6 533.9 47.7 538.3 47.6 542.8 47.3"/>
<path d="M369.6 11.5 374 14.3 378.5 17.3 382.9 19.8 387.4 22 391.8 24.6 396.2 27 400.7 29.5 405.1 31.5 409.6 32.8 414 33.6 418.4 33.8 422.9 34.2 427.3 34.7 431.8 35.4 436.2 36.5 440.6 36.8 445.1 37.1 449.5 36.8 454 35.8 458.4 34.6 462.8 33.8 467.3 33.2 471.7 33.6 476.2 34.8 480.6 36.1 485 37.5 489.5 38.6 493.9 39.2 498.4 39.3 502.8 39.4 507.2 39.6 511.7 40.3 516.1 41.2 520.6 42.1 525 42.9 529.4 43.2 533.9 43.3 538.3 43.1 542.8 42.8"/>
<path d="M369.6 12.3 374 16.1 378.5 20.2 382.9 22.9 387.4 24.5 391.8 26.1 396.2 27.4 400.7 29.3 405.1 31.4 409.6 33.4 414 35.1 418.4 36.1 422.9 36.8 427.3 37.3 431.8 37.8 436.2 38.7 440.6 39.1 445.1 39.7 449.5 39.8 454 39.4 458.4 38.6 462.8 37.8 467.3 36.8 471.7 36.5 476.2 37.1 480.6 37.9 485 39.2 489.5 40.4 493.9 41.2 498.4 41.5 502.8 41.5 507.2 41.4 511.7 41.5 516.1 41.9 520.6 42.7 525 43.7 529.4 44.6 533.9 45.4 538.3 45.8 542.8 45.8"/>
<path d="M369.6 10.9 374 13.4 378.5 15.9 382.9 18.3 387.4 21.2 391.8 24.8 396.2 28.1 400.7 31.2 405.1 33.5 409.6 35 414 35.9 418.4 36.3 422.9 36.9 427.3 37.6 431.8 38.4 436.2 39.2 440.6 39.1 445.1 38.6 449.5 37.5 454 35.9 458.4 34.3 462.8 33.2 467.3 32.6 471.7 33.1 476.2 34.4 480.6 35.7 485 37.1 489.5 38.2 493.9 38.9 498.4 39.5 502.8 40.3 507.2 41.4 511.7 42.9 516.1 44.2 520.6 45.3 525 45.9 529.4 45.8 533.9 45.3 538.3 44.8 542.8 44.2"/>
<path d="M369.6 11.1 374 13.4 378.5 16.7 382.9 19.9 387.4 22.5 391.8 24.6 396.2 25.9 400.7 27.5 405.1 29.4 409.6 31.5 414 33.9 418.4 35.9 422.9 37.6 427.3 38.5 431.8 38.9 436.2 39.2 440.6 38.8 445.1 38.6 449.5 38.4 454 38.1 458.4 37.7 462.8 37.5 467.3 36.9 471.7 36.6 476.2 36.9 480.6 37.2 485 38 489.5 39.1 493.9 40.3 498.4 41.3 502.8 42.1 507.2 42.5 511.7 42.5 516.1 42.4 520.6 42.2 525 42.4 529.4 42.7 533.9 43.3 538.3 44 542.8 44.3"/>
<path d="M369.6 10.9 374 17.1 378.5 23.2 382.9 28.4 387.4 32.1 391.8 35.2 396.2 36.2 400.7 37.5 405.1 38.9 409.6 40.4 414 42 418.4 42.7 422.9 42.9 427.3 42.7 431.8 42.1 436.2 41.5 440.6 40.6 445.1 40 449.5 39.5 454 38.8 458.4 38.1 462.8 37.6 467.3 36.8 471.7 36.5 476.2 36.9 480.6 37.7 485 39.1 489.5 40.8 493.9 42.7 498.4 44.4 502.8 45.7 507.2 46.6 511.7 47.3 516.1 47.7 520.6 48.2 525 49 529.4 49.8 533.9 50.7 538.3 51.3 542.8 51.4"/>
<path d="M369.6 10.9 374 14.5 378.5 17.4 382.9 19.7 387.4 22.1 391.8 25.1 396.2 27.9 400.7 30.9 405.1 33.3 409.6 35 414 36.2 418.4 36.8 422.9 37.5 427.3 38.3 431.8 39.2 436.2 40.3 440.6 40.6 445.1 40.6 449.5 40 454 38.6 458.4 37.1 462.8 36 467.3 35.1 471.7 35.1 476.2 36.1 480.6 37.1 485 38.2 489.5 39 493.9 39.4 498.4 39.6 502.8 39.8 507.2 40.5 511.7 41.5 516.1 42.9 520.6 44.1 525 45.2 529.4 45.8 533.9 46 538.3 46 542.8 45.9"/>
<path d="M369.6 10.8 374 14.3 378.5 18.2 382.9 21.4 387.4 23.6 391.8 25.5 396.2 26.7 400.7 28.4 405.1 30.2 409.6 32 414 33.6 418.4 34.5 422.9 35.1 427.3 35.2 431.8 35.2 436.2 35.5 440.6 35.4 445.1 35.7 449.5 35.8 454 35.5 458.4 35 462.8 34.5 467.3 33.9 471.7 33.8 476.2 34.5 480.6 35.4 485 36.8 489.5 38.3 493.9 39.5 498.4 40.3 502.8 40.6 507.2 40.6 511.7 40.5 516.1 40.5 520.6 40.8 525 41.5 529.4 42.1 533.9 42.8 538.3 43.3 542.8 43.3"/>
<path d="M369.6 11 374 13.2 378.5 15.6 382.9 18 387.4 20.9 391.8 24.4 396.2 27.5 400.7 30.2 405.1 32.1 409.6 33.2 414 34 418.4 34.5 422.9 35.3 427.3 36.4 431.8 37.4 436.2 38.5 440.6 38.5 445.1 38.2 449.5 37.2 454 35.7 458.4 34.2 462.8 33.4 467.3 32.8 471.7 33.2 476.2 34.3 480.6 35.2 485 36.1 489.5 36.6 493.9 36.7 498.4 36.8 502.8 37.1 507.2 38 511.7 39.1 516.1 40.3 520.6 41.1 525 41.7 529.4 41.7 533.9 41.4 538.3 41.3 542.8 41.4"/>
<path d="M369.6 11.4 374 15.2 378.5 19 382.9 21.9 387.4 24.6 391.8 27.9 396.2 30.6 400.7 33.5 405.1 35.9 409.6 37.6 414 38.7 418.4 39 422.9 39.3 427.3 39.7 431.8 40.2 436.2 41.1 440.6 41.3 445.1 41.4 449.5 40.8 454 39.7 458.4 38.3 462.8 37.2 467.3 36.3 471.7 36.3 476.2 37.3 480.6 38.4 485 39.8 489.5 40.8 493.9 41.4 498.4 41.5 502.8 41.6 507.2 41.9 511.7 42.5 516.1 43.4 520.6 44.3 525 45.1 529.4 45.4 533.9 45.4 538.3 45.1 542.8 44.6"/>
<path d="M369.6 11.1 374 14.1 378.5 16.6 382.9 18.9 387.4 21.4 391.8 24.2 396.2 26.6 400.7 28.7 405.1 30.1 409.6 31.1 414 32 418.4 33.1 422.9 34.6 427.3 36.2 431.8 37.8 436.2 39.2 440.6 39.4 445.1 39.2 449.5 38.3 454 37 458.4 35.7 462.8 35 467.3 34.6 471.7 34.9 476.2 35.8 480.6 36.4 485 37 489.5 37.3 493.9 37.4 498.4 37.5 502.8 38.1 507.2 39.3 511.7 40.7 516.1 42.1 520.6 43.1 525 43.9 529.4 44.1 533.9 44.2 538.3 44.4 542.8 44.9"/>
<path d="M369.6 10.8 374 14.8 378.5 19.3 382.9 23.2 387.4 26 391.8 28.3 396.2 29.5 400.7 31 405.1 32.6 409.6 34.1 414 35.5 418.4 36.2 422.9 36.5 427.3 36.4 431.8 36.2 436.2 36.3 440.6 36.1 445.1 36.3 449.5 36.4 454 36.2 458.4 35.9 462.8 35.7 467.3 35.2 471.7 35.2 476.2 35.9 480.6 36.9 485 38.2 489.5 39.7 493.9 40.9 498.4 41.6 502.8 41.8 507.2 41.7 511.7 41.4 516.1 41.3 520.6 41.4 525 42 529.4 42.7 533.9 43.6 538.3 44.3 542.8 44.6"/>
<path d="M369.6 12.4 374 14.2 378.5 17.5 382.9 19.9 387.4 21.5 391.8 22.8 396.2 24.1 400.7 26 405.1 28.2 409.6 30.3 414 32.3 418.4 33.7 422.9 34.6 427.3 35.2 431.8 35.6 436.2 36.3 440.6 36.5 445.1 36.9 449.5 37 454 36.5 458.4 35.8 462.8 35 467.3 34 471.7 33.5 476.2 34 480.6 34.7 485 35.8 489.5 37 493.9 38.1 498.4 38.6 502.8 38.9 507.2 39.1 511.7 39.3 516.1 39.8 520.6 40.6 525 41.7 529.4 42.8 533.9 43.7 538.3 44.3 542.8 44.4"/>
<path d="M369.6 11.3 374 16.3 378.5 20.5 382.9 23.6 387.4 26.1 391.8 29 396.2 31.4 400.7 34.3 405.1 36.8 409.6 38.8 414 40.2 418.4 40.7 422.9 41.1 427.3 41.4 431.8 41.9 436.2 42.7 440.6 42.9 445.1 43 449.5 42.6 454 41.6 458.4 40.2 462.8 39 467.3 37.9 471.7 37.7 476.2 38.5 480.6 39.5 485 40.8 489.5 41.9 493.9 42.6 498.4 42.8 502.8 43 507.2 43.2 511.7 43.9 516.1 44.9 520.6 46 525 47.2 529.4 48 533.9 48.4 538.3 48.6 542.8 48.4"/>
<path d="M369.6 10.5 374 14.1 378.5 18.1 382.9 21.8 387.4 24.6 391.8 27 396.2 28.3 400.7 29.8 405.1 31.6 409.6 33.5 414 35.7 418.4 37.3 422.9 38.5 427.3 39 431.8 39.1 436.2 39.1 440.6 38.4 445.1 38.1 449.5 37.8 454 37.3 458.4 36.7 462.8 36.2 467.3 35.4 471.7 35 476.2 35.2 480.6 35.6 485 36.4 489.5 37.6 493.9 38.8 498.4 39.9 502.8 40.7 507.2 41.2 511.7 41.4 516.1 41.4 520.6 41.5 525 41.9 529.4 42.5 533.9 43.3 538.3 44.1 542.8 44.4"/>
<path d="M369.6 10.8 374 14.2 378.5 17.4 382.9 19.9 387.4 21.9 391.8 24.2 396.2 26.5 400.7 29.1 405.1 31.6 409.6 33.7 414 35.2 418.4 35.8 422.9 36.2 427.3 36.5 431.8 36.8 436.2 37.6 440.6 37.7 445.1 37.9 449.5 37.7 454 36.7 458.4 35.5 462.8 34.5 467.3 33.4 471.7 33.3 476.2 34.1 480.6 35.1 485 36.5 489.5 37.8 493.9 38.7 498.4 39.1 502.8 39.2 507.2 39.4 511.7 39.9 516.1 40.6 520.6 41.5 525 42.6 529.4 43.2 533.9 43.5 538.3 43.5 542.8 43.2"/>
<path d="M369.6 10.6 374 14.3 378.5 17.8 382.9 21.4 387.4 24.6 391.8 27.6 396.2 29.1 400.7 30.2 405.1 31.1 409.6 32.1 414 33.6 418.4 35.3 422.9 37.1 427.3 38.6 431.8 39.6 436.2 40.1 440.6 39.5 445.1 38.8 449.5 37.9 454 36.9 458.4 36.2 462.8 36 467.3 35.7 471.7 35.9 476.2 36.3 480.6 36.5 485 37 489.5 37.5 493.9 38.3 498.4 39.4 502.8 40.7 507.2 42.1 511.7 43.3 516.1 44 520.6 44.3 525 44.4 529.4 44.6 533.9 45 538.3 45.7 542.8 46.4"/>
<path d="M369.6 10.6 374 13.8 378.5 17.6 382.9 21.7 387.4 25.4 391.8 28.8 396.2 30.2 400.7 31 405.1 31.3 409.6 31.5 414 32.2 418.4 33.1 422.9 34.3 427.3 35.3 431.8 36 436.2 36.4 440.6 35.7 445.1 35.2 449.5 34.5 454 33.8 458.4 33.5 462.8 33.9 467.3 34.2 471.7 35 476.2 36.1 480.6 36.8 485 37.6 489.5 38.3 493.9 39.1 498.4 40 502.8 41 507.2 41.9 511.7 42.5 516.1 42.5 520.6 42 525 41.5 529.4 41 533.9 41 538.3 41.4 542.8 42.1"/>
<path d="M369.6 11.1 374 15.6 378.5 20 382.9 23.4 387.4 25.9 391.8 28.4 396.2 30.2 400.7 32.6 405.1 35 409.6 37.3 414 39.1 418.4 40 422.9 40.5 427.3 40.6 431.8 40.7 436.2 41.1 440.6 41.1 445.1 41.3 449.5 41.2 454 40.6 458.4 39.8 462.8 38.9 467.3 38 471.7 37.7 476.2 38.3 480.6 39.2 485 40.7 489.5 42.3 493.9 43.5 498.4 44.3 502.8 44.6 507.2 44.7 511.7 44.9 516.1 45.2 520.6 45.8 525 46.6 529.4 47.3 533.9 47.7 538.3 47.7 542.8 47.3"/>
<path d="M369.6 9.8 374 14 378.5 17.4 382.9 21 387.4 24.3 391.8 27.4 396.2 28.9 400.7 30 405.1 30.8 409.6 31.6 414 33 418.4 34.4 422.9 36.2 427.3 37.6 431.8 38.4 436.2 39 440.6 38.4 445.1 37.8 449.5 37 454 36.2 458.4 35.6 462.8 35.7 467.3 35.7 471.7 36.2 476.2 37 480.6 37.5 485 38.2 489.5 39 493.9 39.9 498.4 41.1 502.8 42.5 507.2 43.8 511.7 44.8 516.1 45.3 520.6 45.3 525 45.2 529.4 45 533.9 45.2 538.3 45.6 542.8 46.2"/>
<path d="M369.6 12.4 374 15.1 378.5 19.2 382.9 22.4 387.4 25 391.8 27.8 396.2 30 400.7 32.6 405.1 35.2 409.6 37.3 414 38.9 418.4 39.4 422.9 39.7 427.3 39.7 431.8 39.7 436.2 40.1 440.6 40.1 445.1 40.1 449.5 39.7 454 38.7 458.4 37.4 462.8 36.3 467.3 35 471.7 34.6 476.2 35.2 480.6 36.1 485 37.3 489.5 38.6 493.9 39.4 498.4 39.8 502.8 40 507.2 40.1 511.7 40.5 516.1 41.2 520.6 42.1 525 43.3 529.4 44.1 533.9 44.7 538.3 45 542.8 44.8"/>
<path d="M369.6 11.2 374 14.1 378.5 17.5 382.9 20.9 387.4 24.1 391.8 27.1 396.2 28.6 400.7 29.9 405.1 30.8 409.6 31.9 414 33.5 418.4 35.2 422.9 37.1 427.3 38.7 431.8 39.7 436.2 40.3 440.6 39.8 445.1 39.2 449.5 38.4 454 37.5 458.4 36.8 462.8 36.6 467.3 36.4 471.7 36.6 476.2 37 480.6 37.1 485 37.5 489.5 37.9 493.9 38.5 498.4 39.4 502.8 40.5 507.2 41.7 511.7 42.7 516.1 43.2 520.6 43.4 525 43.6 529.4 43.7 533.9 44.2 538.3 45.2 542.8 46.1"/>
<path d="M369.6 10.7 374 12 378.5 13.8 382.9 16.1 387.4 19.1 391.8 22.3 396.2 25 400.7 27.2 405.1 28.8 409.6 30 414 31.5 418.4 33 422.9 34.9 427.3 36.6 431.8 37.8 436.2 38.6 440.6 38.2 445.1 37.4 449.5 36.2 454 34.7 458.4 33.4 462.8 32.9 467.3 32.5 471.7 32.8 476.2 33.6 480.6 34.1 485 34.6 489.5 35 493.9 35.6 498.4 36.4 502.8 37.7 507.2 39.3 511.7 41 516.1 42.2 520.6 42.9 525 43.2 529.4 43.2 533.9 43.2 538.3 43.5 542.8 43.9"/>
<path d="M369.6 10.2 374 14.7 378.5 17.9 382.9 20.7 387.4 23.5 391.8 26.8 396.2 29.4 400.7 31.6 405.1 33 409.6 33.7 414 34.2 418.4 34.5 422.9 35.2 427.3 36.2 431.8 37.2 436.2 38.3 440.6 38.3 445.1 38.1 449.5 37.2 454 35.8 458.4 34.4 462.8 33.8 467.3 33.5 471.7 34.1 476.2 35.4 480.6 36.5 485 37.7 489.5 38.5 493.9 39 498.4 39.4 502.8 40.1 507.2 41.2 511.7 42.6 516.1 43.9 520.6 44.8 525 45.4 529.4 45.4 533.9 45.2 538.3 45.1 542.8 45.1"/>
<path d="M369.6 11.3 374 14.4 378.5 17.9 382.9 21.4 387.4 24.7 391.8 27.8 396.2 29.4 400.7 30.6 405.1 31.5 409.6 32.3 414 33.7 418.4 35.2 422.9 37 427.3 38.6 431.8 39.7 436.2 40.4 440.6 40 445.1 39.4 449.5 38.5 454 37.6 458.4 36.9 462.8 36.8 467.3 36.6 471.7 36.9 476.2 37.5 480.6 37.8 485 38.2 489.5 38.6 493.9 39.1 498.4 39.8 502.8 40.9 507.2 42.1 511.7 43.1 516.1 43.6 520.6 43.8 525 43.9 529.4 43.8 533.9 44.2 538.3 44.9 542.8 45.8"/>
<path d="M369.6 11 374 13.5 378.5 16.8 382.9 20.5 387.4 24.2 391.8 27.7 396.2 29.6 400.7 30.9 405.1 31.6 409.6 32 414 32.9 418.4 33.8 422.9 35.1 427.3 36.2 431.8 36.8 436.2 37.2 440.6 36.3 445.1 35.4 449.5 34.2 454 32.9 458.4 32 462.8 31.8 467.3 31.7 471.7 32.1 476.2 33 480.6 33.6 485 34.2 489.5 34.9 493.9 35.8 498.4 37 502.8 38.5 507.2 40.2 511.7 41.7 516.1 42.7 520.6 43.2 525 43.5 529.4 43.5 533.9 43.7 538.3 44.3 542.8 45"/>
<path d="M369.6 10.9 374 14.2 378.5 18 382.9 22.2 387.4 26 391.8 29.6 396.2 31.4 400.7 32.7 405.1 33.7 409.6 34.8 414 36.2 418.4 37.6 422.9 39 427.3 39.9 431.8 40.3 436.2 40.3 440.6 39.3 445.1 38.4 449.5 37.4 454 36.4 458.4 35.7 462.8 35.7 467.3 35.5 471.7 35.8 476.2 36.5 480.6 37.1 485 37.9 489.5 38.9 493.9 40.1 498.4 41.4 502.8 42.9 507.2 44.2 511.7 45.1 516.1 45.5 520.6 45.4 525 45.2 529.4 45 533.9 45.1 538.3 45.6 542.8 46.1"/>
<path d="M369.6 11 374 16 378.5 20.6 382.9 23.9 387.4 26.2 391.8 28.3 396.2 29.7 400.7 31.6 405.1 33.5 409.6 35.1 414 36.3 418.4 36.6 422.9 36.7 427.3 36.6 431.8 36.5 436.2 36.8 440.6 36.7 445.1 36.9 449.5 36.7 454 36.1 458.4 35.1 462.8 34.4 467.3 33.6 471.7 33.6 476.2 34.6 480.6 35.9 485 37.7 489.5 39.5 493.9 41 498.4 42 502.8 42.7 507.2 43.1 511.7 43.6 516.1 44.3 520.6 45.1 525 46 529.4 46.7 533.9 47 538.3 46.9 542.8 46.3"/>
<path d="M369.6 10.9 374 12 378.5 14.2 382.9 16.2 387.4 17.9 391.8 19.4 396.2 21.2 400.7 23.5 405.1 26.1 409.6 28.6 414 31 418.4 32.7 422.9 33.9 427.3 34.5 431.8 34.9 436.2 35.5 440.6 35.5 445.1 35.8 449.5 35.8 454 35.4 458.4 34.8 462.8 34.2 467.3 33.3 471.7 33 476.2 33.6 480.6 34.4 485 35.7 489.5 37.1 493.9 38.4 498.4 39.3 502.8 39.8 507.2 40 511.7 40.1 516.1 40.3 520.6 40.7 525 41.5 529.4 42.1 533.9 42.7 538.3 43 542.8 42.8"/>
<path d="M369.6 11.1 374 14.6 378.5 17.8 382.9 20 387.4 21.8 391.8 23.8 396.2 25.8 400.7 28.2 405.1 30.4 409.6 32.1 414 33.4 418.4 33.9 422.9 34.3 427.3 34.6 431.8 35.1 436.2 36 440.6 36.2 445.1 36.6 449.5 36.3 454 35.5 458.4 34.3 462.8 33.4 467.3 32.6 471.7 32.7 476.2 33.8 480.6 35.2 485 36.8 489.5 38.3 493.9 39.3 498.4 39.9 502.8 40.2 507.2 40.7 511.7 41.4 516.1 42.3 520.6 43.4 525 44.4 529.4 45 533.9 45.2 538.3 45.1 542.8 44.6"/>
</g>
<line x1="368.1" y1="42.3" x2="542.5" y2="42.3" stroke="#b4524a" stroke-opacity="0.5" stroke-width="1.4"/>
<circle cx="376.2" cy="56.2" r="7.9" fill="#686868" fill-opacity="0.95"/>
<text x="376.2" y="58.85"  font-size="7.8" font-weight="bold" fill="#fff" text-anchor="middle">(c)</text>
<path d="M13.3 166C35.85 166 35.85 188.9 58.4 188.9" fill="none" stroke="#8a8a8a" stroke-opacity="0.13" stroke-width="6"/>
<path d="M13.3 172C35.85 172 35.85 229.95 58.4 229.95" fill="none" stroke="#8a8a8a" stroke-opacity="0.13" stroke-width="6"/>
<path d="M13.3 178C35.85 178 35.85 270.95 58.4 270.95" fill="none" stroke="#8a8a8a" stroke-opacity="0.13" stroke-width="6"/>
<path d="M13.3 195C35.85 195 35.85 194.7 58.4 194.7" fill="none" stroke="#8a8a8a" stroke-opacity="0.13" stroke-width="6"/>
<path d="M13.3 201C35.85 201 35.85 235.85 58.4 235.85" fill="none" stroke="#8a8a8a" stroke-opacity="0.13" stroke-width="6"/>
<path d="M13.3 207C35.85 207 35.85 276.85 58.4 276.85" fill="none" stroke="#8a8a8a" stroke-opacity="0.13" stroke-width="6"/>
<path d="M13.3 224.25C35.85 224.25 35.85 200.5 58.4 200.5" fill="none" stroke="#8a8a8a" stroke-opacity="0.13" stroke-width="5.9"/>
<path d="M13.3 230.15C35.85 230.15 35.85 241.75 58.4 241.75" fill="none" stroke="#8a8a8a" stroke-opacity="0.13" stroke-width="5.9"/>
<path d="M13.3 236.05C35.85 236.05 35.85 282.75 58.4 282.75" fill="none" stroke="#8a8a8a" stroke-opacity="0.13" stroke-width="5.9"/>
<path d="M13.3 253.63C35.85 253.63 35.85 206.3 58.4 206.3" fill="none" stroke="#8a8a8a" stroke-opacity="0.13" stroke-width="5.87"/>
<path d="M13.3 259.5C35.85 259.5 35.85 247.65 58.4 247.65" fill="none" stroke="#8a8a8a" stroke-opacity="0.13" stroke-width="5.87"/>
<path d="M13.3 265.37C35.85 265.37 35.85 288.65 58.4 288.65" fill="none" stroke="#8a8a8a" stroke-opacity="0.13" stroke-width="5.87"/>
<path d="M13.3 282.92C35.85 282.92 35.85 212.1 58.4 212.1" fill="none" stroke="#8a8a8a" stroke-opacity="0.13" stroke-width="5.83"/>
<path d="M13.3 288.75C35.85 288.75 35.85 253.55 58.4 253.55" fill="none" stroke="#8a8a8a" stroke-opacity="0.13" stroke-width="5.83"/>
<path d="M13.3 294.58C35.85 294.58 35.85 294.55 58.4 294.55" fill="none" stroke="#8a8a8a" stroke-opacity="0.13" stroke-width="5.83"/>
<path d="M60.4 189.62C83.5 189.62 83.5 195 106.6 195" fill="none" stroke="#8a8a8a" stroke-opacity="0.13" stroke-width="6"/>
<path d="M60.4 196.88C83.5 196.88 83.5 224.25 106.6 224.25" fill="none" stroke="#8a8a8a" stroke-opacity="0.13" stroke-width="5.9"/>
<path d="M60.4 204.12C83.5 204.12 83.5 253.63 106.6 253.63" fill="none" stroke="#8a8a8a" stroke-opacity="0.13" stroke-width="5.87"/>
<path d="M60.4 211.38C83.5 211.38 83.5 283.17 106.6 283.17" fill="none" stroke="#8a8a8a" stroke-opacity="0.13" stroke-width="6.33"/>
<path d="M60.4 230.69C83.5 230.69 83.5 201 106.6 201" fill="none" stroke="#8a8a8a" stroke-opacity="0.13" stroke-width="6"/>
<path d="M60.4 238.06C83.5 238.06 83.5 230.15 106.6 230.15" fill="none" stroke="#8a8a8a" stroke-opacity="0.13" stroke-width="5.9"/>
<path d="M60.4 245.44C83.5 245.44 83.5 259.5 106.6 259.5" fill="none" stroke="#8a8a8a" stroke-opacity="0.13" stroke-width="5.87"/>
<path d="M60.4 252.81C83.5 252.81 83.5 289.5 106.6 289.5" fill="none" stroke="#8a8a8a" stroke-opacity="0.13" stroke-width="6.33"/>
<path d="M60.4 271.69C83.5 271.69 83.5 207 106.6 207" fill="none" stroke="#8a8a8a" stroke-opacity="0.13" stroke-width="6"/>
<path d="M60.4 279.06C83.5 279.06 83.5 236.05 106.6 236.05" fill="none" stroke="#8a8a8a" stroke-opacity="0.13" stroke-width="5.9"/>
<path d="M60.4 286.44C83.5 286.44 83.5 265.37 106.6 265.37" fill="none" stroke="#8a8a8a" stroke-opacity="0.13" stroke-width="5.87"/>
<path d="M60.4 293.81C83.5 293.81 83.5 295.83 106.6 295.83" fill="none" stroke="#8a8a8a" stroke-opacity="0.13" stroke-width="6.33"/>
<path d="M13.3 173.5C35.85 173.5 35.85 228.6 58.4 228.6" fill="none" stroke="#a6a6a6" stroke-width="5.2"/>
<path d="M13.3 173.5C35.85 173.5 35.85 228.6 58.4 228.6" fill="none" stroke="#5c5c5c" stroke-width="5.2" stroke-dasharray="0 28 4 14 4 100"/>
<path d="M13.3 202.4C35.85 202.4 35.85 234 58.4 234" fill="none" stroke="#a6a6a6" stroke-width="5.2"/>
<path d="M13.3 202.4C35.85 202.4 35.85 234 58.4 234" fill="none" stroke="#5c5c5c" stroke-width="5.2" stroke-dasharray="0 27 4 7 4 100"/>
<path d="M60.4 248.6C83.5 248.6 83.5 287.7 106.6 287.7" fill="none" stroke="#d6d6d6" stroke-width="6.2"/>
<path d="M60.4 248.6C83.5 248.6 83.5 287.7 106.6 287.7" fill="none" stroke="#7a7a7a" stroke-width="6.2" stroke-dasharray="0 22 4 6 4 100"/>
<rect x="11.15" y="163" width="2.3" height="18" fill="#9bd31c"/>
<text x="14.5" y="174.05"  font-size="5.9" fill="#9bd31c" text-anchor="start" font-weight="bold" textLength="15.69" lengthAdjust="spacingAndGlyphs">PM2.5</text>
<rect x="11.15" y="192" width="2.3" height="18" fill="#9bd31c"/>
<text x="14.5" y="203.05"  font-size="5.9" fill="#9bd31c" text-anchor="start" font-weight="bold" textLength="14.18" lengthAdjust="spacingAndGlyphs">PM10</text>
<rect x="11.15" y="221.3" width="2.3" height="17.7" fill="#9bd31c"/>
<text x="14.5" y="232.2"  font-size="5.9" fill="#9bd31c" text-anchor="start" font-weight="bold" textLength="14.07" lengthAdjust="spacingAndGlyphs">Temp</text>
<rect x="11.15" y="250.7" width="2.3" height="17.6" fill="#9bd31c"/>
<text x="14.5" y="261.55"  font-size="5.9" fill="#9bd31c" text-anchor="start" font-weight="bold" textLength="23.22" lengthAdjust="spacingAndGlyphs">Humidity</text>
<rect x="11.15" y="280" width="2.3" height="17.5" fill="#9bd31c"/>
<text x="14.5" y="290.8"  font-size="5.9" fill="#9bd31c" text-anchor="start" font-weight="bold" textLength="14.78" lengthAdjust="spacingAndGlyphs">Noise</text>
<rect x="58.25" y="186" width="2.3" height="29" fill="#9bd31c"/>
<text x="61.6" y="202.05"  font-size="5.9" fill="#9bd31c" text-anchor="start" font-weight="bold" textLength="14.77" lengthAdjust="spacingAndGlyphs">LSTM</text>
<rect x="58.25" y="227" width="2.3" height="29.5" fill="#9bd31c"/>
<text x="61.6" y="243.75"  font-size="5.9" fill="#9bd31c" text-anchor="start" font-weight="bold" textLength="12.06" lengthAdjust="spacingAndGlyphs">GRU</text>
<rect x="58.25" y="268" width="2.3" height="29.5" fill="#9bd31c"/>
<text x="61.6" y="284.75"  font-size="5.9" fill="#9bd31c" text-anchor="start" font-weight="bold" textLength="28.34" lengthAdjust="spacingAndGlyphs">ConvLSTM</text>
<rect x="106.45" y="192" width="2.3" height="18" fill="#9bd31c"/>
<text x="105.4" y="203.05"  font-size="5.9" fill="#9bd31c" text-anchor="end" font-weight="bold" textLength="15.08" lengthAdjust="spacingAndGlyphs">Cubic</text>
<rect x="106.45" y="221.3" width="2.3" height="17.7" fill="#9bd31c"/>
<text x="105.4" y="232.2"  font-size="5.9" fill="#9bd31c" text-anchor="end" font-weight="bold" textLength="16.29" lengthAdjust="spacingAndGlyphs">Linear</text>
<rect x="106.45" y="250.7" width="2.3" height="17.6" fill="#9bd31c"/>
<text x="105.4" y="261.55"  font-size="5.9" fill="#9bd31c" text-anchor="end" font-weight="bold" textLength="19.3" lengthAdjust="spacingAndGlyphs">RBFnet</text>
<rect x="106.45" y="280" width="2.3" height="19" fill="#9bd31c"/>
<text x="105.4" y="290.85"  font-size="5.9" fill="#9bd31c" text-anchor="end" font-weight="bold" textLength="19.91" lengthAdjust="spacingAndGlyphs">Nearest</text>
<circle cx="50.7" cy="172" r="7.9" fill="#686868" fill-opacity="0.95"/>
<text x="50.7" y="174.65"  font-size="7.8" font-weight="bold" fill="#fff" text-anchor="middle">(d)</text>
<rect x="113" y="163.2" width="65" height="36.4" fill="#222223" stroke="#3c3c3c" stroke-width="0.5"/>
<line x1="113" x2="178" y1="172.3" y2="172.3" stroke="#3c3c3c" stroke-width="0.5"/>
<line x1="113" x2="178" y1="181.4" y2="181.4" stroke="#3c3c3c" stroke-width="0.5"/>
<line x1="113" x2="178" y1="190.5" y2="190.5" stroke="#3c3c3c" stroke-width="0.5"/>
<line x1="120.3" x2="120.3" y1="163.2" y2="199.6" stroke="#3c3c3c" stroke-width="0.5"/>
<line x1="146.8" x2="146.8" y1="163.2" y2="199.6" stroke="#3c3c3c" stroke-width="0.5"/>
<text x="116.6" y="168.7"  font-size="4.6" fill="#fff" text-anchor="middle" font-weight="bold" >✓</text>
<text x="122" y="168.8"  font-size="4.5" fill="#fff" text-anchor="start" font-weight="bold" >Time lag</text>
<text x="148.2" y="168.8"  font-size="4.5" fill="#fff" text-anchor="start" font-weight="bold" >TAC</text>
<rect x="114.8" y="174.3" width="3.8" height="3.8" fill="#fff"/>
<rect x="115.7" y="175.2" width="2" height="2" fill="#6d8fd8"/>
<text x="122" y="177.8"  font-size="4.4" fill="#f0f0f0" text-anchor="start" font-weight="bold" >6 hour</text>
<rect x="148.2" y="175.6" width="28.8" height="1.5" rx="0.7" fill="#5a5a5a"/>
<rect x="148.2" y="175.6" width="21.6" height="1.5" rx="0.7" fill="#2f80ed"/>
<rect x="114.8" y="183.4" width="3.8" height="3.8" fill="#fff"/>
<text x="122" y="186.9"  font-size="4.4" fill="#f0f0f0" text-anchor="start" font-weight="bold" >24 hour</text>
<rect x="148.2" y="184.7" width="28.8" height="1.5" rx="0.7" fill="#5a5a5a"/>
<rect x="148.2" y="184.7" width="21.6" height="1.5" rx="0.7" fill="#2f80ed"/>
<rect x="114.8" y="192.5" width="3.8" height="3.8" fill="#fff"/>
<text x="122" y="196"  font-size="4.4" fill="#f0f0f0" text-anchor="start" font-weight="bold" >72 hour</text>
<rect x="148.2" y="193.8" width="28.8" height="1.5" rx="0.7" fill="#5a5a5a"/>
<rect x="148.2" y="193.8" width="11.3" height="1.5" rx="0.7" fill="#2f80ed"/>
<rect x="113" y="203.3" width="65" height="36.4" fill="#222223" stroke="#3c3c3c" stroke-width="0.5"/>
<line x1="113" x2="178" y1="212.4" y2="212.4" stroke="#3c3c3c" stroke-width="0.5"/>
<line x1="113" x2="178" y1="221.5" y2="221.5" stroke="#3c3c3c" stroke-width="0.5"/>
<line x1="113" x2="178" y1="230.6" y2="230.6" stroke="#3c3c3c" stroke-width="0.5"/>
<line x1="146.8" x2="146.8" y1="203.3" y2="239.7" stroke="#3c3c3c" stroke-width="0.5"/>
<text x="114.6" y="208.6"  font-size="4.5" fill="#fff" text-anchor="start" font-weight="bold" >Parameters</text>
<text x="148.2" y="208.6"  font-size="4.5" fill="#fff" text-anchor="start" font-weight="bold" >Value</text>
<text x="114.6" y="217.5"  font-size="4.3" fill="#f0f0f0" text-anchor="start" font-weight="bold" >RNN layer</text>
<rect x="147.4" y="214.5" width="29.6" height="2.8" rx="1.3" fill="#f4f4f4"/>
<rect x="148.9" y="213" width="7.4" height="5.8" rx="0.7" fill="#fff" stroke="#aaa" stroke-width="0.3"/>
<text x="152.6" y="217.3"  font-size="3.8" fill="#555" text-anchor="middle" >2</text>
<text x="114.6" y="226.6"  font-size="4.3" fill="#f0f0f0" text-anchor="start" font-weight="bold" >Dense layer</text>
<rect x="147.4" y="223.6" width="29.6" height="2.8" rx="1.3" fill="#f4f4f4"/>
<rect x="146.5" y="222.1" width="7.4" height="5.8" rx="0.7" fill="#fff" stroke="#aaa" stroke-width="0.3"/>
<text x="150.2" y="226.4"  font-size="3.8" fill="#555" text-anchor="middle" >1</text>
<text x="114.6" y="235.7"  font-size="4.3" fill="#f0f0f0" text-anchor="start" font-weight="bold" ># of nodes</text>
<rect x="147.4" y="232.7" width="29.6" height="2.8" rx="1.3" fill="#f4f4f4"/>
<rect x="157.7" y="231.2" width="8.6" height="5.8" rx="0.7" fill="#fff" stroke="#aaa" stroke-width="0.3"/>
<text x="162" y="235.5"  font-size="3.8" fill="#555" text-anchor="middle" >128</text>
<rect x="113" y="241.6" width="65" height="18.2" fill="#222223" stroke="#3c3c3c" stroke-width="0.5"/>
<line x1="113" x2="178" y1="250.7" y2="250.7" stroke="#3c3c3c" stroke-width="0.5"/>
<line x1="120.3" x2="120.3" y1="241.6" y2="259.8" stroke="#3c3c3c" stroke-width="0.5"/>
<rect x="120.5" y="241.9" width="57.2" height="8.6" fill="#222223"/>
<rect x="120.5" y="251" width="57.2" height="8.6" fill="#222223"/>
<line x1="113" x2="178" y1="250.7" y2="250.7" stroke="#3c3c3c" stroke-width="0.5"/>
<line x1="120.3" x2="120.3" y1="241.6" y2="259.8" stroke="#3c3c3c" stroke-width="0.5"/>
<text x="116.6" y="247.9"  font-size="4.6" fill="#fff" text-anchor="middle" font-weight="bold" >✓</text>
<text x="122" y="248"  font-size="4.5" fill="#fff" text-anchor="start" font-weight="bold" >Models accuracy</text>
<rect x="114.8" y="252.8" width="3.8" height="3.8" fill="#fff"/>
<rect x="115.7" y="253.7" width="2" height="2" fill="#6d8fd8"/>
<rect x="122" y="254" width="55" height="1.5" rx="0.7" fill="#5a5a5a"/>
<rect x="122" y="254" width="17" height="1.5" rx="0.7" fill="#2f80ed"/>
<circle cx="171.5" cy="166.9" r="7.9" fill="#686868" fill-opacity="0.95"/>
<text x="171.5" y="169.55"  font-size="7.8" font-weight="bold" fill="#fff" text-anchor="middle">(e)</text>
<clipPath id="cf"><polygon points="241.5,142.3 247.2,146.9 256.4,152.6 265,156.7 269,157.2 275.6,153.7 283.1,143.2 287.6,131.1 294.3,118.4 299.7,123.6 302.7,132.6 310.2,143.2 320.8,155.2 318.7,162.8 314.8,171.8 317.8,182.4 329.8,182.4 341.9,179.4 349.4,180.9 344.5,185.5 341,189.5 338,194 336,203 333,209 328,214 323,219 316,222 309,224.5 301.2,227.4 295,226.5 289.1,222 283,220.5 277.1,220.1 270,219 265,218.6 261,221.5 251.8,225 244,226.6 236.4,227.4 231.7,221 227,214.8 221,210.4 214.7,208.6 205.5,205.8 201.5,200.5 200.3,197.2 201.5,190.4 199.2,183.5 195.7,176.6 195,169.8 203.7,170.9 212.9,169.8 224.3,166.3 234.7,159.5 239.2,148"/></clipPath>
<g clip-path="url(#cf)"><g class="v" filter="url(#bl)">
<polygon color="#4326b7" points="268.6,199.4 262.3,198.9 266.7,195.8 268.7,196 270.8,196.5"/>
<polygon color="#562cc5" points="258.2,167.7 252.6,169.7 252.3,170 253.5,173.9 254,174.4 260.8,175.3 263.2,174.6 264.4,171.4 260.4,167.6"/>
<polygon color="#9439a3" points="199.7,173.6 199.3,173.9 195,170.9 195,167.6 199.6,168.3 200.7,172.8"/>
<polygon color="#ff611a" points="334.1,210 329.9,212 330.7,215.7 336.5,212.9 336.7,212.6"/>
<polygon color="#6a30ba" points="215.2,189 215.1,189.8 216.5,190.4 223.9,189.5 224.6,188.9 222.1,183.9 219.2,185.5"/>
<polygon color="#8235ad" points="311.1,209.3 308.9,206.9 309.5,206.2 314.8,206.2"/>
<polygon color="#5c2ec2" points="247.8,154.8 245.5,152.8 248.2,150.5 250.9,151.4"/>
<polygon color="#4326b6" points="306.5,180.3 302.2,182.7 304,186.1 307.5,181"/>
<polygon color="#6f31b8" points="209.7,173.5 213.7,171 213.5,170.6 207.3,167.8 203.2,167.1 199.6,168.3 200.7,172.8"/>
<polygon color="#c53a6e" points="259,208.5 260.1,209.3 257.4,215.4 256.8,215.4 254.6,215.2 252.3,213.2 254.8,210.8 258.8,208.5"/>
<polygon color="#3c23a4" points="307.5,181 304,186.1 304.1,186.3 310.3,182.6"/>
<polygon color="#7f35af" points="229.6,207.1 227.8,204.5 231.1,200.7 235.8,204.2 236.2,206.1 236.1,206.2"/>
<polygon color="#ff4f21" points="320.9,217.3 318.3,219.5 317.4,219.8 315.3,218.7 316.1,214.7 319.2,215.4"/>
<polygon color="#6b31ba" points="314.7,178.2 318.8,176.8 320.7,179.8 314,181.9"/>
<polygon color="#5b2dc3" points="297,156.6 293,155.1 288.2,155.3 287.2,156.2 290.8,158.8 296.5,157.1"/>
<polygon color="#c93a69" points="213.7,171 213.5,170.6 213.6,170.3 224.1,161 224.3,161 224.7,162.5 221.7,168.1 216.8,171.9 216.6,172"/>
<polygon color="#4125b1" points="245.1,194 244.9,193.7 238,193 236,194 236.4,197.4 241.3,198.7 244.3,196.7"/>
<polygon color="#da3a55" points="308.6,217.8 305.4,221.1 308.3,224.1 310.1,225.2 311.1,224.5 311.2,218.5 310.2,217.6"/>
<polygon color="#4628c0" points="252.2,158.4 253.5,160 258.8,159.8 258.9,154.8 258,154.4 256.8,154"/>
<polygon color="#8836aa" points="319.8,205.1 320.4,205.2 321.3,204.4 323.6,200.3 319,199.1 318.2,199.5"/>
<polygon color="#d13a5f" points="293,205.9 301.1,206.3 301.3,206.9 296.8,208.6 294.1,207.5"/>
<polygon color="#652fbd" points="292.7,222.3 287,227.6 296.9,227.6 297.4,226.5 297.8,224.2 296.7,221.1 294.4,220.9"/>
<polygon color="#ff5e1c" points="247.7,197.5 248.6,197.8 248.4,203 246.8,203.9 243,201.7 241.3,198.7 244.3,196.7"/>
<polygon color="#4528bd" points="290.8,158.8 289.5,159.6 286.5,156.8 287.2,156.2"/>
<polygon color="#3b229f" points="264.6,188.1 261.4,185.4 263.9,182.5 267.1,182.3 267.5,186.6"/>
<polygon color="#4427bb" points="309.6,165.5 307.9,161 307.9,161 308.2,160.7 311.7,161.1 313.5,161.3 313.2,162.8 310,165.6"/>
<polygon color="#8536ac" points="315.9,207.5 321.3,210.6 318.3,211.1 314.7,210 314.7,210"/>
<polygon color="#a03a99" points="309,211.7 305.6,211.6 305.6,212.3 307.3,214.6 309.3,215.5 310.3,212.5"/>
<polygon color="#8e38a7" points="297.2,193.3 292.3,192.6 294.8,198.2 295.3,197.9"/>
<polygon color="#d43a5d" points="231.1,200.7 227.8,204.5 219.8,205.6 219.9,198.2 220.8,197.6 224,197.1 231.1,200.3"/>
<polygon color="#f03a3b" points="250.3,164.1 252.6,169.7 252.3,170 245.3,169.9 241.8,166.9 241.8,165.6 249.4,163.9"/>
<polygon color="#ff6917" points="237.9,181.4 237.9,180.6 242.9,177.4 250.4,180.3 250.4,180.3 244.5,182.7"/>
<polygon color="#6a30ba" points="299.6,182.7 297.3,184.1 293.3,179.2 293.5,179 298.7,180"/>
<polygon color="#612fbf" points="247.3,139.6 244.7,139.5 241.3,143.7 242.5,145 246.1,145.1 249.2,141.9"/>
<polygon color="#4729c4" points="324.4,154.7 319.7,155.8 319.3,155.7 318.4,154.6 325.2,148.5 325.4,148.5 327.4,150.6 328.1,152.4"/>
<polygon color="#ff3c29" points="248.9,194.2 247.7,197.5 244.3,196.7 245.1,194"/>
<polygon color="#7332b6" points="337.7,183.3 337.6,184 349.4,193.8 349.4,180.9"/>
<polygon color="#622fbf" points="240.1,187.6 239.6,187.3 232.4,189.9 232.5,190.6 234.7,193.3 236,194 238,193 239.4,190.8"/>
<polygon color="#f5bf20" points="291.5,208 293,208.8 292.5,211 292.3,211.2 291.7,211.1 289.9,209.4 290.3,208.5"/>
<polygon color="#8937a9" points="279.5,219.6 280.5,219.2 278,215 275.8,215.1 274.4,216.8 277.8,219.9"/>
<polygon color="#4a2acb" points="261.4,147.8 254.8,150.4 254.6,151.7 255.3,152.2 262.6,149.7 262.7,148.5"/>
<polygon color="#652fbd" points="271.8,219.5 272.2,218 274.4,216.8 277.8,219.9 275.4,221.3"/>
<polygon color="#a43a94" points="308.6,174.3 310.4,174.4 311.2,173.4 308,170.1 304.4,169.3 302.1,169.9 307.1,174.2 307.3,174.2"/>
<polygon color="#6c31b9" points="269.6,188.1 270.6,187.8 273.1,187.6 276.1,190.3 272,192.1 268.6,190.9"/>
<polygon color="#4226b4" points="263.9,182.5 267.1,182.3 267.5,182.2 270.6,177.4 263.2,174.6 260.8,175.3 261.1,179.3 262.1,181.1 262.6,181.8"/>
<polygon color="#4125b0" points="276.4,156.2 278.2,154.7 284.7,157.5 284.6,157.9 280,159.4"/>
<polygon color="#8836aa" points="261.2,224.3 259.9,221.3 259.5,221.4 257.4,223.9"/>
<polygon color="#ff6a16" points="290,219.2 289.7,220 286.3,225.7 283.8,220.5"/>
<polygon color="#35208e" points="273.2,142.3 281.2,147.7 283.2,145.3 283.7,144.6 283.1,143.3 275.6,140.4"/>
<polygon color="#4929c9" points="307.3,174.2 307.1,174.2 300.1,175.1 302,177.5 303.1,177.9"/>
<polygon color="#7132b6" points="276.4,200.4 281.3,200.7 285.8,196.6 283.7,193.5 275.8,197.3"/>
<polygon color="#5b2dc3" points="298.6,125.7 297.9,126.8 297.4,127 290.8,126.5 289,125.6 288.4,125.3 288.4,124.8 289.4,124 297.6,121.6"/>
<polygon color="#fb9717" points="236.4,197.4 236,194 234.7,193.3 225.3,195.2 224,197.1 231.1,200.3"/>
<polygon color="#7c34b0" points="315.4,168.3 312.4,167.7 312,168.8 314.6,170"/>
<polygon color="#7733b3" points="271.3,219.8 265.6,221 263.6,219.4 263.1,217.8 268.8,216.3 272.2,218 271.8,219.5"/>
<polygon color="#5e2ec1" points="285.4,150.8 284.7,150.9 288.2,155.3 293,155.1 292.1,151.9"/>
<polygon color="#9739a1" points="297.8,224.2 296.7,221.1 298.3,219.7 299,219.8 302.3,221.2 301.6,222.5"/>
<polygon color="#5d2ec1" points="257,142.8 257,143.5 254.3,146.9 247.7,147.2 246.1,145.1 249.2,141.9"/>
<polygon color="#7432b5" points="302.7,218.5 302.4,216.1 303.6,216 304.9,216.4 306.2,217.2 303.8,219.1"/>
<polygon color="#7132b7" points="246.8,204.6 246.8,203.9 243,201.7 235.8,204.2 236.2,206.1 246.3,205.7 246.6,205.4"/>
<polygon color="#582dc4" points="296.1,144 293.8,145.7 294,146.6 301.5,149.5 304.3,146.2 301.5,142.6 297.3,143.3"/>
<polygon color="#612fbf" points="310.3,212.5 313.5,213.1 314.8,214.4 310.3,217.2 309.3,215.5"/>
<polygon color="#4b2acb" points="247.7,149.8 248.2,150.5 245.5,152.8 241.4,153.5 237.5,151.4 237.5,151.2 237.7,150.7"/>
<polygon color="#f63a34" points="204.3,183 207.1,182.1 206.5,177.8 200,179.1 203.2,182.7"/>
<polygon color="#4025ad" points="303.8,178.3 306.5,180 306.5,180.3 302.2,182.7 299.6,182.7 298.7,180 302,177.5 303.1,177.9"/>
<polygon color="#612fc0" points="286.9,190 284.2,185.2 290.3,181.4 293.4,187.1 287.8,189.8"/>
<polygon color="#532cc7" points="327.9,155.4 330.6,160.9 329.9,161.2 325.7,160.5 319.7,155.8 324.4,154.7"/>
<polygon color="#f53a35" points="310.2,217.6 311.2,218.5 315.3,218.7 316.1,214.7 315.8,214.6 314.8,214.4 310.3,217.2"/>
<polygon color="#7e34b0" points="296.5,157.1 293.3,163.6 292.9,163.7 288.6,162.2 289.5,159.6 290.8,158.8"/>
<polygon color="#993aa0" points="229.8,168.8 234.6,170.6 234.4,174 232.3,175.5 231.5,175.5 227.1,170.8 228.8,168.7"/>
<polygon color="#6d31b9" points="252,189.6 256.7,188.6 258,190.4 256.6,192.2 252.6,194.5 251.7,194.1 250.2,191"/>
<polygon color="#3f24ab" points="258.6,162.7 261.3,160.9 263.3,164.6 262.7,165.9 260.4,167.6 258.2,167.7 258,166.9"/>
<polygon color="#f53a36" points="238.8,227.6 239.9,219.5 236.4,218.6 233.4,219.1 237.5,227.6"/>
<polygon color="#7d34b0" points="310.6,166.4 310,165.6 313.2,162.8 314.3,165.4 312.5,166.9"/>
<polygon color="#f63a34" points="284.2,185.2 280.5,181.9 280.2,181.2 280.4,180.2 287.2,179.7 290.3,180.7 290.3,181.4"/>
<polygon color="#4527bd" points="247.9,188.5 247.8,188.2 244.8,186.3 241.8,187.6 245.7,191 247.2,190.5"/>
<polygon color="#f13a3b" points="237.5,151.4 241.4,153.5 242.9,157 239.5,157.5 235.2,156.4 235.3,154.9 236.7,152"/>
<polygon color="#632fbe" points="253.5,151.8 250.9,151.4 247.8,154.8 248.1,155.4 251.6,153.7"/>
<polygon color="#652fbd" points="203.3,198.1 195,195.7 195,200.5 199.7,200.3 203.4,198.3"/>
<polygon color="#f13a3a" points="268.7,202.9 268.1,203.6 268,204.6 268.6,205.5 274.8,207.6 276.6,207.4 277,207.2 277.4,206.8 275.9,201.4"/>
<polygon color="#da3a56" points="234.6,170.6 235,170.2 239,170.7 239.2,170.9 239,173.7 234.4,174"/>
<polygon color="#4728c2" points="243,175.7 253.5,173.9 254,174.4 252.1,178.9 250.4,180.3 242.9,177.4"/>
<polygon color="#3b229f" points="297.9,126.8 303.8,129.4 303.5,132.1 300.4,131.8 297,129.7 297.4,127"/>
<polygon color="#4829c7" points="306.5,180 310.7,176.4 314.7,178.2 314,181.9 313,183.5 310.3,182.6 307.5,181 306.5,180.3"/>
<polygon color="#4829c7" points="276.3,156.3 275.4,156.4 272.8,160.4 273.4,161.3 275.9,160.7 276.7,159.9"/>
<polygon color="#3e24a8" points="246.5,212.4 245.8,216.9 245.5,217.2 242.9,218.3 241.3,214 245.6,211.9"/>
<polygon color="#8d37a7" points="224.6,188.9 226.9,188.6 228.5,192.2 225.5,194.3 223.9,189.5"/>
<polygon color="#ff6d15" points="311.1,209.3 311.1,209.5 314.7,210 315.9,207.5 316,206.2 315.5,206.1 314.8,206.2"/>
<polygon color="#3b23a1" points="241,138.8 238.5,138.7 237,141.5 241.3,143.7 244.7,139.5 244,139.3"/>
<polygon color="#3d24a7" points="286.6,214.1 286.6,213.6 283.3,210.4 281.1,210.1 278.2,214.9 284.1,215.4"/>
<polygon color="#9339a4" points="287.8,189.8 292.3,192.6 297.2,193.3 299.2,192.6 298.9,188.5 295.1,187 293.4,187.1"/>
<polygon color="#d83a58" points="199,186.2 203.5,188.6 201.2,191.7 195.9,192.4 198.7,186.1"/>
<polygon color="#6b31ba" points="242.5,145 238,148.9 232.1,143.7 232.1,143.5 237,141.5 241.3,143.7"/>
<polygon color="#8135ae" points="297,129.7 294.7,131.4 298.4,132.6 300.4,131.8"/>
<polygon color="#dc3a53" points="203.5,188.6 205.9,188.2 211,191.1 209.9,193 205.1,194.6 201.2,191.7"/>
<polygon color="#532cc7" points="316.9,166.9 315.7,167.9 315.4,168.3 314.6,170 315.5,172.2 320.6,173.2 319.3,166.6"/>
<polygon color="#592dc4" points="253,196.4 255.6,198.4 258.7,194.8 256.6,192.2 252.6,194.5"/>
<polygon color="#3a229e" points="315.7,167.9 312.5,167 312.4,167.7 315.4,168.3"/>
<polygon color="#5a2dc3" points="307.3,189.4 308.1,190.9 312,190.9 313.3,190.1 315,188.3 314.8,184.8 313.4,184.2"/>
<polygon color="#4226b3" points="262.3,198.9 261.5,199.1 261.6,195.3 262.7,194.1 264.7,194.2 266.7,195.8"/>
<polygon color="#ff6817" points="263.1,217.8 261.4,216.2 261.4,216.1 267.7,211.8 270,212.2 270.3,212.6 268.8,216.3"/>
<polygon color="#4d2bca" points="313.3,190.1 315,188.3 318.5,190.5"/>
<polygon color="#8d37a7" points="291.5,208 293,205.9 291.8,204.7 289.5,204.1 288.8,204.4 290.3,208.5"/>
<polygon color="#f5bf20" points="240.1,160.1 244.2,159.8 241.1,164.7 237.1,163.4"/>
<polygon color="#3a229d" points="291.5,208 293,208.8 294.1,207.5 293,205.9 293,205.9"/>
<polygon color="#4025ae" points="237.1,163.4 241.1,164.7 241.8,165.6 241.8,166.9 239.7,167.8 236.2,168.4 234.4,166.7 234,164.2 236.3,163.3"/>
<polygon color="#ff4625" points="212.6,185.1 215.2,189 215.1,189.8 211,191.1 205.9,188.2 206.7,186.4 209.7,184.8"/>
<polygon color="#8436ac" points="307.1,174.2 302.1,169.9 298.5,170.2 296.4,172.4 300.1,175.1"/>
<polygon color="#642fbe" points="315.5,172.2 311.2,173.4 308,170.1 309.2,169.4 310.3,168.9 312,168.8 314.6,170"/>
<polygon color="#3c23a3" points="302.6,140.2 306.3,140.5 308.9,144.6 307.6,145.9 304.3,146.2 301.5,142.6"/>
<polygon color="#e33a4b" points="209.7,184.8 206.7,186.4 205.1,184.7 204.3,183 207.1,182.1 208.6,182.6"/>
<polygon color="#4929c9" points="279.6,168.6 271.6,167.3 271,168.2 274,171.3 281.2,170.5 281.2,170.3"/>
<polygon color="#cb3a67" points="247.5,148.1 238,149.4 237.7,150.7 247.7,149.8"/>
<polygon color="#8e38a7" points="301.6,222.5 302.3,221.2 304.6,220.8 305.4,221.1 308.3,224.1 303.3,223.8"/>
<polygon color="#8736aa" points="218.4,207.1 218.3,207.1 217.8,207.9 219.9,213.6 222.3,214.4 224.5,213.4 224.8,210"/>
<polygon color="#4427b9" points="292.9,150.5 292.1,151.9 285.4,150.8 291.6,148.2 292.4,148.1"/>
<polygon color="#4226b4" points="285.7,134.1 282.7,131.6 288.1,129.7 288.7,133.9"/>
<polygon color="#4427ba" points="314.8,184.8 315,188.3 318.5,190.5 321.8,192 323,191.5 324.8,189.4 322.4,185.4"/>
<polygon color="#4226b4" points="241.8,166.9 239.7,167.8 239,170.7 239.2,170.9 245.1,170.1 245.3,169.9"/>
<polygon color="#612fc0" points="312.4,167.7 312,168.8 310.3,168.9 310.3,166.9 310.6,166.4 312.5,166.9 312.5,167"/>
<polygon color="#8a37a9" points="258.4,182.4 257.9,182.3 256.1,180.3 262.1,181.1 262.6,181.8"/>
<polygon color="#ec3a40" points="207.6,177.2 209.7,173.5 213.7,171 216.6,172 219,175.4 211.8,180.3"/>
<polygon color="#3f25ac" points="297.4,226.5 296.9,227.6 309.6,227.6 310.1,225.2 308.3,224.1 303.3,223.8"/>
<polygon color="#f8ac1b" points="290,219.2 289.7,220 292.7,222.3 294.4,220.9 290.6,218.4"/>
<polygon color="#4a2acb" points="286.6,214.1 286.6,213.6 291.7,211.1 292.3,211.2 295.9,215.4 290.7,217.1"/>
<polygon color="#fd3a2d" points="252.3,213.2 254.6,215.2 252.4,217.1 245.8,216.9 246.5,212.4 252.2,213.1"/>
<polygon color="#552cc6" points="268.9,163.3 272.5,164.7 271.6,167.3 271,168.2 270.5,168.3 262.7,165.9 263.3,164.6"/>
<polygon color="#4829c5" points="297,156.6 301.1,155.8 300.7,163.8 297.3,165.8 293.3,163.6 296.5,157.1"/>
<polygon color="#8035ae" points="309.2,169.4 309,167.3 310.3,166.9 310.3,168.9"/>
<polygon color="#602ec0" points="296.1,144 291.5,139.5 292.9,138.6 294.3,139.2 297.3,143.3"/>
<polygon color="#4528be" points="290.9,139.9 284.3,139 283.1,143.3 283.7,144.6 290,143.6"/>
<polygon color="#8536ac" points="256.2,186.9 258.4,182.4 257.9,182.3 252.1,183.8 252.2,184.3"/>
<polygon color="#4829c8" points="289,125.6 288.1,129.7 288.7,133.9 291.3,134.1 292.5,132.3 290.8,126.5"/>
<polygon color="#fb9316" points="228.8,168.7 228.2,167.4 227.7,167.1 221.7,168.1 216.8,171.9 227.1,170.8"/>
<polygon color="#fa9d18" points="276.6,207.4 275.4,214.8 270.3,212.6 270,212.2 274.8,207.6"/>
<polygon color="#4025af" points="287.5,204.7 283.5,204.1 277.4,206.8 277,207.2 281.1,210.1 283.3,210.4 286.1,208.7"/>
<polygon color="#8235ad" points="251.3,189.1 249.7,187.3 251.1,184.9 252.2,184.3 256.2,186.9 256.7,187.4 256.7,188.6 252,189.6"/>
<polygon color="#7833b2" points="306.4,195.7 305.6,195.8 299.5,202.4 301.2,203.9 308.7,202 310,200.6 308.6,197"/>
<polygon color="#6730bc" points="297.8,224.2 301.6,222.5 303.3,223.8 297.4,226.5"/>
<polygon color="#4427bc" points="281.5,170 283.9,163.8 286.4,166.3 284.8,168.4"/>
<polygon color="#ff581e" points="199.3,173.9 195,170.9 195,178.4 195,178.4"/>
<polygon color="#a23a96" points="247.9,188.5 247.8,188.2 249.7,187.3 251.3,189.1"/>
<polygon color="#4025af" points="275.9,160.7 276.9,162.2 275.5,164.1 274.7,164.6 272.6,164.7 273.4,161.3"/>
<polygon color="#6d31b9" points="338,195.5 332,188.4 326.8,189.4 333,195.7"/>
<polygon color="#4628bf" points="256.6,192.2 258,190.4 260.4,190.9 262.7,194.1 261.6,195.3 258.7,194.8"/>
<polygon color="#5a2dc3" points="343.3,197.5 349.4,196 349.4,193.8 337.6,184 337.3,184.3 340.1,196.1"/>
<polygon color="#4025ae" points="297.2,193.3 295.3,197.9 304.3,195.6 299.2,192.6"/>
<polygon color="#9138a5" points="235.2,156.4 234.4,157.5 234.3,158.6 235.7,159.7 238,159.5 239.5,157.5"/>
<polygon color="#fa9f18" points="229.8,168.8 234.4,166.7 236.2,168.4 235,170.2 234.6,170.6"/>
<polygon color="#ff4824" points="253.8,207.8 251.9,208 252.2,213.1 252.3,213.2 254.8,210.8 254.1,207.8"/>
<polygon color="#4327b8" points="276.1,200.8 275.9,201.4 277.4,206.8 283.5,204.1 283.2,203 281.3,200.7 276.4,200.4"/>
<polygon color="#3f25ad" points="259,208.5 260.1,209.3 263,209.6 264.8,209.5 265.3,208.6 261.2,204.9"/>
<polygon color="#8b37a8" points="316,206.2 318.7,205.2 319.8,205.1 320.4,205.2 324.4,209.1 322.7,210.6 321.3,210.6 315.9,207.5"/>
<polygon color="#4a2acb" points="293,205.9 293,205.9 301.1,206.3 301.2,203.9 299.5,202.4 298.5,202.1 291.8,204.7"/>
<polygon color="#d93a57" points="206.5,177.8 200,179.1 195,178.4 199.3,173.9 199.7,173.6 206.8,177.6"/>
<polygon color="#ff4824" points="214.4,182.2 223.3,180.1 223.5,180.6 222.1,183.9 219.2,185.5 213.9,183.5"/>
<polygon color="#652fbd" points="279,223.5 275.5,223.1 275.4,221.3 277.8,219.9 279.5,219.6 279.6,220.9"/>
<polygon color="#f7b11c" points="229.6,207.1 227.8,204.5 219.8,205.6 218.4,207.1 224.8,210 229.1,209.5"/>
<polygon color="#6830bc" points="261.4,216.1 263,209.6 260.1,209.3 257.4,215.4 261.4,216.2"/>
<polygon color="#4226b4" points="236.2,168.4 239.7,167.8 239,170.7 235,170.2"/>
<polygon color="#7f35af" points="272.2,176.9 272.5,174.1 266.4,170.9 264.4,171.4 263.2,174.6 270.6,177.4"/>
<polygon color="#3d24a6" points="261.2,204.9 265.3,208.6 268.6,205.5 268,204.6 261.2,204.7"/>
<polygon color="#4729c5" points="219,175.4 216.6,172 216.8,171.9 227.1,170.8 231.5,175.5 223.3,179.2"/>
<polygon color="#622fbf" points="297.3,143.3 301.5,142.6 302.6,140.2 302.3,139.5 302.2,139.5 294.3,139.2"/>
<polygon color="#552cc6" points="291.8,204.7 298.5,202.1 294.7,198.3 289.9,199 289.5,204.1"/>
<polygon color="#9138a5" points="263.8,156.2 263.3,155.4 258.9,154.8 258.8,159.8 261.3,160.8 263.8,159.5"/>
<polygon color="#3e24a8" points="247.5,148.1 247.7,147.2 246.1,145.1 242.5,145 238,148.9 238,149.4"/>
<polygon color="#e63a47" points="253.7,223.7 252.7,222.8 252.4,222.6 250.3,221.9 247,222.9 246.8,223.3 249.7,227.6 252.2,227.6"/>
<polygon color="#39229b" points="260.4,167.6 264.4,171.4 266.4,170.9 270.5,168.3 262.7,165.9"/>
<polygon color="#f5be20" points="233.4,219.1 230.4,218.8 230,214.9 232.4,211.8 234.8,211.5 238.2,214.2 236.4,218.6"/>
<polygon color="#d03a60" points="250.4,180.3 250.4,180.3 252.1,183.8 257.9,182.3 256.1,180.3 254.9,179.7 252.1,178.9"/>
<polygon color="#3e24a7" points="275.6,140.4 283.1,143.3 284.3,139 283.1,137.3 280.4,137.4 275.8,139.9"/>
<polygon color="#7a34b2" points="201.6,204.1 202.3,207 206.7,207.8 209.2,205.1 206.1,201.6"/>
<polygon color="#3f25ad" points="312,190.9 318.3,194.2 317.7,194.9 308.6,197 306.4,195.7 308.1,190.9"/>
<polygon color="#4b2acb" points="256.7,207.6 258.8,208.5 259,208.5 261.2,204.9 261.2,204.7 257.5,200.7 257.3,200.7 256.6,201.1 255.9,204.9"/>
<polygon color="#9639a2" points="257.1,227.6 256.2,224.3 253.7,223.7 252.2,227.6"/>
<polygon color="#3d23a5" points="279.3,161.2 276.7,159.9 276.3,156.3 276.4,156.2 280,159.4 280.2,160.3"/>
<polygon color="#4829c6" points="276.1,200.8 275.9,201.4 268.7,202.9 268.8,200"/>
<polygon color="#9038a5" points="251.1,184.9 245.2,185.9 244.5,182.7 250.4,180.3 252.1,183.8 252.2,184.3"/>
<polygon color="#3c23a4" points="229.8,168.8 234.4,166.7 234,164.2 233.8,164.1 228.2,167.4 228.8,168.7"/>
<polygon color="#7332b5" points="341.2,200.1 330.8,202.9 327,199.8 328.7,197 333,195.7 338,195.5 340.1,196.1 343.3,197.5"/>
<polygon color="#39229b" points="247.5,148.1 247.7,147.2 254.3,146.9 254.8,150.4 254.6,151.7 253.5,151.8 250.9,151.4 248.2,150.5 247.7,149.8"/>
<polygon color="#6630bd" points="289.9,173.8 284.4,171.4 289.4,168.6 295.6,172.7 294.6,173.3"/>
<polygon color="#39229a" points="322.8,211.8 322.7,210.6 321.3,210.6 318.3,211.1 315.8,214.6 316.1,214.7 319.2,215.4"/>
<polygon color="#ff4f22" points="227.7,167.1 221.7,168.1 224.7,162.5"/>
<polygon color="#5a2dc3" points="307.9,161 307.9,161 307,163.4 302.4,164.2 301,163.8"/>
<polygon color="#d33a5e" points="206.1,200.5 213.1,198.6 213.4,205.4 209.2,205.1 206.1,201.6"/>
<polygon color="#e03a4e" points="206.8,177.6 199.7,173.6 200.7,172.8 209.7,173.5 207.6,177.2"/>
<polygon color="#fc3a2e" points="236.9,209.5 244.5,209.7 246.3,205.7 236.2,206.1 236.1,206.2"/>
<polygon color="#8536ac" points="322.6,181 327.6,177.4 329.7,178.3 333.2,181.4 323.3,184"/>
<polygon color="#d93a57" points="302.3,221.2 304.6,220.8 303.8,219.1 302.7,218.5 299,219.8"/>
<polygon color="#d63a5a" points="290.3,208.5 289.9,209.4 286.1,208.7 287.5,204.7 288.8,204.4"/>
<polygon color="#a23a97" points="232.5,190.6 232.4,189.9 230.1,188 226.9,188.6 228.5,192.2"/>
<polygon color="#f6b91e" points="253.8,207.8 251.9,208 246.6,205.4 246.8,204.6 253.8,205.9"/>
<polygon color="#4728c3" points="245.3,191.8 239.4,190.8 240.1,187.6 241.8,187.6 245.7,191"/>
<polygon color="#4527bd" points="276.3,156.3 275.4,156.4 271,156.2 269.7,154.1 277.1,150.1 279.2,150.4 278.2,154.7 276.4,156.2"/>
<polygon color="#fe3a2c" points="228.4,219.8 230.4,218.8 230,214.9 224.5,213.4 222.3,214.4 222.4,218.8 222.5,218.8 223,219.1"/>
<polygon color="#8335ac" points="291.6,148.2 285.4,150.8 284.7,150.9 280.6,149.7 281.2,147.7 283.2,145.3"/>
<polygon color="#4527bd" points="279.3,161.3 280.7,162.9 275.5,164.1 276.9,162.2"/>
<polygon color="#ff5220" points="201.2,191.7 205.1,194.6 203.3,198.1 195,195.7 195,192.8 195.9,192.4"/>
<polygon color="#d43a5c" points="337.5,183.1 337.7,183.3 337.6,184 337.3,184.3 332,188.4 326.8,189.4 324.8,189.4 322.4,185.4 323.3,184 333.2,181.4 334.5,181.8"/>
<polygon color="#ee3a3e" points="213.6,166.2 213.6,170.3 224.1,161 221.5,160.3"/>
<polygon color="#ec3a40" points="236.4,218.6 238.2,214.2 241.3,214 242.9,218.3 242.1,219.3 239.9,219.5"/>
<polygon color="#fa9c18" points="324.4,209.1 320.4,205.2 321.3,204.4 330.5,204 330.4,206.1 325.8,208.9"/>
<polygon color="#d93a56" points="256.1,180.3 262.1,181.1 261.1,179.3 254.9,179.7"/>
<polygon color="#ed3a3f" points="234.8,211.5 236.9,209.5 236.1,206.2 229.6,207.1 229.1,209.5 232.4,211.8"/>
<polygon color="#7a34b2" points="199,186.2 199.5,185.9 205.1,184.7 206.7,186.4 205.9,188.2 203.5,188.6"/>
<polygon color="#592dc4" points="316.9,166.9 314.3,165.4 313.2,162.8 313.5,161.3 314.6,160.9 320.9,164.9 320.9,165.3 319.3,166.6"/>
<polygon color="#6830bc" points="301.5,149.5 304.3,146.2 307.6,145.9 311.5,148.5 311.8,152.9 309.8,153.3 302.7,154.6 302,152.8"/>
<polygon color="#7b34b1" points="275.8,197.3 283.7,193.5 284,191.8 279.3,190.4 276.1,190.3 272,192.1 272.2,196.2"/>
<polygon color="#f5c226" points="273.2,187.3 273.3,185.2 272.2,183.9 270.7,183.5 270.6,187.8 273.1,187.6"/>
<polygon color="#612fbf" points="276.1,200.8 268.8,200 268.6,199.4 270.8,196.5 272.2,196.2 275.8,197.3 276.4,200.4"/>
<polygon color="#4929c8" points="291.5,139.5 290.9,139.9 284.3,139 283.1,137.3 285.7,134.1 288.7,133.9 291.3,134.1 293,135.7 292.9,138.6"/>
<polygon color="#d73a59" points="246.8,223.3 249.7,227.6 239.3,227.6"/>
<polygon color="#5d2ec1" points="260.4,190.9 264.3,190 267.7,191.1 267.1,192 264.7,194.2 262.7,194.1"/>
<polygon color="#9339a4" points="216.5,190.4 220.8,197.6 224,197.1 225.3,195.2 225.5,194.3 223.9,189.5"/>
<polygon color="#4628c1" points="302.2,139.5 299.4,135.9 303.8,132.5 305.1,133 304.2,137.8 302.3,139.5"/>
<polygon color="#3e24a8" points="248.9,194.2 251.7,194.1 250.2,191 247.2,190.5 245.7,191 245.3,191.8 244.9,193.7 245.1,194"/>
<polygon color="#ff3a2a" points="269.6,188.1 270.6,187.8 270.7,183.5 267.5,182.2 267.1,182.3 267.5,186.6"/>
<polygon color="#e73a46" points="264.3,190 267.7,191.1 268.6,190.9 269.6,188.1 267.5,186.6 264.6,188.1"/>
<polygon color="#4125b0" points="298.6,125.7 297.6,121.6 298.3,120.4 304.3,124.6"/>
<polygon color="#7b34b1" points="330.7,215.7 329.9,212 325.8,208.9 324.4,209.1 322.7,210.6 322.8,211.8 328.1,217 328.4,216.9 330.3,216.5"/>
<polygon color="#9b3a9f" points="287.2,179.7 288.3,175 289.9,173.8 294.6,173.3 293.5,179 293.3,179.2 290.3,180.7"/>
<polygon color="#4025ae" points="252.2,158.4 253.5,160 252.9,161.9 250.3,164.1 249.4,163.9 244.3,159.7 244.9,158.5 248,157.6 250.8,158"/>
<polygon color="#9c3a9e" points="340.1,196.1 337.3,184.3 332,188.4 338,195.5"/>
<polygon color="#3a229d" points="267.3,159.9 263.8,159.5 263.8,156.2 270.3,156.7 269.6,157.8"/>
<polygon color="#4628c1" points="251.9,208 246.6,205.4 246.3,205.7 244.5,209.7 245.6,211.9 246.5,212.4 252.2,213.1"/>
<polygon color="#c23a71" points="299,219.8 302.7,218.5 302.4,216.1 298,215.2 297.3,215.5 298.3,219.7"/>
<polygon color="#ff3c29" points="303.2,208.4 308.9,206.9 311.1,209.3 311.1,209.5 309,211.7 305.6,211.6 303.4,210.3"/>
<polygon color="#3f25ad" points="313,183.5 313.4,184.2 314.8,184.8 322.4,185.4 323.3,184 322.6,181 320.7,179.8 314,181.9"/>
<polygon color="#4427ba" points="298.6,125.7 297.9,126.8 303.8,129.4 306.2,127.7 304.7,124.6 304.3,124.6"/>
<polygon color="#612fbf" points="253.8,207.8 253.8,205.9 255.9,204.9 256.7,207.6 254.1,207.8"/>
<polygon color="#6b31ba" points="297.3,165.8 298.5,170.2 296.4,172.4 295.6,172.7 289.4,168.6 289.3,168.5 289.2,166.8 292.9,163.7 293.3,163.6"/>
<polygon color="#4427ba" points="302,177.5 298.7,180 293.5,179 294.6,173.3 295.6,172.7 296.4,172.4 300.1,175.1"/>
<polygon color="#f7af1c" points="290.5,217.7 290.7,217.1 286.6,214.1 284.1,215.4 283,219.1"/>
<polygon color="#4527bc" points="290.8,126.5 292.5,132.3 294.7,131.4 297,129.7 297.4,127"/>
<polygon color="#8035af" points="257.4,223.9 259.5,221.4 258.3,221.1 252.7,222.8 253.7,223.7 256.2,224.3 256.7,224.2"/>
<polygon color="#e63a47" points="228.2,222.9 228.4,219.8 230.4,218.8 233.4,219.1 237.5,227.6 236.1,227.6"/>
<polygon color="#7533b4" points="199,186.2 199.5,185.9 203.2,182.7 200,179.1 195,178.4 195,178.4 195,184.4 198.7,186.1"/>
<polygon color="#ff581e" points="302.4,216.1 298,215.2 299.6,212.7 303.4,210.3 305.6,211.6 305.6,212.3 303.6,216"/>
<polygon color="#4829c5" points="308.9,144.6 307.6,145.9 311.5,148.5 316.2,146.1 314.3,143.9 310.7,143.7"/>
<polygon color="#4f2bc9" points="316,206.2 318.7,205.2 315.2,200.8 310.9,200.8 315.5,206.1"/>
<polygon color="#4b2acb" points="268.8,200 268.7,202.9 268.1,203.6 260.7,199.7 261.5,199.1 262.3,198.9 268.6,199.4"/>
<polygon color="#f7af1c" points="256.5,219.9 256.8,215.4 254.6,215.2 252.4,217.1 252.1,217.8 255.6,220.4"/>
<polygon color="#3e24a9" points="303.8,188 298.9,188.5 299.2,192.6 304.3,195.6 305.6,195.8 306.4,195.7 308.1,190.9 307.3,189.4"/>
<polygon color="#502bc9" points="318.3,194.2 320.3,193.2 325.5,199.9 323.6,200.3 319,199.1 317.7,194.9"/>
<polygon color="#642fbe" points="284.8,168.4 289.3,168.5 289.2,166.8 286.4,166.3"/>
<polygon color="#c43a6f" points="251.1,184.9 245.2,185.9 244.8,186.3 247.8,188.2 249.7,187.3"/>
<polygon color="#3c23a4" points="326.6,217.9 324.9,224 318.3,219.5 320.9,217.3"/>
<polygon color="#4226b5" points="277.5,165.8 274.7,164.6 272.6,164.7 272.5,164.7 271.6,167.3 279.6,168.6 278.6,166.4"/>
<polygon color="#552cc6" points="302.3,139.5 304.2,137.8 311.5,136.4 313.3,137.5 310.6,139.6 306.3,140.5 302.6,140.2"/>
<polygon color="#4126b2" points="316.9,166.9 314.3,165.4 312.5,166.9 312.5,167 315.7,167.9"/>
<polygon color="#4728c2" points="309.8,153.3 311.7,161.1 308.2,160.7 302.2,155.3 302.7,154.6"/>
<polygon color="#3b229f" points="258.6,162.7 258,166.9 255.9,163.3"/>
<polygon color="#632fbe" points="244.9,193.7 238,193 239.4,190.8 245.3,191.8"/>
<polygon color="#cf3a62" points="250.8,158 248,157.6 248.1,155.4 251.6,153.7"/>
<polygon color="#d03a61" points="241.3,198.7 236.4,197.4 231.1,200.3 231.1,200.7 235.8,204.2 243,201.7"/>
<polygon color="#502bc9" points="314.8,206.2 315.5,206.1 310.9,200.8 310,200.6 308.7,202 309.5,206.2"/>
<polygon color="#4226b4" points="283.2,203 281.3,200.7 285.8,196.6 287.9,198.1"/>
<polygon color="#3c23a2" points="265.9,152.7 263.3,150.9 258,154.4 258.9,154.8 263.3,155.4"/>
<polygon color="#3f25ad" points="320.9,164.9 314.6,160.9 319.3,155.7 319.7,155.8 325.7,160.5"/>
<polygon color="#e33a4a" points="218.4,207.1 218.3,207.1 213.4,205.4 213.1,198.6 213.8,198.2 219.9,198.2 219.8,205.6"/>
<polygon color="#d33a5d" points="232.4,211.8 230,214.9 224.5,213.4 224.8,210 229.1,209.5"/>
<polygon color="#f63a35" points="286.8,227.6 287,227.6 292.7,222.3 289.7,220 286.3,225.7 286.4,226.7"/>
<polygon color="#ff4f21" points="289.9,209.4 291.7,211.1 286.6,213.6 283.3,210.4 286.1,208.7"/>
<polygon color="#e53a49" points="275.8,215.1 275.4,214.8 270.3,212.6 268.8,216.3 272.2,218 274.4,216.8"/>
<polygon color="#c23a71" points="259.5,221.4 258.3,221.1 256.5,219.9 256.8,215.4 257.4,215.4 261.4,216.2 263.1,217.8 263.6,219.4 259.9,221.3"/>
<polygon color="#9138a5" points="290.6,218.4 294.4,220.9 296.7,221.1 298.3,219.7 297.3,215.5 295.9,215.4 290.7,217.1 290.5,217.7"/>
<polygon color="#4226b4" points="275.5,164.1 274.7,164.6 277.5,165.8 281.2,163.1 280.7,162.9"/>
<polygon color="#602ec0" points="267.3,159.9 269.6,157.8 272.2,160.2 268.1,160.8"/>
<polygon color="#502bc8" points="334.5,181.8 333.2,181.4 329.7,178.3 333.1,175.8 334.7,177.3"/>
<polygon color="#3b23a0" points="277.6,186 273.2,187.3 273.3,185.2 277.6,185.5"/>
<polygon color="#6b31ba" points="271,156.2 269.7,154.1 267.5,152.5 265.9,152.7 263.3,155.4 263.8,156.2 270.3,156.7"/>
<polygon color="#522cc8" points="281.5,170.9 281.2,170.5 274,171.3 272.5,174.1 272.2,176.9 278.9,178.3 280.1,176.8"/>
<polygon color="#c13a72" points="304.9,216.4 307.3,214.6 309.3,215.5 310.3,217.2 310.2,217.6 308.6,217.8 306.2,217.2"/>
<polygon color="#4126b3" points="301.5,149.5 294,146.6 292.4,148.1 292.9,150.5 302,152.8"/>
<polygon color="#4427ba" points="247.9,188.5 251.3,189.1 252,189.6 250.2,191 247.2,190.5"/>
<polygon color="#572dc5" points="309.2,169.4 309,167.3 305.9,167.1 304.4,169.3 308,170.1"/>
<polygon color="#4327b8" points="318.3,146.5 318.2,154.5 318.4,154.6 325.2,148.5 324,146.9 321,145.7"/>
<polygon color="#d13a60" points="252.2,158.4 256.8,154 255.3,152.2 254.6,151.7 253.5,151.8 251.6,153.7 250.8,158"/>
<polygon color="#ee3a3d" points="274.8,207.6 270,212.2 267.7,211.8 264.8,209.5 265.3,208.6 268.6,205.5"/>
<polygon color="#8035ae" points="295.3,197.9 294.8,198.2 294.7,198.3 298.5,202.1 299.5,202.4 305.6,195.8 304.3,195.6"/>
<polygon color="#4a2acb" points="308.9,144.6 306.3,140.5 310.6,139.6 310.7,143.7"/>
<polygon color="#ff4f21" points="288.8,204.4 287.5,204.7 283.5,204.1 283.2,203 287.9,198.1 289.9,199 289.5,204.1"/>
<polygon color="#3c23a2" points="224.6,188.9 226.9,188.6 230.1,188 231.5,184 223.5,180.6 222.1,183.9"/>
<polygon color="#652fbd" points="242,174.3 245.1,170.1 239.2,170.9 239,173.7"/>
<polygon color="#f7b31d" points="261.4,216.1 267.7,211.8 264.8,209.5 263,209.6"/>
<polygon color="#d13a60" points="248.6,197.8 248.4,203 256.6,201.1 257.3,200.7 255.6,198.4 253,196.4"/>
<polygon color="#9d3a9c" points="241.8,187.6 244.8,186.3 245.2,185.9 244.5,182.7 237.9,181.4 236.5,183 239.6,187.3 240.1,187.6"/>
<polygon color="#4929c8" points="326.6,217.9 320.9,217.3 319.2,215.4 322.8,211.8 328.1,217"/>
<polygon color="#602ec0" points="284.6,157.9 284.8,160.5 285.9,162.2 288.6,162.2 289.5,159.6 286.5,156.8 284.7,157.5"/>
<polygon color="#983aa1" points="217.8,207.9 214,210.4 217.2,214.7 219.9,213.6"/>
<polygon color="#4d2bca" points="312,190.9 313.3,190.1 318.5,190.5 321.8,192 320.3,193.2 318.3,194.2"/>
<polygon color="#cc3a65" points="254.1,207.8 254.8,210.8 258.8,208.5 256.7,207.6"/>
<polygon color="#532cc7" points="288.3,175 280.1,176.8 281.5,170.9 284.4,171.4 289.9,173.8"/>
<polygon color="#301d80" points="303.8,132.5 303.5,132.1 300.4,131.8 298.4,132.6 296.6,135.4 299.4,135.9"/>
<polygon color="#642fbe" points="305.9,167.1 304.4,169.3 302.1,169.9 298.5,170.2 297.3,165.8 300.7,163.8 301,163.8 302.4,164.2 306.3,166"/>
<polygon color="#652fbd" points="212,180.7 211.8,180.3 219,175.4 223.3,179.2 223.3,180.1 214.4,182.2"/>
<polygon color="#d23a5f" points="235.7,159.7 234.3,158.6 227.2,161.1 233.8,164.1 234,164.2 236.3,163.3"/>
<polygon color="#4c2acb" points="266.4,170.9 270.5,168.3 271,168.2 274,171.3 272.5,174.1"/>
<polygon color="#ff6d15" points="212,180.7 211.8,180.3 207.6,177.2 206.8,177.6 206.5,177.8 207.1,182.1 208.6,182.6"/>
<polygon color="#39219a" points="308.6,174.3 303.8,178.3 303.1,177.9 307.3,174.2"/>
<polygon color="#9a3aa0" points="244.9,158.5 242.9,157 241.4,153.5 245.5,152.8 247.8,154.8 248.1,155.4 248,157.6"/>
<polygon color="#4729c4" points="287.2,179.7 288.3,175 280.1,176.8 278.9,178.3 280.4,180.2"/>
<polygon color="#fb9817" points="244.3,159.7 244.2,159.8 241.1,164.7 241.8,165.6 249.4,163.9"/>
<polygon color="#f13a3b" points="225.3,195.2 234.7,193.3 232.5,190.6 228.5,192.2 225.5,194.3"/>
<polygon color="#582dc4" points="252.9,161.9 255.9,163.3 258.6,162.7 261.3,160.9 261.3,160.8 258.8,159.8 253.5,160"/>
<polygon color="#7633b4" points="321.3,204.4 323.6,200.3 325.5,199.9 327,199.8 330.8,202.9 330.5,204"/>
<polygon color="#4f2bc9" points="300.7,163.8 301,163.8 307.9,161 308.2,160.7 302.2,155.3 301.1,155.8"/>
<polygon color="#4b2acb" points="295.7,210.2 299.6,212.7 303.4,210.3 303.2,208.4 301.3,206.9 296.8,208.6"/>
<polygon color="#7332b5" points="304.9,216.4 307.3,214.6 305.6,212.3 303.6,216"/>
<polygon color="#341f8c" points="308.6,197 310,200.6 310.9,200.8 315.2,200.8 318.2,199.5 319,199.1 317.7,194.9"/>
<polygon color="#3f25ad" points="341.5,206.8 341.2,200.1 330.8,202.9 330.5,204 330.4,206.1 334.1,207.9"/>
<polygon color="#4126b3" points="252.3,170 253.5,173.9 243,175.7 242,174.3 245.1,170.1 245.3,169.9"/>
<polygon color="#dd3a52" points="213.5,170.6 213.6,170.3 213.6,166.2 212.9,163.7 210.5,160.9 208.1,161.8 207.3,167.8"/>
<polygon color="#4729c4" points="296.1,144 293.8,145.7 290,143.6 290.9,139.9 291.5,139.5"/>
<polygon color="#e13a4d" points="284.7,157.5 286.5,156.8 287.2,156.2 288.2,155.3 284.7,150.9 280.6,149.7 279.2,150.4 278.2,154.7"/>
<polygon color="#4527bd" points="281.5,170 281.2,170.3 281.2,170.5 281.5,170.9 284.4,171.4 289.4,168.6 289.3,168.5 284.8,168.4"/>
<polygon color="#4c2acb" points="257.5,200.7 260.7,199.7 268.1,203.6 268,204.6 261.2,204.7"/>
<polygon color="#5d2ec1" points="290.3,181.4 290.3,180.7 293.3,179.2 297.3,184.1 295.1,187 293.4,187.1"/>
<polygon color="#4025ad" points="292.5,211 292.3,211.2 295.9,215.4 297.3,215.5 298,215.2 299.6,212.7 295.7,210.2"/>
<polygon color="#c43a6f" points="310.3,166.9 310.6,166.4 310,165.6 309.6,165.5 307,165.5 306.3,166 305.9,167.1 309,167.3"/>
<polygon color="#592dc4" points="320.3,193.2 325.5,199.9 327,199.8 328.7,197 323,191.5 321.8,192"/>
<polygon color="#ff591e" points="277.6,185.5 273.3,185.2 272.2,183.9 280.2,181.2 280.5,181.9"/>
<polygon color="#8c37a8" points="280.2,181.2 272.2,183.9 270.7,183.5 267.5,182.2 270.6,177.4 272.2,176.9 278.9,178.3 280.4,180.2"/>
<polygon color="#8636ab" points="303.2,208.4 308.9,206.9 309.5,206.2 308.7,202 301.2,203.9 301.1,206.3 301.3,206.9"/>
<polygon color="#3f24ab" points="223.3,180.1 223.3,179.2 231.5,175.5 232.3,175.5 237.9,180.6 237.9,181.4 236.5,183 231.5,184 223.5,180.6"/>
<polygon color="#7b34b1" points="318.3,219.5 324.9,224 325.2,225.8 315.1,223.5 317.4,219.8"/>
<polygon color="#39229a" points="310.3,182.6 304.1,186.3 303.8,188 307.3,189.4 313.4,184.2 313,183.5"/>
<polygon color="#7733b3" points="272.8,160.4 272.2,160.2 268.1,160.8 268.9,163.3 272.5,164.7 272.6,164.7 273.4,161.3"/>
<polygon color="#f9a71a" points="212,180.7 208.6,182.6 209.7,184.8 212.6,185.1 213.9,183.5 214.4,182.2"/>
<polygon color="#ec3a41" points="200.4,204 199.1,201.9 199.7,200.3 203.4,198.3 206.1,200.5 206.1,201.6 201.6,204.1"/>
<polygon color="#3b22a0" points="302,152.8 302.7,154.6 302.2,155.3 301.1,155.8 297,156.6 293,155.1 292.1,151.9 292.9,150.5"/>
<polygon color="#3c23a3" points="245.6,211.9 244.5,209.7 236.9,209.5 234.8,211.5 238.2,214.2 241.3,214"/>
<polygon color="#7833b3" points="292.4,148.1 291.6,148.2 283.2,145.3 283.7,144.6 290,143.6 293.8,145.7 294,146.6"/>
<polygon color="#4226b6" points="307,165.5 307,163.4 302.4,164.2 306.3,166"/>
<polygon color="#f23a39" points="303.8,219.1 306.2,217.2 308.6,217.8 305.4,221.1 304.6,220.8"/>
<polygon color="#4c2acb" points="337.5,183.1 339.4,174.5 337.8,172.7 334.7,177.3 334.5,181.8"/>
<polygon color="#cc3a66" points="239.6,187.3 232.4,189.9 230.1,188 231.5,184 236.5,183"/>
<polygon color="#ff6319" points="246.8,223.3 247,222.9 242.1,219.3 239.9,219.5 238.8,227.6 239.3,227.6"/>
<polygon color="#7f35af" points="279.3,161.2 279.3,161.3 280.7,162.9 281.2,163.1 283.7,163.8 283.9,163.8 285.9,162.2 284.8,160.5 280.2,160.3"/>
<polygon color="#fa3a30" points="234.4,174 239,173.7 242,174.3 243,175.7 242.9,177.4 237.9,180.6 232.3,175.5"/>
<polygon color="#5c2ec2" points="275.8,215.1 275.4,214.8 276.6,207.4 277,207.2 281.1,210.1 278.2,214.9 278,215"/>
<polygon color="#f03a3b" points="204.3,183 205.1,184.7 199.5,185.9 203.2,182.7"/>
<polygon color="#4427b9" points="256.8,154 258,154.4 263.3,150.9 262.6,149.7 255.3,152.2"/>
<polygon color="#7b34b1" points="258.3,221.1 252.7,222.8 252.4,222.6 255.6,220.4 256.5,219.9"/>
<polygon color="#3e24aa" points="279.3,161.2 279.3,161.3 276.9,162.2 275.9,160.7 276.7,159.9"/>
<polygon color="#c13a73" points="244.9,158.5 242.9,157 239.5,157.5 238,159.5 240.1,160.1 244.2,159.8 244.3,159.7"/>
<polygon color="#7b34b1" points="227.7,167.1 224.7,162.5 224.3,161 224.5,160.9 227.2,161.1 233.8,164.1 228.2,167.4"/>
<polygon color="#a23a97" points="213.9,183.5 219.2,185.5 215.2,189 212.6,185.1"/>
<polygon color="#ff6319" points="266.7,195.8 264.7,194.2 267.1,192 268.7,196"/>
<polygon color="#3a229d" points="267.3,159.9 263.8,159.5 261.3,160.8 261.3,160.9 263.3,164.6 268.9,163.3 268.1,160.8"/>
<polygon color="#4f2bc9" points="275.4,156.4 271,156.2 270.3,156.7 269.6,157.8 272.2,160.2 272.8,160.4"/>
<polygon color="#d33a5d" points="255.9,204.9 256.6,201.1 248.4,203 246.8,203.9 246.8,204.6 253.8,205.9"/>
<polygon color="#c13a72" points="209.5,212.4 214,210.4 217.8,207.9 218.3,207.1 213.4,205.4 209.2,205.1 206.7,207.8 207.2,209.6 209.1,212.3"/>
<polygon color="#6930bb" points="283,219.1 284.1,215.4 278.2,214.9 278,215 280.5,219.2 282.8,219.2"/>
<polygon color="#492ac9" points="250.3,164.1 252.6,169.7 258.2,167.7 258,166.9 255.9,163.3 252.9,161.9"/>
<polygon color="#5c2ec2" points="277.6,186 273.2,187.3 273.1,187.6 276.1,190.3 279.3,190.4"/>
<polygon color="#4a2acc" points="271.2,142.8 269,145.3 269,146.3 271,148.5 277.1,150.1 279.2,150.4 280.6,149.7 281.2,147.7 273.2,142.3"/>
<polygon color="#f5be1f" points="285.4,226.3 286.4,226.7 286.3,225.7 283.8,220.5 282.8,219.2 280.5,219.2 279.5,219.6 279.6,220.9"/>
<polygon color="#582dc4" points="278.6,166.4 279.6,168.6 281.2,170.3 281.5,170 283.9,163.8 283.9,163.8 283.7,163.8"/>
<polygon color="#7a34b2" points="245.5,217.2 250.4,220.7 250.3,221.9 247,222.9 242.1,219.3 242.9,218.3"/>
<polygon color="#f8ac1b" points="245.8,216.9 252.4,217.1 252.1,217.8 250.4,220.7 245.5,217.2"/>
<polygon color="#3d24a6" points="280.2,160.3 284.8,160.5 284.6,157.9 280,159.4"/>
<polygon color="#35208f" points="333,195.7 326.8,189.4 324.8,189.4 323,191.5 328.7,197"/>
<polygon color="#4d2bcb" points="304,186.1 304.1,186.3 303.8,188 298.9,188.5 295.1,187 297.3,184.1 299.6,182.7 302.2,182.7"/>
<polygon color="#6830bc" points="286.9,190 284,191.8 283.7,193.5 285.8,196.6 287.9,198.1 289.9,199 294.7,198.3 294.8,198.2 292.3,192.6 287.8,189.8"/>
<polygon color="#e33a4a" points="315.8,214.6 318.3,211.1 314.7,210 313.5,213.1 314.8,214.4"/>
<polygon color="#4a2acb" points="254,174.4 260.8,175.3 261.1,179.3 254.9,179.7 252.1,178.9"/>
<polygon color="#492aca" points="319.8,205.1 318.2,199.5 315.2,200.8 318.7,205.2"/>
<polygon color="#4126b3" points="315.5,172.2 311.2,173.4 310.4,174.4 310.7,176.4 314.7,178.2 318.8,176.8 320.8,173.3 320.6,173.2"/>
<polygon color="#522cc7" points="293,135.7 296.6,135.4 298.4,132.6 294.7,131.4 292.5,132.3 291.3,134.1"/>
<polygon color="#39229a" points="334.1,207.9 330.4,206.1 325.8,208.9 329.9,212 334.1,210"/>
<polygon color="#7833b3" points="290,219.2 283.8,220.5 282.8,219.2 283,219.1 290.5,217.7 290.6,218.4"/>
<polygon color="#9539a3" points="211,191.1 209.9,193 213.8,198.2 219.9,198.2 220.8,197.6 216.5,190.4 215.1,189.8"/>
<polygon color="#7232b6" points="257.5,200.7 260.7,199.7 261.5,199.1 261.6,195.3 258.7,194.8 255.6,198.4 257.3,200.7"/>
<polygon color="#3c23a3" points="317.4,219.8 315.3,218.7 311.2,218.5 311.1,224.5 315.1,223.5"/>
<polygon color="#6e31b8" points="337.5,183.1 337.7,183.3 349.4,180.9 349.4,177.3 339.4,174.5"/>
<polygon color="#4829c5" points="308.6,174.3 310.4,174.4 310.7,176.4 306.5,180 303.8,178.3"/>
<polygon color="#8135ae" points="314.7,210 314.7,210 313.5,213.1 310.3,212.5 309,211.7 311.1,209.5"/>
<polygon color="#4b2acb" points="304.2,137.8 311.5,136.4 309.3,133.5 305.1,133"/>
<polygon color="#6d31b9" points="293,208.8 292.5,211 295.7,210.2 296.8,208.6 294.1,207.5"/>
<polygon color="#7933b2" points="297.6,121.6 289.4,124 290.8,120.4 293.3,118.4 298.9,118.4 298.3,120.4"/>
<polygon color="#4025ae" points="288.6,162.2 292.9,163.7 289.2,166.8 286.4,166.3 283.9,163.8 283.9,163.8 285.9,162.2"/>
<polygon color="#d83a58" points="256.7,188.6 258,190.4 260.4,190.9 264.3,190 264.6,188.1 261.4,185.4 256.7,187.4"/>
<polygon color="#6730bc" points="309.6,165.5 307.9,161 307,163.4 307,165.5"/>
<polygon color="#7d34b0" points="205.1,194.6 203.3,198.1 203.4,198.3 206.1,200.5 213.1,198.6 213.8,198.2 209.9,193"/>
<polygon color="#e83a44" points="265.4,225.5 266.3,224.6 265.6,221 263.6,219.4 259.9,221.3 261.2,224.3 263.7,225.4"/>
<polygon color="#8937a9" points="240.1,160.1 237.1,163.4 236.3,163.3 235.7,159.7 238,159.5"/>
<polygon color="#8736ab" points="256.7,187.4 261.4,185.4 263.9,182.5 262.6,181.8 258.4,182.4 256.2,186.9"/>
<polygon color="#7e34af" points="255.6,220.4 252.1,217.8 250.4,220.7 250.3,221.9 252.4,222.6"/>
<polygon color="#4025af" points="316.2,146.1 311.5,148.5 311.8,152.9 318.2,154.5 318.3,146.5"/>
<polygon color="#301d80" points="309.8,153.3 311.7,161.1 313.5,161.3 314.6,160.9 319.3,155.7 318.4,154.6 318.2,154.5 311.8,152.9"/>
<polygon color="#6f31b8" points="294.3,139.2 302.2,139.5 299.4,135.9 296.6,135.4 293,135.7 292.9,138.6"/>
<polygon color="#492aca" points="248.9,194.2 251.7,194.1 252.6,194.5 253,196.4 248.6,197.8 247.7,197.5"/>
<polygon color="#7633b4" points="286.9,190 284,191.8 279.3,190.4 277.6,186 277.6,185.5 280.5,181.9 284.2,185.2"/>
<polygon color="#4427ba" points="277.5,165.8 281.2,163.1 283.7,163.8 278.6,166.4"/>
<polygon color="#532cc7" points="272.2,196.2 272,192.1 268.6,190.9 267.7,191.1 267.1,192 268.7,196 270.8,196.5"/>
</g></g>
<polygon points="259.3,178.6 262,177 263.3,180.3 261.6,182 259.2,181" fill="#fff"/>
<polygon points="257.8,198 261.5,196.3 265,198.3 264.6,203.5 261.2,205.6 258.4,203" fill="#fff"/>
<polygon points="291.4,194.8 293.8,194 294.4,196.8 292,197.6" fill="#ece468"/>
<polygon points="293.5,131.5 296.5,132.5 297,137 295,139 293,136" fill="#f08a18"/>
<text x="280.8" y="232.8"  font-size="4.6" fill="#fff" text-anchor="middle" >Prediction</text>
<circle cx="227.1" cy="148.4" r="7.9" fill="#686868" fill-opacity="0.95"/>
<text x="227.1" y="151.05"  font-size="7.8" font-weight="bold" fill="#fff" text-anchor="middle">(f)</text>
<clipPath id="cg"><polygon points="396.7,114.2 399.6,116.5 404.1,119.4 408.4,121.4 410.4,121.7 413.7,119.9 417.4,114.7 419.7,108.6 423,102.3 425.7,104.9 427.2,109.4 430.9,114.7 436.2,120.7 435.1,124.5 433.2,129 434.7,134.2 440.7,134.2 446.7,132.7 450.4,133.5 448,135.8 446.2,137.8 444.7,140 443.7,144.5 442.2,147.5 439.8,150 437.3,152.5 433.8,154 430.3,155.3 426.4,156.7 423.3,156.3 420.4,154 417.4,153.3 414.4,153.1 410.9,152.5 408.4,152.3 406.4,153.8 401.9,155.5 398,156.3 394.2,156.7 391.9,153.5 389.5,150.4 386.5,148.2 383.4,147.3 378.8,145.9 376.8,143.3 376.2,141.6 376.8,138.2 375.7,134.8 373.9,131.3 373.6,128 377.9,128.5 382.5,128 388.2,126.2 393.3,122.8 395.6,117.1"/></clipPath>
<g clip-path="url(#cg)"><g class="v" filter="url(#bl)">
<polygon color="#6f31b7" points="382.9,141.5 385.8,143.1 386.6,140.8 386,139.9 383.8,140 383,140.9"/>
<polygon color="#ff4326" points="390.6,132.1 395.5,129.8 396.9,131.9 396.7,132.9 392.7,133.7 391,133.6 390,133.1 389.9,132.8"/>
<polygon color="#6c31b9" points="399,135.2 398.8,134.4 396.7,132.9 392.7,133.7 394.6,136.1"/>
<polygon color="#6a30ba" points="374.5,128.4 373.6,127.8 373.6,132.2 375.7,131.9 375.8,130.4"/>
<polygon color="#3e24aa" points="416.4,127.4 418.5,128.6 418.3,128.7 415.9,129.1 413.8,128.6 414,128.5 414.4,128.2"/>
<polygon color="#4829c5" points="396.3,137.8 398.3,137.2 398.6,137.9 397.9,139.4"/>
<polygon color="#4a2acc" points="411.4,146.6 409.2,147.4 409.4,146.1 411.6,146.1"/>
<polygon color="#8736aa" points="396.6,141.5 395.3,142 395,142.5 395.2,143.8 395.6,144.5 396.3,144.4"/>
<polygon color="#d83a58" points="426.5,122.7 428.7,120.3 428.1,118.9 424.5,120.4 424.3,120.7 424.2,121.4"/>
<polygon color="#ff7910" points="397.3,155.2 397.3,155.3 399.5,156.8 400.6,156.8 401.3,154.6"/>
<polygon color="#9f3a9a" points="423.5,154.2 420.7,152.4 418.4,153.3 419.8,154.8 424.1,155.1 424.2,154.9"/>
<polygon color="#1e134f" points="434.5,147.7 433.8,148.8 431.4,149.3 430.9,148.8 432,145.1"/>
<polygon color="#6830bc" points="403.1,126.7 403.4,127.1 406.5,128.4 407.3,127.7 406.7,126.6 405.8,126.3"/>
<polygon color="#3c23a4" points="404.3,124.7 404.9,123.8 407.3,125.1 406.7,126.6 405.8,126.3"/>
<polygon color="#2e1c7a" points="407.6,122.8 409.8,124.4 410.8,124.6 410.8,124.5 411,121.5 410.3,120.9"/>
<polygon color="#d53a5b" points="382.9,141.5 382.7,142.2 382.3,142.4 379.3,142.4 377.2,141.6 377.3,141.2 383,140.9"/>
<polygon color="#7533b4" points="424.5,104.4 422.9,105.1 420.4,104 420.5,102.3 423.4,102.3"/>
<polygon color="#382199" points="379.5,129.9 379.5,130.5 377.5,133 375.7,131.9 375.8,130.4"/>
<polygon color="#4829c7" points="416,146.5 416.2,145.3 418.7,145.7 417,147.5"/>
<polygon color="#150d35" points="423.1,127.9 426.2,128.9 426,130 422,130.1"/>
<polygon color="#9e3a9b" points="413.1,127.4 414,128.5 413.8,128.6 413.4,129 410.3,127.9 409.9,127.4 410.4,126.7"/>
<polygon color="#632fbe" points="443,136.4 441,135.8 440.7,135.4 442,134.6 443.6,135.2"/>
<polygon color="#7f35af" points="421.9,127.3 419.9,124.9 418.6,125.2 419.6,128.3"/>
<polygon color="#ff3c29" points="409.7,149.1 408.4,149.6 410.8,151.9 411.4,151.8 410.4,149.1"/>
<polygon color="#331e88" points="392.3,153 389.6,152.3 387.7,152.8 387.9,153.6 389.8,155.9 391.4,155 392.5,153.4"/>
<polygon color="#de3a50" points="376.8,134.4 377.5,133 380.6,133.3 381.5,134 381.3,135 376.9,136.3 376.9,136.3"/>
<polygon color="#2a1a6f" points="375.1,137.9 377,136.4 378.8,138 377,140.6 374.7,139.8"/>
<polygon color="#9d3a9d" points="423.9,150.9 425,150.6 424.2,148.8 423.9,148.4 421.4,148.3 421.4,148.3 420.2,149.5 421.9,151.1 423.5,151"/>
<polygon color="#9739a1" points="423.9,150.9 425,150.6 426.1,150.7 426.8,153 426.1,154.1 425.1,154.4"/>
<polygon color="#582dc4" points="424.2,121.4 424.3,120.7 421.1,118.6 421.1,118.6 419.6,119.6 420.3,121 423.6,121.6"/>
<polygon color="#6e31b8" points="400.2,116.7 399.7,119.2 399.1,119.6 396.8,120.4 395.8,119.2 396.8,116.9"/>
<polygon color="#fb9616" points="375.1,137.9 373.6,137.8 373.6,136.1 376.9,136.3 376.9,136.3 377,136.4"/>
<polygon color="#3e24aa" points="401,135.8 404.6,133.1 405.4,133.5 404.1,135.8 403.2,136.1"/>
<polygon color="#5f2ec0" points="420.9,132.7 418.3,134.3 418.3,134.4 420.7,135.4 421.5,132.9"/>
<polygon color="#5b2dc3" points="438.8,151.5 438.9,151.6 438.8,151.7 437.2,152.6 432.4,152.2 432,152.1 436.9,150.5"/>
<polygon color="#3f24aa" points="404.8,122.5 404.9,123.8 404.3,124.7 402.1,126 400.6,125.9 400.3,125.8 400.1,124.9 400.7,122.9 402,122.4 403.6,122.2 403.8,122.1 404.4,122.2"/>
<polygon color="#7232b6" points="404.6,137.9 405.6,136.9 407.5,137.6 407.5,137.7 406.5,138.4 405.3,138.4"/>
<polygon color="#3b22a0" points="409.5,119.4 412.6,119.2 414.8,121.7 414.8,121.7 411,121.5 410.3,120.9"/>
<polygon color="#e53a49" points="384.4,134.6 384.1,136.2 382.4,136.8 381.3,135 381.5,134 383.6,133.8 384,134"/>
<polygon color="#f6d355" points="395.8,137.9 396.3,137.8 398.3,137.2 399.4,135.8 399.4,135.8 399,135.2 394.6,136.1 394.4,136.9 394.9,137.8"/>
<polygon color="#ff7612" points="425.5,107.6 427.7,106.1 428.7,105.4 428.7,105.4 428.7,105.3 424.5,104.4 422.9,105.1 422.8,105.4 424.6,107.1"/>
<polygon color="#9238a4" points="400.9,119.5 401.1,119.8 401.4,121.6 399.1,119.6 399.7,119.2"/>
<polygon color="#f33a39" points="376.8,134.4 373.6,134.2 373.6,136.1 376.9,136.3"/>
<polygon color="#ff4426" points="399.7,114.8 398.8,114.1 395.6,115.9 396.8,116.9 400.2,116.7 400.9,116.3 400.6,115.5"/>
<polygon color="#4f2bc9" points="408.6,133.3 409.9,131.1 411.5,131 414,132.6 413.5,133.1 410,133.9"/>
<polygon color="#582dc4" points="403.4,140.8 402.6,141.5 402.6,141.6 402.4,144.5 404.3,145 406.8,144.5 406.8,144.5 406.4,141.3"/>
<polygon color="#7e34b0" points="423.7,138.1 423.8,136.2 423.6,136.2 421.5,137.3 419.9,140.3 420.2,140.4"/>
<polygon color="#fcf3bd" points="382.9,141.5 382.7,142.2 384.4,144.6 385.9,143.6 385.9,143.6 385.8,143.1"/>
<polygon color="#4528be" points="423.7,116.8 423.5,116.8 421.3,117.7 421.1,118.6 424.3,120.7 424.5,120.4 424.6,117.7"/>
<polygon color="#4226b3" points="401.6,154.4 401.3,154.6 400.6,156.8 403.3,156.8 403.9,154.9"/>
<polygon color="#321e86" points="401.4,121.6 402,122.4 400.7,122.9 396.6,121.4 396.8,120.4 399.1,119.6"/>
<polygon color="#7a34b2" points="421.5,137.3 423.6,136.2 420.8,135.5 419.4,136.3"/>
<polygon color="#311e83" points="377.5,133 377.5,133 376.8,134.4 373.6,134.2 373.6,132.2 375.7,131.9"/>
<polygon color="#3c23a2" points="435.3,154.5 431,155.7 431,152.7 431.5,152 432,152.1 432.4,152.2 435.3,154.3"/>
<polygon color="#d53a5b" points="425.1,108.2 425.4,108.9 427.2,109.9 428.2,109.8 427.7,106.1 425.5,107.6"/>
<polygon color="#592dc4" points="394.4,124.8 391.7,123.4 391.1,123.6 390.2,125.7 393.6,126"/>
<polygon color="#7332b6" points="422.3,107 421.1,108.1 422.1,108.6 423,108.3"/>
<polygon color="#311e84" points="402.9,118.9 402.3,119.3 403.8,122.1 404.4,122.2 405.7,120.8 404,119.1"/>
<polygon color="#4a2acc" points="431.1,129.3 428.1,131.4 429.7,132.8 430.1,133 432.9,131.7 433.6,130.1 432.4,129.3"/>
<polygon color="#4025af" points="374.2,143.8 377.4,145.7 379.1,146.2 380,145.1 380,144.8 376.5,142.5"/>
<polygon color="#4226b4" points="405.6,136.9 407.5,137.6 406.8,135.8 405.4,136.3"/>
<polygon color="#7432b5" points="429.9,116.9 431.2,115.5 432.7,115.2 434.7,117.6 432.3,118.6 429.9,117.3"/>
<polygon color="#2f1c7c" points="423.8,145.4 424,148.2 423.9,148.4 421.4,148.3 422.8,145.3 423,145.2 423.8,145.3"/>
<polygon color="#4829c7" points="410.8,124.6 411,125.6 413.2,126.2 413.8,126.3 415.3,125.8 411.2,124.4 410.8,124.5"/>
<polygon color="#562cc6" points="412.5,153.6 413.2,156 414.3,156.8 417.7,153.2 417.5,153.1 415.3,153"/>
<polygon color="#6730bc" points="431.4,137.7 432.6,137.2 432.3,134.7 430.1,133.5 428.3,135.1 428.7,136.1"/>
<polygon color="#ff4924" points="379.5,129.9 379.5,130.5 381.4,131.8 382.7,131.1 382.7,129.5 382.4,129.2 380.1,129.3 379.7,129.5"/>
<polygon color="#4126b2" points="418.4,109 419.1,109.5 420,110.9 415.3,112.6 415.1,112.5 416.9,109.5"/>
<polygon color="#6c31b9" points="430.9,148.8 427.9,147.4 427.4,148.1 426.3,150.6 430.8,150.7 431.4,149.3"/>
<polygon color="#2d1c78" points="425.9,116 425.1,115.8 423.7,116.8 424.6,117.7 427.1,117.7"/>
<polygon color="#9739a2" points="401.2,130.1 401.2,130.2 402.9,132.2 403,132.2 406.3,129.8 406.5,129.5 406.3,129 402.4,129.3 402.1,129.4"/>
<polygon color="#7833b3" points="396.7,132.9 396.9,131.9 401.2,130.2 402.9,132.2 398.8,134.4"/>
<polygon color="#632fbe" points="427.1,117.7 424.6,117.7 424.5,120.4 428.1,118.9 428.9,117.8"/>
<polygon color="#cd3a65" points="390.6,146.8 393.4,145.3 392.9,144.9 391.1,144.1 390.2,144.3 388.1,145.4"/>
<polygon color="#8636ab" points="422.4,110.4 424.8,109.5 425.4,108.9 425.1,108.2 423,108.3 422.1,108.6 421.9,109.5"/>
<polygon color="#9a3aa0" points="417.5,117.1 414.1,118 414,118.7 416,119.5 417.5,118.5 417.5,118"/>
<polygon color="#ff4f21" points="385.7,127.4 383.8,126.5 382.2,127.1 382.8,128.7 385.6,127.8"/>
<polygon color="#321e85" points="380.7,143.7 382.3,142.4 379.3,142.4"/>
<polygon color="#2f1d7d" points="401.1,119.8 403.6,122.2 402,122.4 401.4,121.6"/>
<polygon color="#3f24ab" points="407.3,153.4 409.4,153.8 412.5,153.6 412,151.9 411.4,151.8 410.8,151.9 407.3,153.4"/>
<polygon color="#140c32" points="435,139.7 436.9,139.2 438.3,138 436.7,136.4 433.6,137.3"/>
<polygon color="#4126b2" points="418.9,108.2 419.5,107.7 421.1,108.1 422.1,108.6 421.9,109.5 419.1,109.5 418.4,109"/>
<polygon color="#3a229d" points="398.1,126.9 400.3,125.8 400.6,125.9 402.1,129.4 401.2,130.1 397.4,127.7"/>
<polygon color="#ff4e22" points="396.6,121.4 400.7,122.9 400.1,124.9 396.2,123.7 396.5,121.5"/>
<polygon color="#ff6e15" points="388.1,145.3 385.1,146.3 384.3,145.4 384.4,144.6 385.9,143.6 387.8,144.4"/>
<polygon color="#f7dc6e" points="392.9,144.9 392.5,141.9 392.3,141.4 391,141.9 390.5,142.3 391.1,144.1"/>
<polygon color="#fef8d4" points="401.5,138 399.4,135.8 398.3,137.2 398.6,137.9 400.2,139.3 401.3,139.3"/>
<polygon color="#ff7a10" points="423.7,116.8 423.5,116.8 422,115.1 422.9,113.2 423.7,112.8 424.7,112.8 425.9,113.9 425.1,115.8"/>
<polygon color="#f7da69" points="404.9,139.1 406.9,139.5 406.5,138.4 405.3,138.4"/>
<polygon color="#6930bb" points="418,136.1 418.3,134.4 420.7,135.4 420.8,135.5 419.4,136.3"/>
<polygon color="#4528be" points="406.4,152.1 406.4,151.7 404.4,151.2 403.6,151.4 401.6,152.8"/>
<polygon color="#4025b0" points="410.8,124.6 411,125.6 410.4,126.7 409.9,127.4 407.3,127.7 406.7,126.6 407.3,125.1 409.8,124.4"/>
<polygon color="#9038a6" points="430.1,112 430.3,111.9 430.3,110.6 428.3,109.8 428.2,109.8 427.2,109.9 426.4,111.9"/>
<polygon color="#3a229d" points="392.4,128.4 394.5,128.3 395.4,128.6 395.5,129.8 390.6,132.1"/>
<polygon color="#2e1c79" points="386,139.9 386.4,139.7 384.9,136.3 384.1,136.2 382.4,136.8 381.7,138.1 383.8,140"/>
<polygon color="#562cc6" points="416,146.5 413.9,146.7 413.8,147.7 414.4,149 417.1,147.6 417,147.5"/>
<polygon color="#6f31b8" points="409.5,114.4 410,113.7 413.8,112.5 415.1,112.5 415.3,112.6 415.3,112.7 417.3,115.5 413.4,116.7 410,115.7"/>
<polygon color="#4527bd" points="417.7,147.9 418.8,149.4 420.2,149.5 421.4,148.3 419.9,147"/>
<polygon color="#a13a98" points="420.7,130.3 420.3,131.8 415.9,131.3 416.2,130.8 418.3,128.7 418.5,128.6 419.4,128.6"/>
<polygon color="#1c124a" points="431.2,137.9 431.4,137.7 432.6,137.2 433.6,137.3 435,139.7 433.2,141.5 431.4,138.9"/>
<polygon color="#6c31b9" points="384.3,132.5 383.6,133.8 384,134 389.9,133.1 390,133.1 389.9,132.8 389.1,132.2 388.8,132.1 386.2,131.6 384.6,132"/>
<polygon color="#7132b6" points="411,125.6 410.4,126.7 413.1,127.4 413.2,126.2"/>
<polygon color="#fa9d18" points="387.2,135.3 386.9,135.9 384.9,136.3 384.1,136.2 384.4,134.6"/>
<polygon color="#2e1c7a" points="409.7,149.1 409.2,147.5 409.2,147.4 411.4,146.6 411.5,147.8 410.8,149 410.4,149.1"/>
<polygon color="#512bc8" points="401.2,145.8 401.7,144.7 402.4,144.5 404.3,145 404.5,148.3 401.4,149.1 401,148.9"/>
<polygon color="#cd3a65" points="398.1,126.9 400.3,125.8 400.1,124.9 396.2,123.7 395.4,124.6"/>
<polygon color="#df3a50" points="380.2,148.4 385,147.1 385.1,146.3 384.3,145.4 380,145.1 379.1,146.2 379.3,147.9"/>
<polygon color="#7232b6" points="393.3,136.7 390.4,138.2 390.6,136.5 391,135.5"/>
<polygon color="#4829c6" points="394.2,148.6 392.9,149.6 390.9,149.2 390.8,149.1 390.1,148.3 390.6,146.8 393.4,145.3 394.3,145.3 394.9,146.6"/>
<polygon color="#552cc6" points="450.4,137.4 450.4,137.2 446.5,136.8 444.7,138.6 445.7,139.4 449.7,138.1"/>
<polygon color="#4527bc" points="423.9,150.9 425.1,154.4 424.2,154.9 423.5,154.2 423.5,151"/>
<polygon color="#fbf1b4" points="412.3,144.9 408.4,144.1 410.6,141.9 411.6,141.6 413.7,143 413.8,143.5"/>
<polygon color="#4829c5" points="414.8,121.7 411,121.5 410.8,124.5 411.2,124.4 411.4,124.4 415,123.1 414.9,122.1"/>
<polygon color="#9d3a9c" points="419.9,140.3 421.5,137.3 419.4,136.3 418,136.1 416.9,136.9 418.1,139.3 419.1,140.3 419.5,140.3"/>
<polygon color="#542cc7" points="446.5,136.8 450.4,137.2 450.4,135.1 446.8,135.1"/>
<polygon color="#372094" points="407.3,153.4 407.3,153.4 406.4,152.1 401.6,152.8 401,152.9 401,153 407.2,153.6"/>
<polygon color="#150d35" points="426.4,125 427.3,126.9 429.6,127 432.1,126.6 432.3,126.4 432.4,126.2 432.4,126.1 430.6,125.1 427.6,123.7 427.2,123.6"/>
<polygon color="#4f2bc9" points="402.8,117.8 402.9,118.9 404,119.1 405.4,118.2"/>
<polygon color="#4628c1" points="422.9,113.2 420.7,113.1 420.2,112.8 420,111 422.2,110.9 423.7,112.8"/>
<polygon color="#5c2ec2" points="398.5,146.8 397.8,144.3 396.3,144.4 395.6,144.5 394.3,145.3 394.9,146.6 396.5,147.1"/>
<polygon color="#4327b8" points="407.7,133.4 406.3,129.8 406.5,129.5 409.4,130.4 409.9,131.1 408.6,133.3"/>
<polygon color="#4327b9" points="430.1,133 429.7,132.8 423.5,133.7 424.4,135.3 428.3,135.1 430.1,133.5"/>
<polygon color="#4e2bca" points="423.8,145.4 427.4,147.3 424,148.2"/>
<polygon color="#4427b9" points="417.1,147.6 414.4,149 414,149.8 414.2,150 416.6,150.9 418.8,149.4 417.7,147.9"/>
<polygon color="#3c23a2" points="386.6,140.8 388.3,142.4 390.5,142.3 391,141.9 387.3,139.3 386.4,139.7 386,139.9"/>
<polygon color="#3c23a4" points="376.2,128.6 379.4,127.9 379.1,126.1 377.9,125.3 377.6,125.2 373.6,127.4 373.6,127.8 374.5,128.4"/>
<polygon color="#622fbf" points="417,147.5 417.1,147.6 417.7,147.9 419.9,147 420,146.6 418.7,145.7 418.7,145.7"/>
<polygon color="#602ec0" points="394.9,137.8 394.4,136.9 393.3,136.7 390.4,138.2 390.3,138.5 392.3,139.3"/>
<polygon color="#9b3a9e" points="432.1,126.6 432.4,129.3 431.1,129.3 430.4,129 429.6,127"/>
<polygon color="#4126b3" points="410,133.9 413.5,133.1 414.4,134.9 414.3,136.5 413.4,136.9 410.9,136.4"/>
<polygon color="#2c1b75" points="395.4,154.2 392.5,153.4 392.3,153 393.8,151 396.6,151.3 397,151.6"/>
<polygon color="#221559" points="447.4,146.5 443.8,146.3 442.5,144.1 443.4,143.6 445.7,143.9 448.4,146"/>
<polygon color="#6d31b9" points="407.2,153.6 406.6,154.7 403.9,154.9 401.6,154.4 401,153"/>
<polygon color="#2e1c7a" points="437.5,148.7 436.5,146.8 437,146.5 438.6,147.9"/>
<polygon color="#341f8d" points="423.8,145.4 427.4,147.3 427.9,147.4 429.8,144.4 423.9,145.3 423.8,145.3"/>
<polygon color="#7432b5" points="407.3,153.4 410.8,151.9 408.4,149.6 407.1,149.9 406.4,151.7 406.4,152.1"/>
<polygon color="#1c1149" points="446.2,140.1 443.7,142.7 441,140.2 441.5,139.1 444.2,138.6 444.7,138.6 445.7,139.4"/>
<polygon color="#2b1a70" points="422,130.1 420.7,130.3 420.3,131.8 420.9,132.7 421.5,132.9 423.1,133.2 426.3,130.5 426,130"/>
<polygon color="#3f24aa" points="433.7,130 438.2,131 438,131.7 434.6,132.6 432.9,131.7 433.6,130.1"/>
<polygon color="#fe8412" points="393.8,121.8 392.5,122.4 391.5,121.6 390.7,119.1 391.3,119"/>
<polygon color="#8536ac" points="423.8,145.3 423.9,145.3 424.6,144.3 424.3,140.8 421.9,141 422.4,144.6 423,145.2"/>
<polygon color="#fd8713" points="377,136.4 376.9,136.3 381.3,135 382.4,136.8 381.7,138.1 378.8,138"/>
<polygon color="#372094" points="423,145.2 422.4,144.6 419.4,144.4 418.7,145.7 420,146.6 422.8,145.3"/>
<polygon color="#4226b5" points="427.2,123.6 427.6,123.7 431.6,123.9 432.4,123.9 433.5,122.7 432.1,121.5 427.2,123.4"/>
<polygon color="#fc8f15" points="437.2,120.6 436.1,122.8 434.8,122.9 433.5,122.7 432.1,121.5 432.2,120.6 432.6,119.8 436.6,120.3"/>
<polygon color="#dd3a52" points="388.1,145.4 388.1,145.3 387.8,144.4 388.2,143.2 390.2,144.3"/>
<polygon color="#341f8a" points="382.7,150.4 384.1,151.6 385.1,151.6 386.1,148.4 386,148.1 385.8,148"/>
<polygon color="#7833b3" points="380,144.8 380,145.1 384.3,145.4 384.4,144.6 382.7,142.2 382.3,142.4 380.7,143.7"/>
<polygon color="#8e38a7" points="402.8,117.8 402.9,118.9 402.3,119.3 400.9,119.5 399.7,119.2 400.2,116.7 400.9,116.3 401.9,116.4 402.3,116.9"/>
<polygon color="#7733b3" points="422.3,107 423,108.3 425.1,108.2 425.5,107.6 424.6,107.1 422.3,106.9"/>
<polygon color="#8436ac" points="381.4,131.8 379.5,130.5 377.5,133 377.5,133 380.6,133.3 381.3,132.2"/>
<polygon color="#6b31ba" points="395.8,137.9 396.3,137.8 397.9,139.4 397.8,139.8 396.2,138.9"/>
<polygon color="#321e85" points="393.8,140.4 392.9,140.3 392.3,139.3 394.9,137.8 395.8,137.9 396.2,138.9 395.2,140.4"/>
<polygon color="#f6d14f" points="393.4,145.3 394.3,145.3 395.6,144.5 395.2,143.8 392.5,141.9 392.9,144.9"/>
<polygon color="#c33a70" points="384.6,132 386.2,131.6 385.3,130.2 382.7,129.5 382.7,131.1"/>
<polygon color="#993aa1" points="432.4,123.9 432.4,126.1 430.6,125.1 431.6,123.9"/>
<polygon color="#170e3a" points="440.8,144.1 439.4,144.9 437.5,145.2 433.3,143 438.1,141.5 439.4,141.6"/>
<polygon color="#8436ac" points="444.2,138.6 441.5,139.1 439.5,138.2 441,135.8 443,136.4"/>
<polygon color="#4125b1" points="397.9,149.2 396.6,151.3 393.8,151 392.9,149.6 394.2,148.6"/>
<polygon color="#9a3aa0" points="396.6,121.4 396.8,120.4 395.8,119.2 392.5,118.5 391.3,119 393.8,121.8 396.5,121.5"/>
<polygon color="#fd8a14" points="416.9,136.9 414.3,136.5 414.4,134.9 418,134.3 418.3,134.3 418.3,134.4 418,136.1"/>
<polygon color="#7e34af" points="411.6,146.1 412.2,145.6 412.3,144.9 408.4,144.1 406.8,144.5 406.8,144.5 407.5,145.5 409.4,146.1"/>
<polygon color="#592dc4" points="418.1,139.3 413.2,138.9 413.4,136.9 414.3,136.5 416.9,136.9"/>
<polygon color="#4628c1" points="383,140.9 377.3,141.2 377,140.6 378.8,138 381.7,138.1 383.8,140"/>
<polygon color="#3d23a5" points="422,115.1 418.4,115.5 417.8,115.8 417.9,116.2 421.3,117.7 423.5,116.8"/>
<polygon color="#7933b2" points="402.1,126 404.3,124.7 405.8,126.3 403.1,126.7"/>
<polygon color="#7833b2" points="425.9,116 427.1,117.7 428.9,117.8 429.9,117.3 429.9,116.9 429.2,116.5"/>
<polygon color="#5b2dc3" points="406.9,139.5 406.5,138.4 407.5,137.7 409.2,137.7 409.6,139 407.3,140.2"/>
<polygon color="#ca3a68" points="392.4,128.4 394.5,128.3 393.6,126 390.2,125.7 389.6,126.1 390.2,127.8 390.3,127.9"/>
<polygon color="#4326b7" points="422.2,110.9 422.4,110.4 421.9,109.5 419.1,109.5 420,110.9 420,111"/>
<polygon color="#372196" points="409.7,149.1 409.2,147.5 407.6,146.9 405.6,148.7 407.1,149.9 408.4,149.6"/>
<polygon color="#562cc6" points="424,125.4 420.9,124.1 420.9,123.8 423.6,121.6 424.2,121.4 426.5,122.7 427.2,123.4 427.2,123.6 426.4,125"/>
<polygon color="#8536ac" points="423.5,151 421.9,151.1 420.7,152.4 423.5,154.2"/>
<polygon color="#f7af1c" points="390.9,149.2 389.7,150.7 389.6,152.3 392.3,153 393.8,151 392.9,149.6"/>
<polygon color="#9b3a9e" points="393.3,136.7 394.4,136.9 394.6,136.1 392.7,133.7 391,133.6 391,135.5"/>
<polygon color="#6b31ba" points="382.4,129.2 382.8,128.7 385.6,127.8 386.7,128.6 385.3,130.2 382.7,129.5"/>
<polygon color="#7c34b1" points="427.3,126.9 429.6,127 430.4,129 426.4,128.7"/>
<polygon color="#fd8713" points="379.7,129.5 380.1,129.3 379.4,127.9 376.2,128.6"/>
<polygon color="#642fbe" points="396.4,155 394.9,156.7 391.4,155 392.5,153.4 395.4,154.2"/>
<polygon color="#ff6618" points="436.8,150.3 433.8,148.8 431.4,149.3 430.8,150.7 431.5,152 432,152.1 436.9,150.5"/>
<polygon color="#4427b9" points="417.1,156.8 414.3,156.8 414.3,156.8 417.7,153.2 418.4,153.3 419.8,154.8 419.7,154.9"/>
<polygon color="#4c2acb" points="417.5,118 421.1,118.6 419.6,119.6 419.4,119.5 417.5,118.5"/>
<polygon color="#3e24a7" points="427.2,123.4 432.1,121.5 432.2,120.6 428.7,120.3 426.5,122.7"/>
<polygon color="#4929c8" points="404.8,122.5 404.9,123.8 407.3,125.1 409.8,124.4 407.6,122.8"/>
<polygon color="#4126b2" points="422.9,113.2 422,115.1 418.4,115.5 420.7,113.1"/>
<polygon color="#9339a4" points="397.8,144.3 396.3,144.4 396.6,141.5 397,141 398.1,140.8 398.2,140.9 398.2,144.2"/>
<polygon color="#4125b1" points="411.2,124.4 415.3,125.8 416.3,125.6 416.4,125.4 411.4,124.4"/>
<polygon color="#5b2dc2" points="423.9,145.3 424.6,144.3 428,141.8 431.3,143.4 429.8,144.4"/>
<polygon color="#ff6319" points="422.9,105.1 420.4,104 418.6,105.5 419.7,106.6 421.8,106.2 422.8,105.4"/>
<polygon color="#4427bc" points="426.4,111.9 427.2,109.9 425.4,108.9 424.8,109.5 425,112.6"/>
<polygon color="#a23a97" points="422.3,106.9 421.8,106.2 422.8,105.4 424.6,107.1"/>
<polygon color="#160e39" points="443.4,143.6 443.7,142.7 441,140.2 439.4,141.6 440.8,144.1 442.5,144.1"/>
<polygon color="#ff4426" points="395.4,128.6 397.4,127.7 401.2,130.1 401.2,130.2 396.9,131.9 395.5,129.8"/>
<polygon color="#fbefad" points="390.4,138.2 390.3,138.5 387.9,139 387.2,136.3 390.6,136.5"/>
<polygon color="#39229b" points="410.4,149.1 410.8,149 414,149.8 414.2,150 412.8,151.5 412,151.9 411.4,151.8"/>
<polygon color="#7332b5" points="379.5,129.9 375.8,130.4 374.5,128.4 376.2,128.6 379.7,129.5"/>
<polygon color="#983aa1" points="403.4,140.8 403.4,140.8 406.4,141.3 406.8,141.1 407.3,140.2 406.9,139.5 404.9,139.1"/>
<polygon color="#d03a61" points="423.6,136.2 423.8,136.2 423.9,136.1 424.4,135.3 423.5,133.7 423.1,133.2 421.5,132.9 420.7,135.4 420.8,135.5"/>
<polygon color="#552cc6" points="412.6,129.6 411.5,131 414,132.6 414.9,132.2 415.5,131.4 413.4,129.2"/>
<polygon color="#3c23a2" points="382.4,129.2 382.8,128.7 382.2,127.1 381.3,126.5 379.1,126.1 379.4,127.9 380.1,129.3"/>
<polygon color="#7b34b1" points="396.5,121.5 396.2,123.7 395.4,124.6 394.4,124.8 391.7,123.4 392.5,122.4 393.8,121.8"/>
<polygon color="#7c34b1" points="416.2,145.3 415.8,144.3 418.4,143.8 419.4,144.4 418.7,145.7 418.7,145.7"/>
<polygon color="#9e3a9b" points="425.9,116 425.1,115.8 425.9,113.9 427.3,114.2 429.2,116.5"/>
<polygon color="#d23a5f" points="386.4,139.7 384.9,136.3 386.9,135.9 387.2,136.3 387.9,139 387.3,139.3"/>
<polygon color="#fa3a30" points="439.1,134.8 439.2,133.6 441.5,133.1 442.1,133.8 442,134.6 440.7,135.4"/>
<polygon color="#201352" points="439,151.1 439.1,148 438.6,147.9 437.5,148.7 437.1,149.1 436.8,150.3 436.9,150.5 438.8,151.5"/>
<polygon color="#3f25ad" points="446,133.5 446.9,132 442.5,131.6 442,131.7 441.8,132.8"/>
<polygon color="#8135ae" points="407.4,133.5 407.1,135.5 409.9,137 410.9,136.4 410,133.9 408.6,133.3 407.7,133.4"/>
<polygon color="#5a2dc3" points="424.2,154.9 424.1,155.1 424.2,156.8 430.5,156.8 430.5,156.4 427.3,154.6 426.1,154.1 425.1,154.4"/>
<polygon color="#8836aa" points="425,150.6 424.2,148.8 427.4,148.1 426.3,150.6 426.1,150.7"/>
<polygon color="#4a2acb" points="411.4,146.6 411.5,147.8 413.8,147.7 413.9,146.7 412.2,145.6 411.6,146.1"/>
<polygon color="#cf3a62" points="392.9,140.3 392.5,141.2 392.3,141.4 391,141.9 387.3,139.3 387.9,139 390.3,138.5 392.3,139.3"/>
<polygon color="#ff7114" points="398.5,146.8 401.2,145.8 401.7,144.7 398.8,144.2 398.2,144.2 397.8,144.3 398.5,146.8"/>
<polygon color="#ff6e15" points="403,140.4 403.4,140.8 403.4,140.8 402.6,141.5 398.4,140.9 398.2,140.9 398.1,140.8 398.2,140.7 400.2,139.3 401.3,139.3"/>
<polygon color="#29196a" points="437.1,149.1 435.8,147.2 436.5,146.8 437.5,148.7"/>
<polygon color="#8035ae" points="401,152.9 400.3,152.4 399.5,152.4 396.7,155 397.3,155.2 401.3,154.6 401.6,154.4 401,153"/>
<polygon color="#7032b7" points="415.8,144.3 418.4,143.8 419.5,140.3 419.1,140.3 416.7,141.1 413.7,143 413.8,143.5"/>
<polygon color="#7d34b0" points="402.6,141.6 402.6,141.5 398.4,140.9 399.8,142.4"/>
<polygon color="#f9eb9e" points="407.3,140.2 409.6,139 411.7,140.1 411.6,141.6 410.6,141.9 406.8,141.1"/>
<polygon color="#8c37a8" points="418.8,121.9 416,120.7 416.1,120.6 417.9,120.3 419.5,121.4 418.9,121.9"/>
<polygon color="#572dc5" points="412.6,129.6 409.9,129.8 410.3,127.9 413.4,129 413.4,129.2"/>
<polygon color="#ff4d22" points="388.8,132.1 387.5,128.8 386.7,128.6 385.3,130.2 386.2,131.6"/>
<polygon color="#8a37a9" points="444.2,138.6 443,136.4 443.6,135.2 445.3,134.2 445.9,134.1 446.8,135.1 446.5,136.8 444.7,138.6"/>
<polygon color="#d33a5d" points="401,152.9 400.3,152.4 400.8,151.5 403.6,151.4 401.6,152.8"/>
<polygon color="#9639a2" points="423.6,121.6 420.3,121 419.5,121.4 418.9,121.9 419.3,122.9 420.9,123.8"/>
<polygon color="#7132b6" points="427.3,154.6 430.5,156.4 431,155.7 431,152.7 430.1,152.9"/>
<polygon color="#be3a76" points="376.5,142.5 380,144.8 380.7,143.7 379.3,142.4 377.2,141.6"/>
<polygon color="#ff4824" points="384.3,132.5 383.6,133.8 381.5,134 380.6,133.3 381.3,132.2"/>
<polygon color="#6d31b9" points="417.5,117.1 417.9,116.2 417.8,115.8 417.3,115.5 413.4,116.7 414.1,118"/>
<polygon color="#8335ac" points="409.2,147.4 409.2,147.5 407.6,146.9 407.5,145.5 409.4,146.1"/>
<polygon color="#6830bb" points="434.8,122.9 436.1,122.8 437.6,123.7 434.5,125.5 434.3,125.5"/>
<polygon color="#dc3a53" points="392.5,141.9 395.2,143.8 395,142.5 392.5,141.2 392.3,141.4"/>
<polygon color="#7132b7" points="411.7,140.1 411.6,141.6 413.7,143 416.7,141.1 412.8,139.5"/>
<polygon color="#7633b4" points="387.5,128.8 390.2,127.8 389.6,126.1 388.5,125.9 386.2,126.8 385.7,127.4 385.6,127.8 386.7,128.6"/>
<polygon color="#4126b3" points="432.9,131.7 430.1,133 430.1,133.5 432.3,134.7 435.2,134.5 435.3,134 434.6,132.6"/>
<polygon color="#582dc4" points="393.8,140.4 395.3,142 396.6,141.5 397,141 395.2,140.4"/>
<polygon color="#ff3a2a" points="396.8,116.9 395.8,119.2 392.5,118.5 392.9,116.8 395.4,115.8 395.6,115.9"/>
<polygon color="#faeda5" points="398.2,144.2 398.2,140.9 398.4,140.9 399.8,142.4 398.8,144.2"/>
<polygon color="#9339a4" points="409.9,129.8 410.3,127.9 409.9,127.4 407.3,127.7 406.5,128.4 406.3,129 406.5,129.5 409.4,130.4"/>
<polygon color="#4427ba" points="400.9,119.5 401.1,119.8 403.6,122.2 403.8,122.1 402.3,119.3"/>
<polygon color="#6f31b7" points="399.5,156.8 397.3,155.3 397.5,156.8"/>
<polygon color="#9138a5" points="418.8,121.9 417.7,122.3 417.1,123.6 419.3,122.9 418.9,121.9"/>
<polygon color="#ee3a3e" points="412,151.9 412.8,151.5 415.3,153 412.5,153.6 412.5,153.6"/>
<polygon color="#5f2ec0" points="432.3,126.4 436,127.9 433.7,130 433.6,130.1 432.4,129.3 432.1,126.6"/>
<polygon color="#f6d254" points="386.6,140.8 388.3,142.4 388.1,142.8 385.9,143.6 385.8,143.1"/>
<polygon color="#3a229d" points="445.9,134.1 446,133.5 446.9,132 447.7,131.3 450.4,131 450.4,135.1 446.8,135.1"/>
<polygon color="#140c33" points="439.1,148 441,147.7 439.4,144.9 437.5,145.2 437,146.5 438.6,147.9"/>
<polygon color="#191042" points="443.4,143.6 443.7,142.7 446.2,140.1 449.1,141.4 445.7,143.9"/>
<polygon color="#542cc6" points="405.4,118.2 404,119.1 405.7,120.8 409,119.1 405.9,118.1 405.8,118.1"/>
<polygon color="#4728c2" points="414,118.7 412.6,119.2 414.8,121.7 416,120.7 416.1,120.6 416,119.5"/>
<polygon color="#fc9215" points="388.5,125.9 389.6,126.1 390.2,125.7 391.1,123.6 388.8,122.8 388.2,125.7"/>
<polygon color="#552cc6" points="414,132.6 413.5,133.1 414.4,134.9 418,134.3 414.9,132.2"/>
<polygon color="#9238a4" points="436.6,120.3 432.6,119.8 432.3,118.6 434.7,117.6 435.8,117.3 435.8,117.3"/>
<polygon color="#4025ad" points="398.1,149 397.9,149.2 394.2,148.6 394.9,146.6 396.5,147.1"/>
<polygon color="#2b1a70" points="429.7,132.8 423.5,133.7 423.1,133.2 426.3,130.5 428.1,131.4"/>
<polygon color="#3c23a2" points="395.2,140.4 397,141 398.1,140.8 398.2,140.7 397.8,139.8 396.2,138.9"/>
<polygon color="#130c30" points="441,140.2 441.5,139.1 439.5,138.2 438.3,138 436.9,139.2 438.1,141.5 439.4,141.6"/>
<polygon color="#9639a2" points="435.2,134.5 436.8,136.2 439.1,134.8 439.2,133.6 438.4,132.9 435.3,134"/>
<polygon color="#d53a5b" points="402.1,126 400.6,125.9 402.1,129.4 402.4,129.3 403.4,127.1 403.1,126.7"/>
<polygon color="#572dc5" points="403.5,137.8 403.7,137.7 404.6,137.9 405.3,138.4 404.9,139.1 403.4,140.8 403,140.4"/>
<polygon color="#8536ac" points="390.3,127.9 390.2,127.8 387.5,128.8 388.8,132.1 389.1,132.2"/>
<polygon color="#4829c5" points="393.8,140.4 395.3,142 395,142.5 392.5,141.2 392.9,140.3"/>
<polygon color="#d73a59" points="374.7,139.8 373.6,139.8 373.6,143.9 374.2,143.8 376.5,142.5 377.2,141.6 377.3,141.2 377,140.6"/>
<polygon color="#2f1c7c" points="426.1,154.1 427.3,154.6 430.1,152.9 426.8,153"/>
<polygon color="#4929c8" points="414.9,132.2 418,134.3 418.3,134.3 420.9,132.7 420.3,131.8 415.9,131.3 415.5,131.4"/>
<polygon color="#983aa1" points="427.2,141.1 431.4,138.9 431.2,137.9 426.9,139.2 426.4,140.6"/>
<polygon color="#4427b9" points="436.8,150.3 433.8,148.8 434.5,147.7 435.8,147.2 437.1,149.1"/>
<polygon color="#311e83" points="430.1,112 430.3,111.9 431.6,112.2 433.3,112.8 430.7,114.4 429.7,113.3"/>
<polygon color="#8436ac" points="418.8,121.9 416,120.7 414.8,121.7 414.8,121.7 414.9,122.1 417.7,122.3"/>
<polygon color="#fb9717" points="420.4,156.8 424.2,156.8 424.1,155.1 419.8,154.8 419.7,154.9"/>
<polygon color="#7933b2" points="435.3,154.3 432.4,152.2 437.2,152.6"/>
<polygon color="#6930bb" points="399.4,135.8 401,135.8 404.6,133.1 403,132.2 402.9,132.2 398.8,134.4 399,135.2"/>
<polygon color="#492aca" points="424.7,112.8 425,112.6 426.4,111.9 430.1,112 429.7,113.3 427.3,114.2 425.9,113.9"/>
<polygon color="#c23a71" points="384.1,124.2 386.2,126.8 385.7,127.4 383.8,126.5 383.9,124.6"/>
<polygon color="#4226b3" points="439,151.1 442.1,148.1 441,147.7 439.1,148"/>
<polygon color="#4126b3" points="426.1,150.7 426.3,150.6 430.8,150.7 431.5,152 431,152.7 430.1,152.9 426.8,153"/>
<polygon color="#130c31" points="435.8,147.2 434.5,147.7 432,145.1 431.5,143.4 432.9,142.9 433.3,143 437.5,145.2 437,146.5 436.5,146.8"/>
<polygon color="#7833b3" points="407.5,137.6 407.5,137.7 409.2,137.7 409.9,137 407.1,135.5 406.8,135.8"/>
<polygon color="#150d35" points="431.6,123.9 427.6,123.7 430.6,125.1"/>
<polygon color="#542cc7" points="422.8,145.3 420,146.6 419.9,147 421.4,148.3 421.4,148.3"/>
<polygon color="#3c23a4" points="417.5,118.5 419.4,119.5 417.9,120.3 416.1,120.6 416,119.5"/>
<polygon color="#ff4028" points="424,148.2 427.4,147.3 427.9,147.4 427.9,147.4 427.4,148.1 424.2,148.8 423.9,148.4"/>
<polygon color="#fa3a30" points="398.1,149 397.9,149.2 396.6,151.3 397,151.6 399.5,152.4 400.3,152.4 400.8,151.5 401.4,149.6 401.4,149.1 401,148.9 400,148.7"/>
<polygon color="#6e31b8" points="387.2,135.3 386.9,135.9 387.2,136.3 390.6,136.5 391,135.5 391,133.6 390,133.1 389.9,133.1"/>
<polygon color="#9639a2" points="432.4,123.9 433.5,122.7 434.8,122.9 434.3,125.5 432.4,126.2 432.4,126.1"/>
<polygon color="#3a229d" points="404.8,122.5 407.6,122.8 410.3,120.9 409.5,119.4 409,119.1 409,119.1 405.7,120.8 404.4,122.2"/>
<polygon color="#382197" points="404.4,151.2 401.4,149.6 401.4,149.1 404.5,148.3 405.6,148.7 407.1,149.9 406.4,151.7"/>
<polygon color="#7a34b2" points="397.9,139.4 398.6,137.9 400.2,139.3 398.2,140.7 397.8,139.8"/>
<polygon color="#4d2bca" points="429.9,117.3 432.3,118.6 432.6,119.8 432.2,120.6 428.7,120.3 428.1,118.9 428.9,117.8"/>
<polygon color="#c33a70" points="432.4,126.2 434.3,125.5 434.5,125.5 437.6,126.4 437.7,127.5 436,127.9 432.3,126.4"/>
<polygon color="#8736aa" points="426.9,139.2 426.7,138.5 428.7,136.1 431.4,137.7 431.2,137.9"/>
<polygon color="#9b3a9f" points="443.6,135.2 442,134.6 442.1,133.8 445.3,134.2"/>
<polygon color="#5d2ec1" points="424,125.4 422,127.3 423.1,127.9 426.2,128.9 426.4,128.7 427.3,126.9 426.4,125"/>
<polygon color="#100a27" points="433.2,141.5 432.9,142.9 433.3,143 438.1,141.5 436.9,139.2 435,139.7"/>
<polygon color="#582dc4" points="419.1,140.3 416.7,141.1 412.8,139.5 413.2,138.9 418.1,139.3"/>
<polygon color="#4829c6" points="445.3,134.2 442.1,133.8 441.5,133.1 441.8,132.8 446,133.5 445.9,134.1"/>
<polygon color="#d03a61" points="403.5,137.8 403.7,137.7 403.2,136.1 401,135.8 399.4,135.8 399.4,135.8 401.5,138"/>
<polygon color="#4125b1" points="417.5,117.1 417.9,116.2 421.3,117.7 421.1,118.6 421.1,118.6 417.5,118"/>
<polygon color="#8335ad" points="409.6,139 411.7,140.1 412.8,139.5 413.2,138.9 413.4,136.9 410.9,136.4 409.9,137 409.2,137.7"/>
<polygon color="#e73a46" points="422.3,107 421.1,108.1 419.5,107.7 419.7,106.6 421.8,106.2 422.3,106.9"/>
<polygon color="#fb9316" points="387.2,135.3 384.4,134.6 384,134 389.9,133.1"/>
<polygon color="#5d2ec1" points="428.7,105.3 424.5,104.4 423.4,102.3 425.4,102.3 428.7,105.2"/>
<polygon color="#542cc6" points="420.7,113.1 418.4,115.5 417.8,115.8 417.3,115.5 415.3,112.7 420.2,112.8"/>
<polygon color="#4025af" points="420,111 420,110.9 415.3,112.6 415.3,112.7 420.2,112.8"/>
<polygon color="#311d82" points="398.1,149 396.5,147.1 398.5,146.8 398.5,146.8 400,148.7"/>
<polygon color="#fef8d3" points="390.2,144.3 388.2,143.2 388.1,142.8 388.3,142.4 390.5,142.3 391.1,144.1"/>
<polygon color="#341f8b" points="388.2,143.2 388.1,142.8 385.9,143.6 385.9,143.6 387.8,144.4"/>
<polygon color="#3b23a1" points="415.3,125.8 413.8,126.3 414.4,128.2 416.4,127.4 416.3,125.6"/>
<polygon color="#3e24aa" points="404.4,151.2 401.4,149.6 400.8,151.5 403.6,151.4"/>
<polygon color="#110a2a" points="442.1,148.1 442.5,148.1 443.8,146.3 442.5,144.1 440.8,144.1 439.4,144.9 441,147.7"/>
<polygon color="#fef8d1" points="406.4,141.3 406.8,144.5 408.4,144.1 410.6,141.9 406.8,141.1"/>
<polygon color="#eb3a41" points="390.8,149.1 387.5,150.1 386.1,148.4 386,148.1 390.1,148.3"/>
<polygon color="#cc3a66" points="380.7,149.9 380.2,148.4 385,147.1 385.8,148 382.7,150.4 380.8,149.9"/>
<polygon color="#4628c2" points="390.6,146.8 390.1,148.3 386,148.1 385.8,148 385,147.1 385.1,146.3 388.1,145.3 388.1,145.4"/>
<polygon color="#993aa1" points="412.6,129.6 409.9,129.8 409.4,130.4 409.9,131.1 411.5,131"/>
<polygon color="#9439a3" points="403.5,137.8 403,140.4 401.3,139.3 401.5,138"/>
<polygon color="#4025af" points="432.7,115.2 431.2,115.5 430.7,114.4 433.3,112.8 435.4,113.2 434,114.7"/>
<polygon color="#4025af" points="426.7,138.5 423.9,136.1 424.4,135.3 428.3,135.1 428.7,136.1"/>
<polygon color="#7733b3" points="419.6,128.3 419.4,128.6 418.5,128.6 416.4,127.4 416.3,125.6 416.4,125.4 416.7,125.2 418.6,125.2"/>
<polygon color="#4427bb" points="423.7,112.8 424.7,112.8 425,112.6 424.8,109.5 422.4,110.4 422.2,110.9"/>
<polygon color="#8536ab" points="416,146.5 413.9,146.7 412.2,145.6 412.3,144.9 413.8,143.5 415.8,144.3 416.2,145.3"/>
<polygon color="#e23a4c" points="384.3,132.5 381.3,132.2 381.4,131.8 382.7,131.1 384.6,132"/>
<polygon color="#e93a43" points="425.6,140.6 426.4,140.6 426.9,139.2 426.7,138.5 423.9,136.1 423.8,136.2 423.7,138.1"/>
<polygon color="#3c23a2" points="427.9,147.4 427.9,147.4 430.9,148.8 432,145.1 431.5,143.4 431.3,143.4 429.8,144.4"/>
<polygon color="#150d35" points="424.3,140.8 421.9,141 420.2,140.4 423.7,138.1 425.6,140.6"/>
<polygon color="#9f3a9a" points="421.9,141 422.4,144.6 419.4,144.4 418.4,143.8 419.5,140.3 419.9,140.3 420.2,140.4"/>
<polygon color="#fd3a2d" points="419.4,119.5 419.6,119.6 420.3,121 419.5,121.4 417.9,120.3"/>
<polygon color="#251761" points="427.2,141.1 428,141.8 431.3,143.4 431.5,143.4 432.9,142.9 433.2,141.5 431.4,138.9"/>
<polygon color="#8f38a6" points="404.6,137.9 405.6,136.9 405.4,136.3 404.1,135.8 403.2,136.1 403.7,137.7"/>
<polygon color="#582dc4" points="413.2,126.2 413.1,127.4 414,128.5 414.4,128.2 413.8,126.3"/>
<polygon color="#8335ad" points="420.7,152.4 421.9,151.1 420.2,149.5 418.8,149.4 416.6,150.9 417.5,153.1 417.7,153.2 418.4,153.3"/>
<polygon color="#382197" points="424,125.4 422,127.3 421.9,127.3 419.9,124.9 420.9,124.1"/>
<polygon color="#2c1b73" points="421.9,127.3 422,127.3 423.1,127.9 422,130.1 420.7,130.3 419.4,128.6 419.6,128.3"/>
<polygon color="#4b2acb" points="433.6,137.3 436.7,136.4 436.8,136.2 435.2,134.5 432.3,134.7 432.6,137.2"/>
<polygon color="#150d35" points="416.2,124.1 416.7,125.2 416.4,125.4 411.4,124.4 415,123.1"/>
<polygon color="#4427b9" points="415.9,129.1 416.2,130.8 418.3,128.7"/>
<polygon color="#6d31b8" points="395.4,128.6 397.4,127.7 398.1,126.9 395.4,124.6 394.4,124.8 393.6,126 394.5,128.3"/>
<polygon color="#fdf7ce" points="401.7,144.7 402.4,144.5 402.6,141.6 399.8,142.4 398.8,144.2"/>
<polygon color="#532cc7" points="426.2,128.9 426.4,128.7 430.4,129 431.1,129.3 428.1,131.4 426.3,130.5 426,130"/>
<polygon color="#4a2acb" points="424.3,140.8 424.6,144.3 428,141.8 427.2,141.1 426.4,140.6 425.6,140.6"/>
<polygon color="#2e1c7a" points="410.8,149 411.5,147.8 413.8,147.7 414.4,149 414,149.8"/>
<polygon color="#fa9a17" points="400,148.7 401,148.9 401.2,145.8 398.5,146.8"/>
<polygon color="#6830bc" points="396.7,155 397.3,155.2 397.3,155.3 397.5,156.8 394.9,156.8 394.9,156.7 396.4,155"/>
<polygon color="#3e24a8" points="405.6,148.7 407.6,146.9 407.5,145.5 406.8,144.5 404.3,145 404.5,148.3"/>
<polygon color="#8f38a6" points="417.7,122.3 414.9,122.1 415,123.1 416.2,124.1 417.1,123.6"/>
<polygon color="#562cc5" points="420.9,124.1 419.9,124.9 418.6,125.2 416.7,125.2 416.2,124.1 417.1,123.6 419.3,122.9 420.9,123.8"/>
<polygon color="#2a1a6f" points="437.6,123.7 434.5,125.5 437.6,126.4 438.9,124.3"/>
<polygon color="#7533b4" points="413.4,129.2 413.4,129 413.8,128.6 415.9,129.1 416.2,130.8 415.9,131.3 415.5,131.4"/>
<polygon color="#ff3d29" points="390.8,149.1 387.5,150.1 387.5,150.6 389.7,150.7 390.9,149.2"/>
<polygon color="#7a34b1" points="403.4,127.1 406.5,128.4 406.3,129 402.4,129.3"/>
<polygon color="#fcf4c2" points="405.4,136.3 404.1,135.8 405.4,133.5 407.4,133.5 407.1,135.5 406.8,135.8"/>
<polygon color="#261762" points="439.5,138.2 438.3,138 436.7,136.4 436.8,136.2 439.1,134.8 440.7,135.4 441,135.8"/>
<polygon color="#341f8d" points="412.8,151.5 414.2,150 416.6,150.9 417.5,153.1 415.3,153"/>
<polygon color="#6a30bb" points="392.4,128.4 390.6,132.1 389.9,132.8 389.1,132.2 390.3,127.9"/>
<polygon color="#492aca" points="429.2,116.5 427.3,114.2 429.7,113.3 430.7,114.4 431.2,115.5 429.9,116.9"/>
<polygon color="#9138a5" points="407.4,133.5 405.4,133.5 404.6,133.1 403,132.2 406.3,129.8 407.7,133.4"/>
<polygon color="#6e31b8" points="396.7,155 399.5,152.4 397,151.6 395.4,154.2 396.4,155"/>
</g></g>
<text x="414.9" y="161.5"  font-size="4.5" fill="#fff" text-anchor="middle" >Ground truth</text>
<circle cx="384.2" cy="118.3" r="7.9" fill="#686868" fill-opacity="0.95"/>
<text x="384.2" y="120.95"  font-size="7.8" font-weight="bold" fill="#fff" text-anchor="middle">(g)</text>
<clipPath id="ch"><polygon points="486.7,114.5 489.6,116.8 494.1,119.6 498.4,121.7 500.4,121.9 503.7,120.2 507.4,115 509.7,108.9 513,102.6 515.7,105.2 517.2,109.7 520.9,115 526.2,120.9 525.1,124.7 523.2,129.2 524.7,134.5 530.7,134.5 536.7,133 540.4,133.7 538,136 536.2,138 534.7,140.3 533.7,144.7 532.2,147.7 529.8,150.2 527.3,152.7 523.8,154.2 520.3,155.5 516.4,156.9 513.3,156.5 510.4,154.2 507.4,153.5 504.4,153.3 500.9,152.7 498.4,152.5 496.4,154 491.9,155.7 488,156.5 484.2,156.9 481.9,153.7 479.5,150.6 476.5,148.4 473.4,147.5 468.8,146.1 466.8,143.5 466.2,141.9 466.8,138.5 465.7,135 463.9,131.6 463.6,128.2 467.9,128.8 472.5,128.2 478.2,126.5 483.3,123.1 485.6,117.3"/></clipPath>
<g clip-path="url(#ch)"><g class="v" filter="url(#bl)">
<polygon color="#2d2d2d" points="522.4,115.4 524.4,113.3 525.5,113.5 525.9,115.2 523.2,117.6 522.6,116.6 522.4,115.5"/>
<polygon color="#4f4f4f" points="511.6,145.4 513.4,144.1 510.9,143 509.6,145.3"/>
<polygon color="#2e2e2e" points="511.6,139.9 513.3,140.2 515.8,141.8 515.1,144.1 513.4,144.1 510.9,143 509.6,142.2 509.6,142.2"/>
<polygon color="#5f5f5f" points="491,141.7 491,141.7 492.3,141.7 493.5,141.1 494.8,139.6 492.9,138 492.5,138 490.2,139.9"/>
<polygon color="#1d1d1d" points="487,151.6 486.8,151.8 487.7,153.9 489.5,154 489.5,152.9 487.2,151.6"/>
<polygon color="#171717" points="513.9,150.5 512.4,149.4 510.5,150.1 512.7,151.6 514.1,150.9"/>
<polygon color="#101010" points="512.7,129.5 512.7,131.2 515,131.5 518.2,129.7 513.1,129.3"/>
<polygon color="#1a1a1a" points="516.1,123 516.1,123 518.7,123.6 519.4,123.4 522,119.5 521.9,119 517.8,118 515.1,118 514.8,118.4"/>
<polygon color="#303030" points="486.6,141.7 486.4,141.8 483.8,142.6 483.2,142.3 482.7,141.1 482.6,140.5 483.3,140.1 486.6,140"/>
<polygon color="#4c4c4c" points="490.7,135.5 493.7,136.3 494.3,134 493.8,133.8 490.4,135.2 490.5,135.4"/>
<polygon color="#404040" points="515.2,133.1 517.3,134.5 520.7,134.7 520.9,134 520.4,131.8 519.2,130.1 518.5,129.6 518.2,129.7 515,131.5 515,131.5"/>
<polygon color="#242424" points="533.8,140.6 534.9,139 535.8,139.3 535.9,141"/>
<polygon color="#3e3e3e" points="483.1,134.6 479.5,133.2 481.5,132.3 483.4,132.6 484.3,133.5 484.5,133.9 484,134.6"/>
<polygon color="#717171" points="502.4,138.9 503.7,143.8 500.8,143.7 498.7,140 498.8,139.1 499.4,138.5 501.7,138.6"/>
<polygon color="#131313" points="479.1,148.9 479.8,151.3 482.4,151.7 483.8,149.8 483.4,148.4 483.1,148 480.2,147.7"/>
<polygon color="#181818" points="510.4,134.5 506.4,133 506.3,132.6 506.5,132.4 511.1,132.1 511.2,132.4"/>
<polygon color="#111111" points="474.3,143.7 470.6,142.2 470.8,143.7 471.4,144.2 474.3,144.8 475,144.6"/>
<polygon color="#191919" points="494.8,122.5 494.3,119.8 498.1,119 499.2,119.8 499.1,120.8"/>
<polygon color="#4b4b4b" points="529.1,140 529.8,139.8 529.8,137.4 528.5,136.7 527.9,136.4 525.6,137 525.9,138"/>
<polygon color="#2d2d2d" points="512.9,133.1 515,131.5 515,131.5 512.7,131.2 511.2,132 511.1,132.1 511.2,132.4"/>
<polygon color="#c7c7c7" points="514.2,154.7 518.3,154.4 518.3,154.5 516,156.1"/>
<polygon color="#323232" points="483.3,115.5 483.2,115.4 485.7,115 487.1,115.9 486.5,116.4 485.3,116.7"/>
<polygon color="#6e6e6e" points="517.7,109.6 516.8,109.2 516,109.7 514.4,111.3 514.6,111.7 515.3,112 516,112.2 518.1,111.1"/>
<polygon color="#1e1e1e" points="482.6,140.5 483.3,140.1 485,138.3 483.9,138 481.5,139.7"/>
<polygon color="#707070" points="512.7,151.7 512.2,154.7 511,155.2 509.4,154.6 510,151.7"/>
<polygon color="#080808" points="505.1,121.7 504.5,124.7 507.8,125 508.1,124.7 508.2,124.3 507.9,123.5"/>
<polygon color="#323232" points="475.8,147.4 476.6,149.6 479.1,148.9 480.2,147.7 479.6,147.1 476,147.2"/>
<polygon color="#565656" points="505.1,121.7 507.9,123.5 508.7,120.5 506.2,120.6 505,121.6"/>
<polygon color="#3b3b3b" points="509.6,142.2 509.6,142.2 504.9,144.2 504.5,144 506.3,139.6"/>
<polygon color="#2e2e2e" points="492.1,145.2 490.4,143 491,141.7 492.3,141.7 492.8,142.3 493,142.9"/>
<polygon color="#0a0a0a" points="469.9,136.8 468.2,134.7 465.8,134.8 467.9,137.6"/>
<polygon color="#141414" points="515.1,107.1 515.8,107.3 517.6,106.8 518.3,105.8 517.5,104.4 514.7,104.1"/>
<polygon color="#484848" points="508.1,114.1 506.8,112.5 506.1,111.1 509.1,110.8 508.5,114.1"/>
<polygon color="#949494" points="488.7,130.6 488.8,129.5 492.5,127.2 493.2,127.5 494.6,130.3 490.1,131.2 488.8,130.7"/>
<polygon color="#6d6d6d" points="476.2,144.7 475.3,146.6 476,147.2 479.6,147.1 479.2,145.4 478.9,144.9 477.7,144.3"/>
<polygon color="#1a1a1a" points="531.4,147.5 532.2,148.7 532.8,148.7 535.1,147.2 534.3,146.2"/>
<polygon color="#2a2a2a" points="519.6,109.2 521,108.7 521.4,108.1 521.3,107.9 517.6,106.8 515.8,107.3 516.8,109.2 517.7,109.6"/>
<polygon color="#424242" points="536.6,135.2 535,136.2 533.1,135.3 532.1,134.4 534.6,132.8 536,133.4"/>
<polygon color="#1d1d1d" points="529.5,131.7 531.1,131.4 533.9,131.9 534.6,132.8 532.1,134.4 529.3,133.4 528.9,132"/>
<polygon color="#757575" points="474,139.6 471.8,139.1 471.6,139.1 469.2,140.7 469.1,140.9 469.3,141.1 470.5,142 475.1,141.5 474.5,140.3"/>
<polygon color="#2d2d2d" points="475.8,139.2 477.6,138.6 475.8,137.8 471.8,139.1 474,139.6"/>
<polygon color="#070707" points="486.1,137.1 485.6,136.4 488.3,134.6 487.5,137"/>
<polygon color="#232323" points="514.2,154.7 514,154.7 515.5,153.5 517.7,153.1 518.4,154 518.3,154.4"/>
<polygon color="#464646" points="476.1,125.3 474.8,127.4 474.8,127.7 476.2,129.9 477.7,128.7 478.5,126 478.5,126"/>
<polygon color="#2b2b2b" points="489.8,146.2 486.7,146.8 485.3,146.6 485.8,144.9 488.3,144.6"/>
<polygon color="#2d2d2d" points="526.8,140.4 528.9,140.1 529.1,140 525.9,138 525.9,138.3"/>
<polygon color="#303030" points="499.2,121.1 501.4,122.2 501.4,122.5 498.6,122.9"/>
<polygon color="#0f0f0f" points="477.4,141.9 482.5,142.5 483.2,142.3 482.7,141.1 477.5,141.1 477.2,141.6"/>
<polygon color="#dddddd" points="532.4,140.5 531.9,140.6 529.8,139.8 529.8,137.4 533.1,137.8 533.2,137.9"/>
<polygon color="#494949" points="475,144.6 474.3,144.8 473.1,146.5 475.3,146.6 476.2,144.7"/>
<polygon color="#3b3b3b" points="483.7,154.8 477.8,154.1 478.1,155.2 483.8,156 483.9,155.2"/>
<polygon color="#010101" points="469.2,140.7 467.9,137.7 467.9,137.6 469.9,136.8 471.9,136.7 471.6,139.1"/>
<polygon color="#2e2e2e" points="510.8,127.4 508.3,127.1 507.9,128.4 510.1,129.7 511.4,129.4"/>
<polygon color="#656565" points="522.6,154.6 522.1,157 519.7,157 518.4,154.7"/>
<polygon color="#f0f0f0" points="534.7,144.6 535.3,143.5 534.6,142.2 533.9,142.5 533.3,143.2"/>
<polygon color="#0d0d0d" points="479.2,145.4 478.9,144.9 482.5,142.5 483.2,142.3 483.8,142.6 484,143.6 482.8,144.7"/>
<polygon color="#343434" points="484.3,118 484.3,118 485.3,116.7 486.5,116.4 488,118.8"/>
<polygon color="#131313" points="520.8,140.8 521.2,141.1 523.7,141 523.3,139.6 521.8,139.8"/>
<polygon color="#464646" points="470.4,130.6 471,131.4 471.9,131.7 474.5,131 472.4,128.5 471.7,127.9 471.4,128"/>
<polygon color="#3a3a3a" points="508.5,114.1 509.1,110.8 509.8,110.7 511.1,111.2 511.2,114.7 511.2,114.7"/>
<polygon color="#444444" points="491,141.7 486.6,141.7 486.6,140 486.8,139.5 488.6,139 490.2,139.9"/>
<polygon color="#595959" points="499.2,148.8 500.5,148.4 503.9,148.8 505.1,149.8 503.7,151.9 503.1,151.9"/>
<polygon color="#414141" points="467.9,137.6 465.8,134.8 463.6,134.1 463.6,138.3 467.9,137.7"/>
<polygon color="#7a7a7a" points="528.4,148.9 529.7,147.1 529.9,147.1 531.4,147.5 532.2,148.7 531.7,149.8"/>
<polygon color="#1a1a1a" points="490,151 490.2,151.7 493.2,153 493.9,151.6 490.4,150.4"/>
<polygon color="#505050" points="471.4,144.2 474.3,144.8 473.1,146.5 472.9,146.5 472,145.6"/>
<polygon color="#333333" points="498.2,153.9 496.7,153.8 493.5,154.5 495.9,156.2 498.4,154.6"/>
<polygon color="#696969" points="483.7,154.8 483.1,153.3 477.8,153.6 477.6,153.9 477.8,154.1"/>
<polygon color="#070707" points="508.1,149.5 507.6,149.5 504.8,145.3 504.8,145 505,144.5 507.9,145.8 509.6,147.8"/>
<polygon color="#838383" points="518.3,154.5 518.4,154.7 522.6,154.6 522.8,154.1 521.4,153.4 518.4,154 518.3,154.4"/>
<polygon color="#525252" points="479.6,147.1 479.2,145.4 482.8,144.7 483.5,147.7 483.1,148 480.2,147.7"/>
<polygon color="#1d1d1d" points="505.5,129.2 504.6,129.8 500,130.6 499.8,130.3 499.8,129.8 503.8,128.4"/>
<polygon color="#242424" points="478.6,138.6 478.1,134.5 479.5,135 481.2,136.5 481.4,137.2 478.9,138.6"/>
<polygon color="#2b2b2b" points="483.1,127.9 483.2,127.9 485.4,126.7 485.8,125.2 484.3,124.2 484.2,124.2 479.4,126.1 480.1,126.5"/>
<polygon color="#010101" points="469.5,144.9 466.3,145.9 467.3,147.4 469.1,147.7 470,147.1 470.1,146.1"/>
<polygon color="#292929" points="506.2,120.6 505.3,119.3 505.8,118.8 509.6,119.7 509.8,119.9 508.7,120.5"/>
<polygon color="#494949" points="493.1,133 491.3,132.4 489.4,134.7 490.4,135.2 493.8,133.8"/>
<polygon color="#535353" points="488.8,137.9 488.4,137.4 490.5,135.4 490.7,135.5 491.3,137.4"/>
<polygon color="#161616" points="528.2,143 528.4,145.4 531.2,144.9 531.4,144.5 530.3,142.8 528.3,143"/>
<polygon color="#494949" points="482.4,151.7 479.8,151.3 477.7,152.2 477.8,153.6 483.1,153.3 483.1,153.2"/>
<polygon color="#515151" points="527,150.3 526.9,153.7 525.7,153.8 523.9,153.6 524.7,150.3 525.9,149.9 526.6,150"/>
<polygon color="#4c4c4c" points="480.4,129 477.7,128.7 478.5,126 479.4,126.1 480.1,126.5"/>
<polygon color="#989898" points="488.8,129.5 487.5,128.8 485.4,126.7 485.8,125.2 488.8,124.8 491.6,125.2 492.5,127.2"/>
<polygon color="#444444" points="519.3,142.6 521.1,141.9 521.2,141.1 520.8,140.8 518.6,140.1 517.2,141.2"/>
<polygon color="#2d2d2d" points="513.7,122.7 511,121.3 510,119.9 514.8,118.4 516.1,123"/>
<polygon color="#5a5a5a" points="481.2,129.3 483.1,127.9 480.1,126.5 480.4,129"/>
<polygon color="#434343" points="523.9,112.9 519.5,112.2 519.3,113 520.7,113.9 520.9,113.9 524.1,113.2"/>
<polygon color="#373737" points="474.8,127.4 474.8,127.7 472.4,128.5 471.7,127.9 471.9,127.3 472.2,127.2"/>
<polygon color="#272727" points="489.5,152.9 490.2,151.7 493.2,153 493.2,154.4 491.4,155.1 489.5,154"/>
<polygon color="#1e1e1e" points="528.2,143 527.6,142.9 526.1,141.6 526.8,140.4 528.9,140.1 528.3,143"/>
<polygon color="#6d6d6d" points="471.4,144.2 472,145.6 470.1,146.1 469.5,144.9 470.8,143.7"/>
<polygon color="#414141" points="508.1,124.7 507.8,125 507.9,126.4 508.3,127.1 510.8,127.4 512.4,127.3 513.5,126.2 513.5,125.3"/>
<polygon color="#2e2e2e" points="529.8,137.4 528.5,136.7 533.1,135.3 535,136.2 535,136.3 533.1,137.8"/>
<polygon color="#0f0f0f" points="513.1,129.3 512.9,128.1 517.3,128 518.4,128.3 518.5,129.6 518.2,129.7"/>
<polygon color="#575757" points="484.5,133.9 487.7,134 488.4,131.5 485.1,132.8 484.3,133.5"/>
<polygon color="#535353" points="498.9,148.8 497.4,150.1 499.8,152.8 500.1,152.8 503.1,151.9 499.2,148.8"/>
<polygon color="#454545" points="520.7,113.9 520.3,115 520,115.3 519.9,115.3 516.9,114.7 517.5,113.5 519.3,113"/>
<polygon color="#1f1f1f" points="483.1,134.6 482.2,135 481.2,136.5 481.4,137.2 482.6,137.2 484.2,135.4 484,134.6"/>
<polygon color="#090909" points="525.9,138.3 525.9,138 525.6,137 524,136.8 523.3,139.6 523.7,141 524.1,141.2"/>
<polygon color="#353535" points="502.7,124.7 504.5,124.7 507.8,125 507.9,126.4 503.7,127.4 501.2,125.6"/>
<polygon color="#595959" points="539,134.8 537,135.2 539.1,137.4 540.4,137.4 540.4,134.9"/>
<polygon color="#242424" points="524.2,141.2 523.4,142.9 525.2,143.9 527.6,142.9 526.1,141.6"/>
<polygon color="#313131" points="503.7,143.8 500.8,143.7 499.9,144.1 499.9,145.2 501.3,147.2 504.8,145 505,144.5 504.9,144.2 504.5,144"/>
<polygon color="#383838" points="514.4,111.3 516,109.7 513.1,109.2 512.7,110.9"/>
<polygon color="#303030" points="502.7,124.7 502.5,123.7 501.4,122.5 498.6,122.9 497.5,123.9 499.7,125.9 501.2,125.6"/>
<polygon color="#1b1b1b" points="503.3,134 502.4,132.4 501,132.3 499.8,134.1 503.4,135.8"/>
<polygon color="#1b1b1b" points="510.5,150.1 508.4,149.7 508.1,149.5 509.6,147.8 511,147.6 512.1,147.8 512.4,149.4"/>
<polygon color="#050505" points="488.8,149 486.3,150.6 487,151.6 487.2,151.6 490,151 490.4,150.4 490.3,148.9"/>
<polygon color="#161616" points="515.8,141.8 513.3,140.2 516.3,138.2 518.3,138.3 518.6,140.1 517.2,141.2"/>
<polygon color="#595959" points="519.2,130.1 518.5,129.6 518.4,128.3 518.7,127.8 523.3,126.8 524.3,127.9 524.4,128.5"/>
<polygon color="#161616" points="513.9,150.5 514.7,147.5 518.2,150 518.1,150.3 517.5,150.6 515.6,151 514.1,150.9"/>
<polygon color="#1a1a1a" points="525.5,121.6 523.7,124.3 519.4,123.4 522,119.5 524.6,120.6"/>
<polygon color="#262626" points="506.5,132.4 511.1,132.1 511.2,132 510.1,130.6 507,130.9"/>
<polygon color="#323232" points="487.5,137 488.3,134.6 488.4,134.5 489.4,134.7 490.4,135.2 490.5,135.4 488.4,137.4"/>
<polygon color="#313131" points="540.4,131.3 540.4,134.9 539,134.8 539.4,131.3"/>
<polygon color="#2d2d2d" points="527,150.3 528.8,151 531.8,150.6 531.7,149.8 528.4,148.9 526.6,150"/>
<polygon color="#131313" points="506.3,138.6 505.9,138.9 506.3,139.6 509.6,142.2 511.6,139.9 510.8,138.3 510.5,138.3"/>
<polygon color="#606060" points="513.9,150.5 514.7,147.5 514.7,147.4 512.1,147.8 512.4,149.4"/>
<polygon color="#252525" points="517.2,145.2 520.5,147.7 520.4,148.7 518.2,150 514.7,147.5 514.7,147.4 516.2,145.1"/>
<polygon color="#262626" points="476.6,149.6 476.3,149.7 476.2,149.9 477.6,152.1 477.7,152.2 479.8,151.3 479.1,148.9"/>
<polygon color="#0e0e0e" points="487.2,113 486.8,113 485.2,114.4 485.7,115 487.1,115.9 489,115.3 489,115.1"/>
<polygon color="#7f7f7f" points="470.4,130.6 467.5,128.3 471.4,128"/>
<polygon color="#868686" points="475.8,137.8 474.8,136.7 473.5,136.3 472.6,136.3 472,136.7 471.9,136.7 471.6,139.1 471.8,139.1"/>
<polygon color="#060606" points="485,138.3 485,138.3 483.9,138 482.6,137.2 484.2,135.4 485.6,136.4 486.1,137.1"/>
<polygon color="#161616" points="521.1,135.6 520.7,134.7 520.9,134 528.6,131.9 528.9,132 529.3,133.4 527.9,136.4 525.6,137 524,136.8 522.6,136.3"/>
<polygon color="#303030" points="483.1,148 483.4,148.4 488,148.7 486.7,146.8 485.3,146.6 483.5,147.7"/>
<polygon color="#323232" points="483.8,156 484.1,157 477.1,157 478.1,155.2"/>
<polygon color="#474747" points="503.9,148.8 500.5,148.4 501.3,147.2 504.8,145 504.8,145.3"/>
<polygon color="#0b0b0b" points="507.2,117.2 506.7,117.3 506.1,117.6 505.8,118.8 509.6,119.7 509,118.4 507.7,117.2"/>
<polygon color="#464646" points="528.3,143 528.9,140.1 529.1,140 529.8,139.8 531.9,140.6 530.7,142.5 530.3,142.8"/>
<polygon color="#777777" points="514.2,116.2 515.1,118 517.8,118 519.9,115.3 516.9,114.7"/>
<polygon color="#727272" points="506.1,111.1 509.1,110.8 509.8,110.7 509.8,107.9 509.5,107.7 508.8,107.7 506.1,109.4 504.9,110.6 504.9,110.7"/>
<polygon color="#0d0d0d" points="518.7,127.8 523.3,126.8 524,124.6 523.7,124.3 519.4,123.4 518.7,123.6"/>
<polygon color="#212121" points="520.8,140.8 518.6,140.1 518.3,138.3 521.1,135.6 522.6,136.3 521.8,139.8"/>
<polygon color="#2c2c2c" points="511.6,139.9 513.3,140.2 516.3,138.2 512.5,136.3 511.8,136.5 510.8,138.3"/>
<polygon color="#707070" points="506.7,117.3 504.2,115 503.3,115.2 503.8,117.2 503.9,117.3 506.1,117.6"/>
<polygon color="#3b3b3b" points="477.5,141.1 482.7,141.1 482.6,140.5 481.5,139.7 478.9,138.6 478.6,138.6 478.2,138.8"/>
<polygon color="#121212" points="470.4,130.6 471,131.4 464.9,132 467.5,128.2 467.5,128.3"/>
<polygon color="#575757" points="529.9,147.1 531.4,147.5 534.3,146.2 534.4,145.6 531.3,145.7"/>
<polygon color="#717171" points="501.2,125.6 499.7,125.9 498.9,127.1 499.8,129.8 503.8,128.4 503.7,127.4"/>
<polygon color="#535353" points="486.8,139.5 485,138.3 486.1,137.1 487.5,137 488.4,137.4 488.8,137.9 488.6,139"/>
<polygon color="#080808" points="508.1,114.1 506.8,112.5 505,113.7 505,114.7 506.6,114.7"/>
<polygon color="#1a1a1a" points="482.2,135 481.2,136.5 479.5,135"/>
<polygon color="#111111" points="526.3,130 520.4,131.8 520.9,134 528.6,131.9"/>
<polygon color="#383838" points="463.6,130.2 463.6,126.2 464.8,126.2 465.6,126.4"/>
<polygon color="#464646" points="495.8,143.7 492.8,142.3 493,142.9 493.6,143.9"/>
<polygon color="#060606" points="492.9,138 494,136.8 498.4,136.7 499.4,138.5 498.8,139.1 494.8,139.6"/>
<polygon color="#232323" points="511.6,145.4 511,147.6 509.6,147.8 507.9,145.8 509.6,145.3"/>
<polygon color="#0e0e0e" points="526.6,117.9 527.8,116.2 525.9,115.2 523.2,117.6 523.1,118 526.1,118.1"/>
<polygon color="#202020" points="501.4,122.2 502.7,120.5 504.4,121.6 502.5,123.7 501.4,122.5"/>
<polygon color="#373737" points="521.8,139.8 523.3,139.6 524,136.8 522.6,136.3"/>
<polygon color="#606060" points="483.1,134.6 482.2,135 479.5,135 478.1,134.5 477.9,134.3 477.6,133.5 479.5,133.2"/>
<polygon color="#4b4b4b" points="472.7,146.8 470,147.1 469.1,147.7 469.8,148.7 471.6,149 472.5,149 473.1,148.2"/>
<polygon color="#666666" points="488.8,149 488,148.7 486.7,146.8 489.8,146.2 490.8,146.7 490.5,148.7 490.3,148.9"/>
<polygon color="#252525" points="527.8,122.9 526.9,123.9 525.6,124.6 525.2,124.8 524,124.6 523.7,124.3 525.5,121.6 527,121.8 527.2,122"/>
<polygon color="#020202" points="514.2,154.7 514,154.7 512.2,154.7 511,155.2 510.9,157 516.9,157 516,156.1"/>
<polygon color="#080808" points="503.7,127.4 503.8,128.4 505.5,129.2 506.7,129.3 507.9,128.4 508.3,127.1 507.9,126.4"/>
<polygon color="#707070" points="519.3,144.3 521.3,144 521.7,143.3 521.1,141.9 519.3,142.6"/>
<polygon color="#2a2a2a" points="514.1,150.9 515.6,151 515.5,153.5 514,154.7 512.2,154.7 512.7,151.7 512.7,151.6"/>
<polygon color="#4a4a4a" points="508.1,114.1 506.6,114.7 507.2,117.2 507.7,117.2 511.3,114.9 511.2,114.7 508.5,114.1"/>
<polygon color="#282828" points="465.6,141.8 463.6,141.6 463.6,139.2 468,140.8"/>
<polygon color="#0c0c0c" points="528.5,136.7 533.1,135.3 532.1,134.4 529.3,133.4 527.9,136.4"/>
<polygon color="#0e0e0e" points="520.8,152.4 523.8,150.2 523,149.9 520.3,151.8"/>
<polygon color="#404040" points="479.5,133.2 477.6,133.5 477.5,133.3 476.1,131.3 480.8,130.4 481.3,131.2 481.5,132.3"/>
<polygon color="#3c3c3c" points="519.6,109.2 520.1,111.6 519.5,111.9 518.1,111.1 517.7,109.6"/>
<polygon color="#2d2d2d" points="500.1,152.8 501.9,154.8 502.7,154.5 504,152.2 503.7,151.9 503.1,151.9"/>
<polygon color="#2a2a2a" points="518.1,111.1 516,112.2 517.5,113.5 519.3,113 519.5,112.2 519.5,111.9"/>
<polygon color="#545454" points="472.6,136.3 472.2,134.6 475.2,134.2 473.5,136.3"/>
<polygon color="#2e2e2e" points="514.9,107.1 512.6,108.1 509.8,107.9 509.5,107.7 510.2,105.2"/>
<polygon color="#3f3f3f" points="494.6,130.3 494.6,130.4 495.3,130.5 499.8,130.3 499.8,129.8 498.9,127.1 493.2,127.5"/>
<polygon color="#2d2d2d" points="520.3,151.8 518.1,150.3 518.2,150 520.4,148.7 523,149.9"/>
<polygon color="#393939" points="483.2,127.9 485.4,126.7 487.5,128.8 484.2,129.5"/>
<polygon color="#c3c3c3" points="505.1,121.7 504.5,124.7 502.7,124.7 502.5,123.7 504.4,121.6 505,121.6"/>
<polygon color="#393939" points="528.2,143 527.6,142.9 525.2,143.9 524.3,145.2 524.7,146.4 524.9,146.5 528.3,146.1 528.4,145.4"/>
<polygon color="#5b5b5b" points="505.1,149.8 503.9,148.8 504.8,145.3 507.6,149.5"/>
<polygon color="#060606" points="490.2,139.9 492.5,138 491.3,137.4 488.8,137.9 488.6,139"/>
<polygon color="#595959" points="490,151 490.2,151.7 489.5,152.9 487.2,151.6"/>
<polygon color="#989898" points="495.5,144.7 493.2,146.2 492,146.1 492.1,145.3 493.5,144.3"/>
<polygon color="#0f0f0f" points="475.8,139.2 474.5,140.3 474,139.6"/>
<polygon color="#0d0d0d" points="519.3,144.3 521.3,144 521.5,144.2 521.5,147.2 520.5,147.7 517.2,145.2"/>
<polygon color="#0b0b0b" points="513.5,125.3 513.5,126.2 517.3,128 518.4,128.3 518.7,127.8 518.7,123.6 516.1,123"/>
<polygon color="#4f4f4f" points="478.9,138.6 481.4,137.2 482.6,137.2 483.9,138 481.5,139.7"/>
<polygon color="#414141" points="486.8,139.5 485,138.3 485,138.3 483.3,140.1 486.6,140"/>
<polygon color="#232323" points="533.8,140.6 532.4,140.5 532.4,140.5 533.2,137.9 534.9,139"/>
<polygon color="#424242" points="530.7,142.5 531.9,140.6 532.4,140.5 532.4,140.5 533.9,142.5 533.3,143.2"/>
<polygon color="#111111" points="488,118.8 491.9,117.5 492,116.9 489,115.3 487.1,115.9 486.5,116.4 488,118.8"/>
<polygon color="#484848" points="477.6,138.6 478.2,138.8 478.6,138.6 478.1,134.5 477.9,134.3 474.8,136.7 475.8,137.8"/>
<polygon color="#0c0c0c" points="497.2,144.2 495.5,144.7 493.5,144.3 493.6,143.9 495.8,143.7 497,144 497.2,144.2"/>
<polygon color="#3d3d3d" points="481.2,129.3 481.2,129.8 480.8,130.4 476.1,131.3 475.7,131 476.2,129.9 477.7,128.7 480.4,129"/>
<polygon color="#252525" points="484,134.6 484.2,135.4 485.6,136.4 488.3,134.6 488.4,134.5 487.7,134 484.5,133.9"/>
<polygon color="#878787" points="517.8,118 521.9,119 522,118.8 520.2,115.5 520,115.3 519.9,115.3"/>
<polygon color="#0c0c0c" points="504,152.2 506.7,153.6 507.1,153.7 508.5,150.6 508.4,149.7 508.1,149.5 507.6,149.5 505.1,149.8 503.7,151.9"/>
<polygon color="#5d5d5d" points="496.1,115.6 494.5,115.4 492,116.9 491.9,117.5 493,119.2 494.3,119.8 498.1,119 498.3,118.3 496.2,115.6"/>
<polygon color="#515151" points="515.1,107.1 514.7,104.1 513.3,102.9 510.2,105.1 510.2,105.2 514.9,107.1"/>
<polygon color="#232323" points="504,152.2 506.7,153.6 504.5,155.1 502.7,154.5"/>
<polygon color="#1c1c1c" points="538.9,131.2 536,133.4 534.6,132.8 533.9,131.9 536.7,129.7 536.8,129.6 537.2,129.6"/>
<polygon color="#5c5c5c" points="484.2,124.2 484.3,124.2 486.5,120.8 484.3,120 482.9,123.3"/>
<polygon color="#272727" points="471.9,136.7 472,136.7 468.3,134.6 468.2,134.7 469.9,136.8"/>
<polygon color="#484848" points="524.7,146.4 524.3,145.2 521.5,144.2 521.5,147.2"/>
<polygon color="#515151" points="526.8,119.6 526.1,118.1 523.1,118 522,118.8 521.9,119 522,119.5 524.6,120.6 526.5,119.8"/>
<polygon color="#212121" points="517.7,153.1 515.5,153.5 515.6,151 517.5,150.6 517.8,152.8"/>
<polygon color="#444444" points="487.2,120.7 488,118.8 491.9,117.5 493,119.2 490.1,121.1 488.3,121.1"/>
<polygon color="#141414" points="513.7,122.7 509.6,123.6 508.2,124.3 508.1,124.7 513.5,125.3 516.1,123 516.1,123"/>
<polygon color="#3f3f3f" points="469.2,140.7 467.9,137.7 463.6,138.3 463.6,139.2 468,140.8 469.1,140.9"/>
<polygon color="#4f4f4f" points="475.8,139.2 477.6,138.6 478.2,138.8 477.5,141.1 477.2,141.6 475.9,141.6 475.1,141.5 474.5,140.3"/>
<polygon color="#606060" points="499.2,121.1 501.4,122.2 502.7,120.5 502.3,119.9 499.2,119.8 499.1,120.8"/>
<polygon color="#373737" points="481.2,129.8 480.8,130.4 481.3,131.2 484.2,130.9 484.3,130.8 484.1,130.5"/>
<polygon color="#444444" points="523.2,117.6 523.1,118 522,118.8 520.2,115.5 522.6,116.6"/>
<polygon color="#010101" points="498.9,148.8 498.4,148 499.9,145.2 501.3,147.2 500.5,148.4 499.2,148.8"/>
<polygon color="#242424" points="538,138.6 537.2,138.4 535,136.3 535,136.2 536.6,135.2 537,135.2 539.1,137.4"/>
<polygon color="#0d0d0d" points="507,130.9 506.7,129.3 507.9,128.4 510.1,129.7 510.1,130.6"/>
<polygon color="#131313" points="493.5,141.1 494.8,139.6 498.8,139.1 498.7,140 496.6,142.3"/>
<polygon color="#131313" points="526.8,140.4 526.1,141.6 524.2,141.2 524.1,141.2 525.9,138.3"/>
<polygon color="#5f5f5f" points="477.7,144.3 478.9,144.9 482.5,142.5 477.4,141.9"/>
<polygon color="#090909" points="488.8,124.8 488.3,121.1 490.1,121.1 492.7,124.2 491.6,125.2"/>
<polygon color="#020202" points="512.4,127.3 513.5,126.2 517.3,128 512.9,128.1"/>
<polygon color="#6c6c6c" points="512.5,136.3 511.8,136.5 510.9,135.8 510.4,134.5 511.2,132.4 512.9,133.1 513.2,133.4 513.3,135.8"/>
<polygon color="#868686" points="512.7,110.9 513.1,109.2 512.6,108.1 509.8,107.9 509.8,110.7 511.1,111.2"/>
<polygon color="#3d3d3d" points="488.8,130.7 488.4,131.5 487.7,134 488.4,134.5 489.4,134.7 491.3,132.4 490.1,131.2"/>
<polygon color="#5f5f5f" points="507.1,153.7 508.5,150.6 510,151.7 509.4,154.6 508.4,154.4"/>
<polygon color="#0a0a0a" points="464.9,132 471,131.4 471.9,131.7 471.2,133.6 468.3,134.6 468.2,134.7 465.8,134.8 463.6,134.1 463.6,132.7"/>
<polygon color="#020202" points="493.5,144.3 492.1,145.3 492.1,145.2 493,142.9 493.6,143.9"/>
<polygon color="#5c5c5c" points="495.9,132.7 495.3,130.5 499.8,130.3 500,130.6 500.2,131.1"/>
<polygon color="#343434" points="495.7,150.6 493.9,151.6 490.4,150.4 490.3,148.9 490.5,148.7 494.2,149.2 496,150.3"/>
<polygon color="#2c2c2c" points="520.8,152.4 521,152.8 521.4,153.4 522.8,154.1 523.9,153.6 524.7,150.3 523.8,150.2"/>
<polygon color="#030303" points="486.4,141.8 483.8,142.6 484,143.6 485.8,144.9 488.3,144.6 488.4,144.5"/>
<polygon color="#4b4b4b" points="528.4,145.4 528.3,146.1 529.7,147.1 529.9,147.1 531.3,145.7 531.2,144.9"/>
<polygon color="#4d4d4d" points="503.3,134 502.4,132.4 503.9,132.4 506.3,132.6 506.4,133 506.2,135 505,135.3"/>
<polygon color="#838383" points="497.2,144.2 496.8,146.9 494.8,147 493.2,146.2 495.5,144.7"/>
<polygon color="#0b0b0b" points="513.3,135.8 517.3,134.5 515.2,133.1 513.2,133.4"/>
<polygon color="#787878" points="494.8,122.5 494.3,119.8 493,119.2 490.1,121.1 492.7,124.2 494.7,123.2"/>
<polygon color="#1d1d1d" points="494,136.8 498.4,136.7 498.4,135.1 495.2,134 494.3,134 493.7,136.3"/>
<polygon color="#151515" points="483.9,155.2 487.7,153.9 489.5,154 491.4,155.1 490.6,157 484.1,157 483.8,156"/>
<polygon color="#171717" points="531.2,144.9 531.3,145.7 534.4,145.6 534.7,145 531.4,144.5"/>
<polygon color="#121212" points="531.4,153.4 529.6,154 528.8,151 531.8,150.6 533.1,151.5 533.3,152.1"/>
<polygon color="#252525" points="488.7,130.6 486.6,130.9 484.3,130.8 484.1,130.5 484.2,129.5 487.5,128.8 488.8,129.5"/>
<polygon color="#3c3c3c" points="497,144 496.6,142.3 493.5,141.1 492.3,141.7 492.8,142.3 495.8,143.7"/>
<polygon color="#686868" points="492.1,145.3 492,146.1 490.8,146.7 489.8,146.2 488.3,144.6 488.4,144.5 490.4,143 492.1,145.2"/>
<polygon color="#121212" points="497.2,144.2 499.9,144.1 500.8,143.7 498.7,140 496.6,142.3 497,144"/>
<polygon color="#303030" points="506.5,132.4 506.3,132.6 503.9,132.4 504.6,129.8 505.5,129.2 506.7,129.3 507,130.9"/>
<polygon color="#050505" points="512.5,136.3 516.3,138.2 518.3,138.3 521.1,135.6 520.7,134.7 517.3,134.5 513.3,135.8"/>
<polygon color="#111111" points="516,112.2 515.3,112 513.8,116 514.2,116.2 516.9,114.7 517.5,113.5"/>
<polygon color="#383838" points="495.7,150.6 493.9,151.6 493.2,153 493.2,154.4 493.5,154.5 496.7,153.8"/>
<polygon color="#6d6d6d" points="496.2,157 490.6,157 491.4,155.1 493.2,154.4 493.5,154.5 495.9,156.2"/>
<polygon color="#3a3a3a" points="477.9,134.3 477.6,133.5 477.5,133.3 475.2,134.2 473.5,136.3 474.8,136.7"/>
<polygon color="#595959" points="514.8,118.4 515.1,118 514.2,116.2 513.8,116 512.7,115.6 509,118.4 509.6,119.7 509.8,119.9 510,119.9"/>
<polygon color="#161616" points="515.1,107.1 515.8,107.3 516.8,109.2 516,109.7 513.1,109.2 512.6,108.1 514.9,107.1"/>
<polygon color="#424242" points="506.3,137.5 506.3,138.6 510.5,138.3 506.8,136.2"/>
<polygon color="#515151" points="510.9,135.8 507,135.6 506.2,135 506.4,133 510.4,134.5"/>
<polygon color="#080808" points="479.3,124.2 481.8,122.8 481.8,122.8 482.9,123.3 484.2,124.2 479.4,126.1 478.5,126 478.5,126"/>
<polygon color="#050505" points="493.1,133 494.6,130.4 495.3,130.5 495.9,132.7 495.2,134 494.3,134 493.8,133.8"/>
<polygon color="#2d2d2d" points="490.1,131.2 491.3,132.4 493.1,133 494.6,130.4 494.6,130.3"/>
<polygon color="#2e2e2e" points="520.8,152.4 521,152.8 517.8,152.8 517.5,150.6 518.1,150.3 520.3,151.8"/>
<polygon color="#808080" points="523.8,150.2 524.7,150.3 525.9,149.9 524.9,146.5 524.7,146.4 521.5,147.2 520.5,147.7 520.4,148.7 523,149.9"/>
<polygon color="#454545" points="512.7,129.5 511.4,129.4 510.1,129.7 510.1,130.6 511.2,132 512.7,131.2"/>
<polygon color="#484848" points="502.4,132.4 503.9,132.4 504.6,129.8 500,130.6 500.2,131.1 501,132.3"/>
<polygon color="#070707" points="483.5,147.7 485.3,146.6 485.8,144.9 484,143.6 482.8,144.7"/>
<polygon color="#1c1c1c" points="525.7,153.8 523.9,153.6 522.8,154.1 522.6,154.6 522.1,157 526.7,157"/>
<polygon color="#4f4f4f" points="475.8,147.4 474.3,148.2 475.5,149.2 476.3,149.7 476.6,149.6"/>
<polygon color="#3a3a3a" points="483.7,154.8 483.1,153.3 483.1,153.2 486.8,151.8 487.7,153.9 483.9,155.2"/>
<polygon color="#626262" points="483.4,132.6 484.2,130.9 481.3,131.2 481.5,132.3"/>
<polygon color="#070707" points="472.2,134.6 471.2,133.6 471.9,131.7 474.5,131 475.7,131 476.1,131.3 477.5,133.3 475.2,134.2"/>
<polygon color="#121212" points="526.5,119.8 524.6,120.6 525.5,121.6 527,121.8 527.8,120.8"/>
<polygon color="#080808" points="474.3,143.7 475.9,141.6 477.2,141.6 477.4,141.9 477.7,144.3 476.2,144.7 475,144.6"/>
<polygon color="#6d6d6d" points="465.6,126.4 463.6,130.2 463.6,132.7 464.9,132 467.5,128.2 466.2,126.5"/>
<polygon color="#252525" points="475.8,147.4 474.3,148.2 473.1,148.2 472.7,146.8 472.9,146.5 473.1,146.5 475.3,146.6 476,147.2"/>
<polygon color="#2b2b2b" points="511.3,114.9 512.7,115.6 509,118.4 507.7,117.2"/>
<polygon color="#111111" points="519.3,144.3 519.3,142.6 517.2,141.2 515.8,141.8 515.1,144.1 516.2,145.1 517.2,145.2"/>
<polygon color="#515151" points="512.7,151.6 512.7,151.7 510,151.7 508.5,150.6 508.4,149.7 510.5,150.1"/>
<polygon color="#323232" points="521.4,153.4 521,152.8 517.8,152.8 517.7,153.1 518.4,154"/>
<polygon color="#020202" points="499.8,152.8 498.2,153.9 496.7,153.8 495.7,150.6 496,150.3 497.4,150.1"/>
<polygon color="#3d3d3d" points="506.6,114.7 505,114.7 504.2,115 506.7,117.3 507.2,117.2"/>
<polygon color="#121212" points="506.3,137.5 503.6,135.9 503.6,135.9 505,135.3 506.2,135 507,135.6 506.8,136.2"/>
<polygon color="#fefefe" points="527,150.3 526.9,153.7 529.5,154.1 529.6,154 528.8,151"/>
<polygon color="#222222" points="513.2,133.4 515.2,133.1 515,131.5 512.9,133.1"/>
<polygon color="#464646" points="506.8,136.2 507,135.6 510.9,135.8 511.8,136.5 510.8,138.3 510.5,138.3"/>
<polygon color="#494949" points="526.2,129.6 524.4,128.5 519.2,130.1 520.4,131.8 526.3,130"/>
<polygon color="#262626" points="526.6,150 525.9,149.9 524.9,146.5 528.3,146.1 529.7,147.1 528.4,148.9"/>
<polygon color="#313131" points="494.8,122.5 499.1,120.8 499.2,121.1 498.6,122.9 497.5,123.9 494.7,123.2"/>
<polygon color="#3d3d3d" points="497.2,144.2 496.8,146.9 498.4,148 499.9,145.2 499.9,144.1 497.2,144.2"/>
<polygon color="#1c1c1c" points="501.7,138.6 499.4,138.5 498.4,136.7 498.4,135.1 499.8,134.1 503.4,135.8 503.6,135.9 503.6,135.9"/>
<polygon color="#444444" points="503.3,134 503.4,135.8 503.6,135.9 505,135.3"/>
<polygon color="#050505" points="505,121.6 504.4,121.6 502.7,120.5 502.3,119.9 502.6,119.6 503.1,119.3 505.3,119.3 506.2,120.6"/>
<polygon color="#3f3f3f" points="506.3,137.5 503.6,135.9 501.7,138.6 502.4,138.9 505.9,138.9 506.3,138.6"/>
<polygon color="#323232" points="514.4,111.3 512.7,110.9 511.1,111.2 511.2,114.7 514.6,111.7"/>
<polygon color="#1d1d1d" points="492.5,138 492.9,138 494,136.8 493.7,136.3 490.7,135.5 491.3,137.4"/>
<polygon color="#040404" points="533.8,140.6 532.4,140.5 533.9,142.5 534.6,142.2 536,141.1 535.9,141"/>
<polygon color="#5f5f5f" points="498.9,148.8 498.4,148 496.8,146.9 494.8,147 494.2,149.2 496,150.3 497.4,150.1"/>
<polygon color="#2b2b2b" points="520.9,113.9 522.4,115.4 522.4,115.5 520.3,115 520.7,113.9"/>
<polygon color="#404040" points="516,156.1 516.9,157 519.7,157 518.4,154.7 518.3,154.5"/>
<polygon color="#414141" points="512.7,129.5 511.4,129.4 510.8,127.4 512.4,127.3 512.9,128.1 513.1,129.3"/>
<polygon color="#222222" points="527,126.5 524.3,127.9 523.3,126.8 524,124.6 525.2,124.8"/>
<polygon color="#0c0c0c" points="516.2,145.1 514.7,147.4 512.1,147.8 511,147.6 511.6,145.4 513.4,144.1 515.1,144.1"/>
<polygon color="#101010" points="472.6,136.3 472,136.7 468.3,134.6 471.2,133.6 472.2,134.6"/>
<polygon color="#fafafa" points="534.9,139 533.2,137.9 533.1,137.8 535,136.3 537.2,138.4 535.8,139.3"/>
<polygon color="#040404" points="469.1,140.9 468,140.8 465.6,141.8 464.8,142.5 465.4,145.3 469.3,141.1"/>
<polygon color="#6b6b6b" points="507.9,123.5 508.2,124.3 509.6,123.6 511,121.3 510,119.9 509.8,119.9 508.7,120.5"/>
<polygon color="#0b0b0b" points="506.1,117.6 505.8,118.8 505.3,119.3 503.1,119.3 503.9,117.3"/>
<polygon color="#535353" points="481.2,129.3 481.2,129.8 484.1,130.5 484.2,129.5 483.2,127.9 483.1,127.9"/>
<polygon color="#272727" points="474.3,143.7 470.6,142.2 470.5,142 475.1,141.5 475.9,141.6"/>
<polygon color="#2b2b2b" points="530.3,142.8 530.7,142.5 533.3,143.2 534.7,144.6 534.8,144.8 534.7,145 531.4,144.5"/>
<polygon color="#4a4a4a" points="491,141.7 491,141.7 490.4,143 488.4,144.5 486.4,141.8 486.6,141.7"/>
<polygon color="#101010" points="499.8,134.1 498.4,135.1 495.2,134 495.9,132.7 500.2,131.1 501,132.3"/>
<polygon color="#232323" points="492.5,127.2 491.6,125.2 492.7,124.2 494.7,123.2 497.5,123.9 499.7,125.9 498.9,127.1 493.2,127.5"/>
<polygon color="#474747" points="484.3,133.5 485.1,132.8 486.6,130.9 484.3,130.8 484.2,130.9 483.4,132.6"/>
<polygon color="#474747" points="522.4,115.5 522.6,116.6 520.2,115.5 520,115.3 520.3,115"/>
<polygon color="#030303" points="492,146.1 490.8,146.7 490.5,148.7 494.2,149.2 494.8,147 493.2,146.2"/>
<polygon color="#0e0e0e" points="524.3,145.2 521.5,144.2 521.3,144 521.7,143.3 523.4,142.9 525.2,143.9"/>
<polygon color="#5e5e5e" points="487,151.6 486.8,151.8 483.1,153.2 482.4,151.7 483.8,149.8 486.3,150.6"/>
<polygon color="#4b4b4b" points="485.8,125.2 484.3,124.2 486.5,120.8 487.2,120.7 488.3,121.1 488.8,124.8"/>
<polygon color="#545454" points="509.6,145.3 507.9,145.8 505,144.5 504.9,144.2 509.6,142.2 510.9,143"/>
<polygon color="#010101" points="524.2,141.2 523.4,142.9 521.7,143.3 521.1,141.9 521.2,141.1 523.7,141 524.1,141.2"/>
<polygon color="#1e1e1e" points="472.4,128.5 474.5,131 475.7,131 476.2,129.9 474.8,127.7"/>
<polygon color="#474747" points="488.8,149 488,148.7 483.4,148.4 483.8,149.8 486.3,150.6"/>
<polygon color="#1a1a1a" points="513.7,122.7 509.6,123.6 511,121.3"/>
<polygon color="#5a5a5a" points="505.9,138.9 502.4,138.9 503.7,143.8 504.5,144 506.3,139.6"/>
<polygon color="#656565" points="470.1,146.1 470,147.1 472.7,146.8 472.9,146.5 472,145.6"/>
<polygon color="#363636" points="539.4,131.3 538.9,131.2 536,133.4 536.6,135.2 537,135.2 539,134.8"/>
<polygon color="#535353" points="511.3,114.9 512.7,115.6 513.8,116 515.3,112 514.6,111.7 511.2,114.7 511.2,114.7"/>
<polygon color="#727272" points="487.2,120.7 488,118.8 488,118.8 484.3,118 483.3,119.5 484.3,120 486.5,120.8"/>
<polygon color="#808080" points="488.7,130.6 486.6,130.9 485.1,132.8 488.4,131.5 488.8,130.7"/>
<polygon color="#101010" points="470.5,142 469.3,141.1 465.4,145.3 465.3,145.4 466.3,145.9 469.5,144.9 470.8,143.7 470.6,142.2"/>
</g></g>
<text x="504.5" y="161.5"  font-size="4.5" fill="#fff" text-anchor="middle" >Residual</text>
<circle cx="474.2" cy="117.7" r="7.9" fill="#686868" fill-opacity="0.95"/>
<text x="474.2" y="120.35"  font-size="7.8" font-weight="bold" fill="#fff" text-anchor="middle">(h)</text>
<clipPath id="ci"><polygon points="396.7,182.7 399.6,185 404.1,187.9 408.4,189.9 410.4,190.2 413.7,188.4 417.4,183.2 419.7,177.1 423,170.8 425.7,173.4 427.2,177.9 430.9,183.2 436.2,189.2 435.1,193 433.2,197.5 434.7,202.7 440.7,202.7 446.7,201.2 450.4,202 448,204.3 446.2,206.3 444.7,208.5 443.7,213 442.2,216 439.8,218.5 437.3,221 433.8,222.5 430.3,223.8 426.4,225.2 423.3,224.8 420.4,222.5 417.4,221.8 414.4,221.6 410.9,221 408.4,220.8 406.4,222.3 401.9,224 398,224.8 394.2,225.2 391.9,222 389.5,218.9 386.5,216.7 383.4,215.8 378.8,214.4 376.8,211.8 376.2,210.1 376.8,206.7 375.7,203.3 373.9,199.8 373.6,196.5 377.9,197 382.5,196.5 388.2,194.7 393.3,191.3 395.6,185.6"/></clipPath>
<g clip-path="url(#ci)"><g class="v" filter="url(#bl)">
<polygon color="#a08ade" points="415.4,211.7 411.9,212.2 411.1,213.6 415.1,213.3 415.7,212"/>
<polygon color="#9c4ec1" points="399.1,224 398,222 395.5,224.3"/>
<polygon color="#9e75d4" points="411.4,189.5 411.1,188.8 411.2,187.7 415.9,187.9 417.6,189 416,190.2 415,190.5 412.5,190.7"/>
<polygon color="#9a3bb8" points="417.2,183.7 417.2,183.7 414.4,183.7 414.1,182.8 415.9,181.9"/>
<polygon color="#a494e1" points="433.8,190 434.1,190.4 434.4,190.9 434.6,191.1 434.8,191.1 437.2,190.1 436.2,189"/>
<polygon color="#9e68ce" points="424.8,181.5 426.9,181.4 427.5,181.6 426.3,183.5 425.5,183.5 424.4,181.8"/>
<polygon color="#aaa5e6" points="433.8,211.6 433.7,211 431.6,211.1 430,212.2 432.5,213.8 432.9,213.9"/>
<polygon color="#9a3db8" points="396.5,196.1 397.5,198.1 396.7,198.3 395.2,197"/>
<polygon color="#9e70d1" points="424.2,183.8 424.6,185.1 427.5,186.1 428.1,185.3 426.3,183.5 425.5,183.5"/>
<polygon color="#9e6fd1" points="425.4,205.7 428.7,205.4 429.3,208.2 428,209"/>
<polygon color="#832b9b" points="426.9,209.7 427.8,209.2 431.6,211.1 430,212.2 428.9,212.4 427.3,212.2 426.8,210"/>
<polygon color="#9b3fb9" points="403.5,223 406,224 406.8,225.3 401.4,225.3 401.3,224.6 401.6,224.2"/>
<polygon color="#9636b2" points="402.4,207.3 402.6,207.4 403,207.5 403.6,208.1 403.4,209.3 402.7,210 401.5,211.1 398.8,211.2 397.7,210 397.7,208.6"/>
<polygon color="#9d62cb" points="399.1,224 401.3,224.6 401.4,225.3 394.6,225.3 395.2,224.4 395.5,224.3"/>
<polygon color="#812a9a" points="396.5,196.1 397.5,195.3 397.5,194.6 394.4,194.6 393.5,194.9 393.2,196.4 395.2,197"/>
<polygon color="#9e72d2" points="428.1,220.7 430.4,220.1 432.1,220.6 433.8,221.6 433.8,221.7 428.5,223.2"/>
<polygon color="#9a3cb8" points="383,199.7 380.4,198.2 381.7,197.6 382.7,197.6 383.8,199"/>
<polygon color="#812999" points="408.6,212 410.7,210.7 410.7,210.6 409.5,209 409.4,209 409.2,209 407.8,211.5"/>
<polygon color="#7c2793" points="424.2,205.3 421.8,207.2 421.1,207.3 419.6,205.5 420.8,204.2 424.1,204"/>
<polygon color="#9e6ace" points="382.5,200.8 387.4,200.3 386.8,199.5 385.5,198.5 383.8,199 383,199.7"/>
<polygon color="#acabe8" points="407.1,193.9 408.6,193.4 410.8,193.4 410.9,193.6 408.6,195"/>
<polygon color="#9635b1" points="413.1,202.9 412.6,200.1 410.3,203.1 410.8,204"/>
<polygon color="#5d1570" points="422.9,183.7 423.3,183.7 423.5,182 421.5,181.1 420.8,181.7 420.8,182.2"/>
<polygon color="#5d1570" points="405.6,197.2 407,197.4 408,196.7 405.3,195.1 404,195.9 404.2,196.5"/>
<polygon color="#872da0" points="378.1,202.1 378.1,202 382.6,201.3 382.9,202"/>
<polygon color="#9b49be" points="430,200.6 432.3,197.4 430.6,196.8 428.8,199.3 429.1,200.6"/>
<polygon color="#b4c2ef" points="378.7,200.2 382.5,200.9 382.5,200.8 383,199.7 380.4,198.2 380.3,198.2 378.4,198.1 378,199.4"/>
<polygon color="#9a3cb8" points="405.9,201.7 404.6,200 407,199.1 408.9,199.9 408,202.1 406.8,202.3"/>
<polygon color="#9e6bcf" points="428.2,190.9 428.4,189.4 426.7,187.9 421.8,187.8 419.8,188.9 421.4,191 424.5,191.4"/>
<polygon color="#9c58c6" points="408.6,212.3 409.4,213.6 407.7,213.9 405.1,213.6 405.8,213"/>
<polygon color="#9e6bcf" points="423.9,175.7 423.6,175.3 420.6,175.9 420.2,176.3 421.5,177.4 423.9,177.2 424,175.8"/>
<polygon color="#9a38b6" points="425.4,223.9 423.3,222.7 422.1,223.9 426.3,225.1"/>
<polygon color="#9e73d3" points="392.2,193.4 391.7,193.9 390.9,193.8 391.6,190.4 392.1,190.2 392.4,190.2 392.7,190.2 392.9,191.9"/>
<polygon color="#9b3fba" points="376.9,217.1 381.9,212.7 381.9,212.7 382.7,215.5 381.7,216.7 378.6,217.5 377.8,217.4"/>
<polygon color="#9c4ec1" points="440.7,219.6 442.9,221.7 442,223.3 440.4,224.8 438,223.2 438.9,218.4 439,218.3"/>
<polygon color="#a08ade" points="396.5,196.1 397.5,195.3 399,197.8 397.5,198.1"/>
<polygon color="#9b44bc" points="429.3,208.2 428.7,205.4 429.4,204.7 431.6,204.8 431.7,205.9 430.3,208.1"/>
<polygon color="#a089dd" points="392.9,191.9 392.7,190.2 394.9,190 395.8,192.1 394.9,192.7 394.3,192.6"/>
<polygon color="#9435af" points="441.2,210.3 444.1,213 444.9,212.3 443.7,209.8"/>
<polygon color="#a495e1" points="406.2,211.9 404.7,211.5 404.2,212 403.4,213.4 403.5,214 403.7,214.1 405.1,213.6 405.8,213"/>
<polygon color="#7e2896" points="381.7,216.7 383.1,218.5 386.3,219.2 386.7,219 385,216.3 382.7,215.5"/>
<polygon color="#9d65cc" points="404.2,196.5 404,195.9 401.9,195.4 401.6,195.4 400.2,198 400.7,198.5 401.8,198.8"/>
<polygon color="#9c57c5" points="384.6,203.4 383,202.3 382.9,202 382.6,201.3 382.5,200.9 382.5,200.8 387.4,200.3 387.4,200.3 388.1,202.6 387.8,202.8 384.8,203.4"/>
<polygon color="#9e6ccf" points="422.2,216 423.3,216.6 422.2,219.5 421.7,219.7 420.5,219.3 419.5,217.9 419.9,215.7 420.1,215.6"/>
<polygon color="#9b42bb" points="406,222 403.6,222.9 403.5,223 406,224 408.6,222.7"/>
<polygon color="#9837b4" points="387.4,200.3 387.4,200.3 390.2,199.2 390.4,198.9 389.9,198.7 388.3,198.6 386.8,199.5"/>
<polygon color="#aba7e7" points="418.4,174.7 419.1,176.2 420.2,176.3 420.6,175.9 420.8,174.8 418.6,174.5"/>
<polygon color="#9f7fd9" points="412.7,196.3 410.4,196.3 410.2,196.4 413.5,197.3 413.5,197.3 413.5,197.3"/>
<polygon color="#9d60c9" points="432.4,187.1 429,189.3 428.4,189.4 426.7,187.9 427.5,186.1 428.1,185.3 428.3,185.2"/>
<polygon color="#9a3bb8" points="407.1,193.9 408.6,193.4 407.2,192.5 406.7,193.9"/>
<polygon color="#5d1570" points="425.3,222.1 423.3,222.4 421.5,220.5 421.7,220 425.7,221.8"/>
<polygon color="#a18cdf" points="434,195.4 436.6,197.1 435.4,198.6 432.7,197.4"/>
<polygon color="#9b4bbf" points="418.9,172.2 419.9,171.1 423.1,173.1 423.1,173.4 420.8,174.8 418.6,174.5"/>
<polygon color="#9e74d3" points="410.9,204.8 410.8,204 413.1,202.9 415.1,202.7 413.9,206 413.5,206"/>
<polygon color="#691c7e" points="432.7,197.4 432.3,197.4 430,200.6 431.5,201.3 436.6,202.7 437,202.7 437.4,201.4 435.4,198.6"/>
<polygon color="#9e6bcf" points="421.2,201.8 420.6,201.3 424,198 424,198 426.5,201.3 426.2,201.6 424.5,202.5"/>
<polygon color="#9133ac" points="392.4,186.9 395.4,189.5 396.7,188.1 392.4,186.8"/>
<polygon color="#acabe8" points="410,191.6 407,192.1 405.1,191.5 404.6,190.2 405.5,189.9 406.4,189.6 406.6,189.7"/>
<polygon color="#afb4eb" points="416.6,193.4 419.1,194 419.3,193.9 417.3,192.3"/>
<polygon color="#bacef2" points="447.5,204.8 445.3,204.2 444.7,202.1 445.3,201.6 446.8,201.5 448.6,203.3"/>
<polygon color="#802998" points="390.9,193.8 391.7,193.9 393.5,194.9 393.2,196.4 393.1,196.4 391.6,197 389.4,196.4 389.5,193.9 389.9,193.8"/>
<polygon color="#78258f" points="408.6,212.3 405.8,213 406.2,211.9 406.9,211.3 407.8,211.5 408.6,212"/>
<polygon color="#acabe8" points="416.1,208.6 416.3,209.5 419.9,209.3 420.9,207.4 418.8,207.2"/>
<polygon color="#9e73d3" points="424,175.8 423.9,177.2 424.8,177.9 425.2,178 426.8,176.4 426.3,175.8"/>
<polygon color="#9c56c5" points="427.4,174.6 428.3,175.1 428.9,176 426.8,176.4 426.3,175.8"/>
<polygon color="#8a2fa4" points="415.8,193.8 416.6,193.4 419.1,194 418.1,194.8"/>
<polygon color="#9f76d4" points="433.6,189.8 434.3,187.7 435.5,187.7 436.2,189 433.8,190"/>
<polygon color="#a8a0e5" points="382.8,206.6 379.3,208.1 379.8,209.8 383.5,207.8"/>
<polygon color="#77248e" points="401.6,202.6 402,202.8 405.9,201.7 404.6,200 403.3,199.8"/>
<polygon color="#9d61ca" points="432.4,193.7 431.1,193 434.6,191.1 434.8,191.1 434.8,191.2 433,193.9"/>
<polygon color="#9b4abf" points="408.2,195.5 408,196.7 409.4,196.9 410.2,196.4 410.4,196.3 411.4,194 411.4,194 410.9,193.6 408.6,195"/>
<polygon color="#9f7cd7" points="420,179 421.5,177.4 423.9,177.2 424.8,177.9 423.7,179.4 421.7,180.2"/>
<polygon color="#9f7ed8" points="374.6,200.3 378,199.4 378.4,198.1 377.8,197.1 373.6,196.2 373.6,200.1"/>
<polygon color="#9e70d1" points="408.8,206.7 409.4,209 409.2,209 407.3,209 404.8,208.2 407.4,206.8"/>
<polygon color="#a18ddf" points="394.6,222.8 393.1,222.1 392.4,222 391.6,222.9 391.4,225.3 394.6,225.3 395.2,224.4"/>
<polygon color="#9b43bb" points="406.8,205.7 405.4,205.8 403,207.5 403.6,208.1 404.8,208.2 407.4,206.8"/>
<polygon color="#acabe8" points="427.9,220.7 425.8,221.8 427.9,225.1 428.5,223.2 428.1,220.7"/>
<polygon color="#702086" points="424.5,181.1 424.3,180 426.3,180.6 426.9,181.4 424.8,181.5"/>
<polygon color="#9b49be" points="422.2,216 423.3,216.6 423.6,216.6 426.3,214.4 426,213.8 425.9,213.8 422.8,214.9"/>
<polygon color="#aba8e7" points="427.9,220.7 426.2,219.5 425.9,219.3 422.2,219.5 421.7,219.7 421.7,220 425.7,221.8 425.8,221.8"/>
<polygon color="#a088dd" points="412.7,196.3 410.4,196.3 411.4,194 412.6,195.9"/>
<polygon color="#802999" points="391.7,205.4 394.2,205.4 397.5,203.2 394.6,201.7 391.7,202.2 390.6,202.7"/>
<polygon color="#77248e" points="413.5,197.3 410.2,196.4 409.4,196.9 409.5,197"/>
<polygon color="#9d5cc7" points="399,197.8 397.5,195.3 397.5,194.6 398.6,193.8 400.4,194.4 401.6,195.4 400.2,198"/>
<polygon color="#862d9f" points="401,186.4 400.9,185.5 400.4,184.7 397.1,185.5 397.5,187.4 398.2,187.3"/>
<polygon color="#9f83db" points="403.7,214.1 404.7,215.8 402.1,218.7 400.4,218.1 400.6,214.4 403.5,214"/>
<polygon color="#9e69ce" points="393.1,222.1 395.1,219.1 396.1,218.7 397,221 394.6,222.8"/>
<polygon color="#a496e2" points="412.9,199.7 412.6,200.1 410.3,203.1 408,202.1 408.9,199.9 411.2,199.4"/>
<polygon color="#9b40ba" points="397.9,216.4 397.3,218.2 400.4,218.1 400.6,214.4 399.3,214.1"/>
<polygon color="#9d61ca" points="380.4,204.3 379.9,203.4 377.4,203 377,203.2 376.5,203.8 376.5,203.9 380.5,205.3"/>
<polygon color="#9635b1" points="397.5,198.1 399,197.8 400.2,198 400.7,198.5 399.5,199.9 395.5,199.5 396.7,198.3"/>
<polygon color="#9b40ba" points="415,215.6 417,217.2 419.5,215.7 416.6,215.2 415.3,215.3"/>
<polygon color="#a290e0" points="402.2,219.9 402.4,219 402.1,218.7 400.4,218.1 397.3,218.2 396.2,218.4 396.1,218.7 397,221 397.9,221.4 399.6,221.3"/>
<polygon color="#a496e2" points="411.1,191.8 410.8,193.4 408.6,193.4 407.2,192.5 407,192.1 410,191.6"/>
<polygon color="#a495e1" points="435,194.5 435.8,193.6 436.4,192.7 434.8,191.2 433,193.9 434.2,194.8 434.2,194.8 434.7,194.7"/>
<polygon color="#9d5ec9" points="381.4,196.4 381.3,196 380.3,195.2 380,195.3 377.8,197.1 378.4,198.1 380.3,198.2"/>
<polygon color="#882ea1" points="388.8,206.7 388.4,206.7 385,209.7 385.3,210.8 387.1,211.1 391.1,208.2 390.3,207.1"/>
<polygon color="#9b4bbf" points="431.7,205.9 434.5,207.7 437.2,206 437.5,203.4 437.4,203.1 437,202.7 436.6,202.7 431.6,204.8"/>
<polygon color="#a084db" points="401.3,186.6 402.6,186.6 402.2,188.2 401,187.4"/>
<polygon color="#9f83db" points="415.6,193.9 416.6,195.4 417.8,195.3 418.1,194.8 415.8,193.8 415.6,193.8"/>
<polygon color="#9d5fc9" points="394.1,199.7 391.1,198.6 391.6,197 393.1,196.4"/>
<polygon color="#9a3ab7" points="410.1,205 410.9,204.8 413.5,206 412.5,207.6 409.5,209 409.4,209 408.8,206.7"/>
<polygon color="#5d1570" points="402.9,199.4 403.3,199.8 401.6,202.6 398.1,203.2 397.9,203.2 399.5,199.9 400.7,198.5 401.8,198.8"/>
<polygon color="#9e6dd0" points="393.1,222.1 392.4,222 391.6,221.4 392.3,219.5 395.1,219.1"/>
<polygon color="#9e6bcf" points="428.5,223.2 433.8,221.7 433.9,221.7 432.2,225.3 427.9,225.3 427.9,225.1"/>
<polygon color="#9b49be" points="397.5,194.6 394.4,194.6 394.9,192.7 395.8,192.1 398.5,193.1 398.6,193.8"/>
<polygon color="#9b45bd" points="413,199.7 413.1,199.5 413.5,197.3 413.5,197.3 409.5,197 411.2,199.4 412.9,199.7"/>
<polygon color="#9032aa" points="426.3,225.1 422.1,223.9 419,224.6 418.9,224.7 418.6,225.3 426.5,225.3"/>
<polygon color="#a08bde" points="425.3,222.1 423.3,222.4 423.3,222.7 425.4,223.9"/>
<polygon color="#9a3db9" points="412.5,207.6 414.2,210.1 410.7,210.6 409.5,209"/>
<polygon color="#9a3bb8" points="413.5,197.3 413.5,197.3 413.1,199.5 417.6,198.4 418.1,197.7 415,196.6"/>
<polygon color="#9c53c3" points="380.9,205.7 378.7,206 379,208 379.3,208.1 382.8,206.6 382.8,206.6"/>
<polygon color="#9c59c6" points="404.7,211.5 404.8,210.7 403.4,209.3 402.7,210 404.2,212"/>
<polygon color="#9032ab" points="444.7,208.4 443.6,207.5 443.7,206.8 448.1,205.7 448.6,206 445.7,208.3 445,208.4"/>
<polygon color="#acabe8" points="406.7,211 404.8,210.7 403.4,209.3 403.6,208.1 404.8,208.2 407.3,209"/>
<polygon color="#9e73d3" points="397.5,203.2 397.5,203.2 394.2,205.4 394.7,207.5 396.8,208.1 397.1,208.2"/>
<polygon color="#9b4bbf" points="448.1,200.7 446.8,201.5 448.6,203.3 450.4,203.1 450.4,201"/>
<polygon color="#acabe8" points="421.7,197.2 419.6,200.9 420.6,201.3 424,198 422.3,197.1"/>
<polygon color="#9b41bb" points="427.9,220.7 426.2,219.5 430.1,217.4 430.4,220.1 428.1,220.7"/>
<polygon color="#9f78d5" points="403.7,214.1 404.7,215.8 407,216.4 407.7,213.9 405.1,213.6"/>
<polygon color="#9334ae" points="428.1,215.6 426.3,214.4 426,213.8 427.3,212.2 428.9,212.4 430.1,213.9"/>
<polygon color="#acabe8" points="441.2,210.3 439.8,209.9 442.8,207.7 443.6,207.5 444.7,208.4 443.7,209.8"/>
<polygon color="#9e73d3" points="390.4,198.9 389.9,198.7 388.2,196.9 389.4,196.4 391.6,197 391.1,198.6"/>
<polygon color="#9e68cd" points="437.8,214.5 439.1,216.9 435.9,216.3 434.5,215 436.4,214.5"/>
<polygon color="#9f79d6" points="387.6,219 389.2,221.3 391.6,221.4 392.3,219.5 389.9,218.7 389,218.5 388.1,218.7"/>
<polygon color="#9f7cd7" points="424.4,181.8 425.5,183.5 424.2,183.8 423.7,183.8 423.3,183.7 423.5,182"/>
<polygon color="#9c56c5" points="409.2,219.8 409.5,218.8 407.3,218.3 407.3,218.3 407.5,219.5"/>
<polygon color="#9233ad" points="388.1,196.9 388.3,198.6 389.9,198.7 388.2,196.9"/>
<polygon color="#a088dd" points="396.6,214.8 394.7,217 394.3,216.8 391.9,215 391.6,214.5 392.6,213.9 396.7,214.6"/>
<polygon color="#9937b4" points="397.7,208.6 397.7,210 394,211.2 393,210.6 392.8,210 396.8,208.1 397.1,208.2"/>
<polygon color="#9e73d3" points="429.1,196.2 428.4,196 427.9,196.5 428.8,199.3 430.6,196.8"/>
<polygon color="#8d30a7" points="385.8,196.5 387.2,193.2 387,193 385.7,193.1 383.8,195.4 384.8,196.3"/>
<polygon color="#9b4cc0" points="425.9,213.8 423.8,213.1 423.1,211.2 426.8,210 427.3,212.2 426,213.8"/>
<polygon color="#9837b3" points="432.9,213.9 433,214.5 432.8,214.7 430.2,216.7 430.1,216.7 428.6,216.2 428.1,215.6 430.1,213.9 432.5,213.8 432.9,213.9"/>
<polygon color="#5d1570" points="399.3,188.8 402.3,188.4 402.2,188.2 401,187.4 398.2,187.3 397.5,187.4 397.5,187.5"/>
<polygon color="#9d66cc" points="415.7,212 419.3,212.4 419.5,212.6 416.6,215.2 415.3,215.3 415.1,213.3"/>
<polygon color="#9c4dc0" points="400.4,194.4 402.4,193.1 404.4,193.1 404.6,193.3 401.9,195.4 401.6,195.4"/>
<polygon color="#9e6ccf" points="413.8,185.7 413.2,184.4 414.4,183.7 417.2,183.7 417.4,184.2 417.3,184.5 413.8,185.8"/>
<polygon color="#acabe8" points="424.5,181.1 424.3,180 423.7,179.4 421.7,180.2 421.6,180.9"/>
<polygon color="#9c59c6" points="421.7,220 421.5,220.5 419.6,222.4 416.7,221.1 416.5,220 416.6,219.8 420.5,219.3 421.7,219.7"/>
<polygon color="#9c52c3" points="395.2,181 394.5,182.2 396.4,184.1 398.1,181.6 396.6,181 395.6,181"/>
<polygon color="#9837b4" points="415,215.6 412.3,216.6 412.4,217.1 416.3,218.4 417.2,217.5 417,217.2"/>
<polygon color="#75238c" points="413.5,206 413.9,206 414.2,206 414.7,206.3 416.1,208.6 416.3,209.5 415.1,210.4 414.2,210.1 412.5,207.6"/>
<polygon color="#7a2692" points="392.2,193.4 391.7,193.9 393.5,194.9 394.4,194.6 394.9,192.7 394.3,192.6"/>
<polygon color="#acabe8" points="395.3,189.7 399.7,191.2 398.5,193.1 395.8,192.1 394.9,190"/>
<polygon color="#7b2693" points="399.1,224 401.3,224.6 401.6,224.2 399.6,221.3 397.9,221.4 398,222"/>
<polygon color="#9e6ed0" points="416.1,208.6 414.7,206.3 418.8,207.2"/>
<polygon color="#9e73d3" points="391.1,208.2 391.1,208.2 392.8,210 393,210.6 388.5,212 387.1,211.1"/>
<polygon color="#9e6bcf" points="432.4,183 429.4,181.3 429.6,178.4 434.3,180.1 434.4,182.9 433.9,183.1"/>
<polygon color="#9f79d6" points="378.7,200.2 382.5,200.9 382.6,201.3 378.1,202"/>
<polygon color="#712086" points="423.2,173.1 423.1,173.1 423.1,173.4 423.6,175.3 423.9,175.7 427.3,174.5 426.7,172.9"/>
<polygon color="#a085db" points="430.1,216.7 430.1,217.4 426.2,219.5 425.9,219.3 426.4,217.5 428.6,216.2"/>
<polygon color="#9d5ec8" points="419.6,222.4 419,224.6 418.9,224.7 415.9,222.6 416.1,221.7 416.7,221.1"/>
<polygon color="#9d64cb" points="426.5,201.3 429.1,200.6 430,200.6 431.5,201.3 429.3,204.5 426.2,201.6"/>
<polygon color="#9d61ca" points="396.7,214.6 392.6,213.9 393.9,212.7 397.4,214.2"/>
<polygon color="#7f2897" points="417.8,195.3 418.8,197.3 421.7,197.2 422.3,197.1 422.5,194.6 421.1,193.6 419.3,193.9 419.1,194 418.1,194.8"/>
<polygon color="#9f7fd9" points="386.7,219 387.6,219 388.1,218.7 388,215 387.4,215 385,216.3"/>
<polygon color="#9b40ba" points="448.1,205.7 447.5,204.8 445.3,204.2 443.1,205.5 443.7,206.8"/>
<polygon color="#acace8" points="406.2,211.9 404.7,211.5 404.8,210.7 406.7,211 406.9,211.3"/>
<polygon color="#9c54c4" points="381.9,212.7 376.9,212.7 375.7,210 379.8,209.9 382.1,212.6 381.9,212.7"/>
<polygon color="#a8a0e5" points="380.4,204.3 384.6,203.4 384.8,203.4 383.9,205.7 382.8,206.6 380.9,205.7 380.5,205.3"/>
<polygon color="#9b4cc0" points="374.6,200.3 378,199.4 378.7,200.2 378.1,202 378.1,202.1 377.4,203 377,203.2 376.1,202.4"/>
<polygon color="#9b40ba" points="403.4,213.4 401.5,211.1 402.7,210 404.2,212"/>
<polygon color="#9d67cd" points="427.3,174.5 423.9,175.7 424,175.8 426.3,175.8 427.4,174.6"/>
<polygon color="#802998" points="392.8,182.5 391.8,183.7 393.6,185 396.2,184.9 396.4,184.1 394.5,182.2"/>
<polygon color="#b4c1ef" points="405.6,197.2 402.9,199.4 401.8,198.8 404.2,196.5"/>
<polygon color="#9e74d3" points="373.6,200.1 373.6,202.3 376.1,202.4 374.6,200.3"/>
<polygon color="#9b4abf" points="392.4,186.9 395.4,189.5 395.3,189.7 394.9,190 392.7,190.2 392.4,190.2"/>
<polygon color="#9b41bb" points="418,204.5 414.2,206 413.9,206 415.1,202.7 415.4,202.5 417,202.8 418.1,203.9"/>
<polygon color="#7d2794" points="380,195.3 377.2,193.8 373.6,195.5 373.6,196.2 377.8,197.1"/>
<polygon color="#acabe8" points="394.7,200.2 394.6,201.7 391.7,202.2 390.2,199.2 390.4,198.9 391.1,198.6 394.1,199.7"/>
<polygon color="#acabe8" points="420.8,182.3 417.3,183.5 418.5,181.9 419.3,181.5 420.8,181.7 420.8,182.2"/>
<polygon color="#822a9b" points="411.1,191.8 412.5,190.7 411.4,189.5 406.6,189.7 410,191.6"/>
<polygon color="#9b48be" points="375.3,207.8 379,208 378.7,206 376.7,205.7"/>
<polygon color="#9f77d5" points="406.5,220.6 403,221.5 402.2,219.9 402.4,219 402.5,219.1 406.5,220.4"/>
<polygon color="#671a7b" points="416.6,219.8 416.3,218.4 412.4,217.1 412.3,218.1 412.7,219.9 416.5,220"/>
<polygon color="#9a3eb9" points="418.1,203.9 417,202.8 419.2,200.8 419.6,200.9 420.6,201.3 421.2,201.8 420,203"/>
<polygon color="#9c55c4" points="405.6,197.2 407,197.4 407,199.1 404.6,200 403.3,199.8 402.9,199.4"/>
<polygon color="#9c53c3" points="448.1,205.7 448.6,206 450.4,206.6 450.4,203.1 448.6,203.3 447.5,204.8"/>
<polygon color="#9736b3" points="403.6,189.3 402.6,188.6 403.8,186.6 404.7,186.9 404.8,187"/>
<polygon color="#a391e0" points="397.7,210 394,211.2 394,212.5 398.4,212.4 398.8,211.2"/>
<polygon color="#5d1570" points="404,190 400.9,191 400.1,191 399.3,188.8 402.3,188.4 402.6,188.6 403.6,189.3"/>
<polygon color="#9c57c5" points="385.5,198.5 386.2,196.9 388.1,196.9 388.3,198.6 386.8,199.5"/>
<polygon color="#9032ab" points="448.1,198.9 447.7,198.4 446.6,198.2 445,198.2 444.3,199 444.2,199.1 444.3,200.2 445.3,201.6 446.8,201.5 448.1,200.7"/>
<polygon color="#9b4bbf" points="388,215 389.9,214 391.6,214.5 391.9,215 389,218.5 388.1,218.7"/>
<polygon color="#9f80d9" points="423.1,173.4 420.8,174.8 420.6,175.9 423.6,175.3"/>
<polygon color="#9a3ab7" points="403.6,203.7 405,203.5 406.5,202.7 406.8,202.3 405.9,201.7 402,202.8 403.6,203.7"/>
<polygon color="#9d61ca" points="397.4,214.2 393.9,212.7 394,212.5 398.4,212.4 398.8,213.8"/>
<polygon color="#9234ad" points="406.5,220.6 403,221.5 403.6,222.9 406,222"/>
<polygon color="#6b1d80" points="422.2,216 420.1,215.6 420.4,213.4 421.7,213.5 422.8,214.9"/>
<polygon color="#9d60c9" points="397.9,203.2 397.5,203.2 397.1,208.2 397.7,208.6 402.4,207.3 398.1,203.2"/>
<polygon color="#9f80d9" points="396.6,214.8 397.9,216.4 399.3,214.1 398.8,213.8 397.4,214.2 396.7,214.6"/>
<polygon color="#9434af" points="406.6,189.7 406.4,189.6 407.4,188.4 411.1,188.8 411.4,189.5"/>
<polygon color="#9b41ba" points="401,186.4 400.9,185.5 402.8,186.5 402.6,186.6 401.3,186.6"/>
<polygon color="#9a3ab7" points="437.8,214.5 439.1,216.9 439.4,217.1 442.9,215.7 443.3,213.9 438.8,212.3 437.9,213"/>
<polygon color="#9c56c5" points="406.7,204.6 405.8,204.6 405.4,205.4 405.4,205.8 406.8,205.7 407,205.6"/>
<polygon color="#9d5bc7" points="405.3,195.1 405.6,194.2 405.9,194.1 408.2,195.5 408,196.7 408,196.7"/>
<polygon color="#9c4fc1" points="398.1,203.2 402.4,207.3 402.6,207.4 403.6,203.7 402,202.8 401.6,202.6"/>
<polygon color="#9d61ca" points="419.3,181.5 416.6,178.9 420,179 421.7,180.2 421.6,180.9 421.5,181.1 420.8,181.7"/>
<polygon color="#9d64cc" points="421.2,184.8 421.1,184.9 421.8,187.7 423.1,186.2 423.7,183.8 423.3,183.7 422.9,183.7"/>
<polygon color="#9435b0" points="405.5,189.9 405.5,187.2 404.8,187 403.6,189.3 404,190 404.6,190.2"/>
<polygon color="#7f2897" points="389.2,221.3 388.6,222.5 388.9,222.9 391.6,222.9 392.4,222 391.6,221.4"/>
<polygon color="#9a3db8" points="433.7,211 431.6,211.1 427.8,209.2 428,209 429.3,208.2 430.3,208.1 433.6,208.6 434.2,210.4"/>
<polygon color="#9c5ac6" points="424.2,205.3 425.4,205.7 428,209 427.8,209.2 426.9,209.7 424,208.5 421.8,207.2"/>
<polygon color="#9e70d1" points="420.8,204.2 420,203 418.1,203.9 418,204.5 419.6,205.5"/>
<polygon color="#9e73d3" points="407,216.4 407.7,216.7 407.3,218.3 407.3,218.3 402.5,219.1 402.4,219 402.1,218.7 404.7,215.8"/>
<polygon color="#852c9d" points="406.8,220.3 406.5,220.4 402.5,219.1 407.3,218.3 407.5,219.5"/>
<polygon color="#adaee9" points="432.4,183 428.3,185.2 432.4,187.1 432.8,187 433.9,183.1"/>
<polygon color="#9f7fd9" points="376.1,202.4 377,203.2 376.5,203.8 373.6,204 373.6,202.3"/>
<polygon color="#862c9e" points="436.6,212.9 433.8,211.6 433.7,211 434.2,210.4 438.7,210.4 438.8,212.3 437.9,213"/>
<polygon color="#9b4abf" points="390.8,190.7 387.4,191.2 387,193 387.2,193.2 389.5,193.9 389.9,193.8"/>
<polygon color="#9d64cc" points="418.5,181.9 415.8,181.1 415.4,180.2 415.4,178.7 415.6,178.6 416.6,178.9 419.3,181.5"/>
<polygon color="#9937b5" points="422.8,214.9 425.9,213.8 423.8,213.1 421.7,213.5"/>
<polygon color="#9c57c5" points="406.7,204.6 405.8,204.6 405,203.5 406.5,202.7 407.3,204.2"/>
<polygon color="#9e68cd" points="436.4,214.5 434.5,215 433,214.5 432.9,213.9 435.3,213.8"/>
<polygon color="#9e70d1" points="421.5,220.5 423.3,222.4 423.3,222.7 422.1,223.9 419,224.6 419.6,222.4"/>
<polygon color="#9e6ed0" points="392.8,210 396.8,208.1 394.7,207.5 391.1,208.2"/>
<polygon color="#6a1d7f" points="430.3,208.1 433.6,208.6 434.5,207.7 431.7,205.9"/>
<polygon color="#9b49bf" points="398.1,181.6 396.4,184.1 396.2,184.9 397.1,185.5 400.4,184.7 402.2,183.6 402,182.7 399.8,181.4 398.5,181.5"/>
<polygon color="#9b43bb" points="413.5,194.2 411.4,194 411.4,194 412.6,195.9 414.4,195.2"/>
<polygon color="#9e72d2" points="421.7,213.5 423.8,213.1 423.1,211.2 422.1,210.9 420.5,210.8 419.3,212.4 419.5,212.6 420.4,213.4"/>
<polygon color="#a089de" points="424.5,181.1 421.6,180.9 421.5,181.1 423.5,182 424.4,181.8 424.8,181.5"/>
<polygon color="#661a7a" points="407.3,204.2 406.5,202.7 406.8,202.3 408,202.1 410.3,203.1 410.8,204 410.9,204.8 410.1,205 410,205"/>
<polygon color="#9e73d3" points="428.7,191.7 434.4,190.9 434.1,190.4 428.4,191.3"/>
<polygon color="#9b45bc" points="437.1,219 433.8,221.6 432.1,220.6 433.5,217.7"/>
<polygon color="#9e74d3" points="422.1,210.9 424,208.5 426.9,209.7 426.8,210 423.1,211.2"/>
<polygon color="#9c50c2" points="434.7,194.7 434.2,194.8 434,195.4 436.6,197.1 437.1,196.8 437,196.2"/>
<polygon color="#9d5ec9" points="415.1,213.3 415.3,215.3 415,215.6 412.3,216.6 411.1,216.1 410.5,214.1 411.1,213.6"/>
<polygon color="#9d5ac7" points="438.7,210.4 439.2,210 437.8,206.6 437.2,206 434.5,207.7 433.6,208.6 434.2,210.4"/>
<polygon color="#9e6ed0" points="382.7,215.5 385,216.3 387.4,215 382.2,212.5 382.1,212.6 381.9,212.7"/>
<polygon color="#9c5ac6" points="433,214.5 432.8,214.7 434.2,216.9 435.9,216.3 434.5,215"/>
<polygon color="#a496e2" points="416.6,178.9 415.6,178.6 419.1,176.2 420.2,176.3 421.5,177.4 420,179"/>
<polygon color="#a086dc" points="410.2,221.9 408.9,222.7 408.6,222.7 406,222 406.5,220.6 406.5,220.4 406.8,220.3"/>
<polygon color="#651979" points="415.3,195.7 416.6,195.4 417.8,195.3 418.8,197.3 418.1,197.7 415,196.6 415.2,195.7"/>
<polygon color="#acabe8" points="415.4,202.5 414.8,201 418.8,200.6 419.2,200.8 417,202.8"/>
<polygon color="#5e1671" points="411.6,221.4 411.7,221.3 412.7,219.9 412.3,218.1 409.5,218.8 409.2,219.8"/>
<polygon color="#aaa6e6" points="414.4,195.2 412.6,195.9 412.7,196.3 413.5,197.3 415,196.6 415.2,195.7"/>
<polygon color="#acace8" points="406.7,204.6 407,205.6 410,205 407.3,204.2"/>
<polygon color="#9f7fd9" points="405.4,205.8 403,207.5 402.6,207.4 403.6,203.7 403.6,203.7 405.4,205.4"/>
<polygon color="#9d5ec9" points="425,170.8 423.2,173.1 426.7,172.9 429.6,170.8"/>
<polygon color="#a086dc" points="415.4,211.7 415.1,210.4 416.3,209.5 419.9,209.3 420.5,210.8 419.3,212.4 415.7,212"/>
<polygon color="#9b40ba" points="404.6,190.2 405.1,191.5 404.4,193.1 402.4,193.1 400.9,191 404,190"/>
<polygon color="#a084db" points="429.4,204.7 429.3,204.5 431.5,201.3 436.6,202.7 431.6,204.8"/>
<polygon color="#9e6ccf" points="392.4,186.8 396.7,188.1 397.5,187.5 397.5,187.4 397.1,185.5 396.2,184.9 393.6,185 392.2,186.5"/>
<polygon color="#9d67cd" points="439.8,209.9 442.8,207.7 437.8,206.6 439.2,210"/>
<polygon color="#9c59c6" points="413.8,185.8 417.3,184.5 418.5,188.8 417.6,189 415.9,187.9 413.8,186"/>
<polygon color="#5d1570" points="415.6,193.8 415.8,193.8 416.6,193.4 417.3,192.3 416,190.2 415,190.5 415,193.5"/>
<polygon color="#9a3db8" points="380.4,204.3 379.9,203.4 383,202.3 384.6,203.4"/>
<polygon color="#9d63cb" points="439,218.3 438.9,218.4 437.1,219 433.5,217.7 433.4,217.6 434.2,216.9 435.9,216.3 439.1,216.9 439.4,217.1"/>
<polygon color="#8a2fa4" points="378.1,202.1 382.9,202 383,202.3 379.9,203.4 377.4,203"/>
<polygon color="#a494e1" points="417.6,198.4 418.1,197.7 418.8,197.3 421.7,197.2 419.6,200.9 419.2,200.8 418.8,200.6"/>
<polygon color="#9b3fba" points="406.7,193.9 407.2,192.5 407,192.1 405.1,191.5 404.4,193.1 404.6,193.3 405.6,194.2 405.9,194.1"/>
<polygon color="#9b48be" points="438.5,190 439.6,190.3 437.5,192.6 436.4,192.7 434.8,191.2 434.8,191.1 437.2,190.1"/>
<polygon color="#9b43bb" points="444.3,216.4 442.9,215.7 439.4,217.1 439,218.3 440.7,219.6 443.8,218.6 445.1,217.4"/>
<polygon color="#661a7a" points="390.3,207.1 391.1,208.2 391.1,208.2 394.7,207.5 394.2,205.4 391.7,205.4"/>
<polygon color="#9c57c5" points="433.9,221.7 438,223.2 438.9,218.4 437.1,219 433.8,221.6 433.8,221.7"/>
<polygon color="#7a2591" points="428,195.2 428.4,196 427.9,196.5 424,198 424,198 422.3,197.1 422.5,194.6 423.8,194.3"/>
<polygon color="#9b4cc0" points="411.6,221.4 411.7,221.3 416.1,221.7 415.9,222.6 412.7,223 411.4,221.6"/>
<polygon color="#9e68cd" points="443.6,207.5 442.8,207.7 437.8,206.6 437.2,206 437.5,203.4 443.1,205.5 443.7,206.8"/>
<polygon color="#b5c5f0" points="415,193.5 415,190.5 412.5,190.7 411.1,191.8 410.8,193.4 410.9,193.6 411.4,194 413.5,194.2"/>
<polygon color="#9c51c2" points="428.7,191.7 428.4,191.3 428.2,190.9 424.5,191.4 424.5,193.6 428.7,191.8"/>
<polygon color="#9233ad" points="413,199.7 414.8,201 418.8,200.6 417.6,198.4 413.1,199.5"/>
<polygon color="#a393e1" points="438.8,212.3 438.7,210.4 439.2,210 439.8,209.9 441.2,210.3 444.1,213 444,213.3 443.3,213.9"/>
<polygon color="#832b9c" points="385.3,210.8 382.2,212.5 387.4,215 388,215 389.9,214 388.5,212 387.1,211.1"/>
<polygon color="#9c50c2" points="437.5,203.4 443.1,205.5 445.3,204.2 444.7,202.1 437.4,203.1"/>
<polygon color="#9b42bb" points="425.2,178 426.8,176.4 428.9,176 430.5,177.1 429.6,178.4 426.6,178.3"/>
<polygon color="#9c53c3" points="423.2,173.1 425,170.8 419.9,170.8 419.9,171.1 423.1,173.1"/>
<polygon color="#9d63cb" points="395.2,197 393.2,196.4 393.1,196.4 394.1,199.7 394.7,200.2 395.5,199.5 396.7,198.3"/>
<polygon color="#702086" points="383.9,205.7 388.4,206.7 388.8,206.7 387.8,202.8 384.8,203.4"/>
<polygon color="#9c59c6" points="430.2,216.7 433.4,217.6 434.2,216.9 432.8,214.7"/>
<polygon color="#a088dd" points="392.2,193.4 394.3,192.6 392.9,191.9"/>
<polygon color="#9d5cc7" points="392.6,213.9 391.6,214.5 389.9,214 388.5,212 393,210.6 394,211.2 394,212.5 393.9,212.7"/>
<polygon color="#b7c8f1" points="422.1,210.9 424,208.5 421.8,207.2 421.1,207.3 420.9,207.4 419.9,209.3 420.5,210.8"/>
<polygon color="#a08ade" points="407.1,193.9 408.6,195 408.2,195.5 405.9,194.1 406.7,193.9"/>
<polygon color="#9b4bbf" points="380.5,205.3 376.5,203.9 376.7,205.7 378.7,206 380.9,205.7"/>
<polygon color="#882da1" points="395.3,189.7 399.7,191.2 400.1,191 399.3,188.8 397.5,187.5 396.7,188.1 395.4,189.5"/>
<polygon color="#792590" points="423.7,183.8 424.2,183.8 424.6,185.1 423.1,186.2"/>
<polygon color="#9937b5" points="385.8,196.5 387.2,193.2 389.5,193.9 389.4,196.4 388.2,196.9 388.1,196.9 386.2,196.9"/>
<polygon color="#9b41ba" points="421.2,184.8 421.1,184.9 417.6,184.2 420.3,183.3"/>
<polygon color="#9e6ace" points="420.5,219.3 419.5,217.9 417.2,217.5 416.3,218.4 416.6,219.8"/>
<polygon color="#b8ccf2" points="443.7,209.8 444.7,208.4 445,208.4 446.3,210.2 446,211.8 444.9,212.3"/>
<polygon color="#9e74d3" points="437.7,201.2 437.4,201.4 437,202.7 437.4,203.1 444.7,202.1 445.3,201.6 444.3,200.2"/>
<polygon color="#9a3cb8" points="420.8,182.3 417.3,183.5 417.2,183.7 417.2,183.7 417.4,184.2 417.6,184.2 420.3,183.3"/>
<polygon color="#9d62cb" points="415.6,193.9 416.6,195.4 415.3,195.7"/>
<polygon color="#9a3eb9" points="428.1,215.6 426.3,214.4 423.6,216.6 426.4,217.5 428.6,216.2"/>
<polygon color="#9d60ca" points="401,186.4 398.2,187.3 401,187.4 401.3,186.6"/>
<polygon color="#9434af" points="381.7,197.6 380.4,198.2 380.3,198.2 381.4,196.4"/>
<polygon color="#9d64cb" points="381.7,197.6 382.7,197.6 383.3,196.7 381.3,196 381.4,196.4"/>
<polygon color="#9b49be" points="408.6,212.3 409.4,213.6 410.5,214.1 411.1,213.6 411.9,212.2 410.7,210.7 408.6,212"/>
<polygon color="#9535b1" points="389,218.5 391.9,215 394.3,216.8 389.9,218.7"/>
<polygon color="#9c59c6" points="395.5,199.5 394.7,200.2 394.6,201.7 397.5,203.2 397.5,203.2 397.9,203.2 399.5,199.9"/>
<polygon color="#9e72d2" points="426.5,201.3 424,198 427.9,196.5 428.8,199.3 429.1,200.6"/>
<polygon color="#9b4cc0" points="426.3,180.6 426.6,178.3 429.6,178.4 429.6,178.4 429.4,181.3 427.5,181.6 426.9,181.4"/>
<polygon color="#acabe8" points="428.7,191.7 434.4,190.9 434.6,191.1 431.1,193 429.1,192.5 428.7,191.8"/>
<polygon color="#712087" points="428.7,191.8 429.1,192.5 428,195.2 423.8,194.3 424.5,193.6"/>
<polygon color="#9c51c2" points="387.4,200.3 390.2,199.2 391.7,202.2 390.6,202.7 388.1,202.6"/>
<polygon color="#9c59c6" points="383.8,199 382.7,197.6 383.3,196.7 384.8,196.3 385.8,196.5 386.2,196.9 385.5,198.5"/>
<polygon color="#9f7dd8" points="420.4,213.4 419.5,212.6 416.6,215.2 419.5,215.7 419.9,215.7 420.1,215.6"/>
<polygon color="#9c51c2" points="415.4,211.7 415.1,210.4 414.2,210.1 410.7,210.6 410.7,210.7 411.9,212.2"/>
<polygon color="#a18ddf" points="407,197.4 408,196.7 408,196.7 409.4,196.9 409.5,197 411.2,199.4 408.9,199.9 407,199.1"/>
<polygon color="#9a3eb9" points="426.3,180.6 426.6,178.3 425.2,178 424.8,177.9 423.7,179.4 424.3,180"/>
<polygon color="#9c52c3" points="376.9,217.1 376.8,217.1 376.4,213.1 376.5,212.9 376.9,212.7 381.9,212.7"/>
<polygon color="#9334ae" points="391.6,190.4 390.9,193.8 389.9,193.8 390.8,190.7"/>
<polygon color="#acabe8" points="433.5,217.7 433.4,217.6 430.2,216.7 430.1,216.7 430.1,217.4 430.4,220.1 432.1,220.6"/>
<polygon color="#5d1570" points="422.2,219.5 425.9,219.3 426.4,217.5 423.6,216.6 423.3,216.6"/>
<polygon color="#6e1f83" points="403.3,186.3 403.2,186.3 402.8,186.5 402.6,186.6 402.2,188.2 402.3,188.4 402.6,188.6 403.8,186.6"/>
<polygon color="#9c50c2" points="413.8,186 415.9,187.9 411.2,187.7 411,187.2"/>
<polygon color="#862c9f" points="409.4,213.6 407.7,213.9 407,216.4 407.7,216.7 411.1,216.1 410.5,214.1"/>
<polygon color="#9d68cd" points="432.4,183 429.4,181.3 427.5,181.6 426.3,183.5 428.1,185.3 428.3,185.2"/>
<polygon color="#852c9e" points="417.3,192.3 419.3,193.9 421.1,193.6 421.4,191 419.8,188.9 418.5,188.8 417.6,189 416,190.2"/>
<polygon color="#a79ee4" points="394.7,217 394.3,216.8 389.9,218.7 392.3,219.5 395.1,219.1 396.1,218.7 396.2,218.4"/>
<polygon color="#892ea3" points="417.3,183.5 417.2,183.7 415.9,181.9 415.8,181.1 418.5,181.9"/>
<polygon color="#9f7ad6" points="411.6,221.4 409.2,219.8 407.5,219.5 406.8,220.3 410.2,221.9 411.4,221.6"/>
<polygon color="#9b44bc" points="416.5,220 412.7,219.9 411.7,221.3 416.1,221.7 416.7,221.1"/>
<polygon color="#9c57c5" points="432.4,193.7 430.5,195.5 434.2,194.8 433,193.9"/>
<polygon color="#9f7fd9" points="373.9,208.5 375.7,210 379.8,209.9 379.8,209.8 379.3,208.1 379,208 375.3,207.8"/>
<polygon color="#9a3bb8" points="382.8,206.6 382.8,206.6 383.5,207.8 385,209.7 388.4,206.7 383.9,205.7"/>
<polygon color="#6f2085" points="435.3,213.8 432.9,213.9 432.9,213.9 433.8,211.6 436.6,212.9"/>
<polygon color="#74228b" points="405.4,205.4 403.6,203.7 405,203.5 405.8,204.6"/>
<polygon color="#8e31a8" points="432.4,193.7 431.1,193 429.1,192.5 428,195.2 428.4,196 429.1,196.2 430.5,195.5"/>
<polygon color="#78248e" points="433.6,189.8 429,189.3 428.4,189.4 428.2,190.9 428.4,191.3 434.1,190.4 433.8,190"/>
<polygon color="#9b44bc" points="385,209.7 385.3,210.8 382.2,212.5 382.1,212.6 379.8,209.9 379.8,209.8 383.5,207.8"/>
<polygon color="#a8a0e5" points="373.6,208.5 373.6,204 376.5,203.8 376.5,203.9 376.7,205.7 375.3,207.8 373.9,208.5"/>
<polygon color="#9c51c2" points="387.8,202.8 388.8,206.7 390.3,207.1 391.7,205.4 390.6,202.7 388.1,202.6"/>
<polygon color="#9d64cb" points="415.1,202.7 413.1,202.9 412.6,200.1 412.9,199.7 413,199.7 414.8,201 415.4,202.5"/>
<polygon color="#a085dc" points="384.8,196.3 383.8,195.4 381.2,194.4 380.3,195.2 381.3,196 383.3,196.7"/>
<polygon color="#9e6fd1" points="430.5,195.5 429.1,196.2 430.6,196.8 432.3,197.4 432.7,197.4 434,195.4 434.2,194.8 434.2,194.8"/>
<polygon color="#9d65cc" points="398.6,193.8 398.5,193.1 399.7,191.2 400.1,191 400.9,191 402.4,193.1 400.4,194.4"/>
<polygon color="#a084db" points="407.8,211.5 409.2,209 407.3,209 406.7,211 406.9,211.3"/>
<polygon color="#9e75d4" points="424.5,193.6 423.8,194.3 422.5,194.6 421.1,193.6 421.4,191 424.5,191.4"/>
<polygon color="#9c4dc0" points="421.2,184.8 420.3,183.3 420.8,182.3 420.8,182.2 422.9,183.7"/>
<polygon color="#9f76d4" points="424.2,205.3 425.4,205.7 428.7,205.4 429.4,204.7 429.3,204.5 426.2,201.6 424.5,202.5 424.1,204"/>
<polygon color="#b1b9ec" points="412.3,218.1 412.4,217.1 412.3,216.6 411.1,216.1 407.7,216.7 407.3,218.3 409.5,218.8"/>
<polygon color="#9b40ba" points="407,205.6 406.8,205.7 407.4,206.8 408.8,206.7 410.1,205 410,205"/>
<polygon color="#9b46bd" points="404,195.9 401.9,195.4 404.6,193.3 405.6,194.2 405.3,195.1"/>
<polygon color="#9e71d2" points="430.1,213.9 428.9,212.4 430,212.2 432.5,213.8"/>
<polygon color="#7f2896" points="403.5,214 400.6,214.4 399.3,214.1 398.8,213.8 398.4,212.4 398.8,211.2 401.5,211.1 403.4,213.4"/>
<polygon color="#9d67cd" points="407.4,188.4 407.5,187.5 405.5,187.2 405.5,189.9 406.4,189.6"/>
<polygon color="#9b46bd" points="424.1,204 424.5,202.5 421.2,201.8 420,203 420.8,204.2"/>
<polygon color="#9c52c2" points="415.6,193.9 415.3,195.7 415.2,195.7 414.4,195.2 413.5,194.2 415,193.5 415.6,193.8"/>
<polygon color="#9f7fd9" points="419.9,215.7 419.5,215.7 417,217.2 417.2,217.5 419.5,217.9"/>
<polygon color="#9c55c4" points="433.6,189.8 429,189.3 432.4,187.1 432.8,187 434.3,187.7"/>
<polygon color="#9f7bd7" points="403,221.5 402.2,219.9 399.6,221.3 401.6,224.2 403.5,223 403.6,222.9"/>
<polygon color="#9e72d2" points="437.8,214.5 437.9,213 436.6,212.9 435.3,213.8 436.4,214.5"/>
<polygon color="#afb3ea" points="396.6,214.8 394.7,217 396.2,218.4 397.3,218.2 397.9,216.4"/>
<polygon color="#7e2896" points="432.2,225.3 440.3,225.3 440.4,224.8 438,223.2 433.9,221.7"/>
<polygon color="#9f7cd7" points="425.8,221.8 425.7,221.8 425.3,222.1 425.4,223.9 426.3,225.1 426.5,225.3 427.9,225.3 427.9,225.1"/>
<polygon color="#9e73d3" points="435.5,187.7 436.2,187.4 438.4,183.5 434.4,182.9 433.9,183.1 432.8,187 434.3,187.7"/>
<polygon color="#9d5cc8" points="423.1,186.2 424.6,185.1 427.5,186.1 426.7,187.9 421.8,187.8 421.8,187.7"/>
<polygon color="#8a2fa3" points="417.6,184.2 417.4,184.2 417.3,184.5 418.5,188.8 419.8,188.9 421.8,187.8 421.8,187.7 421.1,184.9"/>
<polygon color="#9b4cc0" points="419.6,205.5 418,204.5 414.2,206 414.7,206.3 418.8,207.2 420.9,207.4 421.1,207.3"/>
<polygon color="#9d63cb" points="395.5,224.3 395.2,224.4 394.6,222.8 397,221 397.9,221.4 398,222"/>
</g></g>
<text x="415" y="230.2"  font-size="4.5" fill="#fff" text-anchor="middle" >Standard deviation</text>
<circle cx="384.2" cy="184.6" r="7.9" fill="#686868" fill-opacity="0.95"/>
<text x="384.2" y="187.25"  font-size="7.8" font-weight="bold" fill="#fff" text-anchor="middle">(i)</text>
<polygon points="486.7,182.7 489.6,185 494.1,187.9 498.4,189.9 500.4,190.2 503.7,188.4 507.4,183.2 509.7,177.1 513,170.8 515.7,173.4 517.2,177.9 520.9,183.2 526.2,189.2 525.1,193 523.2,197.5 524.7,202.7 530.7,202.7 536.7,201.2 540.4,202 538,204.3 536.2,206.3 534.7,208.5 533.7,213 532.2,216 529.8,218.5 527.3,221 523.8,222.5 520.3,223.8 516.4,225.2 513.3,224.8 510.4,222.5 507.4,221.8 504.4,221.6 500.9,221 498.4,220.8 496.4,222.3 491.9,224 488,224.8 484.2,225.2 481.9,222 479.5,218.9 476.5,216.7 473.4,215.8 468.8,214.4 466.8,211.8 466.2,210.1 466.8,206.7 465.7,203.3 463.9,199.8 463.6,196.5 467.9,197 472.5,196.5 478.2,194.7 483.3,191.3 485.6,185.6" fill="#d9d9d9"/>
<clipPath id="cj"><polygon points="486.7,182.7 489.6,185 494.1,187.9 498.4,189.9 500.4,190.2 503.7,188.4 507.4,183.2 509.7,177.1 513,170.8 515.7,173.4 517.2,177.9 520.9,183.2 526.2,189.2 525.1,193 523.2,197.5 524.7,202.7 530.7,202.7 536.7,201.2 540.4,202 538,204.3 536.2,206.3 534.7,208.5 533.7,213 532.2,216 529.8,218.5 527.3,221 523.8,222.5 520.3,223.8 516.4,225.2 513.3,224.8 510.4,222.5 507.4,221.8 504.4,221.6 500.9,221 498.4,220.8 496.4,222.3 491.9,224 488,224.8 484.2,225.2 481.9,222 479.5,218.9 476.5,216.7 473.4,215.8 468.8,214.4 466.8,211.8 466.2,210.1 466.8,206.7 465.7,203.3 463.9,199.8 463.6,196.5 467.9,197 472.5,196.5 478.2,194.7 483.3,191.3 485.6,185.6"/></clipPath><g clip-path="url(#cj)">
<polygon points="514.1,178.8 515.6,179.1 515.6,182.2 514.4,181.9" fill="#ff0000"/>
<polygon points="492.1,196.6 494.8,197.1 494.3,200.8 491.7,200.5" fill="#ff0000"/>
<polygon points="495.9,199.7 497.9,200 497.6,201.7 495.9,201.5" fill="#ff0000"/>
<polygon points="473.9,204.3 477.8,204.8 477.3,209 474.7,209.7 473.1,207.4" fill="#ff0000"/>
<polygon points="483.2,202.8 487,202.3 488.1,205.1 485.5,206.3 486.6,208.5 489.4,209.7 489.1,213.6 485.5,215.1 482.4,212.8 483.2,209.7 480.1,209 480.4,206.6" fill="#ff0000"/>
<polygon points="494.8,209.4 500.5,210 499.9,213.1 497.1,214.1 494.8,212.8" fill="#ff0000"/>
<polygon points="468.5,213.6 471.1,214.1 471.6,215.9 469,216.2" fill="#ff0000"/>
<polygon points="501.7,214.4 504.8,215.1 504.5,218.2 504,221.3 501.4,220.6 501,217.1" fill="#ff0000"/>
<polygon points="507.1,215.1 511.8,215.9 514.9,217.1 514.1,219 509.5,219.3 506.8,217.5" fill="#ff0000"/>
<polygon points="512.2,208.5 513.8,208.5 513.8,210 512.2,210" fill="#ff0000"/>
<polygon points="511.8,174.5 514.4,174.2 514.9,175.7 512.2,176" fill="#0000ff"/>
<polygon points="511,178.8 514.1,179.6 515.3,183.1 512.6,184.7 510.7,182.2" fill="#0000ff"/>
<polygon points="486.3,187.8 489.1,188.1 488.6,189.6 486,189.3" fill="#0000ff"/>
<polygon points="463.9,196.1 466.5,196.6 467,198.9 464.3,199.7 463.1,198.1" fill="#0000ff"/>
<polygon points="486,195 488.1,194.6 488.6,197.1 486.3,197.4" fill="#0000ff"/>
<polygon points="498.3,196.6 501,196.3 501.4,198.6 498.6,198.9" fill="#0000ff"/>
<polygon points="518,191.2 521.1,190.4 523.4,192.4 522.6,195.8 520.3,197.4 519.5,200.1 516,200.5 514.4,197.7 516.9,195.8" fill="#0000ff"/>
<polygon points="514.1,202 516,202.3 515.3,205.9 513.3,205.4" fill="#0000ff"/>
<polygon points="495.2,207.4 501,206.9 501.4,209.4 498.6,210.5 494.8,209.7" fill="#0000ff"/>
<polygon points="528,203.9 533.4,204.3 533.9,208.2 530.3,208.5 527.7,206.6" fill="#0000ff"/>
<polygon points="524.1,207.9 526.5,209 526.2,212 523.7,211.3" fill="#0000ff"/>
<polygon points="516.4,212 518.4,212.8 518,216.2 516,215.6" fill="#0000ff"/>
</g>
<text x="504.5" y="230.2"  font-size="4.5" fill="#fff" text-anchor="middle" >LISA</text>
<circle cx="474.2" cy="184.6" r="7.9" fill="#686868" fill-opacity="0.95"/>
<text x="474.2" y="187.25"  font-size="7.8" font-weight="bold" fill="#fff" text-anchor="middle">(j)</text>
<line x1="212" x2="508.5" y1="296.3" y2="296.3" stroke="#4a4a4a" stroke-width="0.6"/>
<text x="210" y="298"  font-size="4.9" fill="#d4d4d4" text-anchor="end" >0</text>
<line x1="212" x2="508.5" y1="278" y2="278" stroke="#4a4a4a" stroke-width="0.6"/>
<text x="210" y="279.7"  font-size="4.9" fill="#d4d4d4" text-anchor="end" >10</text>
<line x1="212" x2="508.5" y1="259.7" y2="259.7" stroke="#4a4a4a" stroke-width="0.6"/>
<text x="210" y="261.4"  font-size="4.9" fill="#d4d4d4" text-anchor="end" >20</text>
<line x1="212" x2="508.5" y1="241.4" y2="241.4" stroke="#4a4a4a" stroke-width="0.6"/>
<text x="210" y="243.1"  font-size="4.9" fill="#d4d4d4" text-anchor="end" >30</text>
<text transform="translate(201.4,269.5) rotate(-90)"  font-size="4.1" fill="#e6e6e6" text-anchor="middle">PM2.5 (µg/ m³)</text>
<text x="360" y="309.9"  font-size="4.1" fill="#f0f0f0" text-anchor="middle" >Hour</text>
<line x1="217.4" x2="217.4" y1="262.44" y2="294.47" stroke="#e3d93a" stroke-width="0.9"/>
<rect x="215.6" y="271.6" width="3.6" height="12.26" rx="0.8" fill="#4c4b38" stroke="#e3d93a" stroke-width="0.8"/>
<line x1="215.6" x2="219.2" y1="277.73" y2="277.73" stroke="#e3d93a" stroke-width="0.5"/>
<line x1="220.9" x2="220.9" y1="264.28" y2="282.76" stroke="#33d6d0" stroke-width="0.9"/>
<rect x="219.2" y="273.79" width="3.4" height="8.97" rx="0.8" fill="#36494b" stroke="#33d6d0" stroke-width="0.8"/>
<line x1="219.2" x2="222.6" y1="278.27" y2="278.27" stroke="#33d6d0" stroke-width="0.5"/>
<text x="219.2" y="302.6"  font-size="4.8" fill="#d4d4d4" text-anchor="middle" >0</text>
<line x1="229.64" x2="229.64" y1="262.44" y2="294.47" stroke="#e3d93a" stroke-width="0.9"/>
<rect x="227.84" y="271.6" width="3.6" height="12.26" rx="0.8" fill="#4c4b38" stroke="#e3d93a" stroke-width="0.8"/>
<line x1="227.84" x2="231.44" y1="277.73" y2="277.73" stroke="#e3d93a" stroke-width="0.5"/>
<line x1="233.14" x2="233.14" y1="264.28" y2="282.76" stroke="#33d6d0" stroke-width="0.9"/>
<rect x="231.44" y="273.79" width="3.4" height="8.97" rx="0.8" fill="#36494b" stroke="#33d6d0" stroke-width="0.8"/>
<line x1="231.44" x2="234.84" y1="278.27" y2="278.27" stroke="#33d6d0" stroke-width="0.5"/>
<text x="231.44" y="302.6"  font-size="4.8" fill="#d4d4d4" text-anchor="middle" >1</text>
<line x1="241.89" x2="241.89" y1="264.28" y2="294.47" stroke="#e3d93a" stroke-width="0.9"/>
<rect x="240.09" y="271.6" width="3.6" height="12.26" rx="0.8" fill="#4c4b38" stroke="#e3d93a" stroke-width="0.8"/>
<line x1="240.09" x2="243.69" y1="277.73" y2="277.73" stroke="#e3d93a" stroke-width="0.5"/>
<line x1="245.39" x2="245.39" y1="265.19" y2="282.39" stroke="#33d6d0" stroke-width="0.9"/>
<rect x="243.69" y="273.79" width="3.4" height="8.6" rx="0.8" fill="#36494b" stroke="#33d6d0" stroke-width="0.8"/>
<line x1="243.69" x2="247.09" y1="278.09" y2="278.09" stroke="#33d6d0" stroke-width="0.5"/>
<text x="243.69" y="302.6"  font-size="4.8" fill="#d4d4d4" text-anchor="middle" >2</text>
<line x1="254.13" x2="254.13" y1="264.28" y2="294.47" stroke="#e3d93a" stroke-width="0.9"/>
<rect x="252.33" y="272.88" width="3.6" height="10.98" rx="0.8" fill="#4c4b38" stroke="#e3d93a" stroke-width="0.8"/>
<line x1="252.33" x2="255.94" y1="278.37" y2="278.37" stroke="#e3d93a" stroke-width="0.5"/>
<line x1="257.63" x2="257.63" y1="267.94" y2="282.39" stroke="#33d6d0" stroke-width="0.9"/>
<rect x="255.94" y="275.25" width="3.4" height="7.14" rx="0.8" fill="#36494b" stroke="#33d6d0" stroke-width="0.8"/>
<line x1="255.94" x2="259.33" y1="278.82" y2="278.82" stroke="#33d6d0" stroke-width="0.5"/>
<text x="255.94" y="302.6"  font-size="4.8" fill="#d4d4d4" text-anchor="middle" >3</text>
<line x1="266.38" x2="266.38" y1="264.28" y2="294.47" stroke="#e3d93a" stroke-width="0.9"/>
<rect x="264.58" y="272.88" width="3.6" height="10.98" rx="0.8" fill="#4c4b38" stroke="#e3d93a" stroke-width="0.8"/>
<line x1="264.58" x2="268.18" y1="278.37" y2="278.37" stroke="#e3d93a" stroke-width="0.5"/>
<line x1="269.88" x2="269.88" y1="267.02" y2="282.39" stroke="#33d6d0" stroke-width="0.9"/>
<rect x="268.18" y="276.17" width="3.4" height="6.22" rx="0.8" fill="#36494b" stroke="#33d6d0" stroke-width="0.8"/>
<line x1="268.18" x2="271.58" y1="279.28" y2="279.28" stroke="#33d6d0" stroke-width="0.5"/>
<text x="268.18" y="302.6"  font-size="4.8" fill="#d4d4d4" text-anchor="middle" >4</text>
<line x1="278.62" x2="278.62" y1="266.11" y2="294.47" stroke="#e3d93a" stroke-width="0.9"/>
<rect x="276.82" y="272.88" width="3.6" height="10.98" rx="0.8" fill="#4c4b38" stroke="#e3d93a" stroke-width="0.8"/>
<line x1="276.82" x2="280.42" y1="278.37" y2="278.37" stroke="#e3d93a" stroke-width="0.5"/>
<line x1="282.12" x2="282.12" y1="267.94" y2="282.39" stroke="#33d6d0" stroke-width="0.9"/>
<rect x="280.42" y="276.54" width="3.4" height="5.86" rx="0.8" fill="#36494b" stroke="#33d6d0" stroke-width="0.8"/>
<line x1="280.42" x2="283.82" y1="279.46" y2="279.46" stroke="#33d6d0" stroke-width="0.5"/>
<text x="280.42" y="302.6"  font-size="4.8" fill="#d4d4d4" text-anchor="middle" >5</text>
<line x1="290.87" x2="290.87" y1="266.11" y2="294.47" stroke="#e3d93a" stroke-width="0.9"/>
<rect x="289.07" y="272.88" width="3.6" height="10.98" rx="0.8" fill="#4c4b38" stroke="#e3d93a" stroke-width="0.8"/>
<line x1="289.07" x2="292.67" y1="278.37" y2="278.37" stroke="#e3d93a" stroke-width="0.5"/>
<line x1="294.37" x2="294.37" y1="268.85" y2="282.39" stroke="#33d6d0" stroke-width="0.9"/>
<rect x="292.67" y="276.54" width="3.4" height="5.86" rx="0.8" fill="#36494b" stroke="#33d6d0" stroke-width="0.8"/>
<line x1="292.67" x2="296.07" y1="279.46" y2="279.46" stroke="#33d6d0" stroke-width="0.5"/>
<text x="292.67" y="302.6"  font-size="4.8" fill="#d4d4d4" text-anchor="middle" >6</text>
<line x1="303.11" x2="303.11" y1="265.19" y2="294.47" stroke="#e3d93a" stroke-width="0.9"/>
<rect x="301.31" y="272.88" width="3.6" height="10.98" rx="0.8" fill="#4c4b38" stroke="#e3d93a" stroke-width="0.8"/>
<line x1="301.31" x2="304.91" y1="278.37" y2="278.37" stroke="#e3d93a" stroke-width="0.5"/>
<line x1="306.61" x2="306.61" y1="267.94" y2="282.39" stroke="#33d6d0" stroke-width="0.9"/>
<rect x="304.91" y="276.17" width="3.4" height="6.22" rx="0.8" fill="#36494b" stroke="#33d6d0" stroke-width="0.8"/>
<line x1="304.91" x2="308.31" y1="279.28" y2="279.28" stroke="#33d6d0" stroke-width="0.5"/>
<text x="304.91" y="302.6"  font-size="4.8" fill="#d4d4d4" text-anchor="middle" >7</text>
<line x1="315.36" x2="315.36" y1="266.11" y2="294.47" stroke="#e3d93a" stroke-width="0.9"/>
<rect x="313.56" y="272.88" width="3.6" height="10.98" rx="0.8" fill="#4c4b38" stroke="#e3d93a" stroke-width="0.8"/>
<line x1="313.56" x2="317.16" y1="278.37" y2="278.37" stroke="#e3d93a" stroke-width="0.5"/>
<line x1="318.86" x2="318.86" y1="268.85" y2="282.39" stroke="#33d6d0" stroke-width="0.9"/>
<rect x="317.16" y="276.54" width="3.4" height="5.86" rx="0.8" fill="#36494b" stroke="#33d6d0" stroke-width="0.8"/>
<line x1="317.16" x2="320.56" y1="279.46" y2="279.46" stroke="#33d6d0" stroke-width="0.5"/>
<text x="317.16" y="302.6"  font-size="4.8" fill="#d4d4d4" text-anchor="middle" >8</text>
<line x1="327.6" x2="327.6" y1="265.19" y2="294.47" stroke="#e3d93a" stroke-width="0.9"/>
<rect x="325.8" y="272.88" width="3.6" height="10.98" rx="0.8" fill="#4c4b38" stroke="#e3d93a" stroke-width="0.8"/>
<line x1="325.8" x2="329.4" y1="278.37" y2="278.37" stroke="#e3d93a" stroke-width="0.5"/>
<line x1="331.1" x2="331.1" y1="267.94" y2="282.39" stroke="#33d6d0" stroke-width="0.9"/>
<rect x="329.4" y="276.17" width="3.4" height="6.22" rx="0.8" fill="#36494b" stroke="#33d6d0" stroke-width="0.8"/>
<line x1="329.4" x2="332.8" y1="279.28" y2="279.28" stroke="#33d6d0" stroke-width="0.5"/>
<text x="329.4" y="302.6"  font-size="4.8" fill="#d4d4d4" text-anchor="middle" >9</text>
<line x1="339.85" x2="339.85" y1="264.28" y2="294.47" stroke="#e3d93a" stroke-width="0.9"/>
<rect x="338.05" y="272.88" width="3.6" height="10.98" rx="0.8" fill="#4c4b38" stroke="#e3d93a" stroke-width="0.8"/>
<line x1="338.05" x2="341.65" y1="278.37" y2="278.37" stroke="#e3d93a" stroke-width="0.5"/>
<line x1="343.35" x2="343.35" y1="267.94" y2="282.39" stroke="#33d6d0" stroke-width="0.9"/>
<rect x="341.65" y="275.8" width="3.4" height="6.59" rx="0.8" fill="#36494b" stroke="#33d6d0" stroke-width="0.8"/>
<line x1="341.65" x2="345.05" y1="279.1" y2="279.1" stroke="#33d6d0" stroke-width="0.5"/>
<text x="341.65" y="302.6"  font-size="4.8" fill="#d4d4d4" text-anchor="middle" >10</text>
<line x1="352.09" x2="352.09" y1="261.53" y2="294.47" stroke="#e3d93a" stroke-width="0.9"/>
<rect x="350.29" y="271.05" width="3.6" height="11.71" rx="0.8" fill="#4c4b38" stroke="#e3d93a" stroke-width="0.8"/>
<line x1="350.29" x2="353.89" y1="276.9" y2="276.9" stroke="#e3d93a" stroke-width="0.5"/>
<line x1="355.59" x2="355.59" y1="267.02" y2="282.39" stroke="#33d6d0" stroke-width="0.9"/>
<rect x="353.89" y="275.25" width="3.4" height="7.14" rx="0.8" fill="#36494b" stroke="#33d6d0" stroke-width="0.8"/>
<line x1="353.89" x2="357.29" y1="278.82" y2="278.82" stroke="#33d6d0" stroke-width="0.5"/>
<text x="353.89" y="302.6"  font-size="4.8" fill="#d4d4d4" text-anchor="middle" >11</text>
<line x1="364.34" x2="364.34" y1="258.79" y2="294.47" stroke="#e3d93a" stroke-width="0.9"/>
<rect x="362.54" y="268.48" width="3.6" height="13.91" rx="0.8" fill="#4c4b38" stroke="#e3d93a" stroke-width="0.8"/>
<line x1="362.54" x2="366.14" y1="275.44" y2="275.44" stroke="#e3d93a" stroke-width="0.5"/>
<line x1="367.84" x2="367.84" y1="264.28" y2="282.03" stroke="#33d6d0" stroke-width="0.9"/>
<rect x="366.14" y="272.51" width="3.4" height="9.52" rx="0.8" fill="#36494b" stroke="#33d6d0" stroke-width="0.8"/>
<line x1="366.14" x2="369.54" y1="277.27" y2="277.27" stroke="#33d6d0" stroke-width="0.5"/>
<text x="366.14" y="302.6"  font-size="4.8" fill="#d4d4d4" text-anchor="middle" >12</text>
<line x1="376.58" x2="376.58" y1="253.66" y2="294.47" stroke="#e3d93a" stroke-width="0.9"/>
<rect x="374.78" y="266.11" width="3.6" height="14.46" rx="0.8" fill="#4c4b38" stroke="#e3d93a" stroke-width="0.8"/>
<line x1="374.78" x2="378.38" y1="273.33" y2="273.33" stroke="#e3d93a" stroke-width="0.5"/>
<line x1="380.08" x2="380.08" y1="260.62" y2="282.39" stroke="#33d6d0" stroke-width="0.9"/>
<rect x="378.38" y="270.68" width="3.4" height="11.71" rx="0.8" fill="#36494b" stroke="#33d6d0" stroke-width="0.8"/>
<line x1="378.38" x2="381.78" y1="276.54" y2="276.54" stroke="#33d6d0" stroke-width="0.5"/>
<text x="378.38" y="302.6"  font-size="4.8" fill="#d4d4d4" text-anchor="middle" >13</text>
<line x1="388.83" x2="388.83" y1="253.3" y2="294.47" stroke="#e3d93a" stroke-width="0.9"/>
<rect x="387.03" y="267.02" width="3.6" height="16.84" rx="0.8" fill="#4c4b38" stroke="#e3d93a" stroke-width="0.8"/>
<line x1="387.03" x2="390.63" y1="275.44" y2="275.44" stroke="#e3d93a" stroke-width="0.5"/>
<line x1="392.33" x2="392.33" y1="252.93" y2="279.83" stroke="#33d6d0" stroke-width="0.9"/>
<rect x="390.63" y="265.19" width="3.4" height="14.64" rx="0.8" fill="#36494b" stroke="#33d6d0" stroke-width="0.8"/>
<line x1="390.63" x2="394.03" y1="272.51" y2="272.51" stroke="#33d6d0" stroke-width="0.5"/>
<text x="390.63" y="302.6"  font-size="4.8" fill="#d4d4d4" text-anchor="middle" >14</text>
<line x1="401.07" x2="401.07" y1="257.32" y2="294.47" stroke="#e3d93a" stroke-width="0.9"/>
<rect x="399.27" y="268.85" width="3.6" height="18.3" rx="0.8" fill="#4c4b38" stroke="#e3d93a" stroke-width="0.8"/>
<line x1="399.27" x2="402.88" y1="278" y2="278" stroke="#e3d93a" stroke-width="0.5"/>
<line x1="404.57" x2="404.57" y1="257.87" y2="282.03" stroke="#33d6d0" stroke-width="0.9"/>
<rect x="402.88" y="267.94" width="3.4" height="14.09" rx="0.8" fill="#36494b" stroke="#33d6d0" stroke-width="0.8"/>
<line x1="402.88" x2="406.27" y1="274.98" y2="274.98" stroke="#33d6d0" stroke-width="0.5"/>
<text x="402.88" y="302.6"  font-size="4.8" fill="#d4d4d4" text-anchor="middle" >15</text>
<line x1="413.32" x2="413.32" y1="261.53" y2="294.47" stroke="#e3d93a" stroke-width="0.9"/>
<rect x="411.52" y="270.68" width="3.6" height="16.47" rx="0.8" fill="#4c4b38" stroke="#e3d93a" stroke-width="0.8"/>
<line x1="411.52" x2="415.12" y1="278.92" y2="278.92" stroke="#e3d93a" stroke-width="0.5"/>
<line x1="416.82" x2="416.82" y1="264.28" y2="282.39" stroke="#33d6d0" stroke-width="0.9"/>
<rect x="415.12" y="272.88" width="3.4" height="9.52" rx="0.8" fill="#36494b" stroke="#33d6d0" stroke-width="0.8"/>
<line x1="415.12" x2="418.52" y1="277.63" y2="277.63" stroke="#33d6d0" stroke-width="0.5"/>
<text x="415.12" y="302.6"  font-size="4.8" fill="#d4d4d4" text-anchor="middle" >16</text>
<line x1="425.56" x2="425.56" y1="260.25" y2="294.47" stroke="#e3d93a" stroke-width="0.9"/>
<rect x="423.76" y="269.95" width="3.6" height="17.2" rx="0.8" fill="#4c4b38" stroke="#e3d93a" stroke-width="0.8"/>
<line x1="423.76" x2="427.37" y1="278.55" y2="278.55" stroke="#e3d93a" stroke-width="0.5"/>
<line x1="429.06" x2="429.06" y1="263.36" y2="282.39" stroke="#33d6d0" stroke-width="0.9"/>
<rect x="427.37" y="273.79" width="3.4" height="8.6" rx="0.8" fill="#36494b" stroke="#33d6d0" stroke-width="0.8"/>
<line x1="427.37" x2="430.76" y1="278.09" y2="278.09" stroke="#33d6d0" stroke-width="0.5"/>
<text x="427.37" y="302.6"  font-size="4.8" fill="#d4d4d4" text-anchor="middle" >17</text>
<line x1="437.81" x2="437.81" y1="257.32" y2="294.47" stroke="#e3d93a" stroke-width="0.9"/>
<rect x="436.01" y="269.03" width="3.6" height="18.12" rx="0.8" fill="#4c4b38" stroke="#e3d93a" stroke-width="0.8"/>
<line x1="436.01" x2="439.61" y1="278.09" y2="278.09" stroke="#e3d93a" stroke-width="0.5"/>
<line x1="441.31" x2="441.31" y1="261.53" y2="282.03" stroke="#33d6d0" stroke-width="0.9"/>
<rect x="439.61" y="271.41" width="3.4" height="10.61" rx="0.8" fill="#36494b" stroke="#33d6d0" stroke-width="0.8"/>
<line x1="439.61" x2="443.01" y1="276.72" y2="276.72" stroke="#33d6d0" stroke-width="0.5"/>
<text x="439.61" y="302.6"  font-size="4.8" fill="#d4d4d4" text-anchor="middle" >18</text>
<line x1="450.05" x2="450.05" y1="257.32" y2="294.47" stroke="#e3d93a" stroke-width="0.9"/>
<rect x="448.25" y="269.03" width="3.6" height="18.67" rx="0.8" fill="#4c4b38" stroke="#e3d93a" stroke-width="0.8"/>
<line x1="448.25" x2="451.85" y1="278.37" y2="278.37" stroke="#e3d93a" stroke-width="0.5"/>
<line x1="453.55" x2="453.55" y1="261.16" y2="282.76" stroke="#33d6d0" stroke-width="0.9"/>
<rect x="451.85" y="272.14" width="3.4" height="10.61" rx="0.8" fill="#36494b" stroke="#33d6d0" stroke-width="0.8"/>
<line x1="451.85" x2="455.25" y1="277.45" y2="277.45" stroke="#33d6d0" stroke-width="0.5"/>
<text x="451.85" y="302.6"  font-size="4.8" fill="#d4d4d4" text-anchor="middle" >19</text>
<line x1="462.3" x2="462.3" y1="252.38" y2="294.47" stroke="#e3d93a" stroke-width="0.9"/>
<rect x="460.5" y="267.02" width="3.6" height="18.3" rx="0.8" fill="#4c4b38" stroke="#e3d93a" stroke-width="0.8"/>
<line x1="460.5" x2="464.1" y1="276.17" y2="276.17" stroke="#e3d93a" stroke-width="0.5"/>
<line x1="465.8" x2="465.8" y1="257.32" y2="282.76" stroke="#33d6d0" stroke-width="0.9"/>
<rect x="464.1" y="269.03" width="3.4" height="13.73" rx="0.8" fill="#36494b" stroke="#33d6d0" stroke-width="0.8"/>
<line x1="464.1" x2="467.5" y1="275.9" y2="275.9" stroke="#33d6d0" stroke-width="0.5"/>
<text x="464.1" y="302.6"  font-size="4.8" fill="#d4d4d4" text-anchor="middle" >20</text>
<line x1="474.54" x2="474.54" y1="247.99" y2="294.47" stroke="#e3d93a" stroke-width="0.9"/>
<rect x="472.74" y="263.73" width="3.6" height="19.03" rx="0.8" fill="#4c4b38" stroke="#e3d93a" stroke-width="0.8"/>
<line x1="472.74" x2="476.34" y1="273.24" y2="273.24" stroke="#e3d93a" stroke-width="0.5"/>
<line x1="478.04" x2="478.04" y1="254.21" y2="282.76" stroke="#33d6d0" stroke-width="0.9"/>
<rect x="476.34" y="267.57" width="3.4" height="15.19" rx="0.8" fill="#36494b" stroke="#33d6d0" stroke-width="0.8"/>
<line x1="476.34" x2="479.74" y1="275.16" y2="275.16" stroke="#33d6d0" stroke-width="0.5"/>
<text x="476.34" y="302.6"  font-size="4.8" fill="#d4d4d4" text-anchor="middle" >21</text>
<line x1="486.79" x2="486.79" y1="248.35" y2="294.47" stroke="#e3d93a" stroke-width="0.9"/>
<rect x="484.99" y="263.73" width="3.6" height="18.3" rx="0.8" fill="#4c4b38" stroke="#e3d93a" stroke-width="0.8"/>
<line x1="484.99" x2="488.59" y1="272.88" y2="272.88" stroke="#e3d93a" stroke-width="0.5"/>
<line x1="490.29" x2="490.29" y1="251.28" y2="281.48" stroke="#33d6d0" stroke-width="0.9"/>
<rect x="488.59" y="263.73" width="3.4" height="17.75" rx="0.8" fill="#36494b" stroke="#33d6d0" stroke-width="0.8"/>
<line x1="488.59" x2="491.99" y1="272.6" y2="272.6" stroke="#33d6d0" stroke-width="0.5"/>
<text x="488.59" y="302.6"  font-size="4.8" fill="#d4d4d4" text-anchor="middle" >22</text>
<line x1="499.03" x2="499.03" y1="247.99" y2="294.47" stroke="#e3d93a" stroke-width="0.9"/>
<rect x="497.23" y="262.44" width="3.6" height="18.12" rx="0.8" fill="#4c4b38" stroke="#e3d93a" stroke-width="0.8"/>
<line x1="497.23" x2="500.83" y1="271.5" y2="271.5" stroke="#e3d93a" stroke-width="0.5"/>
<line x1="502.53" x2="502.53" y1="252.38" y2="280.56" stroke="#33d6d0" stroke-width="0.9"/>
<rect x="500.83" y="265.19" width="3.4" height="15.37" rx="0.8" fill="#36494b" stroke="#33d6d0" stroke-width="0.8"/>
<line x1="500.83" x2="504.23" y1="272.88" y2="272.88" stroke="#33d6d0" stroke-width="0.5"/>
<text x="500.83" y="302.6"  font-size="4.8" fill="#d4d4d4" text-anchor="middle" >23</text>
<rect x="511" y="270.5" width="31.7" height="12.2" fill="#111"/>
<circle cx="513.4" cy="273.6" r="2.2" fill="#e8dc2a"/>
<circle cx="513.4" cy="279.3" r="2.2" fill="#2fe0dc"/>
<text x="516.6" y="275.2"  font-size="4.4" fill="#fff" text-anchor="start" font-weight="bold" >Observation</text>
<text x="516.6" y="280.9"  font-size="4.4" fill="#fff" text-anchor="start" font-weight="bold" >Prediction</text>
<circle cx="222.3" cy="248.6" r="7.9" fill="#686868" fill-opacity="0.95"/>
<text x="222.3" y="251.25"  font-size="7.8" font-weight="bold" fill="#fff" text-anchor="middle">(k)</text>
<text x="87.3" y="326.5"  font-size="6.6" fill="#111" text-anchor="middle" >Models accuracy (d)</text>
<rect x="42.7" y="332.8" width="89.3" height="13.6" fill="#0b2a6f" stroke="#222" stroke-width="1"/>
<text x="87.35" y="341.8"  font-size="6.35" fill="#fff" text-anchor="middle" >81% ≤ Accuracy &lt; 100%</text>
<rect x="42.7" y="349" width="89.3" height="13.4" fill="#1f49b8" stroke="#222" stroke-width="1"/>
<text x="87.35" y="357.9"  font-size="6.35" fill="#fff" text-anchor="middle" >61% ≤ Accuracy &lt; 80%</text>
<rect x="42.7" y="364.9" width="89.3" height="13.4" fill="#5b9bb0" stroke="#222" stroke-width="1"/>
<text x="87.35" y="373.8"  font-size="6.35" fill="#fff" text-anchor="middle" >41% ≤ Accuracy &lt; 60%</text>
<rect x="42.7" y="380.6" width="89.3" height="13.2" fill="#b0b0b0" stroke="#222" stroke-width="1"/>
<text x="87.35" y="389.4"  font-size="6.35" fill="#fff" text-anchor="middle" >21 ≤ Accuracy &lt; 40%</text>
<rect x="42.7" y="396.6" width="89.3" height="13.6" fill="#2a2a2a" stroke="#222" stroke-width="1"/>
<text x="87.35" y="405.6"  font-size="6.35" fill="#fff" text-anchor="middle" >0 ≤ Accuracy &lt; 20%</text>
<text x="195.2" y="326.5"  font-size="6.6" fill="#111" text-anchor="middle" >LISA (b), (j)</text>
<rect x="151.2" y="332.8" width="88.8" height="13.6" fill="#ff0000" stroke="#222" stroke-width="1"/>
<text x="195.6" y="341.8"  font-size="6.35" fill="#fff" text-anchor="middle" >High - High</text>
<rect x="151.2" y="349" width="88.8" height="13.4" fill="#ffc0cb" stroke="#222" stroke-width="1"/>
<text x="195.6" y="357.9"  font-size="6.35" fill="#fff" text-anchor="middle" >High - Low</text>
<rect x="151.2" y="364.9" width="88.8" height="13.4" fill="#add8e6" stroke="#222" stroke-width="1"/>
<text x="195.6" y="373.8"  font-size="6.35" fill="#fff" text-anchor="middle" >Low - High</text>
<rect x="151.2" y="380.6" width="88.8" height="13.2" fill="#0000ff" stroke="#222" stroke-width="1"/>
<text x="195.6" y="389.4"  font-size="6.35" fill="#fff" text-anchor="middle" >Low - Low</text>
<rect x="151.2" y="396.6" width="88.8" height="13.6" fill="#d3d3d3" stroke="#222" stroke-width="1"/>
<text x="195.6" y="405.6"  font-size="6.35" fill="#f2f2f2" text-anchor="middle" >Not significant</text>
<linearGradient id="gp" x1="0" x2="1" y1="0" y2="0"><stop offset="0" stop-color="#0a0618"/><stop offset="0.12" stop-color="#2a1a6e"/><stop offset="0.25" stop-color="#4a2acc"/><stop offset="0.36" stop-color="#9a3aa0"/><stop offset="0.48" stop-color="#ff3a2a"/><stop offset="0.6" stop-color="#ff7a10"/><stop offset="0.75" stop-color="#f5c020"/><stop offset="0.88" stop-color="#f8e890"/><stop offset="1" stop-color="#fffbe0"/></linearGradient>
<linearGradient id="gs" x1="0" x2="1" y1="0" y2="0"><stop offset="0" stop-color="#4a0a5a"/><stop offset="0.25" stop-color="#9a38b6"/><stop offset="0.5" stop-color="#a08ade"/><stop offset="0.7" stop-color="#b8ccf2"/><stop offset="1" stop-color="#f0f6fc"/></linearGradient>
<linearGradient id="gg" x1="0" x2="1" y1="0" y2="0"><stop offset="0" stop-color="#000000"/><stop offset="1" stop-color="#ffffff"/></linearGradient>
<rect x="259.2" y="332.9" width="115" height="14.3" fill="url(#gp)" stroke="#111" stroke-width="1"/>
<text x="319" y="326.6"  font-size="6.6" fill="#111" text-anchor="middle" >Prediction (f), Ground truth (g)</text>
<text x="265.2" y="356.6"  font-size="6.8" fill="#111" text-anchor="start" >Min</text>
<text x="369.2" y="356.6"  font-size="6.8" fill="#111" text-anchor="end" >Max</text>
<rect x="259.2" y="384.2" width="115" height="14.3" fill="url(#gs)" stroke="#111" stroke-width="1"/>
<text x="319" y="377.9"  font-size="6.6" fill="#111" text-anchor="middle" >Standard deviation (i)</text>
<text x="265.2" y="407.9"  font-size="6.8" fill="#111" text-anchor="start" >Min</text>
<text x="369.2" y="407.9"  font-size="6.8" fill="#111" text-anchor="end" >Max</text>
<rect x="397.7" y="332.9" width="115.3" height="14.3" fill="url(#gg)" stroke="#111" stroke-width="1"/>
<text x="458" y="326.6"  font-size="6.6" fill="#111" text-anchor="middle" >Residual (h)</text>
<text x="403.7" y="356.6"  font-size="6.8" fill="#111" text-anchor="start" >Min</text>
<text x="508" y="356.6"  font-size="6.8" fill="#111" text-anchor="end" >Max</text>
</svg></body></html>
